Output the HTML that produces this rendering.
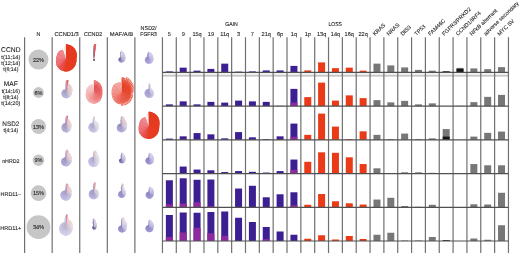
<!DOCTYPE html>
<html><head><meta charset="utf-8"><style>
html,body{margin:0;padding:0;background:#fff;width:520px;height:253px;overflow:hidden}
svg text{font-family:"Liberation Sans",sans-serif;fill:#1f1f1f;stroke:#1f1f1f;stroke-width:0.1px;text-rendering:geometricPrecision}
svg{will-change:transform;filter:blur(0.2px)}
</style></head><body>
<svg width="520" height="253" viewBox="0 0 520 253" style="position:absolute;left:0;top:0">
<rect width="520" height="253" fill="#ffffff"/>
<defs><radialGradient id="g0" gradientUnits="userSpaceOnUse" cx="94.0" cy="60.0" r="16.0"><stop offset="0" stop-color="#000" stop-opacity="0.35"/><stop offset="0.5" stop-color="#000" stop-opacity="0"/><stop offset="0.5" stop-color="#fff" stop-opacity="0"/><stop offset="1" stop-color="#fff" stop-opacity="0.15"/></radialGradient><radialGradient id="g1" gradientUnits="userSpaceOnUse" cx="121.0" cy="59.3" r="9.0"><stop offset="0" stop-color="#000" stop-opacity="0.12"/><stop offset="0.5" stop-color="#000" stop-opacity="0"/><stop offset="0.5" stop-color="#fff" stop-opacity="0"/><stop offset="1" stop-color="#fff" stop-opacity="0.2"/></radialGradient><radialGradient id="g2" gradientUnits="userSpaceOnUse" cx="148.7" cy="59.0" r="7.2"><stop offset="0" stop-color="#000" stop-opacity="0.12"/><stop offset="0.5" stop-color="#000" stop-opacity="0"/><stop offset="0.5" stop-color="#fff" stop-opacity="0"/><stop offset="1" stop-color="#fff" stop-opacity="0.2"/></radialGradient><radialGradient id="g3" gradientUnits="userSpaceOnUse" cx="66.4" cy="92.5" r="12.5"><stop offset="0" stop-color="#000" stop-opacity="0.12"/><stop offset="0.5" stop-color="#000" stop-opacity="0"/><stop offset="0.5" stop-color="#fff" stop-opacity="0"/><stop offset="1" stop-color="#fff" stop-opacity="0.2"/></radialGradient><radialGradient id="g4" gradientUnits="userSpaceOnUse" cx="93.9" cy="92.4" r="12.3"><stop offset="0" stop-color="#000" stop-opacity="0.0"/><stop offset="0.5" stop-color="#000" stop-opacity="0"/><stop offset="0.5" stop-color="#fff" stop-opacity="0"/><stop offset="1" stop-color="#fff" stop-opacity="0.35"/></radialGradient><radialGradient id="g5" gradientUnits="userSpaceOnUse" cx="121.7" cy="92.5" r="16.1"><stop offset="0" stop-color="#000" stop-opacity="0.0"/><stop offset="0.5" stop-color="#000" stop-opacity="0"/><stop offset="0.5" stop-color="#fff" stop-opacity="0"/><stop offset="1" stop-color="#fff" stop-opacity="0.3"/></radialGradient><radialGradient id="g6" gradientUnits="userSpaceOnUse" cx="149.3" cy="93.0" r="10.0"><stop offset="0" stop-color="#000" stop-opacity="0.12"/><stop offset="0.5" stop-color="#000" stop-opacity="0"/><stop offset="0.5" stop-color="#fff" stop-opacity="0"/><stop offset="1" stop-color="#fff" stop-opacity="0.2"/></radialGradient><radialGradient id="g7" gradientUnits="userSpaceOnUse" cx="66.3" cy="126.5" r="10.7"><stop offset="0" stop-color="#000" stop-opacity="0.12"/><stop offset="0.5" stop-color="#000" stop-opacity="0"/><stop offset="0.5" stop-color="#fff" stop-opacity="0"/><stop offset="1" stop-color="#fff" stop-opacity="0.2"/></radialGradient><radialGradient id="g8" gradientUnits="userSpaceOnUse" cx="93.8" cy="126.5" r="10.0"><stop offset="0" stop-color="#000" stop-opacity="0.12"/><stop offset="0.5" stop-color="#000" stop-opacity="0"/><stop offset="0.5" stop-color="#fff" stop-opacity="0"/><stop offset="1" stop-color="#fff" stop-opacity="0.2"/></radialGradient><radialGradient id="g9" gradientUnits="userSpaceOnUse" cx="121.5" cy="126.5" r="10.5"><stop offset="0" stop-color="#000" stop-opacity="0.12"/><stop offset="0.5" stop-color="#000" stop-opacity="0"/><stop offset="0.5" stop-color="#fff" stop-opacity="0"/><stop offset="1" stop-color="#fff" stop-opacity="0.2"/></radialGradient><radialGradient id="g10" gradientUnits="userSpaceOnUse" cx="66.3" cy="160.2" r="10.5"><stop offset="0" stop-color="#000" stop-opacity="0.12"/><stop offset="0.5" stop-color="#000" stop-opacity="0"/><stop offset="0.5" stop-color="#fff" stop-opacity="0"/><stop offset="1" stop-color="#fff" stop-opacity="0.2"/></radialGradient><radialGradient id="g11" gradientUnits="userSpaceOnUse" cx="94.0" cy="160.2" r="9.5"><stop offset="0" stop-color="#000" stop-opacity="0.12"/><stop offset="0.5" stop-color="#000" stop-opacity="0"/><stop offset="0.5" stop-color="#fff" stop-opacity="0"/><stop offset="1" stop-color="#fff" stop-opacity="0.2"/></radialGradient><radialGradient id="g12" gradientUnits="userSpaceOnUse" cx="121.5" cy="160.3" r="7.8"><stop offset="0" stop-color="#000" stop-opacity="0.12"/><stop offset="0.5" stop-color="#000" stop-opacity="0"/><stop offset="0.5" stop-color="#fff" stop-opacity="0"/><stop offset="1" stop-color="#fff" stop-opacity="0.2"/></radialGradient><radialGradient id="g13" gradientUnits="userSpaceOnUse" cx="149.3" cy="160.0" r="7.4"><stop offset="0" stop-color="#000" stop-opacity="0.12"/><stop offset="0.5" stop-color="#000" stop-opacity="0"/><stop offset="0.5" stop-color="#fff" stop-opacity="0"/><stop offset="1" stop-color="#fff" stop-opacity="0.2"/></radialGradient><radialGradient id="g14" gradientUnits="userSpaceOnUse" cx="66.3" cy="193.2" r="9.5"><stop offset="0" stop-color="#000" stop-opacity="0.12"/><stop offset="0.5" stop-color="#000" stop-opacity="0"/><stop offset="0.5" stop-color="#fff" stop-opacity="0"/><stop offset="1" stop-color="#fff" stop-opacity="0.2"/></radialGradient><radialGradient id="g15" gradientUnits="userSpaceOnUse" cx="94.0" cy="193.0" r="10.5"><stop offset="0" stop-color="#000" stop-opacity="0.12"/><stop offset="0.5" stop-color="#000" stop-opacity="0"/><stop offset="0.5" stop-color="#fff" stop-opacity="0"/><stop offset="1" stop-color="#fff" stop-opacity="0.2"/></radialGradient><radialGradient id="g16" gradientUnits="userSpaceOnUse" cx="121.8" cy="193.5" r="9.7"><stop offset="0" stop-color="#000" stop-opacity="0.12"/><stop offset="0.5" stop-color="#000" stop-opacity="0"/><stop offset="0.5" stop-color="#fff" stop-opacity="0"/><stop offset="1" stop-color="#fff" stop-opacity="0.2"/></radialGradient><radialGradient id="g17" gradientUnits="userSpaceOnUse" cx="149.5" cy="194.5" r="7.7"><stop offset="0" stop-color="#000" stop-opacity="0.12"/><stop offset="0.5" stop-color="#000" stop-opacity="0"/><stop offset="0.5" stop-color="#fff" stop-opacity="0"/><stop offset="1" stop-color="#fff" stop-opacity="0.2"/></radialGradient><radialGradient id="g18" gradientUnits="userSpaceOnUse" cx="66.0" cy="227.0" r="12.5"><stop offset="0" stop-color="#000" stop-opacity="0.12"/><stop offset="0.5" stop-color="#000" stop-opacity="0"/><stop offset="0.5" stop-color="#fff" stop-opacity="0"/><stop offset="1" stop-color="#fff" stop-opacity="0.2"/></radialGradient><radialGradient id="g19" gradientUnits="userSpaceOnUse" cx="93.5" cy="227.0" r="8.7"><stop offset="0" stop-color="#000" stop-opacity="0.12"/><stop offset="0.5" stop-color="#000" stop-opacity="0"/><stop offset="0.5" stop-color="#fff" stop-opacity="0"/><stop offset="1" stop-color="#fff" stop-opacity="0.2"/></radialGradient><radialGradient id="g20" gradientUnits="userSpaceOnUse" cx="122.0" cy="228.0" r="10.5"><stop offset="0" stop-color="#000" stop-opacity="0.12"/><stop offset="0.5" stop-color="#000" stop-opacity="0"/><stop offset="0.5" stop-color="#fff" stop-opacity="0"/><stop offset="1" stop-color="#fff" stop-opacity="0.2"/></radialGradient><radialGradient id="g21" gradientUnits="userSpaceOnUse" cx="149.3" cy="228.0" r="8.3"><stop offset="0" stop-color="#000" stop-opacity="0.12"/><stop offset="0.5" stop-color="#000" stop-opacity="0"/><stop offset="0.5" stop-color="#fff" stop-opacity="0"/><stop offset="1" stop-color="#fff" stop-opacity="0.2"/></radialGradient></defs>
<rect x="165.87" y="71.40" width="7.0" height="1.00" fill="#3d1f94"/>
<rect x="179.71" y="67.65" width="7.0" height="4.75" fill="#3d1f94"/>
<rect x="193.55" y="70.65" width="7.0" height="1.75" fill="#3d1f94"/>
<rect x="207.39" y="68.90" width="7.0" height="3.50" fill="#3d1f94"/>
<rect x="221.23" y="63.65" width="7.0" height="8.75" fill="#3d1f94"/>
<rect x="235.07" y="71.65" width="7.0" height="0.75" fill="#3d1f94"/>
<rect x="248.91" y="71.40" width="7.0" height="1.00" fill="#3d1f94"/>
<rect x="262.75" y="70.40" width="7.0" height="2.00" fill="#3d1f94"/>
<rect x="276.59" y="70.40" width="7.0" height="2.00" fill="#3d1f94"/>
<rect x="290.43" y="65.90" width="7.0" height="6.50" fill="#3d1f94"/>
<rect x="304.27" y="70.40" width="7.0" height="2.00" fill="#ea3a17"/>
<rect x="318.11" y="62.40" width="7.0" height="10.00" fill="#ea3a17"/>
<rect x="331.95" y="68.15" width="7.0" height="4.25" fill="#ea3a17"/>
<rect x="345.79" y="67.65" width="7.0" height="4.75" fill="#ea3a17"/>
<rect x="359.63" y="70.65" width="7.0" height="1.75" fill="#ea3a17"/>
<rect x="373.47" y="63.65" width="7.0" height="8.75" fill="#777777"/>
<rect x="387.31" y="65.40" width="7.0" height="7.00" fill="#777777"/>
<rect x="401.15" y="67.40" width="7.0" height="5.00" fill="#777777"/>
<rect x="414.99" y="69.90" width="7.0" height="2.50" fill="#777777"/>
<rect x="428.83" y="70.65" width="7.0" height="1.75" fill="#777777"/>
<rect x="442.67" y="71.40" width="7.0" height="1.00" fill="#777777"/>
<rect x="442.67" y="71.40" width="7.0" height="1.00" fill="#151515"/>
<rect x="456.51" y="67.90" width="7.0" height="4.50" fill="#777777"/>
<rect x="456.51" y="68.80" width="7.0" height="3.60" fill="#151515"/>
<rect x="470.35" y="68.40" width="7.0" height="4.00" fill="#777777"/>
<rect x="484.19" y="69.15" width="7.0" height="3.25" fill="#777777"/>
<rect x="498.03" y="67.15" width="7.0" height="5.25" fill="#777777"/>
<rect x="165.87" y="104.37" width="7.0" height="1.75" fill="#3d1f94"/>
<rect x="179.71" y="101.37" width="7.0" height="4.75" fill="#3d1f94"/>
<rect x="193.55" y="104.37" width="7.0" height="1.75" fill="#3d1f94"/>
<rect x="207.39" y="101.87" width="7.0" height="4.25" fill="#3d1f94"/>
<rect x="221.23" y="102.62" width="7.0" height="3.50" fill="#3d1f94"/>
<rect x="235.07" y="100.62" width="7.0" height="5.50" fill="#3d1f94"/>
<rect x="248.91" y="101.37" width="7.0" height="4.75" fill="#3d1f94"/>
<rect x="262.75" y="101.87" width="7.0" height="4.25" fill="#3d1f94"/>
<rect x="276.59" y="105.87" width="7.0" height="0.25" fill="#3d1f94"/>
<rect x="290.43" y="88.87" width="7.0" height="17.25" fill="#3d1f94"/>
<rect x="290.43" y="102.62" width="7.0" height="3.50" fill="#8f2a9e"/>
<rect x="304.27" y="97.12" width="7.0" height="9.00" fill="#ea3a17"/>
<rect x="318.11" y="82.62" width="7.0" height="23.50" fill="#ea3a17"/>
<rect x="331.95" y="100.62" width="7.0" height="5.50" fill="#ea3a17"/>
<rect x="345.79" y="95.37" width="7.0" height="10.75" fill="#ea3a17"/>
<rect x="359.63" y="98.12" width="7.0" height="8.00" fill="#ea3a17"/>
<rect x="373.47" y="100.12" width="7.0" height="6.00" fill="#777777"/>
<rect x="387.31" y="102.37" width="7.0" height="3.75" fill="#777777"/>
<rect x="401.15" y="100.87" width="7.0" height="5.25" fill="#777777"/>
<rect x="414.99" y="104.37" width="7.0" height="1.75" fill="#777777"/>
<rect x="428.83" y="103.37" width="7.0" height="2.75" fill="#777777"/>
<rect x="456.51" y="105.87" width="7.0" height="0.25" fill="#777777"/>
<rect x="470.35" y="102.12" width="7.0" height="4.00" fill="#777777"/>
<rect x="484.19" y="96.87" width="7.0" height="9.25" fill="#777777"/>
<rect x="498.03" y="94.87" width="7.0" height="11.25" fill="#777777"/>
<rect x="165.87" y="138.59" width="7.0" height="1.25" fill="#3d1f94"/>
<rect x="179.71" y="136.34" width="7.0" height="3.50" fill="#3d1f94"/>
<rect x="193.55" y="133.09" width="7.0" height="6.75" fill="#3d1f94"/>
<rect x="207.39" y="134.34" width="7.0" height="5.50" fill="#3d1f94"/>
<rect x="221.23" y="138.34" width="7.0" height="1.50" fill="#3d1f94"/>
<rect x="235.07" y="132.09" width="7.0" height="7.75" fill="#3d1f94"/>
<rect x="248.91" y="137.34" width="7.0" height="2.50" fill="#3d1f94"/>
<rect x="262.75" y="139.09" width="7.0" height="0.75" fill="#3d1f94"/>
<rect x="276.59" y="136.34" width="7.0" height="3.50" fill="#3d1f94"/>
<rect x="290.43" y="123.59" width="7.0" height="16.25" fill="#3d1f94"/>
<rect x="290.43" y="136.84" width="7.0" height="3.00" fill="#8f2a9e"/>
<rect x="304.27" y="134.84" width="7.0" height="5.00" fill="#ea3a17"/>
<rect x="318.11" y="113.59" width="7.0" height="26.25" fill="#ea3a17"/>
<rect x="331.95" y="126.59" width="7.0" height="13.25" fill="#ea3a17"/>
<rect x="345.79" y="139.09" width="7.0" height="0.75" fill="#ea3a17"/>
<rect x="359.63" y="131.34" width="7.0" height="8.50" fill="#ea3a17"/>
<rect x="373.47" y="134.84" width="7.0" height="5.00" fill="#777777"/>
<rect x="387.31" y="139.09" width="7.0" height="0.75" fill="#777777"/>
<rect x="401.15" y="133.59" width="7.0" height="6.25" fill="#777777"/>
<rect x="414.99" y="139.09" width="7.0" height="0.75" fill="#777777"/>
<rect x="428.83" y="138.34" width="7.0" height="1.50" fill="#777777"/>
<rect x="442.67" y="129.09" width="7.0" height="10.75" fill="#777777"/>
<rect x="442.67" y="136.59" width="7.0" height="3.25" fill="#151515"/>
<rect x="470.35" y="136.59" width="7.0" height="3.25" fill="#777777"/>
<rect x="484.19" y="132.84" width="7.0" height="7.00" fill="#777777"/>
<rect x="498.03" y="131.59" width="7.0" height="8.25" fill="#777777"/>
<rect x="179.71" y="166.56" width="7.0" height="7.00" fill="#3d1f94"/>
<rect x="193.55" y="169.56" width="7.0" height="4.00" fill="#3d1f94"/>
<rect x="207.39" y="170.31" width="7.0" height="3.25" fill="#3d1f94"/>
<rect x="221.23" y="172.06" width="7.0" height="1.50" fill="#3d1f94"/>
<rect x="235.07" y="171.06" width="7.0" height="2.50" fill="#3d1f94"/>
<rect x="248.91" y="171.81" width="7.0" height="1.75" fill="#3d1f94"/>
<rect x="262.75" y="172.56" width="7.0" height="1.00" fill="#3d1f94"/>
<rect x="276.59" y="171.06" width="7.0" height="2.50" fill="#3d1f94"/>
<rect x="290.43" y="159.56" width="7.0" height="14.00" fill="#3d1f94"/>
<rect x="290.43" y="169.81" width="7.0" height="3.75" fill="#8f2a9e"/>
<rect x="304.27" y="161.81" width="7.0" height="11.75" fill="#ea3a17"/>
<rect x="318.11" y="152.31" width="7.0" height="21.25" fill="#ea3a17"/>
<rect x="331.95" y="152.81" width="7.0" height="20.75" fill="#ea3a17"/>
<rect x="345.79" y="157.31" width="7.0" height="16.25" fill="#ea3a17"/>
<rect x="359.63" y="164.06" width="7.0" height="9.50" fill="#ea3a17"/>
<rect x="373.47" y="168.31" width="7.0" height="5.25" fill="#777777"/>
<rect x="387.31" y="173.06" width="7.0" height="0.50" fill="#777777"/>
<rect x="401.15" y="172.31" width="7.0" height="1.25" fill="#777777"/>
<rect x="414.99" y="172.31" width="7.0" height="1.25" fill="#777777"/>
<rect x="428.83" y="172.81" width="7.0" height="0.75" fill="#777777"/>
<rect x="442.67" y="173.06" width="7.0" height="0.50" fill="#777777"/>
<rect x="456.51" y="173.31" width="7.0" height="0.25" fill="#777777"/>
<rect x="470.35" y="164.06" width="7.0" height="9.50" fill="#777777"/>
<rect x="484.19" y="165.31" width="7.0" height="8.25" fill="#777777"/>
<rect x="498.03" y="165.31" width="7.0" height="8.25" fill="#777777"/>
<rect x="165.87" y="180.28" width="7.0" height="27.00" fill="#3d1f94"/>
<rect x="165.87" y="204.28" width="7.0" height="3.00" fill="#8f2a9e"/>
<rect x="179.71" y="178.28" width="7.0" height="29.00" fill="#3d1f94"/>
<rect x="179.71" y="203.53" width="7.0" height="3.75" fill="#8f2a9e"/>
<rect x="193.55" y="179.78" width="7.0" height="27.50" fill="#3d1f94"/>
<rect x="193.55" y="202.28" width="7.0" height="5.00" fill="#8f2a9e"/>
<rect x="207.39" y="179.53" width="7.0" height="27.75" fill="#3d1f94"/>
<rect x="207.39" y="206.28" width="7.0" height="1.00" fill="#8f2a9e"/>
<rect x="235.07" y="188.53" width="7.0" height="18.75" fill="#3d1f94"/>
<rect x="248.91" y="185.78" width="7.0" height="21.50" fill="#3d1f94"/>
<rect x="262.75" y="197.28" width="7.0" height="10.00" fill="#3d1f94"/>
<rect x="276.59" y="194.28" width="7.0" height="13.00" fill="#3d1f94"/>
<rect x="290.43" y="192.28" width="7.0" height="15.00" fill="#3d1f94"/>
<rect x="290.43" y="205.28" width="7.0" height="2.00" fill="#8f2a9e"/>
<rect x="304.27" y="204.78" width="7.0" height="2.50" fill="#ea3a17"/>
<rect x="318.11" y="194.03" width="7.0" height="13.25" fill="#ea3a17"/>
<rect x="331.95" y="201.28" width="7.0" height="6.00" fill="#ea3a17"/>
<rect x="345.79" y="203.28" width="7.0" height="4.00" fill="#ea3a17"/>
<rect x="359.63" y="204.53" width="7.0" height="2.75" fill="#ea3a17"/>
<rect x="373.47" y="199.53" width="7.0" height="7.75" fill="#777777"/>
<rect x="387.31" y="197.78" width="7.0" height="9.50" fill="#777777"/>
<rect x="401.15" y="206.03" width="7.0" height="1.25" fill="#777777"/>
<rect x="414.99" y="206.78" width="7.0" height="0.50" fill="#777777"/>
<rect x="428.83" y="204.78" width="7.0" height="2.50" fill="#777777"/>
<rect x="470.35" y="204.28" width="7.0" height="3.00" fill="#777777"/>
<rect x="484.19" y="204.53" width="7.0" height="2.75" fill="#777777"/>
<rect x="498.03" y="192.78" width="7.0" height="14.50" fill="#777777"/>
<rect x="165.87" y="215.00" width="7.0" height="26.00" fill="#3d1f94"/>
<rect x="165.87" y="237.00" width="7.0" height="4.00" fill="#8f2a9e"/>
<rect x="179.71" y="212.50" width="7.0" height="28.50" fill="#3d1f94"/>
<rect x="179.71" y="232.50" width="7.0" height="8.50" fill="#8f2a9e"/>
<rect x="193.55" y="212.75" width="7.0" height="28.25" fill="#3d1f94"/>
<rect x="193.55" y="227.75" width="7.0" height="13.25" fill="#8f2a9e"/>
<rect x="207.39" y="212.00" width="7.0" height="29.00" fill="#3d1f94"/>
<rect x="207.39" y="233.25" width="7.0" height="7.75" fill="#8f2a9e"/>
<rect x="221.23" y="211.50" width="7.0" height="29.50" fill="#3d1f94"/>
<rect x="221.23" y="235.75" width="7.0" height="5.25" fill="#8f2a9e"/>
<rect x="235.07" y="217.75" width="7.0" height="23.25" fill="#3d1f94"/>
<rect x="248.91" y="222.00" width="7.0" height="19.00" fill="#3d1f94"/>
<rect x="262.75" y="227.00" width="7.0" height="14.00" fill="#3d1f94"/>
<rect x="262.75" y="239.00" width="7.0" height="2.00" fill="#8f2a9e"/>
<rect x="276.59" y="231.50" width="7.0" height="9.50" fill="#3d1f94"/>
<rect x="290.43" y="234.75" width="7.0" height="6.25" fill="#3d1f94"/>
<rect x="304.27" y="238.75" width="7.0" height="2.25" fill="#ea3a17"/>
<rect x="318.11" y="235.25" width="7.0" height="5.75" fill="#ea3a17"/>
<rect x="331.95" y="239.50" width="7.0" height="1.50" fill="#ea3a17"/>
<rect x="345.79" y="236.00" width="7.0" height="5.00" fill="#ea3a17"/>
<rect x="359.63" y="239.00" width="7.0" height="2.00" fill="#ea3a17"/>
<rect x="373.47" y="234.75" width="7.0" height="6.25" fill="#777777"/>
<rect x="387.31" y="232.75" width="7.0" height="8.25" fill="#777777"/>
<rect x="401.15" y="240.50" width="7.0" height="0.50" fill="#777777"/>
<rect x="414.99" y="240.50" width="7.0" height="0.50" fill="#777777"/>
<rect x="428.83" y="237.00" width="7.0" height="4.00" fill="#777777"/>
<rect x="442.67" y="240.25" width="7.0" height="0.75" fill="#777777"/>
<rect x="442.67" y="240.25" width="7.0" height="0.75" fill="#151515"/>
<rect x="470.35" y="238.50" width="7.0" height="2.50" fill="#777777"/>
<rect x="484.19" y="239.75" width="7.0" height="1.25" fill="#777777"/>
<rect x="498.03" y="225.25" width="7.0" height="15.75" fill="#777777"/>
<rect x="162.45" y="73.2" width="346.00" height="2.4" fill="#eeeeee"/>
<rect x="162.45" y="75.4" width="346.00" height="1.0" fill="#a8a8a8"/>
<line x1="24.60" y1="37.2" x2="24.60" y2="253" stroke="#707070" stroke-width="1.2"/>
<line x1="52.17" y1="37.2" x2="52.17" y2="253" stroke="#707070" stroke-width="1.2"/>
<line x1="79.74" y1="37.2" x2="79.74" y2="253" stroke="#707070" stroke-width="1.2"/>
<line x1="107.31" y1="37.2" x2="107.31" y2="253" stroke="#707070" stroke-width="1.2"/>
<line x1="134.88" y1="37.2" x2="134.88" y2="253" stroke="#707070" stroke-width="1.2"/>
<line x1="162.45" y1="37.2" x2="162.45" y2="253" stroke="#707070" stroke-width="1.2"/>
<line x1="176.29" y1="37.2" x2="176.29" y2="253" stroke="#707070" stroke-width="1.2"/>
<line x1="190.13" y1="37.2" x2="190.13" y2="253" stroke="#707070" stroke-width="1.2"/>
<line x1="203.97" y1="37.2" x2="203.97" y2="253" stroke="#707070" stroke-width="1.2"/>
<line x1="217.81" y1="37.2" x2="217.81" y2="253" stroke="#707070" stroke-width="1.2"/>
<line x1="231.65" y1="37.2" x2="231.65" y2="253" stroke="#707070" stroke-width="1.2"/>
<line x1="245.49" y1="37.2" x2="245.49" y2="253" stroke="#707070" stroke-width="1.2"/>
<line x1="259.33" y1="37.2" x2="259.33" y2="253" stroke="#707070" stroke-width="1.2"/>
<line x1="273.17" y1="37.2" x2="273.17" y2="253" stroke="#707070" stroke-width="1.2"/>
<line x1="287.01" y1="37.2" x2="287.01" y2="253" stroke="#707070" stroke-width="1.2"/>
<line x1="300.85" y1="37.2" x2="300.85" y2="253" stroke="#707070" stroke-width="1.2"/>
<line x1="314.69" y1="37.2" x2="314.69" y2="253" stroke="#707070" stroke-width="1.2"/>
<line x1="328.53" y1="37.2" x2="328.53" y2="253" stroke="#707070" stroke-width="1.2"/>
<line x1="342.37" y1="37.2" x2="342.37" y2="253" stroke="#707070" stroke-width="1.2"/>
<line x1="356.21" y1="37.2" x2="356.21" y2="253" stroke="#707070" stroke-width="1.2"/>
<line x1="370.05" y1="37.2" x2="370.05" y2="253" stroke="#707070" stroke-width="1.2"/>
<line x1="383.89" y1="37.2" x2="383.89" y2="253" stroke="#707070" stroke-width="1.2"/>
<line x1="397.73" y1="37.2" x2="397.73" y2="253" stroke="#707070" stroke-width="1.2"/>
<line x1="411.57" y1="37.2" x2="411.57" y2="253" stroke="#707070" stroke-width="1.2"/>
<line x1="425.41" y1="37.2" x2="425.41" y2="253" stroke="#707070" stroke-width="1.2"/>
<line x1="439.25" y1="37.2" x2="439.25" y2="253" stroke="#707070" stroke-width="1.2"/>
<line x1="453.09" y1="37.2" x2="453.09" y2="253" stroke="#707070" stroke-width="1.2"/>
<line x1="466.93" y1="37.2" x2="466.93" y2="253" stroke="#707070" stroke-width="1.2"/>
<line x1="480.77" y1="37.2" x2="480.77" y2="253" stroke="#707070" stroke-width="1.2"/>
<line x1="494.61" y1="37.2" x2="494.61" y2="253" stroke="#707070" stroke-width="1.2"/>
<line x1="508.45" y1="37.2" x2="508.45" y2="253" stroke="#707070" stroke-width="1.2"/>
<line x1="162.45" y1="72.40" x2="508.45" y2="72.40" stroke="#505050" stroke-width="1.2"/>
<line x1="162.45" y1="106.12" x2="508.45" y2="106.12" stroke="#505050" stroke-width="1.2"/>
<line x1="162.45" y1="139.84" x2="508.45" y2="139.84" stroke="#505050" stroke-width="1.2"/>
<line x1="162.45" y1="173.56" x2="508.45" y2="173.56" stroke="#505050" stroke-width="1.2"/>
<line x1="162.45" y1="207.28" x2="508.45" y2="207.28" stroke="#505050" stroke-width="1.2"/>
<line x1="162.45" y1="241.00" x2="508.45" y2="241.00" stroke="#505050" stroke-width="1.2"/>
<circle cx="38.5" cy="59.6" r="10.0" fill="#c6c6c6"/>
<text x="38.5" y="61.60" text-anchor="middle" font-size="5.6" fill="#333">22%</text>
<circle cx="38.5" cy="92.5" r="5.4" fill="#c6c6c6"/>
<text x="38.5" y="94.50" text-anchor="middle" font-size="5.6" fill="#333">6%</text>
<circle cx="38.5" cy="126.5" r="7.5" fill="#c6c6c6"/>
<text x="38.5" y="128.50" text-anchor="middle" font-size="5.6" fill="#333">13%</text>
<circle cx="38.5" cy="160.2" r="5.75" fill="#c6c6c6"/>
<text x="38.5" y="162.20" text-anchor="middle" font-size="5.6" fill="#333">9%</text>
<circle cx="38.5" cy="193.2" r="7.85" fill="#c6c6c6"/>
<text x="38.5" y="195.20" text-anchor="middle" font-size="5.6" fill="#333">15%</text>
<circle cx="38.5" cy="227.2" r="11.85" fill="#c6c6c6"/>
<text x="38.5" y="229.20" text-anchor="middle" font-size="5.6" fill="#333">34%</text>
<text x="38.30" y="36.10" font-size="5.6" text-anchor="middle" textLength="3.8" lengthAdjust="spacingAndGlyphs" >N</text>
<text x="66.60" y="36.10" font-size="5.6" text-anchor="middle" textLength="24.4" lengthAdjust="spacingAndGlyphs" >CCND1/3</text>
<text x="93.10" y="36.10" font-size="5.6" text-anchor="middle" textLength="18.3" lengthAdjust="spacingAndGlyphs" >CCND2</text>
<text x="121.50" y="36.10" font-size="5.6" text-anchor="middle" textLength="23.3" lengthAdjust="spacingAndGlyphs" >MAF/A/B</text>
<text x="148.60" y="29.50" font-size="5.6" text-anchor="middle" textLength="16.0" lengthAdjust="spacingAndGlyphs" >NSD2/</text>
<text x="148.60" y="36.10" font-size="5.6" text-anchor="middle" textLength="16.5" lengthAdjust="spacingAndGlyphs" >FGFR3</text>
<text x="231.50" y="25.80" font-size="5.6" text-anchor="middle" textLength="12.6" lengthAdjust="spacingAndGlyphs" >GAIN</text>
<text x="335.20" y="25.80" font-size="5.6" text-anchor="middle" textLength="13.5" lengthAdjust="spacingAndGlyphs" >LOSS</text>
<text x="169.37" y="36.10" font-size="5.6" text-anchor="middle" >5</text>
<text x="183.21" y="36.10" font-size="5.6" text-anchor="middle" >9</text>
<text x="197.05" y="36.10" font-size="5.6" text-anchor="middle" >15q</text>
<text x="210.89" y="36.10" font-size="5.6" text-anchor="middle" >19</text>
<text x="224.73" y="36.10" font-size="5.6" text-anchor="middle" >11q</text>
<text x="238.57" y="36.10" font-size="5.6" text-anchor="middle" >3</text>
<text x="252.41" y="36.10" font-size="5.6" text-anchor="middle" >7</text>
<text x="266.25" y="36.10" font-size="5.6" text-anchor="middle" >21q</text>
<text x="280.09" y="36.10" font-size="5.6" text-anchor="middle" >6p</text>
<text x="293.93" y="36.10" font-size="5.6" text-anchor="middle" >1q</text>
<text x="307.77" y="36.10" font-size="5.6" text-anchor="middle" >1p</text>
<text x="321.61" y="36.10" font-size="5.6" text-anchor="middle" >13q</text>
<text x="335.45" y="36.10" font-size="5.6" text-anchor="middle" >14q</text>
<text x="349.29" y="36.10" font-size="5.6" text-anchor="middle" >16q</text>
<text x="363.13" y="36.10" font-size="5.6" text-anchor="middle" >22q</text>
<text x="374.95" y="36.00" font-size="5.5" transform="rotate(-44 374.95 36.00)">KRAS</text>
<text x="388.79" y="36.00" font-size="5.5" transform="rotate(-44 388.79 36.00)">NRAS</text>
<text x="402.63" y="36.00" font-size="5.5" transform="rotate(-44 402.63 36.00)">DIS3</text>
<text x="416.47" y="36.00" font-size="5.5" transform="rotate(-44 416.47 36.00)">TP53</text>
<text x="430.31" y="36.00" font-size="5.5" transform="rotate(-44 430.31 36.00)">FAM46C</text>
<text x="444.15" y="36.00" font-size="5.5" transform="rotate(-44 444.15 36.00)">FGFR3/PRKD2</text>
<text x="457.99" y="36.00" font-size="5.5" transform="rotate(-44 457.99 36.00)">CCND1/IRF4</text>
<text x="471.83" y="36.00" font-size="5.5" transform="rotate(-44 471.83 36.00)">NFκB aberrant</text>
<text x="485.67" y="36.00" font-size="5.5" transform="rotate(-44 485.67 36.00)">adverse secondary</text>
<text x="499.51" y="36.00" font-size="5.5" transform="rotate(-44 499.51 36.00)">MYC SV</text>
<text x="10.80" y="52.00" font-size="7.0" text-anchor="middle" textLength="19.4" lengthAdjust="spacingAndGlyphs" >CCND</text>
<text x="10.80" y="58.70" font-size="5.5" text-anchor="middle" textLength="18.9" lengthAdjust="spacingAndGlyphs" >t(11;14)</text>
<text x="10.80" y="64.90" font-size="5.5" text-anchor="middle" textLength="18.9" lengthAdjust="spacingAndGlyphs" >t(12;14)</text>
<text x="10.80" y="71.00" font-size="5.5" text-anchor="middle" textLength="15.2" lengthAdjust="spacingAndGlyphs" >t(6;14)</text>
<text x="10.80" y="86.40" font-size="6.7" text-anchor="middle" textLength="13.9" lengthAdjust="spacingAndGlyphs" >MAF</text>
<text x="10.80" y="93.00" font-size="5.5" text-anchor="middle" textLength="18.3" lengthAdjust="spacingAndGlyphs" >t(14;16)</text>
<text x="10.80" y="99.30" font-size="5.5" text-anchor="middle" textLength="15.2" lengthAdjust="spacingAndGlyphs" >t(8;14)</text>
<text x="10.80" y="105.30" font-size="5.5" text-anchor="middle" textLength="19.1" lengthAdjust="spacingAndGlyphs" >t(14;20)</text>
<text x="10.80" y="126.30" font-size="6.4" text-anchor="middle" textLength="16.9" lengthAdjust="spacingAndGlyphs" >NSD2</text>
<text x="10.80" y="132.20" font-size="5.5" text-anchor="middle" textLength="14.8" lengthAdjust="spacingAndGlyphs" >t(4;14)</text>
<text x="10.80" y="162.60" font-size="5.4" text-anchor="middle" textLength="17.3" lengthAdjust="spacingAndGlyphs" >nHRD2</text>
<text x="10.80" y="196.00" font-size="5.4" text-anchor="middle" textLength="20.5" lengthAdjust="spacingAndGlyphs" >HRD11–</text>
<text x="10.80" y="230.00" font-size="5.4" text-anchor="middle" textLength="20.9" lengthAdjust="spacingAndGlyphs" >HRD11+</text>
<path d="M65.9,59.0L65.9,44.2A14.8,14.8 0 0 1 67.2,44.3L67.2,44.4A14.7,14.7 0 0 1 68.4,44.6L68.4,44.7A14.6,14.6 0 0 1 69.7,44.9L69.6,45.1A14.4,14.4 0 0 1 70.8,45.5L70.8,45.6A14.2,14.2 0 0 1 71.9,46.1L71.9,46.2A14.1,14.1 0 0 1 72.9,46.8L72.8,47.0A13.9,13.9 0 0 1 73.9,47.6L73.7,47.8A13.7,13.7 0 0 1 74.7,48.5L74.5,48.7A13.4,13.4 0 0 1 75.4,49.5L75.2,49.7A13.1,13.1 0 0 1 76.0,50.6L75.7,50.8A12.8,12.8 0 0 1 76.4,51.7L76.1,51.8A12.5,12.5 0 0 1 76.7,52.8L76.4,52.9A12.1,12.1 0 0 1 76.9,53.9L76.6,54.0A11.8,11.8 0 0 1 77.0,55.0L76.7,55.1A11.5,11.5 0 0 1 77.0,56.0L76.7,56.1A11.2,11.2 0 0 1 76.9,57.1L76.7,57.1A10.9,10.9 0 0 1 76.8,58.0L76.6,58.1A10.7,10.7 0 0 1 76.6,59.0L76.5,59.0A10.6,10.6 0 0 1 76.5,59.9L76.6,59.9A10.7,10.7 0 0 1 76.4,60.9L76.5,60.9A10.8,10.8 0 0 1 76.3,61.8L76.4,61.8A10.9,10.9 0 0 1 76.1,62.7L76.2,62.8A11.0,11.0 0 0 1 75.9,63.6L76.0,63.7A11.1,11.1 0 0 1 75.5,64.6L75.7,64.6A11.3,11.3 0 0 1 75.1,65.5L75.3,65.6A11.4,11.4 0 0 1 74.7,66.4L74.8,66.5A11.6,11.6 0 0 1 74.1,67.2L74.2,67.3A11.8,11.8 0 0 1 73.5,68.0L73.5,68.1A11.9,11.9 0 0 1 72.7,68.7L72.8,68.9A12.0,12.0 0 0 1 71.9,69.4L72.0,69.5A12.2,12.2 0 0 1 71.0,70.0L71.1,70.1A12.2,12.2 0 0 1 70.1,70.5L70.1,70.6A12.3,12.3 0 0 1 69.1,70.9L69.1,71.0A12.4,12.4 0 0 1 68.1,71.2L68.1,71.3A12.4,12.4 0 0 1 67.0,71.4L67.0,71.4A12.5,12.5 0 0 1 65.9,71.5L65.9,71.5A12.5,12.5 0 0 1 64.8,71.4L64.8,71.4A12.4,12.4 0 0 1 63.7,71.2L63.8,71.1A12.3,12.3 0 0 1 62.7,70.9L62.7,70.8A12.2,12.2 0 0 1 61.7,70.5L61.7,70.4A12.2,12.2 0 0 1 60.8,70.0L60.8,69.9A12.1,12.1 0 0 1 59.9,69.4L59.9,69.3A11.9,11.9 0 0 1 59.1,68.8L59.1,68.7A11.8,11.8 0 0 1 58.3,68.0L58.4,67.9A11.7,11.7 0 0 1 57.7,67.2L57.8,67.1A11.5,11.5 0 0 1 57.1,66.4L57.2,66.3A11.3,11.3 0 0 1 56.6,65.5L56.8,65.4A11.1,11.1 0 0 1 56.3,64.6L56.5,64.4A10.9,10.9 0 0 1 56.1,63.6L56.3,63.5A10.6,10.6 0 0 1 55.9,62.6L56.2,62.5A10.3,10.3 0 0 1 55.9,61.7L56.1,61.6A10.1,10.1 0 0 1 55.9,60.8L56.1,60.7A10.0,10.0 0 0 1 55.9,59.9L56.1,59.9A9.9,9.9 0 0 1 56.0,59.0L56.1,59.0A9.8,9.8 0 0 1 56.2,58.1L56.2,58.2A9.8,9.8 0 0 1 56.3,57.3L56.3,57.3A9.7,9.7 0 0 1 56.5,56.5L56.5,56.5A9.7,9.7 0 0 1 56.8,55.7L56.7,55.7A9.8,9.8 0 0 1 57.1,54.9L57.0,54.9A9.8,9.8 0 0 1 57.4,54.1L57.4,54.1A9.9,9.9 0 0 1 57.8,53.3L57.7,53.3A10.0,10.0 0 0 1 58.2,52.6L58.1,52.5A10.1,10.1 0 0 1 58.7,51.8L58.7,51.8A10.2,10.2 0 0 1 59.4,51.2L59.4,51.3A10.1,10.1 0 0 1 60.1,50.7L60.1,50.8A10.0,10.0 0 0 1 60.9,50.3L60.9,50.4A9.9,9.9 0 0 1 61.7,50.0L61.8,50.2A9.8,9.8 0 0 1 62.6,49.8L62.6,49.9A9.6,9.6 0 0 1 62.9,49.8Z" fill="#e74e3e"/>
<path d="M65.9,59.0L65.9,44.2A14.8,14.8 0 0 1 67.2,44.3L67.2,44.4A14.7,14.7 0 0 1 68.4,44.6L68.4,44.7A14.6,14.6 0 0 1 69.7,44.9L69.6,45.1A14.4,14.4 0 0 1 70.8,45.5L70.8,45.6A14.2,14.2 0 0 1 71.9,46.1Z" fill="#e4381c"/>
<path d="M65.9,59.0L71.9,46.2A14.1,14.1 0 0 1 72.9,46.8L72.8,47.0A13.9,13.9 0 0 1 73.9,47.6L73.7,47.8A13.7,13.7 0 0 1 74.7,48.5L74.5,48.7A13.4,13.4 0 0 1 75.4,49.5L75.2,49.7A13.1,13.1 0 0 1 76.0,50.6L75.7,50.8A12.8,12.8 0 0 1 76.4,51.7L76.1,51.8A12.5,12.5 0 0 1 76.7,52.8L76.4,52.9A12.1,12.1 0 0 1 76.9,53.9Z" fill="#e4391e"/>
<path d="M65.9,59.0L76.6,54.0A11.8,11.8 0 0 1 77.0,55.0L76.7,55.1A11.5,11.5 0 0 1 77.0,56.0L76.7,56.1A11.2,11.2 0 0 1 76.9,57.1L76.7,57.1A10.9,10.9 0 0 1 76.8,58.0L76.6,58.1A10.7,10.7 0 0 1 76.6,59.0L76.5,59.0A10.6,10.6 0 0 1 76.5,59.9L76.6,59.9A10.7,10.7 0 0 1 76.4,60.9L76.5,60.9A10.8,10.8 0 0 1 76.3,61.8L76.4,61.8A10.9,10.9 0 0 1 76.1,62.7L76.2,62.8A11.0,11.0 0 0 1 75.9,63.6Z" fill="#e53a1f"/>
<path d="M65.9,59.0L76.0,63.7A11.1,11.1 0 0 1 75.5,64.6L75.7,64.6A11.3,11.3 0 0 1 75.1,65.5L75.3,65.6A11.4,11.4 0 0 1 74.7,66.4L74.8,66.5A11.6,11.6 0 0 1 74.1,67.2L74.2,67.3A11.8,11.8 0 0 1 73.5,68.0L73.5,68.1A11.9,11.9 0 0 1 72.7,68.7L72.8,68.9A12.0,12.0 0 0 1 71.9,69.4L72.0,69.5A12.2,12.2 0 0 1 71.0,70.0Z" fill="#e63b20"/>
<path d="M65.9,59.0L71.1,70.1A12.2,12.2 0 0 1 70.1,70.5L70.1,70.6A12.3,12.3 0 0 1 69.1,70.9L69.1,71.0A12.4,12.4 0 0 1 68.1,71.2L68.1,71.3A12.4,12.4 0 0 1 67.0,71.4L67.0,71.4A12.5,12.5 0 0 1 65.9,71.5L65.9,71.5A12.5,12.5 0 0 1 64.8,71.4Z" fill="#e63c22"/>
<path d="M65.9,59.0L64.8,71.4A12.4,12.4 0 0 1 63.7,71.2Z" fill="#e6402c"/>
<path d="M65.9,59.0L63.8,71.1A12.3,12.3 0 0 1 62.7,70.9Z" fill="#e64536"/>
<path d="M65.9,59.0L62.7,70.8A12.2,12.2 0 0 1 61.7,70.5Z" fill="#e74a40"/>
<path d="M65.9,59.0L61.7,70.4A12.2,12.2 0 0 1 60.8,70.0L60.8,69.9A12.1,12.1 0 0 1 59.9,69.4Z" fill="#e74e4a"/>
<path d="M65.9,59.0L59.9,69.3A11.9,11.9 0 0 1 59.1,68.8L59.1,68.7A11.8,11.8 0 0 1 58.3,68.0Z" fill="#e85656"/>
<path d="M65.9,59.0L58.4,67.9A11.7,11.7 0 0 1 57.7,67.2Z" fill="#ea5f61"/>
<path d="M65.9,59.0L57.8,67.1A11.5,11.5 0 0 1 57.1,66.4L57.2,66.3A11.3,11.3 0 0 1 56.6,65.5Z" fill="#eb686c"/>
<path d="M65.9,59.0L56.8,65.4A11.1,11.1 0 0 1 56.3,64.6L56.5,64.4A10.9,10.9 0 0 1 56.1,63.6L56.3,63.5A10.6,10.6 0 0 1 55.9,62.6L56.2,62.5A10.3,10.3 0 0 1 55.9,61.7Z" fill="#ec7078"/>
<path d="M65.9,59.0L56.1,61.6A10.1,10.1 0 0 1 55.9,60.8L56.1,60.7A10.0,10.0 0 0 1 55.9,59.9L56.1,59.9A9.9,9.9 0 0 1 56.0,59.0L56.1,59.0A9.8,9.8 0 0 1 56.2,58.1Z" fill="#ed7780"/>
<path d="M65.9,59.0L56.2,58.2A9.8,9.8 0 0 1 56.3,57.3L56.3,57.3A9.7,9.7 0 0 1 56.5,56.5L56.5,56.5A9.7,9.7 0 0 1 56.8,55.7L56.7,55.7A9.8,9.8 0 0 1 57.1,54.9L57.0,54.9A9.8,9.8 0 0 1 57.4,54.1L57.4,54.1A9.9,9.9 0 0 1 57.8,53.3Z" fill="#ee7e87"/>
<path d="M65.9,59.0L57.7,53.3A10.0,10.0 0 0 1 58.2,52.6L58.1,52.5A10.1,10.1 0 0 1 58.7,51.8L58.7,51.8A10.2,10.2 0 0 1 59.4,51.2L59.4,51.3A10.1,10.1 0 0 1 60.1,50.7Z" fill="#ef858e"/>
<path d="M65.9,59.0L60.1,50.8A10.0,10.0 0 0 1 60.9,50.3L60.9,50.4A9.9,9.9 0 0 1 61.7,50.0L61.8,50.2A9.8,9.8 0 0 1 62.6,49.8L62.6,49.9A9.6,9.6 0 0 1 62.9,49.8Z" fill="#f08c96"/>
<path d="M65.90,59.00 L63.51,46.73 A12.50,12.50 0 0 1 65.46,46.51 Z" fill="#f7e9dc" fill-opacity="1.0"/>
<path d="M94.0,60.0L94.0,44.0A16.0,16.0 0 0 1 94.6,44.0L94.6,44.0A16.0,16.0 0 0 1 95.1,44.0L95.1,44.0A16.0,16.0 0 0 1 95.7,44.1L95.7,44.1A16.0,16.0 0 0 1 96.2,44.2L94.1,59.0A1.0,1.0 0 0 1 94.2,59.0L94.2,59.0A1.0,1.0 0 0 1 94.2,59.0L94.2,59.0A1.0,1.0 0 0 1 94.2,59.0L94.2,59.0A1.0,1.0 0 0 1 94.3,59.0L94.3,59.0A1.0,1.0 0 0 1 94.3,59.1L94.3,59.1A1.0,1.0 0 0 1 94.3,59.1L94.3,59.1A1.0,1.0 0 0 1 94.4,59.1L94.4,59.1A1.0,1.0 0 0 1 94.4,59.1L94.4,59.1A1.0,1.0 0 0 1 94.4,59.1L94.4,59.1A1.0,1.0 0 0 1 94.5,59.1L94.5,59.1A1.0,1.0 0 0 1 94.5,59.1L94.5,59.1A1.0,1.0 0 0 1 94.5,59.2L94.5,59.2A1.0,1.0 0 0 1 94.6,59.2L94.6,59.2A1.0,1.0 0 0 1 94.6,59.2L94.6,59.2A1.0,1.0 0 0 1 94.6,59.2L94.6,59.2A1.0,1.0 0 0 1 94.6,59.2L94.6,59.2A1.0,1.0 0 0 1 94.7,59.3L94.7,59.3A1.0,1.0 0 0 1 94.7,59.3L94.7,59.3A1.0,1.0 0 0 1 94.7,59.3L94.7,59.3A1.0,1.0 0 0 1 94.7,59.3L94.7,59.3A1.0,1.0 0 0 1 94.7,59.4L94.7,59.4A1.0,1.0 0 0 1 94.8,59.4L94.8,59.4A1.0,1.0 0 0 1 94.8,59.4L94.8,59.4A1.0,1.0 0 0 1 94.8,59.5L94.8,59.5A1.0,1.0 0 0 1 94.8,59.5L94.8,59.5A1.0,1.0 0 0 1 94.8,59.5L94.8,59.5A1.0,1.0 0 0 1 94.9,59.5L94.9,59.5A1.0,1.0 0 0 1 94.9,59.6L94.9,59.6A1.0,1.0 0 0 1 94.9,59.6L94.9,59.6A1.0,1.0 0 0 1 94.9,59.6L94.9,59.6A1.0,1.0 0 0 1 94.9,59.7L94.9,59.7A1.0,1.0 0 0 1 94.9,59.7L94.9,59.7A1.0,1.0 0 0 1 94.9,59.7L94.9,59.7A1.0,1.0 0 0 1 94.9,59.8L94.9,59.8A1.0,1.0 0 0 1 94.9,59.8L94.9,59.8A1.0,1.0 0 0 1 94.9,59.8L94.9,59.8A1.0,1.0 0 0 1 94.9,59.9L94.9,59.9A1.0,1.0 0 0 1 95.0,59.9L95.0,59.9A1.0,1.0 0 0 1 95.0,59.9L95.0,59.9A1.0,1.0 0 0 1 95.0,60.0L95.0,60.0A1.0,1.0 0 0 1 95.0,60.0L95.0,60.0A1.0,1.0 0 0 1 95.0,60.0L95.0,60.0A1.0,1.0 0 0 1 94.9,60.1L94.9,60.1A0.9,0.9 0 0 1 94.9,60.1L94.9,60.1A0.9,0.9 0 0 1 94.9,60.1L94.9,60.1A0.9,0.9 0 0 1 94.9,60.2L94.9,60.2A0.9,0.9 0 0 1 94.9,60.2L94.9,60.2A0.9,0.9 0 0 1 94.9,60.2L94.9,60.2A0.9,0.9 0 0 1 94.9,60.3L94.9,60.3A0.9,0.9 0 0 1 94.9,60.3L94.9,60.3A0.9,0.9 0 0 1 94.9,60.3L94.9,60.3A0.9,0.9 0 0 1 94.9,60.4L94.9,60.4A0.9,0.9 0 0 1 94.9,60.4L94.9,60.4A0.9,0.9 0 0 1 94.8,60.4L94.8,60.4A0.9,0.9 0 0 1 94.8,60.4L94.8,60.4A0.9,0.9 0 0 1 94.8,60.5L94.8,60.5A0.9,0.9 0 0 1 94.8,60.5L94.8,60.5A0.9,0.9 0 0 1 94.8,60.5L94.8,60.5A0.9,0.9 0 0 1 94.8,60.5L94.8,60.5A0.9,0.9 0 0 1 94.7,60.6L94.7,60.6A0.9,0.9 0 0 1 94.7,60.6L94.7,60.6A0.9,0.9 0 0 1 94.7,60.6L94.7,60.6A0.9,0.9 0 0 1 94.7,60.6L94.7,60.6A0.9,0.9 0 0 1 94.6,60.7L94.6,60.7A0.9,0.9 0 0 1 94.6,60.7L94.6,60.7A0.9,0.9 0 0 1 94.6,60.7L94.6,60.7A0.9,0.9 0 0 1 94.6,60.7L94.6,60.7A0.9,0.9 0 0 1 94.5,60.7L94.5,60.7A0.9,0.9 0 0 1 94.5,60.8L94.5,60.8A0.9,0.9 0 0 1 94.5,60.8L94.5,60.8A0.9,0.9 0 0 1 94.5,60.8L94.5,60.8A0.9,0.9 0 0 1 94.4,60.8L94.4,60.8A0.9,0.9 0 0 1 94.4,60.8L94.4,60.8A0.9,0.9 0 0 1 94.4,60.8L94.4,60.8A0.9,0.9 0 0 1 94.3,60.8L94.3,60.8A0.9,0.9 0 0 1 94.3,60.9L94.3,60.9A0.9,0.9 0 0 1 94.3,60.9L94.3,60.9A0.9,0.9 0 0 1 94.3,60.9L94.3,60.9A0.9,0.9 0 0 1 94.2,60.9L94.2,60.9A0.9,0.9 0 0 1 94.2,60.9L94.2,60.9A0.9,0.9 0 0 1 94.2,60.9L94.2,60.9A0.9,0.9 0 0 1 94.1,60.9L94.1,60.9A0.9,0.9 0 0 1 94.1,60.9L94.1,60.9A0.9,0.9 0 0 1 94.1,60.9L94.1,60.9A0.9,0.9 0 0 1 94.0,60.9L94.0,60.9A0.9,0.9 0 0 1 94.0,60.9L94.0,60.9A0.9,0.9 0 0 1 94.0,60.9L94.0,60.9A0.9,0.9 0 0 1 93.9,60.9L93.9,60.9A0.9,0.9 0 0 1 93.9,60.9L93.9,60.9A0.9,0.9 0 0 1 93.9,60.9L93.9,60.9A0.9,0.9 0 0 1 93.8,60.9L93.8,60.9A0.9,0.9 0 0 1 93.8,60.9L93.8,60.9A0.9,0.9 0 0 1 93.8,60.9L93.8,60.9A0.9,0.9 0 0 1 93.8,60.9L93.8,60.9A0.9,0.9 0 0 1 93.7,60.8L93.7,60.8A0.9,0.9 0 0 1 93.7,60.8L93.7,60.8A0.9,0.9 0 0 1 93.7,60.8L93.7,60.8A0.9,0.9 0 0 1 93.6,60.8L93.6,60.8A0.9,0.9 0 0 1 93.6,60.8L93.6,60.8A0.9,0.9 0 0 1 93.6,60.8L93.6,60.8A0.9,0.9 0 0 1 93.6,60.8L93.6,60.8A0.9,0.9 0 0 1 93.5,60.7L93.5,60.7A0.9,0.9 0 0 1 93.5,60.7L93.5,60.7A0.9,0.9 0 0 1 93.5,60.7L93.5,60.7A0.9,0.9 0 0 1 93.5,60.7L93.5,60.7A0.9,0.9 0 0 1 93.4,60.7L93.4,60.7A0.9,0.9 0 0 1 93.4,60.7L93.4,60.6A0.9,0.9 0 0 1 93.4,60.6L93.4,60.6A0.9,0.9 0 0 1 93.4,60.6L93.4,60.6A0.9,0.9 0 0 1 93.4,60.6L93.4,60.6A0.9,0.9 0 0 1 93.3,60.6L93.3,60.6A0.9,0.9 0 0 1 93.3,60.5L93.3,60.5A0.9,0.9 0 0 1 93.3,60.5L93.3,60.5A0.9,0.9 0 0 1 93.3,60.5L93.3,60.5A0.9,0.9 0 0 1 93.3,60.5L93.3,60.5A0.9,0.9 0 0 1 93.3,60.4L93.3,60.4A0.9,0.9 0 0 1 93.2,60.4L93.2,60.4A0.9,0.9 0 0 1 93.2,60.4L93.2,60.4A0.9,0.9 0 0 1 93.2,60.4L93.2,60.3A0.9,0.9 0 0 1 93.2,60.3L93.2,60.3A0.9,0.9 0 0 1 93.2,60.3L93.2,60.3A0.9,0.9 0 0 1 93.2,60.3L93.2,60.3A0.9,0.9 0 0 1 93.2,60.2L93.2,60.2A0.9,0.9 0 0 1 93.2,60.2L93.2,60.2A0.9,0.9 0 0 1 93.2,60.2L93.2,60.2A0.9,0.9 0 0 1 93.2,60.1L93.2,60.1A0.9,0.9 0 0 1 93.2,60.1L93.2,60.1A0.9,0.9 0 0 1 93.2,60.1L93.2,60.1A0.8,0.8 0 0 1 93.2,60.1L93.2,60.1A0.8,0.8 0 0 1 93.2,60.0L93.2,60.0A0.8,0.8 0 0 1 93.2,60.0L93.2,60.0A0.8,0.8 0 0 1 93.2,60.0L93.2,60.0A0.8,0.8 0 0 1 93.2,59.9L93.2,59.9A0.8,0.8 0 0 1 93.2,59.9L93.2,59.9A0.8,0.8 0 0 1 93.2,59.9L93.2,59.9A0.8,0.8 0 0 1 93.2,59.9L93.2,59.9A0.8,0.8 0 0 1 93.2,59.8L93.2,59.8A0.8,0.8 0 0 1 93.2,59.8L93.2,59.8A0.8,0.8 0 0 1 93.2,59.8L93.2,59.8A0.8,0.8 0 0 1 93.2,59.7L93.2,59.7A0.8,0.8 0 0 1 93.2,59.7L93.2,59.7A0.8,0.8 0 0 1 93.2,59.7L93.2,59.7A0.8,0.8 0 0 1 93.2,59.7L93.2,59.7A0.8,0.8 0 0 1 93.3,59.6L93.3,59.6A0.8,0.8 0 0 1 93.3,59.6L93.3,59.6A0.8,0.8 0 0 1 93.3,59.6L93.3,59.6A0.8,0.8 0 0 1 93.3,59.6L93.3,59.6A0.8,0.8 0 0 1 93.3,59.5L93.3,59.5A0.8,0.8 0 0 1 93.3,59.5L93.3,59.5A0.8,0.8 0 0 1 93.3,59.5L93.4,59.5A0.8,0.8 0 0 1 93.4,59.5L93.4,59.5A0.8,0.8 0 0 1 93.4,59.4L93.4,59.5A0.8,0.8 0 0 1 93.4,59.4L93.4,59.4A0.8,0.8 0 0 1 93.4,59.4L93.4,59.4A0.8,0.8 0 0 1 93.5,59.4L93.5,59.4A0.8,0.8 0 0 1 93.5,59.4L93.5,59.4A0.8,0.8 0 0 1 93.5,59.4L93.5,59.4A0.8,0.8 0 0 1 93.5,59.3L93.5,59.3A0.8,0.8 0 0 1 93.5,59.3L93.5,59.3A0.8,0.8 0 0 1 93.6,59.3L93.6,59.3A0.8,0.8 0 0 1 93.6,59.3L93.6,59.3A0.8,0.8 0 0 1 93.6,59.3L93.6,59.3A0.8,0.8 0 0 1 93.6,59.3L93.6,59.3A0.8,0.8 0 0 1 93.7,59.3L93.7,59.3A0.8,0.8 0 0 1 93.7,59.3L93.7,59.3A0.8,0.8 0 0 1 93.7,59.2L93.7,59.2A0.8,0.8 0 0 1 93.8,59.2L93.8,59.2A0.8,0.8 0 0 1 93.8,59.2L93.8,59.2A0.8,0.8 0 0 1 93.8,59.2L93.8,59.2A0.8,0.8 0 0 1 93.8,59.2L93.8,59.2A0.8,0.8 0 0 1 93.9,59.2L93.6,57.7A2.3,2.3 0 0 1 93.7,57.7L93.3,54.7A5.4,5.4 0 0 1 93.4,54.7L93.1,51.6A8.4,8.4 0 0 1 93.4,51.6L93.2,48.6A11.4,11.4 0 0 1 93.6,48.6L93.5,45.5A14.5,14.5 0 0 1 94.0,45.5Z" fill="#c26272"/>
<path d="M94.0,60.0L94.0,44.0A16.0,16.0 0 0 1 94.6,44.0L94.6,44.0A16.0,16.0 0 0 1 95.1,44.0L95.1,44.0A16.0,16.0 0 0 1 95.7,44.1L95.7,44.1A16.0,16.0 0 0 1 96.2,44.2Z" fill="#e24e4e"/>
<path d="M94.0,60.0L94.1,59.0A1.0,1.0 0 0 1 94.2,59.0L94.2,59.0A1.0,1.0 0 0 1 94.2,59.0L94.2,59.0A1.0,1.0 0 0 1 94.2,59.0L94.2,59.0A1.0,1.0 0 0 1 94.3,59.0L94.3,59.0A1.0,1.0 0 0 1 94.3,59.1L94.3,59.1A1.0,1.0 0 0 1 94.3,59.1L94.3,59.1A1.0,1.0 0 0 1 94.4,59.1L94.4,59.1A1.0,1.0 0 0 1 94.4,59.1L94.4,59.1A1.0,1.0 0 0 1 94.4,59.1L94.4,59.1A1.0,1.0 0 0 1 94.5,59.1L94.5,59.1A1.0,1.0 0 0 1 94.5,59.1L94.5,59.1A1.0,1.0 0 0 1 94.5,59.2L94.5,59.2A1.0,1.0 0 0 1 94.6,59.2L94.6,59.2A1.0,1.0 0 0 1 94.6,59.2L94.6,59.2A1.0,1.0 0 0 1 94.6,59.2L94.6,59.2A1.0,1.0 0 0 1 94.6,59.2L94.6,59.2A1.0,1.0 0 0 1 94.7,59.3L94.7,59.3A1.0,1.0 0 0 1 94.7,59.3L94.7,59.3A1.0,1.0 0 0 1 94.7,59.3L94.7,59.3A1.0,1.0 0 0 1 94.7,59.3L94.7,59.3A1.0,1.0 0 0 1 94.7,59.4L94.7,59.4A1.0,1.0 0 0 1 94.8,59.4L94.8,59.4A1.0,1.0 0 0 1 94.8,59.4L94.8,59.4A1.0,1.0 0 0 1 94.8,59.5L94.8,59.5A1.0,1.0 0 0 1 94.8,59.5L94.8,59.5A1.0,1.0 0 0 1 94.8,59.5L94.8,59.5A1.0,1.0 0 0 1 94.9,59.5L94.9,59.5A1.0,1.0 0 0 1 94.9,59.6L94.9,59.6A1.0,1.0 0 0 1 94.9,59.6L94.9,59.6A1.0,1.0 0 0 1 94.9,59.6L94.9,59.6A1.0,1.0 0 0 1 94.9,59.7L94.9,59.7A1.0,1.0 0 0 1 94.9,59.7L94.9,59.7A1.0,1.0 0 0 1 94.9,59.7L94.9,59.7A1.0,1.0 0 0 1 94.9,59.8L94.9,59.8A1.0,1.0 0 0 1 94.9,59.8L94.9,59.8A1.0,1.0 0 0 1 94.9,59.8L94.9,59.8A1.0,1.0 0 0 1 94.9,59.9L94.9,59.9A1.0,1.0 0 0 1 95.0,59.9L95.0,59.9A1.0,1.0 0 0 1 95.0,59.9L95.0,59.9A1.0,1.0 0 0 1 95.0,60.0L95.0,60.0A1.0,1.0 0 0 1 95.0,60.0L95.0,60.0A1.0,1.0 0 0 1 95.0,60.0L95.0,60.0A1.0,1.0 0 0 1 94.9,60.1L94.9,60.1A0.9,0.9 0 0 1 94.9,60.1L94.9,60.1A0.9,0.9 0 0 1 94.9,60.1L94.9,60.1A0.9,0.9 0 0 1 94.9,60.2L94.9,60.2A0.9,0.9 0 0 1 94.9,60.2L94.9,60.2A0.9,0.9 0 0 1 94.9,60.2L94.9,60.2A0.9,0.9 0 0 1 94.9,60.3L94.9,60.3A0.9,0.9 0 0 1 94.9,60.3L94.9,60.3A0.9,0.9 0 0 1 94.9,60.3L94.9,60.3A0.9,0.9 0 0 1 94.9,60.4L94.9,60.4A0.9,0.9 0 0 1 94.9,60.4L94.9,60.4A0.9,0.9 0 0 1 94.8,60.4L94.8,60.4A0.9,0.9 0 0 1 94.8,60.4L94.8,60.4A0.9,0.9 0 0 1 94.8,60.5L94.8,60.5A0.9,0.9 0 0 1 94.8,60.5L94.8,60.5A0.9,0.9 0 0 1 94.8,60.5L94.8,60.5A0.9,0.9 0 0 1 94.8,60.5L94.8,60.5A0.9,0.9 0 0 1 94.7,60.6L94.7,60.6A0.9,0.9 0 0 1 94.7,60.6L94.7,60.6A0.9,0.9 0 0 1 94.7,60.6L94.7,60.6A0.9,0.9 0 0 1 94.7,60.6L94.7,60.6A0.9,0.9 0 0 1 94.6,60.7L94.6,60.7A0.9,0.9 0 0 1 94.6,60.7L94.6,60.7A0.9,0.9 0 0 1 94.6,60.7L94.6,60.7A0.9,0.9 0 0 1 94.6,60.7L94.6,60.7A0.9,0.9 0 0 1 94.5,60.7L94.5,60.7A0.9,0.9 0 0 1 94.5,60.8L94.5,60.8A0.9,0.9 0 0 1 94.5,60.8L94.5,60.8A0.9,0.9 0 0 1 94.5,60.8L94.5,60.8A0.9,0.9 0 0 1 94.4,60.8L94.4,60.8A0.9,0.9 0 0 1 94.4,60.8L94.4,60.8A0.9,0.9 0 0 1 94.4,60.8L94.4,60.8A0.9,0.9 0 0 1 94.3,60.8L94.3,60.8A0.9,0.9 0 0 1 94.3,60.9L94.3,60.9A0.9,0.9 0 0 1 94.3,60.9L94.3,60.9A0.9,0.9 0 0 1 94.3,60.9L94.3,60.9A0.9,0.9 0 0 1 94.2,60.9L94.2,60.9A0.9,0.9 0 0 1 94.2,60.9L94.2,60.9A0.9,0.9 0 0 1 94.2,60.9L94.2,60.9A0.9,0.9 0 0 1 94.1,60.9L94.1,60.9A0.9,0.9 0 0 1 94.1,60.9L94.1,60.9A0.9,0.9 0 0 1 94.1,60.9L94.1,60.9A0.9,0.9 0 0 1 94.0,60.9L94.0,60.9A0.9,0.9 0 0 1 94.0,60.9L94.0,60.9A0.9,0.9 0 0 1 94.0,60.9L94.0,60.9A0.9,0.9 0 0 1 93.9,60.9L93.9,60.9A0.9,0.9 0 0 1 93.9,60.9L93.9,60.9A0.9,0.9 0 0 1 93.9,60.9L93.9,60.9A0.9,0.9 0 0 1 93.8,60.9L93.8,60.9A0.9,0.9 0 0 1 93.8,60.9L93.8,60.9A0.9,0.9 0 0 1 93.8,60.9L93.8,60.9A0.9,0.9 0 0 1 93.8,60.9L93.8,60.9A0.9,0.9 0 0 1 93.7,60.8L93.7,60.8A0.9,0.9 0 0 1 93.7,60.8L93.7,60.8A0.9,0.9 0 0 1 93.7,60.8L93.7,60.8A0.9,0.9 0 0 1 93.6,60.8L93.6,60.8A0.9,0.9 0 0 1 93.6,60.8L93.6,60.8A0.9,0.9 0 0 1 93.6,60.8L93.6,60.8A0.9,0.9 0 0 1 93.6,60.8L93.6,60.8A0.9,0.9 0 0 1 93.5,60.7L93.5,60.7A0.9,0.9 0 0 1 93.5,60.7L93.5,60.7A0.9,0.9 0 0 1 93.5,60.7L93.5,60.7A0.9,0.9 0 0 1 93.5,60.7L93.5,60.7A0.9,0.9 0 0 1 93.4,60.7L93.4,60.7A0.9,0.9 0 0 1 93.4,60.7L93.4,60.6A0.9,0.9 0 0 1 93.4,60.6L93.4,60.6A0.9,0.9 0 0 1 93.4,60.6L93.4,60.6A0.9,0.9 0 0 1 93.4,60.6L93.4,60.6A0.9,0.9 0 0 1 93.3,60.6L93.3,60.6A0.9,0.9 0 0 1 93.3,60.5L93.3,60.5A0.9,0.9 0 0 1 93.3,60.5L93.3,60.5A0.9,0.9 0 0 1 93.3,60.5L93.3,60.5A0.9,0.9 0 0 1 93.3,60.5L93.3,60.5A0.9,0.9 0 0 1 93.3,60.4L93.3,60.4A0.9,0.9 0 0 1 93.2,60.4L93.2,60.4A0.9,0.9 0 0 1 93.2,60.4L93.2,60.4A0.9,0.9 0 0 1 93.2,60.4L93.2,60.3A0.9,0.9 0 0 1 93.2,60.3L93.2,60.3A0.9,0.9 0 0 1 93.2,60.3L93.2,60.3A0.9,0.9 0 0 1 93.2,60.3L93.2,60.3A0.9,0.9 0 0 1 93.2,60.2L93.2,60.2A0.9,0.9 0 0 1 93.2,60.2L93.2,60.2A0.9,0.9 0 0 1 93.2,60.2L93.2,60.2A0.9,0.9 0 0 1 93.2,60.1L93.2,60.1A0.9,0.9 0 0 1 93.2,60.1L93.2,60.1A0.9,0.9 0 0 1 93.2,60.1L93.2,60.1A0.8,0.8 0 0 1 93.2,60.1L93.2,60.1A0.8,0.8 0 0 1 93.2,60.0L93.2,60.0A0.8,0.8 0 0 1 93.2,60.0L93.2,60.0A0.8,0.8 0 0 1 93.2,60.0L93.2,60.0A0.8,0.8 0 0 1 93.2,59.9L93.2,59.9A0.8,0.8 0 0 1 93.2,59.9L93.2,59.9A0.8,0.8 0 0 1 93.2,59.9L93.2,59.9A0.8,0.8 0 0 1 93.2,59.9L93.2,59.9A0.8,0.8 0 0 1 93.2,59.8L93.2,59.8A0.8,0.8 0 0 1 93.2,59.8L93.2,59.8A0.8,0.8 0 0 1 93.2,59.8L93.2,59.8A0.8,0.8 0 0 1 93.2,59.7L93.2,59.7A0.8,0.8 0 0 1 93.2,59.7L93.2,59.7A0.8,0.8 0 0 1 93.2,59.7L93.2,59.7A0.8,0.8 0 0 1 93.2,59.7L93.2,59.7A0.8,0.8 0 0 1 93.3,59.6L93.3,59.6A0.8,0.8 0 0 1 93.3,59.6L93.3,59.6A0.8,0.8 0 0 1 93.3,59.6L93.3,59.6A0.8,0.8 0 0 1 93.3,59.6L93.3,59.6A0.8,0.8 0 0 1 93.3,59.5L93.3,59.5A0.8,0.8 0 0 1 93.3,59.5L93.3,59.5A0.8,0.8 0 0 1 93.3,59.5L93.4,59.5A0.8,0.8 0 0 1 93.4,59.5L93.4,59.5A0.8,0.8 0 0 1 93.4,59.4L93.4,59.5A0.8,0.8 0 0 1 93.4,59.4L93.4,59.4A0.8,0.8 0 0 1 93.4,59.4L93.4,59.4A0.8,0.8 0 0 1 93.5,59.4L93.5,59.4A0.8,0.8 0 0 1 93.5,59.4L93.5,59.4A0.8,0.8 0 0 1 93.5,59.4L93.5,59.4A0.8,0.8 0 0 1 93.5,59.3L93.5,59.3A0.8,0.8 0 0 1 93.5,59.3L93.5,59.3A0.8,0.8 0 0 1 93.6,59.3L93.6,59.3A0.8,0.8 0 0 1 93.6,59.3L93.6,59.3A0.8,0.8 0 0 1 93.6,59.3L93.6,59.3A0.8,0.8 0 0 1 93.6,59.3L93.6,59.3A0.8,0.8 0 0 1 93.7,59.3L93.7,59.3A0.8,0.8 0 0 1 93.7,59.3L93.7,59.3A0.8,0.8 0 0 1 93.7,59.2L93.7,59.2A0.8,0.8 0 0 1 93.8,59.2L93.8,59.2A0.8,0.8 0 0 1 93.8,59.2L93.8,59.2A0.8,0.8 0 0 1 93.8,59.2L93.8,59.2A0.8,0.8 0 0 1 93.8,59.2L93.8,59.2A0.8,0.8 0 0 1 93.9,59.2L93.6,57.7A2.3,2.3 0 0 1 93.7,57.7L93.3,54.7A5.4,5.4 0 0 1 93.4,54.7L93.1,51.6A8.4,8.4 0 0 1 93.4,51.6L93.2,48.6A11.4,11.4 0 0 1 93.6,48.6L93.5,45.5A14.5,14.5 0 0 1 94.0,45.5Z" fill="#8a84b0"/>
<path d="M94.0,60.0L94.0,44.0A16.0,16.0 0 0 1 94.6,44.0L94.6,44.0A16.0,16.0 0 0 1 95.1,44.0L95.1,44.0A16.0,16.0 0 0 1 95.7,44.1L95.7,44.1A16.0,16.0 0 0 1 96.2,44.2L94.1,59.0A1.0,1.0 0 0 1 94.2,59.0L94.2,59.0A1.0,1.0 0 0 1 94.2,59.0L94.2,59.0A1.0,1.0 0 0 1 94.2,59.0L94.2,59.0A1.0,1.0 0 0 1 94.3,59.0L94.3,59.0A1.0,1.0 0 0 1 94.3,59.1L94.3,59.1A1.0,1.0 0 0 1 94.3,59.1L94.3,59.1A1.0,1.0 0 0 1 94.4,59.1L94.4,59.1A1.0,1.0 0 0 1 94.4,59.1L94.4,59.1A1.0,1.0 0 0 1 94.4,59.1L94.4,59.1A1.0,1.0 0 0 1 94.5,59.1L94.5,59.1A1.0,1.0 0 0 1 94.5,59.1L94.5,59.1A1.0,1.0 0 0 1 94.5,59.2L94.5,59.2A1.0,1.0 0 0 1 94.6,59.2L94.6,59.2A1.0,1.0 0 0 1 94.6,59.2L94.6,59.2A1.0,1.0 0 0 1 94.6,59.2L94.6,59.2A1.0,1.0 0 0 1 94.6,59.2L94.6,59.2A1.0,1.0 0 0 1 94.7,59.3L94.7,59.3A1.0,1.0 0 0 1 94.7,59.3L94.7,59.3A1.0,1.0 0 0 1 94.7,59.3L94.7,59.3A1.0,1.0 0 0 1 94.7,59.3L94.7,59.3A1.0,1.0 0 0 1 94.7,59.4L94.7,59.4A1.0,1.0 0 0 1 94.8,59.4L94.8,59.4A1.0,1.0 0 0 1 94.8,59.4L94.8,59.4A1.0,1.0 0 0 1 94.8,59.5L94.8,59.5A1.0,1.0 0 0 1 94.8,59.5L94.8,59.5A1.0,1.0 0 0 1 94.8,59.5L94.8,59.5A1.0,1.0 0 0 1 94.9,59.5L94.9,59.5A1.0,1.0 0 0 1 94.9,59.6L94.9,59.6A1.0,1.0 0 0 1 94.9,59.6L94.9,59.6A1.0,1.0 0 0 1 94.9,59.6L94.9,59.6A1.0,1.0 0 0 1 94.9,59.7L94.9,59.7A1.0,1.0 0 0 1 94.9,59.7L94.9,59.7A1.0,1.0 0 0 1 94.9,59.7L94.9,59.7A1.0,1.0 0 0 1 94.9,59.8L94.9,59.8A1.0,1.0 0 0 1 94.9,59.8L94.9,59.8A1.0,1.0 0 0 1 94.9,59.8L94.9,59.8A1.0,1.0 0 0 1 94.9,59.9L94.9,59.9A1.0,1.0 0 0 1 95.0,59.9L95.0,59.9A1.0,1.0 0 0 1 95.0,59.9L95.0,59.9A1.0,1.0 0 0 1 95.0,60.0L95.0,60.0A1.0,1.0 0 0 1 95.0,60.0L95.0,60.0A1.0,1.0 0 0 1 95.0,60.0L95.0,60.0A1.0,1.0 0 0 1 94.9,60.1L94.9,60.1A0.9,0.9 0 0 1 94.9,60.1L94.9,60.1A0.9,0.9 0 0 1 94.9,60.1L94.9,60.1A0.9,0.9 0 0 1 94.9,60.2L94.9,60.2A0.9,0.9 0 0 1 94.9,60.2L94.9,60.2A0.9,0.9 0 0 1 94.9,60.2L94.9,60.2A0.9,0.9 0 0 1 94.9,60.3L94.9,60.3A0.9,0.9 0 0 1 94.9,60.3L94.9,60.3A0.9,0.9 0 0 1 94.9,60.3L94.9,60.3A0.9,0.9 0 0 1 94.9,60.4L94.9,60.4A0.9,0.9 0 0 1 94.9,60.4L94.9,60.4A0.9,0.9 0 0 1 94.8,60.4L94.8,60.4A0.9,0.9 0 0 1 94.8,60.4L94.8,60.4A0.9,0.9 0 0 1 94.8,60.5L94.8,60.5A0.9,0.9 0 0 1 94.8,60.5L94.8,60.5A0.9,0.9 0 0 1 94.8,60.5L94.8,60.5A0.9,0.9 0 0 1 94.8,60.5L94.8,60.5A0.9,0.9 0 0 1 94.7,60.6L94.7,60.6A0.9,0.9 0 0 1 94.7,60.6L94.7,60.6A0.9,0.9 0 0 1 94.7,60.6L94.7,60.6A0.9,0.9 0 0 1 94.7,60.6L94.7,60.6A0.9,0.9 0 0 1 94.6,60.7L94.6,60.7A0.9,0.9 0 0 1 94.6,60.7L94.6,60.7A0.9,0.9 0 0 1 94.6,60.7L94.6,60.7A0.9,0.9 0 0 1 94.6,60.7L94.6,60.7A0.9,0.9 0 0 1 94.5,60.7L94.5,60.7A0.9,0.9 0 0 1 94.5,60.8L94.5,60.8A0.9,0.9 0 0 1 94.5,60.8L94.5,60.8A0.9,0.9 0 0 1 94.5,60.8L94.5,60.8A0.9,0.9 0 0 1 94.4,60.8L94.4,60.8A0.9,0.9 0 0 1 94.4,60.8L94.4,60.8A0.9,0.9 0 0 1 94.4,60.8L94.4,60.8A0.9,0.9 0 0 1 94.3,60.8L94.3,60.8A0.9,0.9 0 0 1 94.3,60.9L94.3,60.9A0.9,0.9 0 0 1 94.3,60.9L94.3,60.9A0.9,0.9 0 0 1 94.3,60.9L94.3,60.9A0.9,0.9 0 0 1 94.2,60.9L94.2,60.9A0.9,0.9 0 0 1 94.2,60.9L94.2,60.9A0.9,0.9 0 0 1 94.2,60.9L94.2,60.9A0.9,0.9 0 0 1 94.1,60.9L94.1,60.9A0.9,0.9 0 0 1 94.1,60.9L94.1,60.9A0.9,0.9 0 0 1 94.1,60.9L94.1,60.9A0.9,0.9 0 0 1 94.0,60.9L94.0,60.9A0.9,0.9 0 0 1 94.0,60.9L94.0,60.9A0.9,0.9 0 0 1 94.0,60.9L94.0,60.9A0.9,0.9 0 0 1 93.9,60.9L93.9,60.9A0.9,0.9 0 0 1 93.9,60.9L93.9,60.9A0.9,0.9 0 0 1 93.9,60.9L93.9,60.9A0.9,0.9 0 0 1 93.8,60.9L93.8,60.9A0.9,0.9 0 0 1 93.8,60.9L93.8,60.9A0.9,0.9 0 0 1 93.8,60.9L93.8,60.9A0.9,0.9 0 0 1 93.8,60.9L93.8,60.9A0.9,0.9 0 0 1 93.7,60.8L93.7,60.8A0.9,0.9 0 0 1 93.7,60.8L93.7,60.8A0.9,0.9 0 0 1 93.7,60.8L93.7,60.8A0.9,0.9 0 0 1 93.6,60.8L93.6,60.8A0.9,0.9 0 0 1 93.6,60.8L93.6,60.8A0.9,0.9 0 0 1 93.6,60.8L93.6,60.8A0.9,0.9 0 0 1 93.6,60.8L93.6,60.8A0.9,0.9 0 0 1 93.5,60.7L93.5,60.7A0.9,0.9 0 0 1 93.5,60.7L93.5,60.7A0.9,0.9 0 0 1 93.5,60.7L93.5,60.7A0.9,0.9 0 0 1 93.5,60.7L93.5,60.7A0.9,0.9 0 0 1 93.4,60.7L93.4,60.7A0.9,0.9 0 0 1 93.4,60.7L93.4,60.6A0.9,0.9 0 0 1 93.4,60.6L93.4,60.6A0.9,0.9 0 0 1 93.4,60.6L93.4,60.6A0.9,0.9 0 0 1 93.4,60.6L93.4,60.6A0.9,0.9 0 0 1 93.3,60.6L93.3,60.6A0.9,0.9 0 0 1 93.3,60.5L93.3,60.5A0.9,0.9 0 0 1 93.3,60.5L93.3,60.5A0.9,0.9 0 0 1 93.3,60.5L93.3,60.5A0.9,0.9 0 0 1 93.3,60.5L93.3,60.5A0.9,0.9 0 0 1 93.3,60.4L93.3,60.4A0.9,0.9 0 0 1 93.2,60.4L93.2,60.4A0.9,0.9 0 0 1 93.2,60.4L93.2,60.4A0.9,0.9 0 0 1 93.2,60.4L93.2,60.3A0.9,0.9 0 0 1 93.2,60.3L93.2,60.3A0.9,0.9 0 0 1 93.2,60.3L93.2,60.3A0.9,0.9 0 0 1 93.2,60.3L93.2,60.3A0.9,0.9 0 0 1 93.2,60.2L93.2,60.2A0.9,0.9 0 0 1 93.2,60.2L93.2,60.2A0.9,0.9 0 0 1 93.2,60.2L93.2,60.2A0.9,0.9 0 0 1 93.2,60.1L93.2,60.1A0.9,0.9 0 0 1 93.2,60.1L93.2,60.1A0.9,0.9 0 0 1 93.2,60.1L93.2,60.1A0.8,0.8 0 0 1 93.2,60.1L93.2,60.1A0.8,0.8 0 0 1 93.2,60.0L93.2,60.0A0.8,0.8 0 0 1 93.2,60.0L93.2,60.0A0.8,0.8 0 0 1 93.2,60.0L93.2,60.0A0.8,0.8 0 0 1 93.2,59.9L93.2,59.9A0.8,0.8 0 0 1 93.2,59.9L93.2,59.9A0.8,0.8 0 0 1 93.2,59.9L93.2,59.9A0.8,0.8 0 0 1 93.2,59.9L93.2,59.9A0.8,0.8 0 0 1 93.2,59.8L93.2,59.8A0.8,0.8 0 0 1 93.2,59.8L93.2,59.8A0.8,0.8 0 0 1 93.2,59.8L93.2,59.8A0.8,0.8 0 0 1 93.2,59.7L93.2,59.7A0.8,0.8 0 0 1 93.2,59.7L93.2,59.7A0.8,0.8 0 0 1 93.2,59.7L93.2,59.7A0.8,0.8 0 0 1 93.2,59.7L93.2,59.7A0.8,0.8 0 0 1 93.3,59.6L93.3,59.6A0.8,0.8 0 0 1 93.3,59.6L93.3,59.6A0.8,0.8 0 0 1 93.3,59.6L93.3,59.6A0.8,0.8 0 0 1 93.3,59.6L93.3,59.6A0.8,0.8 0 0 1 93.3,59.5L93.3,59.5A0.8,0.8 0 0 1 93.3,59.5L93.3,59.5A0.8,0.8 0 0 1 93.3,59.5L93.4,59.5A0.8,0.8 0 0 1 93.4,59.5L93.4,59.5A0.8,0.8 0 0 1 93.4,59.4L93.4,59.5A0.8,0.8 0 0 1 93.4,59.4L93.4,59.4A0.8,0.8 0 0 1 93.4,59.4L93.4,59.4A0.8,0.8 0 0 1 93.5,59.4L93.5,59.4A0.8,0.8 0 0 1 93.5,59.4L93.5,59.4A0.8,0.8 0 0 1 93.5,59.4L93.5,59.4A0.8,0.8 0 0 1 93.5,59.3L93.5,59.3A0.8,0.8 0 0 1 93.5,59.3L93.5,59.3A0.8,0.8 0 0 1 93.6,59.3L93.6,59.3A0.8,0.8 0 0 1 93.6,59.3L93.6,59.3A0.8,0.8 0 0 1 93.6,59.3L93.6,59.3A0.8,0.8 0 0 1 93.6,59.3L93.6,59.3A0.8,0.8 0 0 1 93.7,59.3L93.7,59.3A0.8,0.8 0 0 1 93.7,59.3L93.7,59.3A0.8,0.8 0 0 1 93.7,59.2L93.7,59.2A0.8,0.8 0 0 1 93.8,59.2L93.8,59.2A0.8,0.8 0 0 1 93.8,59.2L93.8,59.2A0.8,0.8 0 0 1 93.8,59.2L93.8,59.2A0.8,0.8 0 0 1 93.8,59.2L93.8,59.2A0.8,0.8 0 0 1 93.9,59.2L93.6,57.7A2.3,2.3 0 0 1 93.7,57.7L93.3,54.7A5.4,5.4 0 0 1 93.4,54.7L93.1,51.6A8.4,8.4 0 0 1 93.4,51.6L93.2,48.6A11.4,11.4 0 0 1 93.6,48.6L93.5,45.5A14.5,14.5 0 0 1 94.0,45.5Z" fill="url(#g0)"/>
<path d="M121.0,59.3L121.0,50.3A9.0,9.0 0 0 1 121.8,50.3L121.7,50.9A8.4,8.4 0 0 1 122.5,51.0L122.4,51.5A7.9,7.9 0 0 1 123.0,51.7L122.9,52.1A7.4,7.4 0 0 1 123.5,52.3L123.4,52.7A7.0,7.0 0 0 1 124.0,52.9L123.8,53.2A6.7,6.7 0 0 1 124.3,53.5L124.2,53.8A6.3,6.3 0 0 1 124.6,54.1L124.5,54.3A6.0,6.0 0 0 1 124.9,54.7L124.7,54.9A5.8,5.8 0 0 1 125.1,55.2L124.9,55.4A5.5,5.5 0 0 1 125.2,55.8L125.0,55.9A5.2,5.2 0 0 1 125.3,56.3L125.1,56.4A5.0,5.0 0 0 1 125.3,56.8L125.2,56.9A4.8,4.8 0 0 1 125.4,57.3L125.3,57.3A4.7,4.7 0 0 1 125.4,57.7L125.3,57.7A4.6,4.6 0 0 1 125.5,58.1L125.3,58.1A4.5,4.5 0 0 1 125.4,58.5L125.3,58.5A4.4,4.4 0 0 1 125.4,58.9L125.2,58.9A4.3,4.3 0 0 1 125.3,59.3L125.2,59.3A4.2,4.2 0 0 1 125.2,59.7L125.1,59.7A4.1,4.1 0 0 1 125.0,60.0L125.0,60.0A4.0,4.0 0 0 1 124.9,60.3L124.8,60.3A4.0,4.0 0 0 1 124.7,60.7L124.7,60.6A3.9,3.9 0 0 1 124.5,60.9L124.5,60.9A3.8,3.8 0 0 1 124.3,61.2L124.3,61.2A3.8,3.8 0 0 1 124.1,61.5L124.0,61.4A3.7,3.7 0 0 1 123.8,61.7L123.8,61.6A3.6,3.6 0 0 1 123.6,61.9L123.5,61.8A3.6,3.6 0 0 1 123.3,62.0L123.2,62.0A3.5,3.5 0 0 1 123.0,62.2L123.0,62.1A3.4,3.4 0 0 1 122.7,62.3L122.7,62.2A3.4,3.4 0 0 1 122.4,62.4L122.4,62.3A3.3,3.3 0 0 1 122.1,62.4L122.1,62.4A3.3,3.3 0 0 1 121.8,62.5L121.8,62.4A3.2,3.2 0 0 1 121.6,62.5L121.6,62.4A3.2,3.2 0 0 1 121.3,62.5L121.3,62.4A3.1,3.1 0 0 1 121.0,62.4L121.0,62.4A3.1,3.1 0 0 1 120.7,62.4L120.7,62.3A3.0,3.0 0 0 1 120.5,62.3L120.5,62.3A3.0,3.0 0 0 1 120.2,62.2L120.2,62.2A3.0,3.0 0 0 1 120.0,62.1L120.0,62.1A3.0,3.0 0 0 1 119.8,62.0L119.8,61.9A2.9,2.9 0 0 1 119.5,61.8L119.6,61.8A2.9,2.9 0 0 1 119.3,61.7L119.4,61.6A2.9,2.9 0 0 1 119.2,61.5L119.2,61.5A2.8,2.8 0 0 1 119.0,61.3L119.0,61.3A2.8,2.8 0 0 1 118.9,61.1L118.9,61.1A2.8,2.8 0 0 1 118.7,60.9L118.8,60.9A2.7,2.7 0 0 1 118.6,60.7L118.7,60.6A2.7,2.7 0 0 1 118.6,60.4L118.6,60.4A2.7,2.7 0 0 1 118.5,60.2L118.5,60.2A2.6,2.6 0 0 1 118.5,60.0L118.5,60.0A2.6,2.6 0 0 1 118.5,59.7L118.5,59.7A2.5,2.5 0 0 1 118.5,59.5L118.5,59.5A2.5,2.5 0 0 1 118.5,59.3L118.5,59.3A2.5,2.5 0 0 1 118.5,59.1L118.6,59.1A2.5,2.5 0 0 1 118.6,58.9L118.6,58.9A2.4,2.4 0 0 1 118.7,58.7L118.7,58.7A2.4,2.4 0 0 1 118.8,58.5L118.8,58.5A2.3,2.3 0 0 1 118.9,58.3L118.9,58.3A2.3,2.3 0 0 1 119.0,58.1L119.0,58.2A2.3,2.3 0 0 1 119.1,58.0L119.2,58.0A2.2,2.2 0 0 1 119.3,57.9L119.3,57.9A2.2,2.2 0 0 1 119.4,57.7L119.5,57.8A2.2,2.2 0 0 1 119.6,57.6L119.6,57.7A2.1,2.1 0 0 1 119.8,57.5L119.8,57.6A2.1,2.1 0 0 1 119.9,57.5L120.0,57.5A2.1,2.1 0 0 1 120.1,57.4L120.1,57.4A2.1,2.1 0 0 1 120.3,57.4L120.3,57.4A2.0,2.0 0 0 1 120.5,57.3L120.5,57.4A2.0,2.0 0 0 1 120.7,57.3L120.3,55.5A3.8,3.8 0 0 1 120.7,55.5L120.3,51.9A7.5,7.5 0 0 1 121.0,51.8Z" fill="#b7b1da"/>
<path d="M121.0,59.3L121.0,50.3A9.0,9.0 0 0 1 121.8,50.3L121.7,50.9A8.4,8.4 0 0 1 122.5,51.0L122.4,51.5A7.9,7.9 0 0 1 123.0,51.7Z" fill="#d4d0ea"/>
<path d="M121.0,59.3L122.9,52.1A7.4,7.4 0 0 1 123.5,52.3L123.4,52.7A7.0,7.0 0 0 1 124.0,52.9L123.8,53.2A6.7,6.7 0 0 1 124.3,53.5L124.2,53.8A6.3,6.3 0 0 1 124.6,54.1Z" fill="#d0cce8"/>
<path d="M121.0,59.3L124.5,54.3A6.0,6.0 0 0 1 124.9,54.7L124.7,54.9A5.8,5.8 0 0 1 125.1,55.2L124.9,55.4A5.5,5.5 0 0 1 125.2,55.8L125.0,55.9A5.2,5.2 0 0 1 125.3,56.3L125.1,56.4A5.0,5.0 0 0 1 125.3,56.8L125.2,56.9A4.8,4.8 0 0 1 125.4,57.3Z" fill="#ccc7e6"/>
<path d="M121.0,59.3L125.3,57.3A4.7,4.7 0 0 1 125.4,57.7L125.3,57.7A4.6,4.6 0 0 1 125.5,58.1L125.3,58.1A4.5,4.5 0 0 1 125.4,58.5L125.3,58.5A4.4,4.4 0 0 1 125.4,58.9Z" fill="#c8c2e4"/>
<path d="M121.0,59.3L125.2,58.9A4.3,4.3 0 0 1 125.3,59.3L125.2,59.3A4.2,4.2 0 0 1 125.2,59.7L125.1,59.7A4.1,4.1 0 0 1 125.0,60.0L125.0,60.0A4.0,4.0 0 0 1 124.9,60.3L124.8,60.3A4.0,4.0 0 0 1 124.7,60.7Z" fill="#c4bee2"/>
<path d="M121.0,59.3L124.7,60.6A3.9,3.9 0 0 1 124.5,60.9L124.5,60.9A3.8,3.8 0 0 1 124.3,61.2L124.3,61.2A3.8,3.8 0 0 1 124.1,61.5L124.0,61.4A3.7,3.7 0 0 1 123.8,61.7Z" fill="#bab3dc"/>
<path d="M121.0,59.3L123.8,61.6A3.6,3.6 0 0 1 123.6,61.9L123.5,61.8A3.6,3.6 0 0 1 123.3,62.0L123.2,62.0A3.5,3.5 0 0 1 123.0,62.2L123.0,62.1A3.4,3.4 0 0 1 122.7,62.3Z" fill="#afa8d7"/>
<path d="M121.0,59.3L122.7,62.2A3.4,3.4 0 0 1 122.4,62.4L122.4,62.3A3.3,3.3 0 0 1 122.1,62.4L122.1,62.4A3.3,3.3 0 0 1 121.8,62.5L121.8,62.4A3.2,3.2 0 0 1 121.6,62.5Z" fill="#a49dd2"/>
<path d="M121.0,59.3L121.6,62.4A3.2,3.2 0 0 1 121.3,62.5L121.3,62.4A3.1,3.1 0 0 1 121.0,62.4L121.0,62.4A3.1,3.1 0 0 1 120.7,62.4L120.7,62.3A3.0,3.0 0 0 1 120.5,62.3Z" fill="#9a92cc"/>
<path d="M121.0,59.3L120.5,62.3A3.0,3.0 0 0 1 120.2,62.2L120.2,62.2A3.0,3.0 0 0 1 120.0,62.1L120.0,62.1A3.0,3.0 0 0 1 119.8,62.0L119.8,61.9A2.9,2.9 0 0 1 119.5,61.8Z" fill="#928ac6"/>
<path d="M121.0,59.3L119.6,61.8A2.9,2.9 0 0 1 119.3,61.7L119.4,61.6A2.9,2.9 0 0 1 119.2,61.5L119.2,61.5A2.8,2.8 0 0 1 119.0,61.3L119.0,61.3A2.8,2.8 0 0 1 118.9,61.1Z" fill="#8a81c0"/>
<path d="M121.0,59.3L118.9,61.1A2.8,2.8 0 0 1 118.7,60.9L118.8,60.9A2.7,2.7 0 0 1 118.6,60.7L118.7,60.6A2.7,2.7 0 0 1 118.6,60.4L118.6,60.4A2.7,2.7 0 0 1 118.5,60.2Z" fill="#8278ba"/>
<path d="M121.0,59.3L118.5,60.2A2.6,2.6 0 0 1 118.5,60.0L118.5,60.0A2.6,2.6 0 0 1 118.5,59.7L118.5,59.7A2.5,2.5 0 0 1 118.5,59.5L118.5,59.5A2.5,2.5 0 0 1 118.5,59.3L118.5,59.3A2.5,2.5 0 0 1 118.5,59.1L118.6,59.1A2.5,2.5 0 0 1 118.6,58.9L118.6,58.9A2.4,2.4 0 0 1 118.7,58.7L118.7,58.7A2.4,2.4 0 0 1 118.8,58.5L118.8,58.5A2.3,2.3 0 0 1 118.9,58.3L118.9,58.3A2.3,2.3 0 0 1 119.0,58.1L119.0,58.2A2.3,2.3 0 0 1 119.1,58.0L119.2,58.0A2.2,2.2 0 0 1 119.3,57.9L119.3,57.9A2.2,2.2 0 0 1 119.4,57.7L119.5,57.8A2.2,2.2 0 0 1 119.6,57.6L119.6,57.7A2.1,2.1 0 0 1 119.8,57.5L119.8,57.6A2.1,2.1 0 0 1 119.9,57.5L120.0,57.5A2.1,2.1 0 0 1 120.1,57.4L120.1,57.4A2.1,2.1 0 0 1 120.3,57.4L120.3,57.4A2.0,2.0 0 0 1 120.5,57.3L120.5,57.4A2.0,2.0 0 0 1 120.7,57.3L120.3,55.5A3.8,3.8 0 0 1 120.7,55.5L120.3,51.9A7.5,7.5 0 0 1 121.0,51.8Z" fill="#7a70b4"/>
<path d="M121.0,59.3L121.0,50.3A9.0,9.0 0 0 1 121.8,50.3L121.7,50.9A8.4,8.4 0 0 1 122.5,51.0L122.4,51.5A7.9,7.9 0 0 1 123.0,51.7L122.9,52.1A7.4,7.4 0 0 1 123.5,52.3L123.4,52.7A7.0,7.0 0 0 1 124.0,52.9L123.8,53.2A6.7,6.7 0 0 1 124.3,53.5L124.2,53.8A6.3,6.3 0 0 1 124.6,54.1L124.5,54.3A6.0,6.0 0 0 1 124.9,54.7L124.7,54.9A5.8,5.8 0 0 1 125.1,55.2L124.9,55.4A5.5,5.5 0 0 1 125.2,55.8L125.0,55.9A5.2,5.2 0 0 1 125.3,56.3L125.1,56.4A5.0,5.0 0 0 1 125.3,56.8L125.2,56.9A4.8,4.8 0 0 1 125.4,57.3L125.3,57.3A4.7,4.7 0 0 1 125.4,57.7L125.3,57.7A4.6,4.6 0 0 1 125.5,58.1L125.3,58.1A4.5,4.5 0 0 1 125.4,58.5L125.3,58.5A4.4,4.4 0 0 1 125.4,58.9L125.2,58.9A4.3,4.3 0 0 1 125.3,59.3L125.2,59.3A4.2,4.2 0 0 1 125.2,59.7L125.1,59.7A4.1,4.1 0 0 1 125.0,60.0L125.0,60.0A4.0,4.0 0 0 1 124.9,60.3L124.8,60.3A4.0,4.0 0 0 1 124.7,60.7L124.7,60.6A3.9,3.9 0 0 1 124.5,60.9L124.5,60.9A3.8,3.8 0 0 1 124.3,61.2L124.3,61.2A3.8,3.8 0 0 1 124.1,61.5L124.0,61.4A3.7,3.7 0 0 1 123.8,61.7L123.8,61.6A3.6,3.6 0 0 1 123.6,61.9L123.5,61.8A3.6,3.6 0 0 1 123.3,62.0L123.2,62.0A3.5,3.5 0 0 1 123.0,62.2L123.0,62.1A3.4,3.4 0 0 1 122.7,62.3L122.7,62.2A3.4,3.4 0 0 1 122.4,62.4L122.4,62.3A3.3,3.3 0 0 1 122.1,62.4L122.1,62.4A3.3,3.3 0 0 1 121.8,62.5L121.8,62.4A3.2,3.2 0 0 1 121.6,62.5L121.6,62.4A3.2,3.2 0 0 1 121.3,62.5L121.3,62.4A3.1,3.1 0 0 1 121.0,62.4L121.0,62.4A3.1,3.1 0 0 1 120.7,62.4L120.7,62.3A3.0,3.0 0 0 1 120.5,62.3L120.5,62.3A3.0,3.0 0 0 1 120.2,62.2L120.2,62.2A3.0,3.0 0 0 1 120.0,62.1L120.0,62.1A3.0,3.0 0 0 1 119.8,62.0L119.8,61.9A2.9,2.9 0 0 1 119.5,61.8L119.6,61.8A2.9,2.9 0 0 1 119.3,61.7L119.4,61.6A2.9,2.9 0 0 1 119.2,61.5L119.2,61.5A2.8,2.8 0 0 1 119.0,61.3L119.0,61.3A2.8,2.8 0 0 1 118.9,61.1L118.9,61.1A2.8,2.8 0 0 1 118.7,60.9L118.8,60.9A2.7,2.7 0 0 1 118.6,60.7L118.7,60.6A2.7,2.7 0 0 1 118.6,60.4L118.6,60.4A2.7,2.7 0 0 1 118.5,60.2L118.5,60.2A2.6,2.6 0 0 1 118.5,60.0L118.5,60.0A2.6,2.6 0 0 1 118.5,59.7L118.5,59.7A2.5,2.5 0 0 1 118.5,59.5L118.5,59.5A2.5,2.5 0 0 1 118.5,59.3L118.5,59.3A2.5,2.5 0 0 1 118.5,59.1L118.6,59.1A2.5,2.5 0 0 1 118.6,58.9L118.6,58.9A2.4,2.4 0 0 1 118.7,58.7L118.7,58.7A2.4,2.4 0 0 1 118.8,58.5L118.8,58.5A2.3,2.3 0 0 1 118.9,58.3L118.9,58.3A2.3,2.3 0 0 1 119.0,58.1L119.0,58.2A2.3,2.3 0 0 1 119.1,58.0L119.2,58.0A2.2,2.2 0 0 1 119.3,57.9L119.3,57.9A2.2,2.2 0 0 1 119.4,57.7L119.5,57.8A2.2,2.2 0 0 1 119.6,57.6L119.6,57.7A2.1,2.1 0 0 1 119.8,57.5L119.8,57.6A2.1,2.1 0 0 1 119.9,57.5L120.0,57.5A2.1,2.1 0 0 1 120.1,57.4L120.1,57.4A2.1,2.1 0 0 1 120.3,57.4L120.3,57.4A2.0,2.0 0 0 1 120.5,57.3L120.5,57.4A2.0,2.0 0 0 1 120.7,57.3L120.3,55.5A3.8,3.8 0 0 1 120.7,55.5L120.3,51.9A7.5,7.5 0 0 1 121.0,51.8Z" fill="url(#g1)"/>
<path d="M148.7,59.0L148.7,51.8A7.2,7.2 0 0 1 149.3,51.8L149.3,52.1A7.0,7.0 0 0 1 149.9,52.1L149.9,52.3A6.8,6.8 0 0 1 150.4,52.5L150.4,52.7A6.5,6.5 0 0 1 150.9,52.9L150.9,53.1A6.3,6.3 0 0 1 151.4,53.3L151.3,53.5A6.1,6.1 0 0 1 151.8,53.7L151.7,53.9A5.9,5.9 0 0 1 152.1,54.2L152.0,54.3A5.8,5.8 0 0 1 152.4,54.6L152.3,54.7A5.6,5.6 0 0 1 152.6,55.1L152.5,55.2A5.4,5.4 0 0 1 152.8,55.5L152.7,55.6A5.2,5.2 0 0 1 153.0,56.0L152.9,56.1A5.1,5.1 0 0 1 153.1,56.5L153.0,56.5A5.0,5.0 0 0 1 153.2,56.9L153.2,56.9A4.9,4.9 0 0 1 153.3,57.3L153.3,57.3A4.9,4.9 0 0 1 153.4,57.7L153.4,57.8A4.8,4.8 0 0 1 153.5,58.2L153.4,58.2A4.8,4.8 0 0 1 153.5,58.6L153.4,58.6A4.7,4.7 0 0 1 153.4,59.0L153.4,59.0A4.7,4.7 0 0 1 153.4,59.4L153.4,59.4A4.7,4.7 0 0 1 153.4,59.8L153.4,59.8A4.7,4.7 0 0 1 153.3,60.2L153.3,60.2A4.8,4.8 0 0 1 153.2,60.6L153.2,60.6A4.8,4.8 0 0 1 153.0,61.0L153.0,61.0A4.8,4.8 0 0 1 152.8,61.4L152.9,61.4A4.8,4.8 0 0 1 152.6,61.8L152.7,61.8A4.8,4.8 0 0 1 152.4,62.1L152.4,62.1A4.8,4.8 0 0 1 152.1,62.4L152.1,62.4A4.9,4.9 0 0 1 151.8,62.7L151.8,62.7A4.9,4.9 0 0 1 151.5,63.0L151.5,63.0A4.9,4.9 0 0 1 151.1,63.2L151.1,63.2A4.9,4.9 0 0 1 150.8,63.4L150.8,63.4A4.9,4.9 0 0 1 150.4,63.6L150.4,63.6A4.9,4.9 0 0 1 150.0,63.7L150.0,63.7A4.8,4.8 0 0 1 149.5,63.8L149.5,63.8A4.8,4.8 0 0 1 149.1,63.8L149.1,63.8A4.8,4.8 0 0 1 148.7,63.8L148.7,63.8A4.8,4.8 0 0 1 148.3,63.8L148.3,63.7A4.8,4.8 0 0 1 147.9,63.7L147.9,63.6A4.7,4.7 0 0 1 147.5,63.6L147.5,63.5A4.7,4.7 0 0 1 147.1,63.4L147.1,63.4A4.6,4.6 0 0 1 146.7,63.2L146.7,63.2A4.6,4.6 0 0 1 146.4,63.0L146.4,63.0A4.6,4.6 0 0 1 146.1,62.7L146.1,62.7A4.5,4.5 0 0 1 145.8,62.4L145.9,62.4A4.4,4.4 0 0 1 145.6,62.1L145.6,62.1A4.4,4.4 0 0 1 145.4,61.8L145.4,61.8A4.3,4.3 0 0 1 145.2,61.5L145.2,61.4A4.2,4.2 0 0 1 145.0,61.1L145.1,61.1A4.2,4.2 0 0 1 144.9,60.8L145.0,60.7A4.1,4.1 0 0 1 144.9,60.4L144.9,60.4A4.0,4.0 0 0 1 144.8,60.0L144.9,60.0A3.9,3.9 0 0 1 144.9,59.7L144.9,59.7A3.8,3.8 0 0 1 144.9,59.3L145.0,59.3A3.7,3.7 0 0 1 145.0,59.0L145.0,59.0A3.7,3.7 0 0 1 145.1,58.7L145.1,58.7A3.6,3.6 0 0 1 145.2,58.4L145.3,58.4A3.5,3.5 0 0 1 145.3,58.1L145.4,58.1A3.4,3.4 0 0 1 145.5,57.8L145.6,57.9A3.3,3.3 0 0 1 145.7,57.6L145.8,57.6A3.2,3.2 0 0 1 145.9,57.4L146.0,57.4A3.2,3.2 0 0 1 146.1,57.2L146.2,57.2A3.1,3.1 0 0 1 146.3,57.0L146.4,57.1A3.0,3.0 0 0 1 146.6,56.9L146.6,56.9A3.0,3.0 0 0 1 146.8,56.7L146.8,56.8A2.9,2.9 0 0 1 147.0,56.6L147.1,56.7A2.8,2.8 0 0 1 147.3,56.5L147.1,56.3A3.2,3.2 0 0 1 147.4,56.1L147.0,55.4A3.9,3.9 0 0 1 147.4,55.3L147.1,54.6A4.7,4.7 0 0 1 147.5,54.5L147.3,53.8A5.4,5.4 0 0 1 147.8,53.7L147.6,52.9A6.2,6.2 0 0 1 148.2,52.8L148.1,52.1A6.9,6.9 0 0 1 148.7,52.1Z" fill="#b7b1e1"/>
<path d="M148.7,59.0L148.7,51.8A7.2,7.2 0 0 1 149.3,51.8L149.3,52.1A7.0,7.0 0 0 1 149.9,52.1L149.9,52.3A6.8,6.8 0 0 1 150.4,52.5Z" fill="#d0ccec"/>
<path d="M148.7,59.0L150.4,52.7A6.5,6.5 0 0 1 150.9,52.9L150.9,53.1A6.3,6.3 0 0 1 151.4,53.3L151.3,53.5A6.1,6.1 0 0 1 151.8,53.7L151.7,53.9A5.9,5.9 0 0 1 152.1,54.2L152.0,54.3A5.8,5.8 0 0 1 152.4,54.6L152.3,54.7A5.6,5.6 0 0 1 152.6,55.1Z" fill="#cdc9ea"/>
<path d="M148.7,59.0L152.5,55.2A5.4,5.4 0 0 1 152.8,55.5L152.7,55.6A5.2,5.2 0 0 1 153.0,56.0L152.9,56.1A5.1,5.1 0 0 1 153.1,56.5L153.0,56.5A5.0,5.0 0 0 1 153.2,56.9L153.2,56.9A4.9,4.9 0 0 1 153.3,57.3L153.3,57.3A4.9,4.9 0 0 1 153.4,57.7Z" fill="#cac6e9"/>
<path d="M148.7,59.0L153.4,57.8A4.8,4.8 0 0 1 153.5,58.2L153.4,58.2A4.8,4.8 0 0 1 153.5,58.6L153.4,58.6A4.7,4.7 0 0 1 153.4,59.0L153.4,59.0A4.7,4.7 0 0 1 153.4,59.4L153.4,59.4A4.7,4.7 0 0 1 153.4,59.8L153.4,59.8A4.7,4.7 0 0 1 153.3,60.2Z" fill="#c7c2e8"/>
<path d="M148.7,59.0L153.3,60.2A4.8,4.8 0 0 1 153.2,60.6L153.2,60.6A4.8,4.8 0 0 1 153.0,61.0L153.0,61.0A4.8,4.8 0 0 1 152.8,61.4L152.9,61.4A4.8,4.8 0 0 1 152.6,61.8L152.7,61.8A4.8,4.8 0 0 1 152.4,62.1Z" fill="#c4bfe6"/>
<path d="M148.7,59.0L152.4,62.1A4.8,4.8 0 0 1 152.1,62.4L152.1,62.4A4.9,4.9 0 0 1 151.8,62.7L151.8,62.7A4.9,4.9 0 0 1 151.5,63.0L151.5,63.0A4.9,4.9 0 0 1 151.1,63.2Z" fill="#bcb7e3"/>
<path d="M148.7,59.0L151.1,63.2A4.9,4.9 0 0 1 150.8,63.4L150.8,63.4A4.9,4.9 0 0 1 150.4,63.6L150.4,63.6A4.9,4.9 0 0 1 150.0,63.7L150.0,63.7A4.8,4.8 0 0 1 149.5,63.8Z" fill="#b4aee0"/>
<path d="M148.7,59.0L149.5,63.8A4.8,4.8 0 0 1 149.1,63.8L149.1,63.8A4.8,4.8 0 0 1 148.7,63.8L148.7,63.8A4.8,4.8 0 0 1 148.3,63.8L148.3,63.7A4.8,4.8 0 0 1 147.9,63.7Z" fill="#aca6dd"/>
<path d="M148.7,59.0L147.9,63.6A4.7,4.7 0 0 1 147.5,63.6L147.5,63.5A4.7,4.7 0 0 1 147.1,63.4L147.1,63.4A4.6,4.6 0 0 1 146.7,63.2L146.7,63.2A4.6,4.6 0 0 1 146.4,63.0L146.4,63.0A4.6,4.6 0 0 1 146.1,62.7Z" fill="#a49eda"/>
<path d="M148.7,59.0L146.1,62.7A4.5,4.5 0 0 1 145.8,62.4L145.9,62.4A4.4,4.4 0 0 1 145.6,62.1L145.6,62.1A4.4,4.4 0 0 1 145.4,61.8L145.4,61.8A4.3,4.3 0 0 1 145.2,61.5L145.2,61.4A4.2,4.2 0 0 1 145.0,61.1L145.1,61.1A4.2,4.2 0 0 1 144.9,60.8L145.0,60.7A4.1,4.1 0 0 1 144.9,60.4Z" fill="#a29bd8"/>
<path d="M148.7,59.0L144.9,60.4A4.0,4.0 0 0 1 144.8,60.0L144.9,60.0A3.9,3.9 0 0 1 144.9,59.7L144.9,59.7A3.8,3.8 0 0 1 144.9,59.3L145.0,59.3A3.7,3.7 0 0 1 145.0,59.0L145.0,59.0A3.7,3.7 0 0 1 145.1,58.7L145.1,58.7A3.6,3.6 0 0 1 145.2,58.4Z" fill="#9f98d6"/>
<path d="M148.7,59.0L145.3,58.4A3.5,3.5 0 0 1 145.3,58.1L145.4,58.1A3.4,3.4 0 0 1 145.5,57.8L145.6,57.9A3.3,3.3 0 0 1 145.7,57.6L145.8,57.6A3.2,3.2 0 0 1 145.9,57.4L146.0,57.4A3.2,3.2 0 0 1 146.1,57.2L146.2,57.2A3.1,3.1 0 0 1 146.3,57.0L146.4,57.1A3.0,3.0 0 0 1 146.6,56.9Z" fill="#9c95d4"/>
<path d="M148.7,59.0L146.6,56.9A3.0,3.0 0 0 1 146.8,56.7L146.8,56.8A2.9,2.9 0 0 1 147.0,56.6L147.1,56.7A2.8,2.8 0 0 1 147.3,56.5L147.1,56.3A3.2,3.2 0 0 1 147.4,56.1L147.0,55.4A3.9,3.9 0 0 1 147.4,55.3L147.1,54.6A4.7,4.7 0 0 1 147.5,54.5L147.3,53.8A5.4,5.4 0 0 1 147.8,53.7L147.6,52.9A6.2,6.2 0 0 1 148.2,52.8L148.1,52.1A6.9,6.9 0 0 1 148.7,52.1Z" fill="#9a92d2"/>
<path d="M148.7,59.0L148.7,51.8A7.2,7.2 0 0 1 149.3,51.8L149.3,52.1A7.0,7.0 0 0 1 149.9,52.1L149.9,52.3A6.8,6.8 0 0 1 150.4,52.5L150.4,52.7A6.5,6.5 0 0 1 150.9,52.9L150.9,53.1A6.3,6.3 0 0 1 151.4,53.3L151.3,53.5A6.1,6.1 0 0 1 151.8,53.7L151.7,53.9A5.9,5.9 0 0 1 152.1,54.2L152.0,54.3A5.8,5.8 0 0 1 152.4,54.6L152.3,54.7A5.6,5.6 0 0 1 152.6,55.1L152.5,55.2A5.4,5.4 0 0 1 152.8,55.5L152.7,55.6A5.2,5.2 0 0 1 153.0,56.0L152.9,56.1A5.1,5.1 0 0 1 153.1,56.5L153.0,56.5A5.0,5.0 0 0 1 153.2,56.9L153.2,56.9A4.9,4.9 0 0 1 153.3,57.3L153.3,57.3A4.9,4.9 0 0 1 153.4,57.7L153.4,57.8A4.8,4.8 0 0 1 153.5,58.2L153.4,58.2A4.8,4.8 0 0 1 153.5,58.6L153.4,58.6A4.7,4.7 0 0 1 153.4,59.0L153.4,59.0A4.7,4.7 0 0 1 153.4,59.4L153.4,59.4A4.7,4.7 0 0 1 153.4,59.8L153.4,59.8A4.7,4.7 0 0 1 153.3,60.2L153.3,60.2A4.8,4.8 0 0 1 153.2,60.6L153.2,60.6A4.8,4.8 0 0 1 153.0,61.0L153.0,61.0A4.8,4.8 0 0 1 152.8,61.4L152.9,61.4A4.8,4.8 0 0 1 152.6,61.8L152.7,61.8A4.8,4.8 0 0 1 152.4,62.1L152.4,62.1A4.8,4.8 0 0 1 152.1,62.4L152.1,62.4A4.9,4.9 0 0 1 151.8,62.7L151.8,62.7A4.9,4.9 0 0 1 151.5,63.0L151.5,63.0A4.9,4.9 0 0 1 151.1,63.2L151.1,63.2A4.9,4.9 0 0 1 150.8,63.4L150.8,63.4A4.9,4.9 0 0 1 150.4,63.6L150.4,63.6A4.9,4.9 0 0 1 150.0,63.7L150.0,63.7A4.8,4.8 0 0 1 149.5,63.8L149.5,63.8A4.8,4.8 0 0 1 149.1,63.8L149.1,63.8A4.8,4.8 0 0 1 148.7,63.8L148.7,63.8A4.8,4.8 0 0 1 148.3,63.8L148.3,63.7A4.8,4.8 0 0 1 147.9,63.7L147.9,63.6A4.7,4.7 0 0 1 147.5,63.6L147.5,63.5A4.7,4.7 0 0 1 147.1,63.4L147.1,63.4A4.6,4.6 0 0 1 146.7,63.2L146.7,63.2A4.6,4.6 0 0 1 146.4,63.0L146.4,63.0A4.6,4.6 0 0 1 146.1,62.7L146.1,62.7A4.5,4.5 0 0 1 145.8,62.4L145.9,62.4A4.4,4.4 0 0 1 145.6,62.1L145.6,62.1A4.4,4.4 0 0 1 145.4,61.8L145.4,61.8A4.3,4.3 0 0 1 145.2,61.5L145.2,61.4A4.2,4.2 0 0 1 145.0,61.1L145.1,61.1A4.2,4.2 0 0 1 144.9,60.8L145.0,60.7A4.1,4.1 0 0 1 144.9,60.4L144.9,60.4A4.0,4.0 0 0 1 144.8,60.0L144.9,60.0A3.9,3.9 0 0 1 144.9,59.7L144.9,59.7A3.8,3.8 0 0 1 144.9,59.3L145.0,59.3A3.7,3.7 0 0 1 145.0,59.0L145.0,59.0A3.7,3.7 0 0 1 145.1,58.7L145.1,58.7A3.6,3.6 0 0 1 145.2,58.4L145.3,58.4A3.5,3.5 0 0 1 145.3,58.1L145.4,58.1A3.4,3.4 0 0 1 145.5,57.8L145.6,57.9A3.3,3.3 0 0 1 145.7,57.6L145.8,57.6A3.2,3.2 0 0 1 145.9,57.4L146.0,57.4A3.2,3.2 0 0 1 146.1,57.2L146.2,57.2A3.1,3.1 0 0 1 146.3,57.0L146.4,57.1A3.0,3.0 0 0 1 146.6,56.9L146.6,56.9A3.0,3.0 0 0 1 146.8,56.7L146.8,56.8A2.9,2.9 0 0 1 147.0,56.6L147.1,56.7A2.8,2.8 0 0 1 147.3,56.5L147.1,56.3A3.2,3.2 0 0 1 147.4,56.1L147.0,55.4A3.9,3.9 0 0 1 147.4,55.3L147.1,54.6A4.7,4.7 0 0 1 147.5,54.5L147.3,53.8A5.4,5.4 0 0 1 147.8,53.7L147.6,52.9A6.2,6.2 0 0 1 148.2,52.8L148.1,52.1A6.9,6.9 0 0 1 148.7,52.1Z" fill="url(#g2)"/>
<path d="M66.4,92.5L66.4,80.0A12.5,12.5 0 0 1 67.5,80.0L67.5,80.0A12.5,12.5 0 0 1 68.6,80.2L68.0,83.7A8.9,8.9 0 0 1 68.7,83.9L68.7,84.0A8.8,8.8 0 0 1 69.4,84.2L69.4,84.3A8.7,8.7 0 0 1 70.1,84.6L70.0,84.7A8.6,8.6 0 0 1 70.7,85.1L70.6,85.3A8.3,8.3 0 0 1 71.2,85.7L71.0,85.9A8.0,8.0 0 0 1 71.5,86.4L71.3,86.6A7.7,7.7 0 0 1 71.8,87.1L71.6,87.3A7.4,7.4 0 0 1 72.1,87.8L71.9,87.9A7.2,7.2 0 0 1 72.3,88.4L72.1,88.5A6.9,6.9 0 0 1 72.4,89.0L72.2,89.1A6.7,6.7 0 0 1 72.5,89.7L72.3,89.8A6.5,6.5 0 0 1 72.5,90.3L72.3,90.4A6.3,6.3 0 0 1 72.5,90.9L72.2,90.9A6.1,6.1 0 0 1 72.4,91.4L72.1,91.5A5.8,5.8 0 0 1 72.2,92.0L72.0,92.0A5.6,5.6 0 0 1 72.0,92.5L71.9,92.5A5.5,5.5 0 0 1 71.9,93.0L71.9,93.0A5.5,5.5 0 0 1 71.8,93.5L71.8,93.5A5.5,5.5 0 0 1 71.7,93.9L71.7,93.9A5.5,5.5 0 0 1 71.6,94.4L71.6,94.4A5.5,5.5 0 0 1 71.4,94.8L71.4,94.8A5.5,5.5 0 0 1 71.2,95.2L71.2,95.2A5.5,5.5 0 0 1 70.9,95.7L70.9,95.7A5.5,5.5 0 0 1 70.6,96.0L70.6,96.0A5.5,5.5 0 0 1 70.3,96.4L70.3,96.4A5.5,5.5 0 0 1 69.9,96.7L70.0,96.8A5.5,5.5 0 0 1 69.6,97.0L69.6,97.1A5.6,5.6 0 0 1 69.2,97.3L69.2,97.4A5.6,5.6 0 0 1 68.8,97.6L68.8,97.6A5.7,5.7 0 0 1 68.3,97.8L68.3,97.8A5.7,5.7 0 0 1 67.9,98.0L67.9,98.0A5.7,5.7 0 0 1 67.4,98.1L67.4,98.2A5.8,5.8 0 0 1 66.9,98.2L66.9,98.3A5.8,5.8 0 0 1 66.4,98.3L66.4,98.3A5.8,5.8 0 0 1 65.9,98.3L65.9,98.2A5.8,5.8 0 0 1 65.4,98.2L65.4,98.1A5.7,5.7 0 0 1 64.9,98.0L64.9,98.0A5.7,5.7 0 0 1 64.5,97.8L64.5,97.8A5.7,5.7 0 0 1 64.0,97.6L64.0,97.6A5.6,5.6 0 0 1 63.6,97.4L63.6,97.3A5.6,5.6 0 0 1 63.2,97.1L63.2,97.0A5.5,5.5 0 0 1 62.8,96.8L62.9,96.7A5.5,5.5 0 0 1 62.5,96.4L62.5,96.4A5.5,5.5 0 0 1 62.2,96.0L62.3,96.0A5.4,5.4 0 0 1 62.0,95.6L62.1,95.5A5.3,5.3 0 0 1 61.8,95.2L61.9,95.1A5.2,5.2 0 0 1 61.7,94.7L61.7,94.7A5.2,5.2 0 0 1 61.6,94.3L61.6,94.2A5.1,5.1 0 0 1 61.5,93.8L61.6,93.8A5.0,5.0 0 0 1 61.5,93.4L61.6,93.4A4.9,4.9 0 0 1 61.5,92.9L61.6,92.9A4.8,4.8 0 0 1 61.6,92.5L61.6,92.5A4.8,4.8 0 0 1 61.7,92.1L61.8,92.1A4.7,4.7 0 0 1 61.8,91.7L61.9,91.7A4.6,4.6 0 0 1 62.0,91.3L62.1,91.3A4.5,4.5 0 0 1 62.2,91.0L62.3,91.0A4.4,4.4 0 0 1 62.4,90.6L62.5,90.7A4.3,4.3 0 0 1 62.7,90.3L62.7,90.4A4.2,4.2 0 0 1 62.9,90.1L63.0,90.1A4.1,4.1 0 0 1 63.2,89.8L63.3,89.9A4.0,4.0 0 0 1 63.5,89.6L63.6,89.7A3.9,3.9 0 0 1 63.9,89.5L64.0,89.6A3.8,3.8 0 0 1 64.2,89.4L64.3,89.6A3.6,3.6 0 0 1 64.6,89.4L64.7,89.5A3.4,3.4 0 0 1 65.0,89.4L65.0,89.6A3.2,3.2 0 0 1 65.3,89.4L65.3,89.6A3.1,3.1 0 0 1 65.6,89.5L65.2,88.1A4.6,4.6 0 0 1 65.6,88.0L65.1,84.9A7.8,7.8 0 0 1 65.7,84.8L65.4,81.6A10.9,10.9 0 0 1 66.4,81.6Z" fill="#d4b9cd"/>
<path d="M66.4,92.5L66.4,80.0A12.5,12.5 0 0 1 67.5,80.0L67.5,80.0A12.5,12.5 0 0 1 68.6,80.2Z" fill="#e05050"/>
<path d="M66.4,92.5L68.0,83.7A8.9,8.9 0 0 1 68.7,83.9Z" fill="#f2c4c4"/>
<path d="M66.4,92.5L68.7,84.0A8.8,8.8 0 0 1 69.4,84.2L69.4,84.3A8.7,8.7 0 0 1 70.1,84.6L70.0,84.7A8.6,8.6 0 0 1 70.7,85.1Z" fill="#f2caca"/>
<path d="M66.4,92.5L70.6,85.3A8.3,8.3 0 0 1 71.2,85.7L71.0,85.9A8.0,8.0 0 0 1 71.5,86.4Z" fill="#f1cfd1"/>
<path d="M66.4,92.5L71.3,86.6A7.7,7.7 0 0 1 71.8,87.1L71.6,87.3A7.4,7.4 0 0 1 72.1,87.8L71.9,87.9A7.2,7.2 0 0 1 72.3,88.4Z" fill="#f0d4d8"/>
<path d="M66.4,92.5L72.1,88.5A6.9,6.9 0 0 1 72.4,89.0L72.2,89.1A6.7,6.7 0 0 1 72.5,89.7L72.3,89.8A6.5,6.5 0 0 1 72.5,90.3Z" fill="#f0dade"/>
<path d="M66.4,92.5L72.3,90.4A6.3,6.3 0 0 1 72.5,90.9L72.2,90.9A6.1,6.1 0 0 1 72.4,91.4L72.1,91.5A5.8,5.8 0 0 1 72.2,92.0Z" fill="#eddce2"/>
<path d="M66.4,92.5L72.0,92.0A5.6,5.6 0 0 1 72.0,92.5L71.9,92.5A5.5,5.5 0 0 1 71.9,93.0L71.9,93.0A5.5,5.5 0 0 1 71.8,93.5L71.8,93.5A5.5,5.5 0 0 1 71.7,93.9Z" fill="#eadee7"/>
<path d="M66.4,92.5L71.7,93.9A5.5,5.5 0 0 1 71.6,94.4L71.6,94.4A5.5,5.5 0 0 1 71.4,94.8L71.4,94.8A5.5,5.5 0 0 1 71.2,95.2Z" fill="#e7e0ec"/>
<path d="M66.4,92.5L71.2,95.2A5.5,5.5 0 0 1 70.9,95.7L70.9,95.7A5.5,5.5 0 0 1 70.6,96.0L70.6,96.0A5.5,5.5 0 0 1 70.3,96.4Z" fill="#e4e2f0"/>
<path d="M66.4,92.5L70.3,96.4A5.5,5.5 0 0 1 69.9,96.7L70.0,96.8A5.5,5.5 0 0 1 69.6,97.0Z" fill="#dad8ec"/>
<path d="M66.4,92.5L69.6,97.1A5.6,5.6 0 0 1 69.2,97.3L69.2,97.4A5.6,5.6 0 0 1 68.8,97.6Z" fill="#d0cfe9"/>
<path d="M66.4,92.5L68.8,97.6A5.7,5.7 0 0 1 68.3,97.8L68.3,97.8A5.7,5.7 0 0 1 67.9,98.0Z" fill="#c6c6e6"/>
<path d="M66.4,92.5L67.9,98.0A5.7,5.7 0 0 1 67.4,98.1L67.4,98.2A5.8,5.8 0 0 1 66.9,98.2L66.9,98.3A5.8,5.8 0 0 1 66.4,98.3L66.4,98.3A5.8,5.8 0 0 1 65.9,98.3Z" fill="#bcbce2"/>
<path d="M66.4,92.5L65.9,98.2A5.8,5.8 0 0 1 65.4,98.2L65.4,98.1A5.7,5.7 0 0 1 64.9,98.0L64.9,98.0A5.7,5.7 0 0 1 64.5,97.8L64.5,97.8A5.7,5.7 0 0 1 64.0,97.6L64.0,97.6A5.6,5.6 0 0 1 63.6,97.4L63.6,97.3A5.6,5.6 0 0 1 63.2,97.1L63.2,97.0A5.5,5.5 0 0 1 62.8,96.8Z" fill="#b9b9e0"/>
<path d="M66.4,92.5L62.9,96.7A5.5,5.5 0 0 1 62.5,96.4L62.5,96.4A5.5,5.5 0 0 1 62.2,96.0L62.3,96.0A5.4,5.4 0 0 1 62.0,95.6L62.1,95.5A5.3,5.3 0 0 1 61.8,95.2L61.9,95.1A5.2,5.2 0 0 1 61.7,94.7L61.7,94.7A5.2,5.2 0 0 1 61.6,94.3Z" fill="#b6b6df"/>
<path d="M66.4,92.5L61.6,94.2A5.1,5.1 0 0 1 61.5,93.8L61.6,93.8A5.0,5.0 0 0 1 61.5,93.4L61.6,93.4A4.9,4.9 0 0 1 61.5,92.9L61.6,92.9A4.8,4.8 0 0 1 61.6,92.5L61.6,92.5A4.8,4.8 0 0 1 61.7,92.1L61.8,92.1A4.7,4.7 0 0 1 61.8,91.7L61.9,91.7A4.6,4.6 0 0 1 62.0,91.3Z" fill="#b3b3de"/>
<path d="M66.4,92.5L62.1,91.3A4.5,4.5 0 0 1 62.2,91.0L62.3,91.0A4.4,4.4 0 0 1 62.4,90.6L62.5,90.7A4.3,4.3 0 0 1 62.7,90.3L62.7,90.4A4.2,4.2 0 0 1 62.9,90.1L63.0,90.1A4.1,4.1 0 0 1 63.2,89.8L63.3,89.9A4.0,4.0 0 0 1 63.5,89.6L63.6,89.7A3.9,3.9 0 0 1 63.9,89.5L64.0,89.6A3.8,3.8 0 0 1 64.2,89.4L64.3,89.6A3.6,3.6 0 0 1 64.6,89.4L64.7,89.5A3.4,3.4 0 0 1 65.0,89.4L65.0,89.6A3.2,3.2 0 0 1 65.3,89.4L65.3,89.6A3.1,3.1 0 0 1 65.6,89.5L65.2,88.1A4.6,4.6 0 0 1 65.6,88.0L65.1,84.9A7.8,7.8 0 0 1 65.7,84.8L65.4,81.6A10.9,10.9 0 0 1 66.4,81.6Z" fill="#b0b0dc"/>
<path d="M66.4,92.5L66.4,80.0A12.5,12.5 0 0 1 67.5,80.0L67.5,80.0A12.5,12.5 0 0 1 68.6,80.2L68.0,83.7A8.9,8.9 0 0 1 68.7,83.9L68.7,84.0A8.8,8.8 0 0 1 69.4,84.2L69.4,84.3A8.7,8.7 0 0 1 70.1,84.6L70.0,84.7A8.6,8.6 0 0 1 70.7,85.1L70.6,85.3A8.3,8.3 0 0 1 71.2,85.7L71.0,85.9A8.0,8.0 0 0 1 71.5,86.4L71.3,86.6A7.7,7.7 0 0 1 71.8,87.1L71.6,87.3A7.4,7.4 0 0 1 72.1,87.8L71.9,87.9A7.2,7.2 0 0 1 72.3,88.4L72.1,88.5A6.9,6.9 0 0 1 72.4,89.0L72.2,89.1A6.7,6.7 0 0 1 72.5,89.7L72.3,89.8A6.5,6.5 0 0 1 72.5,90.3L72.3,90.4A6.3,6.3 0 0 1 72.5,90.9L72.2,90.9A6.1,6.1 0 0 1 72.4,91.4L72.1,91.5A5.8,5.8 0 0 1 72.2,92.0L72.0,92.0A5.6,5.6 0 0 1 72.0,92.5L71.9,92.5A5.5,5.5 0 0 1 71.9,93.0L71.9,93.0A5.5,5.5 0 0 1 71.8,93.5L71.8,93.5A5.5,5.5 0 0 1 71.7,93.9L71.7,93.9A5.5,5.5 0 0 1 71.6,94.4L71.6,94.4A5.5,5.5 0 0 1 71.4,94.8L71.4,94.8A5.5,5.5 0 0 1 71.2,95.2L71.2,95.2A5.5,5.5 0 0 1 70.9,95.7L70.9,95.7A5.5,5.5 0 0 1 70.6,96.0L70.6,96.0A5.5,5.5 0 0 1 70.3,96.4L70.3,96.4A5.5,5.5 0 0 1 69.9,96.7L70.0,96.8A5.5,5.5 0 0 1 69.6,97.0L69.6,97.1A5.6,5.6 0 0 1 69.2,97.3L69.2,97.4A5.6,5.6 0 0 1 68.8,97.6L68.8,97.6A5.7,5.7 0 0 1 68.3,97.8L68.3,97.8A5.7,5.7 0 0 1 67.9,98.0L67.9,98.0A5.7,5.7 0 0 1 67.4,98.1L67.4,98.2A5.8,5.8 0 0 1 66.9,98.2L66.9,98.3A5.8,5.8 0 0 1 66.4,98.3L66.4,98.3A5.8,5.8 0 0 1 65.9,98.3L65.9,98.2A5.8,5.8 0 0 1 65.4,98.2L65.4,98.1A5.7,5.7 0 0 1 64.9,98.0L64.9,98.0A5.7,5.7 0 0 1 64.5,97.8L64.5,97.8A5.7,5.7 0 0 1 64.0,97.6L64.0,97.6A5.6,5.6 0 0 1 63.6,97.4L63.6,97.3A5.6,5.6 0 0 1 63.2,97.1L63.2,97.0A5.5,5.5 0 0 1 62.8,96.8L62.9,96.7A5.5,5.5 0 0 1 62.5,96.4L62.5,96.4A5.5,5.5 0 0 1 62.2,96.0L62.3,96.0A5.4,5.4 0 0 1 62.0,95.6L62.1,95.5A5.3,5.3 0 0 1 61.8,95.2L61.9,95.1A5.2,5.2 0 0 1 61.7,94.7L61.7,94.7A5.2,5.2 0 0 1 61.6,94.3L61.6,94.2A5.1,5.1 0 0 1 61.5,93.8L61.6,93.8A5.0,5.0 0 0 1 61.5,93.4L61.6,93.4A4.9,4.9 0 0 1 61.5,92.9L61.6,92.9A4.8,4.8 0 0 1 61.6,92.5L61.6,92.5A4.8,4.8 0 0 1 61.7,92.1L61.8,92.1A4.7,4.7 0 0 1 61.8,91.7L61.9,91.7A4.6,4.6 0 0 1 62.0,91.3L62.1,91.3A4.5,4.5 0 0 1 62.2,91.0L62.3,91.0A4.4,4.4 0 0 1 62.4,90.6L62.5,90.7A4.3,4.3 0 0 1 62.7,90.3L62.7,90.4A4.2,4.2 0 0 1 62.9,90.1L63.0,90.1A4.1,4.1 0 0 1 63.2,89.8L63.3,89.9A4.0,4.0 0 0 1 63.5,89.6L63.6,89.7A3.9,3.9 0 0 1 63.9,89.5L64.0,89.6A3.8,3.8 0 0 1 64.2,89.4L64.3,89.6A3.6,3.6 0 0 1 64.6,89.4L64.7,89.5A3.4,3.4 0 0 1 65.0,89.4L65.0,89.6A3.2,3.2 0 0 1 65.3,89.4L65.3,89.6A3.1,3.1 0 0 1 65.6,89.5L65.2,88.1A4.6,4.6 0 0 1 65.6,88.0L65.1,84.9A7.8,7.8 0 0 1 65.7,84.8L65.4,81.6A10.9,10.9 0 0 1 66.4,81.6Z" fill="url(#g3)"/>
<path d="M93.9,92.4L93.9,80.1A12.3,12.3 0 0 1 95.0,80.2L95.0,80.4A12.1,12.1 0 0 1 96.0,80.5L96.0,80.7A11.8,11.8 0 0 1 97.0,81.0L96.9,81.2A11.6,11.6 0 0 1 97.9,81.5L97.8,81.7A11.3,11.3 0 0 1 98.7,82.1L98.6,82.4A11.1,11.1 0 0 1 99.4,82.8L99.3,83.1A10.8,10.8 0 0 1 100.1,83.6L99.9,83.8A10.4,10.4 0 0 1 100.6,84.4L100.4,84.6A10.2,10.2 0 0 1 101.1,85.2L100.9,85.4A9.9,9.9 0 0 1 101.5,86.0L101.3,86.2A9.6,9.6 0 0 1 101.8,86.9L101.6,87.0A9.4,9.4 0 0 1 102.0,87.7L101.8,87.8A9.2,9.2 0 0 1 102.2,88.5L102.0,88.6A8.9,8.9 0 0 1 102.3,89.3L102.1,89.4A8.7,8.7 0 0 1 102.3,90.1L102.2,90.2A8.6,8.6 0 0 1 102.4,90.9L102.3,90.9A8.5,8.5 0 0 1 102.4,91.7L102.2,91.7A8.4,8.4 0 0 1 102.3,92.4L102.3,92.4A8.4,8.4 0 0 1 102.2,93.1L102.3,93.1A8.5,8.5 0 0 1 102.2,93.9L102.4,93.9A8.6,8.6 0 0 1 102.2,94.6L102.3,94.7A8.7,8.7 0 0 1 102.1,95.4L102.2,95.4A8.8,8.8 0 0 1 101.9,96.1L102.0,96.2A8.9,8.9 0 0 1 101.6,96.9L101.8,97.0A9.1,9.1 0 0 1 101.4,97.6L101.6,97.8A9.4,9.4 0 0 1 101.1,98.4L101.3,98.6A9.6,9.6 0 0 1 100.7,99.2L100.9,99.4A9.9,9.9 0 0 1 100.2,100.0L100.4,100.2A10.1,10.1 0 0 1 99.7,100.7L99.9,100.9A10.4,10.4 0 0 1 99.1,101.4L99.2,101.6A10.6,10.6 0 0 1 98.4,102.0L98.4,102.1A10.7,10.7 0 0 1 97.6,102.5L97.6,102.6A10.8,10.8 0 0 1 96.7,102.9L96.7,103.0A11.0,11.0 0 0 1 95.8,103.2L95.8,103.3A11.1,11.1 0 0 1 94.9,103.5L94.9,103.6A11.2,11.2 0 0 1 93.9,103.6L93.9,103.6A11.2,11.2 0 0 1 92.9,103.6L92.9,103.5A11.1,11.1 0 0 1 92.0,103.3L92.0,103.2A11.0,11.0 0 0 1 91.1,103.0L91.1,102.9A10.8,10.8 0 0 1 90.2,102.6L90.2,102.5A10.7,10.7 0 0 1 89.4,102.1L89.4,102.0A10.6,10.6 0 0 1 88.6,101.6L88.7,101.4A10.4,10.4 0 0 1 87.9,100.9L88.1,100.7A10.1,10.1 0 0 1 87.4,100.2L87.6,100.0A9.9,9.9 0 0 1 86.9,99.4L87.1,99.2A9.6,9.6 0 0 1 86.5,98.6L86.7,98.4A9.4,9.4 0 0 1 86.2,97.8L86.4,97.6A9.1,9.1 0 0 1 86.0,97.0L86.2,96.8A8.9,8.9 0 0 1 85.8,96.2L86.0,96.1A8.7,8.7 0 0 1 85.7,95.4L86.0,95.3A8.5,8.5 0 0 1 85.7,94.6L85.9,94.5A8.2,8.2 0 0 1 85.8,93.8L86.0,93.8A8.0,8.0 0 0 1 85.9,93.1L86.1,93.1A7.8,7.8 0 0 1 86.1,92.4L86.2,92.4A7.7,7.7 0 0 1 86.2,91.7L86.2,91.7A7.7,7.7 0 0 1 86.3,91.1L86.3,91.1A7.7,7.7 0 0 1 86.4,90.4L86.4,90.4A7.8,7.8 0 0 1 86.6,89.7L86.6,89.7A7.8,7.8 0 0 1 86.9,89.1L86.8,89.1A7.8,7.8 0 0 1 87.2,88.5L87.1,88.5A7.8,7.8 0 0 1 87.5,87.9L87.4,87.9A7.9,7.9 0 0 1 87.8,87.3L87.8,87.3A8.0,8.0 0 0 1 88.2,86.7L88.2,86.7A8.1,8.1 0 0 1 88.7,86.2L88.6,86.1A8.2,8.2 0 0 1 89.2,85.7L89.2,85.6A8.3,8.3 0 0 1 89.8,85.2L89.8,85.2A8.3,8.3 0 0 1 90.4,84.9L90.4,85.0A8.2,8.2 0 0 1 91.1,84.7L91.1,84.8A8.1,8.1 0 0 1 91.8,84.6L91.8,84.6A8.0,8.0 0 0 1 92.5,84.5L92.4,84.1A8.4,8.4 0 0 1 92.7,84.0Z" fill="#ed8484"/>
<path d="M93.9,92.4L93.9,80.1A12.3,12.3 0 0 1 95.0,80.2L95.0,80.4A12.1,12.1 0 0 1 96.0,80.5Z" fill="#e44a4a"/>
<path d="M93.9,92.4L96.0,80.7A11.8,11.8 0 0 1 97.0,81.0L96.9,81.2A11.6,11.6 0 0 1 97.9,81.5L97.8,81.7A11.3,11.3 0 0 1 98.7,82.1L98.6,82.4A11.1,11.1 0 0 1 99.4,82.8L99.3,83.1A10.8,10.8 0 0 1 100.1,83.6Z" fill="#e54f4f"/>
<path d="M93.9,92.4L99.9,83.8A10.4,10.4 0 0 1 100.6,84.4L100.4,84.6A10.2,10.2 0 0 1 101.1,85.2L100.9,85.4A9.9,9.9 0 0 1 101.5,86.0L101.3,86.2A9.6,9.6 0 0 1 101.8,86.9Z" fill="#e65454"/>
<path d="M93.9,92.4L101.6,87.0A9.4,9.4 0 0 1 102.0,87.7L101.8,87.8A9.2,9.2 0 0 1 102.2,88.5L102.0,88.6A8.9,8.9 0 0 1 102.3,89.3L102.1,89.4A8.7,8.7 0 0 1 102.3,90.1L102.2,90.2A8.6,8.6 0 0 1 102.4,90.9Z" fill="#e75959"/>
<path d="M93.9,92.4L102.3,90.9A8.5,8.5 0 0 1 102.4,91.7L102.2,91.7A8.4,8.4 0 0 1 102.3,92.4L102.3,92.4A8.4,8.4 0 0 1 102.2,93.1L102.3,93.1A8.5,8.5 0 0 1 102.2,93.9Z" fill="#e85e5e"/>
<path d="M93.9,92.4L102.4,93.9A8.6,8.6 0 0 1 102.2,94.6L102.3,94.7A8.7,8.7 0 0 1 102.1,95.4L102.2,95.4A8.8,8.8 0 0 1 101.9,96.1L102.0,96.2A8.9,8.9 0 0 1 101.6,96.9Z" fill="#ea6666"/>
<path d="M93.9,92.4L101.8,97.0A9.1,9.1 0 0 1 101.4,97.6L101.6,97.8A9.4,9.4 0 0 1 101.1,98.4L101.3,98.6A9.6,9.6 0 0 1 100.7,99.2L100.9,99.4A9.9,9.9 0 0 1 100.2,100.0Z" fill="#eb6f6f"/>
<path d="M93.9,92.4L100.4,100.2A10.1,10.1 0 0 1 99.7,100.7L99.9,100.9A10.4,10.4 0 0 1 99.1,101.4L99.2,101.6A10.6,10.6 0 0 1 98.4,102.0L98.4,102.1A10.7,10.7 0 0 1 97.6,102.5Z" fill="#ec7878"/>
<path d="M93.9,92.4L97.6,102.6A10.8,10.8 0 0 1 96.7,102.9L96.7,103.0A11.0,11.0 0 0 1 95.8,103.2L95.8,103.3A11.1,11.1 0 0 1 94.9,103.5L94.9,103.6A11.2,11.2 0 0 1 93.9,103.6Z" fill="#ee8080"/>
<path d="M93.9,92.4L93.9,103.6A11.2,11.2 0 0 1 92.9,103.6L92.9,103.5A11.1,11.1 0 0 1 92.0,103.3Z" fill="#ef8a8a"/>
<path d="M93.9,92.4L92.0,103.2A11.0,11.0 0 0 1 91.1,103.0L91.1,102.9A10.8,10.8 0 0 1 90.2,102.6L90.2,102.5A10.7,10.7 0 0 1 89.4,102.1L89.4,102.0A10.6,10.6 0 0 1 88.6,101.6Z" fill="#f09595"/>
<path d="M93.9,92.4L88.7,101.4A10.4,10.4 0 0 1 87.9,100.9L88.1,100.7A10.1,10.1 0 0 1 87.4,100.2Z" fill="#f1a0a0"/>
<path d="M93.9,92.4L87.6,100.0A9.9,9.9 0 0 1 86.9,99.4L87.1,99.2A9.6,9.6 0 0 1 86.5,98.6L86.7,98.4A9.4,9.4 0 0 1 86.2,97.8L86.4,97.6A9.1,9.1 0 0 1 86.0,97.0Z" fill="#f2aaaa"/>
<path d="M93.9,92.4L86.2,96.8A8.9,8.9 0 0 1 85.8,96.2L86.0,96.1A8.7,8.7 0 0 1 85.7,95.4L86.0,95.3A8.5,8.5 0 0 1 85.7,94.6Z" fill="#f3b2b2"/>
<path d="M93.9,92.4L85.9,94.5A8.2,8.2 0 0 1 85.8,93.8L86.0,93.8A8.0,8.0 0 0 1 85.9,93.1L86.1,93.1A7.8,7.8 0 0 1 86.1,92.4L86.2,92.4A7.7,7.7 0 0 1 86.2,91.7Z" fill="#f4b9b9"/>
<path d="M93.9,92.4L86.2,91.7A7.7,7.7 0 0 1 86.3,91.1L86.3,91.1A7.7,7.7 0 0 1 86.4,90.4L86.4,90.4A7.8,7.8 0 0 1 86.6,89.7Z" fill="#f5c0c0"/>
<path d="M93.9,92.4L86.6,89.7A7.8,7.8 0 0 1 86.9,89.1L86.8,89.1A7.8,7.8 0 0 1 87.2,88.5L87.1,88.5A7.8,7.8 0 0 1 87.5,87.9Z" fill="#f6c8c8"/>
<path d="M93.9,92.4L87.4,87.9A7.9,7.9 0 0 1 87.8,87.3L87.8,87.3A8.0,8.0 0 0 1 88.2,86.7L88.2,86.7A8.1,8.1 0 0 1 88.7,86.2Z" fill="#f6cbcb"/>
<path d="M93.9,92.4L88.6,86.1A8.2,8.2 0 0 1 89.2,85.7L89.2,85.6A8.3,8.3 0 0 1 89.8,85.2L89.8,85.2A8.3,8.3 0 0 1 90.4,84.9Z" fill="#f7cece"/>
<path d="M93.9,92.4L90.4,85.0A8.2,8.2 0 0 1 91.1,84.7L91.1,84.8A8.1,8.1 0 0 1 91.8,84.6Z" fill="#f8d1d1"/>
<path d="M93.9,92.4L91.8,84.6A8.0,8.0 0 0 1 92.5,84.5L92.4,84.1A8.4,8.4 0 0 1 92.7,84.0Z" fill="#f8d4d4"/>
<path d="M93.9,92.4L93.9,80.1A12.3,12.3 0 0 1 95.0,80.2L95.0,80.4A12.1,12.1 0 0 1 96.0,80.5L96.0,80.7A11.8,11.8 0 0 1 97.0,81.0L96.9,81.2A11.6,11.6 0 0 1 97.9,81.5L97.8,81.7A11.3,11.3 0 0 1 98.7,82.1L98.6,82.4A11.1,11.1 0 0 1 99.4,82.8L99.3,83.1A10.8,10.8 0 0 1 100.1,83.6L99.9,83.8A10.4,10.4 0 0 1 100.6,84.4L100.4,84.6A10.2,10.2 0 0 1 101.1,85.2L100.9,85.4A9.9,9.9 0 0 1 101.5,86.0L101.3,86.2A9.6,9.6 0 0 1 101.8,86.9L101.6,87.0A9.4,9.4 0 0 1 102.0,87.7L101.8,87.8A9.2,9.2 0 0 1 102.2,88.5L102.0,88.6A8.9,8.9 0 0 1 102.3,89.3L102.1,89.4A8.7,8.7 0 0 1 102.3,90.1L102.2,90.2A8.6,8.6 0 0 1 102.4,90.9L102.3,90.9A8.5,8.5 0 0 1 102.4,91.7L102.2,91.7A8.4,8.4 0 0 1 102.3,92.4L102.3,92.4A8.4,8.4 0 0 1 102.2,93.1L102.3,93.1A8.5,8.5 0 0 1 102.2,93.9L102.4,93.9A8.6,8.6 0 0 1 102.2,94.6L102.3,94.7A8.7,8.7 0 0 1 102.1,95.4L102.2,95.4A8.8,8.8 0 0 1 101.9,96.1L102.0,96.2A8.9,8.9 0 0 1 101.6,96.9L101.8,97.0A9.1,9.1 0 0 1 101.4,97.6L101.6,97.8A9.4,9.4 0 0 1 101.1,98.4L101.3,98.6A9.6,9.6 0 0 1 100.7,99.2L100.9,99.4A9.9,9.9 0 0 1 100.2,100.0L100.4,100.2A10.1,10.1 0 0 1 99.7,100.7L99.9,100.9A10.4,10.4 0 0 1 99.1,101.4L99.2,101.6A10.6,10.6 0 0 1 98.4,102.0L98.4,102.1A10.7,10.7 0 0 1 97.6,102.5L97.6,102.6A10.8,10.8 0 0 1 96.7,102.9L96.7,103.0A11.0,11.0 0 0 1 95.8,103.2L95.8,103.3A11.1,11.1 0 0 1 94.9,103.5L94.9,103.6A11.2,11.2 0 0 1 93.9,103.6L93.9,103.6A11.2,11.2 0 0 1 92.9,103.6L92.9,103.5A11.1,11.1 0 0 1 92.0,103.3L92.0,103.2A11.0,11.0 0 0 1 91.1,103.0L91.1,102.9A10.8,10.8 0 0 1 90.2,102.6L90.2,102.5A10.7,10.7 0 0 1 89.4,102.1L89.4,102.0A10.6,10.6 0 0 1 88.6,101.6L88.7,101.4A10.4,10.4 0 0 1 87.9,100.9L88.1,100.7A10.1,10.1 0 0 1 87.4,100.2L87.6,100.0A9.9,9.9 0 0 1 86.9,99.4L87.1,99.2A9.6,9.6 0 0 1 86.5,98.6L86.7,98.4A9.4,9.4 0 0 1 86.2,97.8L86.4,97.6A9.1,9.1 0 0 1 86.0,97.0L86.2,96.8A8.9,8.9 0 0 1 85.8,96.2L86.0,96.1A8.7,8.7 0 0 1 85.7,95.4L86.0,95.3A8.5,8.5 0 0 1 85.7,94.6L85.9,94.5A8.2,8.2 0 0 1 85.8,93.8L86.0,93.8A8.0,8.0 0 0 1 85.9,93.1L86.1,93.1A7.8,7.8 0 0 1 86.1,92.4L86.2,92.4A7.7,7.7 0 0 1 86.2,91.7L86.2,91.7A7.7,7.7 0 0 1 86.3,91.1L86.3,91.1A7.7,7.7 0 0 1 86.4,90.4L86.4,90.4A7.8,7.8 0 0 1 86.6,89.7L86.6,89.7A7.8,7.8 0 0 1 86.9,89.1L86.8,89.1A7.8,7.8 0 0 1 87.2,88.5L87.1,88.5A7.8,7.8 0 0 1 87.5,87.9L87.4,87.9A7.9,7.9 0 0 1 87.8,87.3L87.8,87.3A8.0,8.0 0 0 1 88.2,86.7L88.2,86.7A8.1,8.1 0 0 1 88.7,86.2L88.6,86.1A8.2,8.2 0 0 1 89.2,85.7L89.2,85.6A8.3,8.3 0 0 1 89.8,85.2L89.8,85.2A8.3,8.3 0 0 1 90.4,84.9L90.4,85.0A8.2,8.2 0 0 1 91.1,84.7L91.1,84.8A8.1,8.1 0 0 1 91.8,84.6L91.8,84.6A8.0,8.0 0 0 1 92.5,84.5L92.4,84.1A8.4,8.4 0 0 1 92.7,84.0Z" fill="url(#g4)"/>
<path d="M121.7,92.5L121.7,77.4A15.1,15.1 0 0 1 122.5,77.4L122.5,77.5A15.0,15.0 0 0 1 123.3,77.5L123.3,77.6A14.9,14.9 0 0 1 124.0,77.7L124.0,77.9A14.8,14.8 0 0 1 124.8,78.0L124.8,78.1A14.7,14.7 0 0 1 125.5,78.3L125.1,79.9A13.0,13.0 0 0 1 125.7,80.1L126.7,77.2A16.1,16.1 0 0 1 127.5,77.5L126.3,80.6A12.8,12.8 0 0 1 126.9,80.8L128.1,78.1A15.8,15.8 0 0 1 128.9,78.4L127.4,81.3A12.5,12.5 0 0 1 128.0,81.6L129.4,79.1A15.5,15.5 0 0 1 130.1,79.5L128.4,82.2A12.3,12.3 0 0 1 128.9,82.6L130.6,80.2A15.2,15.2 0 0 1 131.2,80.7L129.3,83.2A12.0,12.0 0 0 1 129.7,83.6L131.6,81.5A14.8,14.8 0 0 1 132.2,82.0L130.0,84.2A11.7,11.7 0 0 1 130.4,84.6L132.4,82.9A14.4,14.4 0 0 1 132.9,83.4L130.5,85.4A11.4,11.4 0 0 1 130.9,85.8L133.0,84.3A13.9,13.9 0 0 1 133.4,84.9L130.9,86.5A11.0,11.0 0 0 1 131.2,87.0L133.3,85.8A13.4,13.4 0 0 1 133.7,86.4L131.1,87.7A10.6,10.6 0 0 1 131.4,88.2L133.5,87.2A13.0,13.0 0 0 1 133.8,87.9L131.2,88.8A10.2,10.2 0 0 1 131.4,89.3L133.6,88.6A12.5,12.5 0 0 1 133.8,89.3L131.3,89.9A9.9,9.9 0 0 1 131.4,90.4L133.6,90.0A12.1,12.1 0 0 1 133.7,90.6L131.1,91.0A9.6,9.6 0 0 1 131.2,91.5L133.4,91.3A11.7,11.7 0 0 1 133.4,91.9L130.9,92.0A9.2,9.2 0 0 1 130.9,92.5L133.2,92.5A11.5,11.5 0 0 1 133.1,93.1L130.9,93.0A9.2,9.2 0 0 1 130.9,93.5L133.2,93.7A11.6,11.6 0 0 1 133.1,94.3L130.9,94.0A9.3,9.3 0 0 1 130.8,94.4L133.1,94.9A11.7,11.7 0 0 1 133.0,95.5L130.8,94.9A9.4,9.4 0 0 1 130.7,95.4L132.9,96.1A11.8,11.8 0 0 1 132.7,96.7L130.6,95.9A9.5,9.5 0 0 1 130.4,96.4L132.6,97.3A11.9,11.9 0 0 1 132.3,97.9L130.2,96.9A9.6,9.6 0 0 1 130.0,97.3L132.1,98.5A12.1,12.1 0 0 1 131.8,99.1L129.9,97.8A9.8,9.8 0 0 1 129.6,98.2L131.7,99.7A12.3,12.3 0 0 1 131.3,100.3L129.5,98.8A10.0,10.0 0 0 1 129.1,99.2L131.1,100.9A12.6,12.6 0 0 1 130.6,101.4L128.9,99.7A10.2,10.2 0 0 1 128.5,100.1L130.2,102.0A12.7,12.7 0 0 1 129.7,102.4L128.2,100.5A10.3,10.3 0 0 1 127.7,100.8L129.2,102.9A12.8,12.8 0 0 1 128.7,103.3L127.3,101.2A10.3,10.3 0 0 1 126.9,101.5L128.2,103.7A12.9,12.9 0 0 1 127.6,104.0L126.4,101.8A10.4,10.4 0 0 1 125.9,102.0L127.0,104.4A13.1,13.1 0 0 1 126.4,104.7L125.5,102.3A10.5,10.5 0 0 1 124.9,102.5L125.8,105.0A13.1,13.1 0 0 1 125.1,105.2L124.4,102.7A10.6,10.6 0 0 1 123.9,102.8L124.4,105.4A13.2,13.2 0 0 1 123.8,105.5L123.4,103.0A10.6,10.6 0 0 1 122.8,103.1L123.1,105.7A13.3,13.3 0 0 1 122.4,105.8L122.3,103.2A10.7,10.7 0 0 1 121.7,103.2L121.7,105.8A13.3,13.3 0 0 1 121.0,105.8L121.1,103.1A10.6,10.6 0 0 1 120.6,103.1L120.5,104.3A11.9,11.9 0 0 1 119.8,104.2L119.9,104.2A11.8,11.8 0 0 1 119.2,104.1L119.3,104.0A11.8,11.8 0 0 1 118.7,103.9L118.7,103.8A11.7,11.7 0 0 1 118.1,103.7L118.1,103.6A11.7,11.7 0 0 1 117.5,103.4L117.5,103.4A11.6,11.6 0 0 1 117.0,103.1L117.0,103.1A11.6,11.6 0 0 1 116.4,102.8L116.5,102.8A11.5,11.5 0 0 1 115.9,102.5L116.0,102.4A11.4,11.4 0 0 1 115.5,102.1L115.5,102.0A11.3,11.3 0 0 1 115.0,101.7L115.1,101.6A11.2,11.2 0 0 1 114.6,101.2L114.7,101.2A11.2,11.2 0 0 1 114.2,100.8L114.3,100.7A11.1,11.1 0 0 1 113.9,100.3L114.0,100.2A10.9,10.9 0 0 1 113.6,99.8L113.6,99.8A10.8,10.8 0 0 1 113.3,99.3L113.3,99.3A10.8,10.8 0 0 1 113.0,98.8L113.1,98.8A10.7,10.7 0 0 1 112.8,98.3L112.9,98.2A10.6,10.6 0 0 1 112.6,97.8L112.6,97.7A10.5,10.5 0 0 1 112.4,97.3L112.4,97.2A10.4,10.4 0 0 1 112.2,96.7L112.2,96.7A10.3,10.3 0 0 1 112.0,96.2L112.1,96.2A10.3,10.3 0 0 1 111.9,95.7L112.0,95.7A10.2,10.2 0 0 1 111.8,95.1L111.9,95.1A10.2,10.2 0 0 1 111.8,94.6L111.8,94.6A10.1,10.1 0 0 1 111.7,94.1L111.8,94.1A10.1,10.1 0 0 1 111.7,93.6L111.8,93.5A10.0,10.0 0 0 1 111.7,93.0L111.8,93.0A9.9,9.9 0 0 1 111.8,92.5L111.8,92.5A9.9,9.9 0 0 1 111.8,92.0L111.7,92.0A10.0,10.0 0 0 1 111.8,91.5L111.7,91.4A10.1,10.1 0 0 1 111.8,90.9L111.7,90.9A10.1,10.1 0 0 1 111.8,90.4L111.8,90.4A10.2,10.2 0 0 1 111.9,89.9L111.8,89.9A10.2,10.2 0 0 1 112.0,89.3L111.9,89.3A10.3,10.3 0 0 1 112.1,88.8L112.0,88.8A10.3,10.3 0 0 1 112.2,88.3L112.2,88.3A10.4,10.4 0 0 1 112.4,87.8L112.4,87.7A10.5,10.5 0 0 1 112.6,87.3L112.6,87.2A10.6,10.6 0 0 1 112.8,86.7L112.7,86.7A10.7,10.7 0 0 1 113.1,86.2L113.0,86.2A10.8,10.8 0 0 1 113.3,85.7L113.2,85.6A10.9,10.9 0 0 1 113.6,85.2L113.5,85.1A11.0,11.0 0 0 1 113.9,84.7L113.9,84.7A11.1,11.1 0 0 1 114.3,84.3L114.3,84.3A11.0,11.0 0 0 1 114.8,84.0L114.8,84.0A10.9,10.9 0 0 1 115.3,83.7L115.3,83.7A10.8,10.8 0 0 1 115.8,83.4L115.8,83.5A10.8,10.8 0 0 1 116.3,83.2L116.3,83.2A10.7,10.7 0 0 1 116.8,83.0L116.9,83.0A10.6,10.6 0 0 1 117.4,82.8L117.4,82.9A10.6,10.6 0 0 1 117.9,82.6L117.9,82.7A10.5,10.5 0 0 1 118.5,82.5L118.5,82.7A10.4,10.4 0 0 1 119.0,82.5L119.1,82.6A10.2,10.2 0 0 1 119.6,82.5L119.6,82.6A10.1,10.1 0 0 1 120.1,82.5L120.1,82.3A10.3,10.3 0 0 1 120.6,82.2Z" fill="#eb6453"/>
<path d="M121.7,92.5L121.7,77.4A15.1,15.1 0 0 1 122.5,77.4L122.5,77.5A15.0,15.0 0 0 1 123.3,77.5L123.3,77.6A14.9,14.9 0 0 1 124.0,77.7L124.0,77.9A14.8,14.8 0 0 1 124.8,78.0Z" fill="#e63c22"/>
<path d="M121.7,92.5L124.8,78.1A14.7,14.7 0 0 1 125.5,78.3L125.1,79.9A13.0,13.0 0 0 1 125.7,80.1L126.7,77.2A16.1,16.1 0 0 1 127.5,77.5L126.3,80.6A12.8,12.8 0 0 1 126.9,80.8L128.1,78.1A15.8,15.8 0 0 1 128.9,78.4L127.4,81.3A12.5,12.5 0 0 1 128.0,81.6L129.4,79.1A15.5,15.5 0 0 1 130.1,79.5L128.4,82.2A12.3,12.3 0 0 1 128.9,82.6Z" fill="#e64026"/>
<path d="M121.7,92.5L130.6,80.2A15.2,15.2 0 0 1 131.2,80.7L129.3,83.2A12.0,12.0 0 0 1 129.7,83.6L131.6,81.5A14.8,14.8 0 0 1 132.2,82.0L130.0,84.2A11.7,11.7 0 0 1 130.4,84.6L132.4,82.9A14.4,14.4 0 0 1 132.9,83.4L130.5,85.4A11.4,11.4 0 0 1 130.9,85.8L133.0,84.3A13.9,13.9 0 0 1 133.4,84.9L130.9,86.5A11.0,11.0 0 0 1 131.2,87.0L133.3,85.8A13.4,13.4 0 0 1 133.7,86.4Z" fill="#e74329"/>
<path d="M121.7,92.5L131.1,87.7A10.6,10.6 0 0 1 131.4,88.2L133.5,87.2A13.0,13.0 0 0 1 133.8,87.9L131.2,88.8A10.2,10.2 0 0 1 131.4,89.3L133.6,88.6A12.5,12.5 0 0 1 133.8,89.3L131.3,89.9A9.9,9.9 0 0 1 131.4,90.4L133.6,90.0A12.1,12.1 0 0 1 133.7,90.6L131.1,91.0A9.6,9.6 0 0 1 131.2,91.5L133.4,91.3A11.7,11.7 0 0 1 133.4,91.9Z" fill="#e8462c"/>
<path d="M121.7,92.5L130.9,92.0A9.2,9.2 0 0 1 130.9,92.5L133.2,92.5A11.5,11.5 0 0 1 133.1,93.1L130.9,93.0A9.2,9.2 0 0 1 130.9,93.5L133.2,93.7A11.6,11.6 0 0 1 133.1,94.3L130.9,94.0A9.3,9.3 0 0 1 130.8,94.4L133.1,94.9A11.7,11.7 0 0 1 133.0,95.5L130.8,94.9A9.4,9.4 0 0 1 130.7,95.4L132.9,96.1A11.8,11.8 0 0 1 132.7,96.7Z" fill="#e84a30"/>
<path d="M121.7,92.5L130.6,95.9A9.5,9.5 0 0 1 130.4,96.4L132.6,97.3A11.9,11.9 0 0 1 132.3,97.9L130.2,96.9A9.6,9.6 0 0 1 130.0,97.3L132.1,98.5A12.1,12.1 0 0 1 131.8,99.1L129.9,97.8A9.8,9.8 0 0 1 129.6,98.2L131.7,99.7A12.3,12.3 0 0 1 131.3,100.3L129.5,98.8A10.0,10.0 0 0 1 129.1,99.2Z" fill="#e84f38"/>
<path d="M121.7,92.5L131.1,100.9A12.6,12.6 0 0 1 130.6,101.4L128.9,99.7A10.2,10.2 0 0 1 128.5,100.1L130.2,102.0A12.7,12.7 0 0 1 129.7,102.4L128.2,100.5A10.3,10.3 0 0 1 127.7,100.8L129.2,102.9A12.8,12.8 0 0 1 128.7,103.3L127.3,101.2A10.3,10.3 0 0 1 126.9,101.5L128.2,103.7A12.9,12.9 0 0 1 127.6,104.0Z" fill="#e95440"/>
<path d="M121.7,92.5L126.4,101.8A10.4,10.4 0 0 1 125.9,102.0L127.0,104.4A13.1,13.1 0 0 1 126.4,104.7L125.5,102.3A10.5,10.5 0 0 1 124.9,102.5L125.8,105.0A13.1,13.1 0 0 1 125.1,105.2L124.4,102.7A10.6,10.6 0 0 1 123.9,102.8L124.4,105.4A13.2,13.2 0 0 1 123.8,105.5L123.4,103.0A10.6,10.6 0 0 1 122.8,103.1Z" fill="#ea5948"/>
<path d="M121.7,92.5L123.1,105.7A13.3,13.3 0 0 1 122.4,105.8L122.3,103.2A10.7,10.7 0 0 1 121.7,103.2L121.7,105.8A13.3,13.3 0 0 1 121.0,105.8L121.1,103.1A10.6,10.6 0 0 1 120.6,103.1L120.5,104.3A11.9,11.9 0 0 1 119.8,104.2L119.9,104.2A11.8,11.8 0 0 1 119.2,104.1Z" fill="#ea5e50"/>
<path d="M121.7,92.5L119.3,104.0A11.8,11.8 0 0 1 118.7,103.9L118.7,103.8A11.7,11.7 0 0 1 118.1,103.7L118.1,103.6A11.7,11.7 0 0 1 117.5,103.4L117.5,103.4A11.6,11.6 0 0 1 117.0,103.1L117.0,103.1A11.6,11.6 0 0 1 116.4,102.8L116.5,102.8A11.5,11.5 0 0 1 115.9,102.5Z" fill="#ec6a5d"/>
<path d="M121.7,92.5L116.0,102.4A11.4,11.4 0 0 1 115.5,102.1L115.5,102.0A11.3,11.3 0 0 1 115.0,101.7L115.1,101.6A11.2,11.2 0 0 1 114.6,101.2L114.7,101.2A11.2,11.2 0 0 1 114.2,100.8L114.3,100.7A11.1,11.1 0 0 1 113.9,100.3Z" fill="#ed756a"/>
<path d="M121.7,92.5L114.0,100.2A10.9,10.9 0 0 1 113.6,99.8L113.6,99.8A10.8,10.8 0 0 1 113.3,99.3L113.3,99.3A10.8,10.8 0 0 1 113.0,98.8L113.1,98.8A10.7,10.7 0 0 1 112.8,98.3L112.9,98.2A10.6,10.6 0 0 1 112.6,97.8L112.6,97.7A10.5,10.5 0 0 1 112.4,97.3Z" fill="#ee8077"/>
<path d="M121.7,92.5L112.4,97.2A10.4,10.4 0 0 1 112.2,96.7L112.2,96.7A10.3,10.3 0 0 1 112.0,96.2L112.1,96.2A10.3,10.3 0 0 1 111.9,95.7L112.0,95.7A10.2,10.2 0 0 1 111.8,95.1L111.9,95.1A10.2,10.2 0 0 1 111.8,94.6L111.8,94.6A10.1,10.1 0 0 1 111.7,94.1L111.8,94.1A10.1,10.1 0 0 1 111.7,93.6Z" fill="#f08c84"/>
<path d="M121.7,92.5L111.8,93.5A10.0,10.0 0 0 1 111.7,93.0L111.8,93.0A9.9,9.9 0 0 1 111.8,92.5L111.8,92.5A9.9,9.9 0 0 1 111.8,92.0L111.7,92.0A10.0,10.0 0 0 1 111.8,91.5L111.7,91.4A10.1,10.1 0 0 1 111.8,90.9L111.7,90.9A10.1,10.1 0 0 1 111.8,90.4L111.8,90.4A10.2,10.2 0 0 1 111.9,89.9L111.8,89.9A10.2,10.2 0 0 1 112.0,89.3Z" fill="#f1948c"/>
<path d="M121.7,92.5L111.9,89.3A10.3,10.3 0 0 1 112.1,88.8L112.0,88.8A10.3,10.3 0 0 1 112.2,88.3L112.2,88.3A10.4,10.4 0 0 1 112.4,87.8L112.4,87.7A10.5,10.5 0 0 1 112.6,87.3L112.6,87.2A10.6,10.6 0 0 1 112.8,86.7L112.7,86.7A10.7,10.7 0 0 1 113.1,86.2L113.0,86.2A10.8,10.8 0 0 1 113.3,85.7L113.2,85.6A10.9,10.9 0 0 1 113.6,85.2L113.5,85.1A11.0,11.0 0 0 1 113.9,84.7Z" fill="#f29b94"/>
<path d="M121.7,92.5L113.9,84.7A11.1,11.1 0 0 1 114.3,84.3L114.3,84.3A11.0,11.0 0 0 1 114.8,84.0L114.8,84.0A10.9,10.9 0 0 1 115.3,83.7L115.3,83.7A10.8,10.8 0 0 1 115.8,83.4L115.8,83.5A10.8,10.8 0 0 1 116.3,83.2L116.3,83.2A10.7,10.7 0 0 1 116.8,83.0L116.9,83.0A10.6,10.6 0 0 1 117.4,82.8L117.4,82.9A10.6,10.6 0 0 1 117.9,82.6L117.9,82.7A10.5,10.5 0 0 1 118.5,82.5Z" fill="#f3a29c"/>
<path d="M121.7,92.5L118.5,82.7A10.4,10.4 0 0 1 119.0,82.5L119.1,82.6A10.2,10.2 0 0 1 119.6,82.5L119.6,82.6A10.1,10.1 0 0 1 120.1,82.5L120.1,82.3A10.3,10.3 0 0 1 120.6,82.2Z" fill="#f4aaa4"/>
<path d="M121.7,92.5L121.7,77.4A15.1,15.1 0 0 1 122.5,77.4L122.5,77.5A15.0,15.0 0 0 1 123.3,77.5L123.3,77.6A14.9,14.9 0 0 1 124.0,77.7L124.0,77.9A14.8,14.8 0 0 1 124.8,78.0L124.8,78.1A14.7,14.7 0 0 1 125.5,78.3L125.1,79.9A13.0,13.0 0 0 1 125.7,80.1L126.7,77.2A16.1,16.1 0 0 1 127.5,77.5L126.3,80.6A12.8,12.8 0 0 1 126.9,80.8L128.1,78.1A15.8,15.8 0 0 1 128.9,78.4L127.4,81.3A12.5,12.5 0 0 1 128.0,81.6L129.4,79.1A15.5,15.5 0 0 1 130.1,79.5L128.4,82.2A12.3,12.3 0 0 1 128.9,82.6L130.6,80.2A15.2,15.2 0 0 1 131.2,80.7L129.3,83.2A12.0,12.0 0 0 1 129.7,83.6L131.6,81.5A14.8,14.8 0 0 1 132.2,82.0L130.0,84.2A11.7,11.7 0 0 1 130.4,84.6L132.4,82.9A14.4,14.4 0 0 1 132.9,83.4L130.5,85.4A11.4,11.4 0 0 1 130.9,85.8L133.0,84.3A13.9,13.9 0 0 1 133.4,84.9L130.9,86.5A11.0,11.0 0 0 1 131.2,87.0L133.3,85.8A13.4,13.4 0 0 1 133.7,86.4L131.1,87.7A10.6,10.6 0 0 1 131.4,88.2L133.5,87.2A13.0,13.0 0 0 1 133.8,87.9L131.2,88.8A10.2,10.2 0 0 1 131.4,89.3L133.6,88.6A12.5,12.5 0 0 1 133.8,89.3L131.3,89.9A9.9,9.9 0 0 1 131.4,90.4L133.6,90.0A12.1,12.1 0 0 1 133.7,90.6L131.1,91.0A9.6,9.6 0 0 1 131.2,91.5L133.4,91.3A11.7,11.7 0 0 1 133.4,91.9L130.9,92.0A9.2,9.2 0 0 1 130.9,92.5L133.2,92.5A11.5,11.5 0 0 1 133.1,93.1L130.9,93.0A9.2,9.2 0 0 1 130.9,93.5L133.2,93.7A11.6,11.6 0 0 1 133.1,94.3L130.9,94.0A9.3,9.3 0 0 1 130.8,94.4L133.1,94.9A11.7,11.7 0 0 1 133.0,95.5L130.8,94.9A9.4,9.4 0 0 1 130.7,95.4L132.9,96.1A11.8,11.8 0 0 1 132.7,96.7L130.6,95.9A9.5,9.5 0 0 1 130.4,96.4L132.6,97.3A11.9,11.9 0 0 1 132.3,97.9L130.2,96.9A9.6,9.6 0 0 1 130.0,97.3L132.1,98.5A12.1,12.1 0 0 1 131.8,99.1L129.9,97.8A9.8,9.8 0 0 1 129.6,98.2L131.7,99.7A12.3,12.3 0 0 1 131.3,100.3L129.5,98.8A10.0,10.0 0 0 1 129.1,99.2L131.1,100.9A12.6,12.6 0 0 1 130.6,101.4L128.9,99.7A10.2,10.2 0 0 1 128.5,100.1L130.2,102.0A12.7,12.7 0 0 1 129.7,102.4L128.2,100.5A10.3,10.3 0 0 1 127.7,100.8L129.2,102.9A12.8,12.8 0 0 1 128.7,103.3L127.3,101.2A10.3,10.3 0 0 1 126.9,101.5L128.2,103.7A12.9,12.9 0 0 1 127.6,104.0L126.4,101.8A10.4,10.4 0 0 1 125.9,102.0L127.0,104.4A13.1,13.1 0 0 1 126.4,104.7L125.5,102.3A10.5,10.5 0 0 1 124.9,102.5L125.8,105.0A13.1,13.1 0 0 1 125.1,105.2L124.4,102.7A10.6,10.6 0 0 1 123.9,102.8L124.4,105.4A13.2,13.2 0 0 1 123.8,105.5L123.4,103.0A10.6,10.6 0 0 1 122.8,103.1L123.1,105.7A13.3,13.3 0 0 1 122.4,105.8L122.3,103.2A10.7,10.7 0 0 1 121.7,103.2L121.7,105.8A13.3,13.3 0 0 1 121.0,105.8L121.1,103.1A10.6,10.6 0 0 1 120.6,103.1L120.5,104.3A11.9,11.9 0 0 1 119.8,104.2L119.9,104.2A11.8,11.8 0 0 1 119.2,104.1L119.3,104.0A11.8,11.8 0 0 1 118.7,103.9L118.7,103.8A11.7,11.7 0 0 1 118.1,103.7L118.1,103.6A11.7,11.7 0 0 1 117.5,103.4L117.5,103.4A11.6,11.6 0 0 1 117.0,103.1L117.0,103.1A11.6,11.6 0 0 1 116.4,102.8L116.5,102.8A11.5,11.5 0 0 1 115.9,102.5L116.0,102.4A11.4,11.4 0 0 1 115.5,102.1L115.5,102.0A11.3,11.3 0 0 1 115.0,101.7L115.1,101.6A11.2,11.2 0 0 1 114.6,101.2L114.7,101.2A11.2,11.2 0 0 1 114.2,100.8L114.3,100.7A11.1,11.1 0 0 1 113.9,100.3L114.0,100.2A10.9,10.9 0 0 1 113.6,99.8L113.6,99.8A10.8,10.8 0 0 1 113.3,99.3L113.3,99.3A10.8,10.8 0 0 1 113.0,98.8L113.1,98.8A10.7,10.7 0 0 1 112.8,98.3L112.9,98.2A10.6,10.6 0 0 1 112.6,97.8L112.6,97.7A10.5,10.5 0 0 1 112.4,97.3L112.4,97.2A10.4,10.4 0 0 1 112.2,96.7L112.2,96.7A10.3,10.3 0 0 1 112.0,96.2L112.1,96.2A10.3,10.3 0 0 1 111.9,95.7L112.0,95.7A10.2,10.2 0 0 1 111.8,95.1L111.9,95.1A10.2,10.2 0 0 1 111.8,94.6L111.8,94.6A10.1,10.1 0 0 1 111.7,94.1L111.8,94.1A10.1,10.1 0 0 1 111.7,93.6L111.8,93.5A10.0,10.0 0 0 1 111.7,93.0L111.8,93.0A9.9,9.9 0 0 1 111.8,92.5L111.8,92.5A9.9,9.9 0 0 1 111.8,92.0L111.7,92.0A10.0,10.0 0 0 1 111.8,91.5L111.7,91.4A10.1,10.1 0 0 1 111.8,90.9L111.7,90.9A10.1,10.1 0 0 1 111.8,90.4L111.8,90.4A10.2,10.2 0 0 1 111.9,89.9L111.8,89.9A10.2,10.2 0 0 1 112.0,89.3L111.9,89.3A10.3,10.3 0 0 1 112.1,88.8L112.0,88.8A10.3,10.3 0 0 1 112.2,88.3L112.2,88.3A10.4,10.4 0 0 1 112.4,87.8L112.4,87.7A10.5,10.5 0 0 1 112.6,87.3L112.6,87.2A10.6,10.6 0 0 1 112.8,86.7L112.7,86.7A10.7,10.7 0 0 1 113.1,86.2L113.0,86.2A10.8,10.8 0 0 1 113.3,85.7L113.2,85.6A10.9,10.9 0 0 1 113.6,85.2L113.5,85.1A11.0,11.0 0 0 1 113.9,84.7L113.9,84.7A11.1,11.1 0 0 1 114.3,84.3L114.3,84.3A11.0,11.0 0 0 1 114.8,84.0L114.8,84.0A10.9,10.9 0 0 1 115.3,83.7L115.3,83.7A10.8,10.8 0 0 1 115.8,83.4L115.8,83.5A10.8,10.8 0 0 1 116.3,83.2L116.3,83.2A10.7,10.7 0 0 1 116.8,83.0L116.9,83.0A10.6,10.6 0 0 1 117.4,82.8L117.4,82.9A10.6,10.6 0 0 1 117.9,82.6L117.9,82.7A10.5,10.5 0 0 1 118.5,82.5L118.5,82.7A10.4,10.4 0 0 1 119.0,82.5L119.1,82.6A10.2,10.2 0 0 1 119.6,82.5L119.6,82.6A10.1,10.1 0 0 1 120.1,82.5L120.1,82.3A10.3,10.3 0 0 1 120.6,82.2Z" fill="url(#g5)"/>
<path d="M149.3,93.0L149.3,83.0A10.0,10.0 0 0 1 150.2,83.0L150.0,85.5A7.5,7.5 0 0 1 150.6,85.6L150.2,88.1A5.0,5.0 0 0 1 150.6,88.2L150.6,88.3A4.9,4.9 0 0 1 151.0,88.4L150.9,88.5A4.8,4.8 0 0 1 151.3,88.6L151.3,88.7A4.7,4.7 0 0 1 151.7,88.9L151.6,89.0A4.7,4.7 0 0 1 152.0,89.2L151.9,89.2A4.6,4.6 0 0 1 152.3,89.5L152.2,89.5A4.5,4.5 0 0 1 152.5,89.8L152.5,89.8A4.5,4.5 0 0 1 152.7,90.1L152.7,90.1A4.5,4.5 0 0 1 153.0,90.4L153.0,90.4A4.5,4.5 0 0 1 153.2,90.8L153.2,90.8A4.5,4.5 0 0 1 153.4,91.1L153.4,91.1A4.5,4.5 0 0 1 153.5,91.5L153.5,91.5A4.5,4.5 0 0 1 153.6,91.8L153.6,91.8A4.5,4.5 0 0 1 153.7,92.2L153.7,92.2A4.5,4.5 0 0 1 153.8,92.6L153.8,92.6A4.5,4.5 0 0 1 153.8,93.0L153.8,93.0A4.5,4.5 0 0 1 153.8,93.4L153.8,93.4A4.5,4.5 0 0 1 153.8,93.8L153.8,93.8A4.6,4.6 0 0 1 153.7,94.2L153.8,94.2A4.6,4.6 0 0 1 153.6,94.6L153.7,94.6A4.7,4.7 0 0 1 153.5,95.0L153.5,95.0A4.7,4.7 0 0 1 153.4,95.3L153.4,95.4A4.7,4.7 0 0 1 153.2,95.7L153.2,95.7A4.8,4.8 0 0 1 152.9,96.1L153.0,96.1A4.8,4.8 0 0 1 152.7,96.4L152.7,96.4A4.8,4.8 0 0 1 152.4,96.7L152.4,96.7A4.8,4.8 0 0 1 152.1,96.9L152.1,96.9A4.8,4.8 0 0 1 151.7,97.2L151.7,97.2A4.8,4.8 0 0 1 151.3,97.4L151.3,97.4A4.8,4.8 0 0 1 150.9,97.5L150.9,97.5A4.8,4.8 0 0 1 150.5,97.6L150.5,97.6A4.8,4.8 0 0 1 150.1,97.7L150.1,97.7A4.8,4.8 0 0 1 149.7,97.8L149.7,97.8A4.8,4.8 0 0 1 149.3,97.8L149.3,97.8A4.8,4.8 0 0 1 148.9,97.8L148.9,97.8A4.8,4.8 0 0 1 148.5,97.7L148.5,97.7A4.8,4.8 0 0 1 148.1,97.6L148.1,97.6A4.8,4.8 0 0 1 147.7,97.5L147.7,97.5A4.8,4.8 0 0 1 147.3,97.4L147.3,97.4A4.8,4.8 0 0 1 146.9,97.2L146.9,97.2A4.8,4.8 0 0 1 146.5,96.9L146.5,96.9A4.8,4.8 0 0 1 146.2,96.7L146.2,96.7A4.8,4.8 0 0 1 145.9,96.4L145.9,96.4A4.8,4.8 0 0 1 145.6,96.1L145.6,96.1A4.8,4.8 0 0 1 145.4,95.7L145.4,95.7A4.8,4.8 0 0 1 145.2,95.4L145.2,95.4A4.8,4.8 0 0 1 145.0,95.0L145.0,95.0A4.8,4.8 0 0 1 144.8,94.6L144.8,94.6A4.7,4.7 0 0 1 144.7,94.2L144.7,94.2A4.7,4.7 0 0 1 144.6,93.8L144.7,93.8A4.7,4.7 0 0 1 144.6,93.4L144.6,93.4A4.7,4.7 0 0 1 144.6,93.0L144.6,93.0A4.7,4.7 0 0 1 144.6,92.6L144.7,92.6A4.7,4.7 0 0 1 144.7,92.2L144.7,92.2A4.6,4.6 0 0 1 144.8,91.8L144.8,91.8A4.6,4.6 0 0 1 145.0,91.4L145.0,91.4A4.6,4.6 0 0 1 145.1,91.1L145.2,91.1A4.6,4.6 0 0 1 145.3,90.7L145.4,90.7A4.6,4.6 0 0 1 145.6,90.4L145.6,90.4A4.5,4.5 0 0 1 145.8,90.1L145.8,90.1A4.5,4.5 0 0 1 146.1,89.8L146.1,89.8A4.5,4.5 0 0 1 146.4,89.6L146.4,89.6A4.4,4.4 0 0 1 146.8,89.4L146.8,89.4A4.4,4.4 0 0 1 147.1,89.2L147.1,89.2A4.3,4.3 0 0 1 147.5,89.1L147.5,89.1A4.3,4.3 0 0 1 147.8,89.0L147.8,89.0A4.3,4.3 0 0 1 148.2,88.9L148.2,88.9A4.2,4.2 0 0 1 148.6,88.8L148.3,87.4A5.7,5.7 0 0 1 148.8,87.4L148.6,84.5A8.6,8.6 0 0 1 149.3,84.5Z" fill="#c2bce2"/>
<path d="M149.3,93.0L149.3,83.0A10.0,10.0 0 0 1 150.2,83.0L150.0,85.5A7.5,7.5 0 0 1 150.6,85.6Z" fill="#c8c4d4"/>
<path d="M149.3,93.0L150.2,88.1A5.0,5.0 0 0 1 150.6,88.2L150.6,88.3A4.9,4.9 0 0 1 151.0,88.4Z" fill="#e0dcf0"/>
<path d="M149.3,93.0L150.9,88.5A4.8,4.8 0 0 1 151.3,88.6L151.3,88.7A4.7,4.7 0 0 1 151.7,88.9L151.6,89.0A4.7,4.7 0 0 1 152.0,89.2L151.9,89.2A4.6,4.6 0 0 1 152.3,89.5L152.2,89.5A4.5,4.5 0 0 1 152.5,89.8Z" fill="#dedaf0"/>
<path d="M149.3,93.0L152.5,89.8A4.5,4.5 0 0 1 152.7,90.1L152.7,90.1A4.5,4.5 0 0 1 153.0,90.4L153.0,90.4A4.5,4.5 0 0 1 153.2,90.8L153.2,90.8A4.5,4.5 0 0 1 153.4,91.1L153.4,91.1A4.5,4.5 0 0 1 153.5,91.5Z" fill="#dcd8ef"/>
<path d="M149.3,93.0L153.5,91.5A4.5,4.5 0 0 1 153.6,91.8L153.6,91.8A4.5,4.5 0 0 1 153.7,92.2L153.7,92.2A4.5,4.5 0 0 1 153.8,92.6L153.8,92.6A4.5,4.5 0 0 1 153.8,93.0L153.8,93.0A4.5,4.5 0 0 1 153.8,93.4Z" fill="#dad6ee"/>
<path d="M149.3,93.0L153.8,93.4A4.5,4.5 0 0 1 153.8,93.8L153.8,93.8A4.6,4.6 0 0 1 153.7,94.2L153.8,94.2A4.6,4.6 0 0 1 153.6,94.6L153.7,94.6A4.7,4.7 0 0 1 153.5,95.0L153.5,95.0A4.7,4.7 0 0 1 153.4,95.3Z" fill="#d8d4ee"/>
<path d="M149.3,93.0L153.4,95.4A4.7,4.7 0 0 1 153.2,95.7L153.2,95.7A4.8,4.8 0 0 1 152.9,96.1Z" fill="#d0ccea"/>
<path d="M149.3,93.0L153.0,96.1A4.8,4.8 0 0 1 152.7,96.4L152.7,96.4A4.8,4.8 0 0 1 152.4,96.7L152.4,96.7A4.8,4.8 0 0 1 152.1,96.9L152.1,96.9A4.8,4.8 0 0 1 151.7,97.2Z" fill="#c8c3e7"/>
<path d="M149.3,93.0L151.7,97.2A4.8,4.8 0 0 1 151.3,97.4L151.3,97.4A4.8,4.8 0 0 1 150.9,97.5Z" fill="#c0bae4"/>
<path d="M149.3,93.0L150.9,97.5A4.8,4.8 0 0 1 150.5,97.6L150.5,97.6A4.8,4.8 0 0 1 150.1,97.7L150.1,97.7A4.8,4.8 0 0 1 149.7,97.8L149.7,97.8A4.8,4.8 0 0 1 149.3,97.8L149.3,97.8A4.8,4.8 0 0 1 148.9,97.8L148.9,97.8A4.8,4.8 0 0 1 148.5,97.7Z" fill="#b8b2e0"/>
<path d="M149.3,93.0L148.5,97.7A4.8,4.8 0 0 1 148.1,97.6L148.1,97.6A4.8,4.8 0 0 1 147.7,97.5L147.7,97.5A4.8,4.8 0 0 1 147.3,97.4L147.3,97.4A4.8,4.8 0 0 1 146.9,97.2L146.9,97.2A4.8,4.8 0 0 1 146.5,96.9L146.5,96.9A4.8,4.8 0 0 1 146.2,96.7L146.2,96.7A4.8,4.8 0 0 1 145.9,96.4L145.9,96.4A4.8,4.8 0 0 1 145.6,96.1Z" fill="#b6b0df"/>
<path d="M149.3,93.0L145.6,96.1A4.8,4.8 0 0 1 145.4,95.7L145.4,95.7A4.8,4.8 0 0 1 145.2,95.4L145.2,95.4A4.8,4.8 0 0 1 145.0,95.0L145.0,95.0A4.8,4.8 0 0 1 144.8,94.6L144.8,94.6A4.7,4.7 0 0 1 144.7,94.2L144.7,94.2A4.7,4.7 0 0 1 144.6,93.8L144.7,93.8A4.7,4.7 0 0 1 144.6,93.4L144.6,93.4A4.7,4.7 0 0 1 144.6,93.0Z" fill="#b3adde"/>
<path d="M149.3,93.0L144.6,93.0A4.7,4.7 0 0 1 144.6,92.6L144.7,92.6A4.7,4.7 0 0 1 144.7,92.2L144.7,92.2A4.6,4.6 0 0 1 144.8,91.8L144.8,91.8A4.6,4.6 0 0 1 145.0,91.4L145.0,91.4A4.6,4.6 0 0 1 145.1,91.1L145.2,91.1A4.6,4.6 0 0 1 145.3,90.7L145.4,90.7A4.6,4.6 0 0 1 145.6,90.4L145.6,90.4A4.5,4.5 0 0 1 145.8,90.1Z" fill="#b0aadd"/>
<path d="M149.3,93.0L145.8,90.1A4.5,4.5 0 0 1 146.1,89.8L146.1,89.8A4.5,4.5 0 0 1 146.4,89.6L146.4,89.6A4.4,4.4 0 0 1 146.8,89.4L146.8,89.4A4.4,4.4 0 0 1 147.1,89.2L147.1,89.2A4.3,4.3 0 0 1 147.5,89.1L147.5,89.1A4.3,4.3 0 0 1 147.8,89.0L147.8,89.0A4.3,4.3 0 0 1 148.2,88.9L148.2,88.9A4.2,4.2 0 0 1 148.6,88.8L148.3,87.4A5.7,5.7 0 0 1 148.8,87.4L148.6,84.5A8.6,8.6 0 0 1 149.3,84.5Z" fill="#aea8dc"/>
<path d="M149.3,93.0L149.3,83.0A10.0,10.0 0 0 1 150.2,83.0L150.0,85.5A7.5,7.5 0 0 1 150.6,85.6L150.2,88.1A5.0,5.0 0 0 1 150.6,88.2L150.6,88.3A4.9,4.9 0 0 1 151.0,88.4L150.9,88.5A4.8,4.8 0 0 1 151.3,88.6L151.3,88.7A4.7,4.7 0 0 1 151.7,88.9L151.6,89.0A4.7,4.7 0 0 1 152.0,89.2L151.9,89.2A4.6,4.6 0 0 1 152.3,89.5L152.2,89.5A4.5,4.5 0 0 1 152.5,89.8L152.5,89.8A4.5,4.5 0 0 1 152.7,90.1L152.7,90.1A4.5,4.5 0 0 1 153.0,90.4L153.0,90.4A4.5,4.5 0 0 1 153.2,90.8L153.2,90.8A4.5,4.5 0 0 1 153.4,91.1L153.4,91.1A4.5,4.5 0 0 1 153.5,91.5L153.5,91.5A4.5,4.5 0 0 1 153.6,91.8L153.6,91.8A4.5,4.5 0 0 1 153.7,92.2L153.7,92.2A4.5,4.5 0 0 1 153.8,92.6L153.8,92.6A4.5,4.5 0 0 1 153.8,93.0L153.8,93.0A4.5,4.5 0 0 1 153.8,93.4L153.8,93.4A4.5,4.5 0 0 1 153.8,93.8L153.8,93.8A4.6,4.6 0 0 1 153.7,94.2L153.8,94.2A4.6,4.6 0 0 1 153.6,94.6L153.7,94.6A4.7,4.7 0 0 1 153.5,95.0L153.5,95.0A4.7,4.7 0 0 1 153.4,95.3L153.4,95.4A4.7,4.7 0 0 1 153.2,95.7L153.2,95.7A4.8,4.8 0 0 1 152.9,96.1L153.0,96.1A4.8,4.8 0 0 1 152.7,96.4L152.7,96.4A4.8,4.8 0 0 1 152.4,96.7L152.4,96.7A4.8,4.8 0 0 1 152.1,96.9L152.1,96.9A4.8,4.8 0 0 1 151.7,97.2L151.7,97.2A4.8,4.8 0 0 1 151.3,97.4L151.3,97.4A4.8,4.8 0 0 1 150.9,97.5L150.9,97.5A4.8,4.8 0 0 1 150.5,97.6L150.5,97.6A4.8,4.8 0 0 1 150.1,97.7L150.1,97.7A4.8,4.8 0 0 1 149.7,97.8L149.7,97.8A4.8,4.8 0 0 1 149.3,97.8L149.3,97.8A4.8,4.8 0 0 1 148.9,97.8L148.9,97.8A4.8,4.8 0 0 1 148.5,97.7L148.5,97.7A4.8,4.8 0 0 1 148.1,97.6L148.1,97.6A4.8,4.8 0 0 1 147.7,97.5L147.7,97.5A4.8,4.8 0 0 1 147.3,97.4L147.3,97.4A4.8,4.8 0 0 1 146.9,97.2L146.9,97.2A4.8,4.8 0 0 1 146.5,96.9L146.5,96.9A4.8,4.8 0 0 1 146.2,96.7L146.2,96.7A4.8,4.8 0 0 1 145.9,96.4L145.9,96.4A4.8,4.8 0 0 1 145.6,96.1L145.6,96.1A4.8,4.8 0 0 1 145.4,95.7L145.4,95.7A4.8,4.8 0 0 1 145.2,95.4L145.2,95.4A4.8,4.8 0 0 1 145.0,95.0L145.0,95.0A4.8,4.8 0 0 1 144.8,94.6L144.8,94.6A4.7,4.7 0 0 1 144.7,94.2L144.7,94.2A4.7,4.7 0 0 1 144.6,93.8L144.7,93.8A4.7,4.7 0 0 1 144.6,93.4L144.6,93.4A4.7,4.7 0 0 1 144.6,93.0L144.6,93.0A4.7,4.7 0 0 1 144.6,92.6L144.7,92.6A4.7,4.7 0 0 1 144.7,92.2L144.7,92.2A4.6,4.6 0 0 1 144.8,91.8L144.8,91.8A4.6,4.6 0 0 1 145.0,91.4L145.0,91.4A4.6,4.6 0 0 1 145.1,91.1L145.2,91.1A4.6,4.6 0 0 1 145.3,90.7L145.4,90.7A4.6,4.6 0 0 1 145.6,90.4L145.6,90.4A4.5,4.5 0 0 1 145.8,90.1L145.8,90.1A4.5,4.5 0 0 1 146.1,89.8L146.1,89.8A4.5,4.5 0 0 1 146.4,89.6L146.4,89.6A4.4,4.4 0 0 1 146.8,89.4L146.8,89.4A4.4,4.4 0 0 1 147.1,89.2L147.1,89.2A4.3,4.3 0 0 1 147.5,89.1L147.5,89.1A4.3,4.3 0 0 1 147.8,89.0L147.8,89.0A4.3,4.3 0 0 1 148.2,88.9L148.2,88.9A4.2,4.2 0 0 1 148.6,88.8L148.3,87.4A5.7,5.7 0 0 1 148.8,87.4L148.6,84.5A8.6,8.6 0 0 1 149.3,84.5Z" fill="url(#g6)"/>
<path d="M66.3,126.5L66.3,115.8A10.7,10.7 0 0 1 67.2,115.8L67.2,115.8A10.7,10.7 0 0 1 68.2,116.0L67.7,118.7A7.9,7.9 0 0 1 68.3,118.9L68.3,119.1A7.6,7.6 0 0 1 68.9,119.3L68.8,119.6A7.3,7.3 0 0 1 69.4,119.8L69.3,120.1A7.0,7.0 0 0 1 69.8,120.4L69.7,120.7A6.8,6.8 0 0 1 70.2,121.0L70.0,121.2A6.5,6.5 0 0 1 70.4,121.6L70.3,121.8A6.2,6.2 0 0 1 70.6,122.2L70.5,122.3A5.9,5.9 0 0 1 70.9,122.7L70.8,122.8A5.8,5.8 0 0 1 71.1,123.2L71.0,123.2A5.7,5.7 0 0 1 71.3,123.6L71.2,123.7A5.6,5.6 0 0 1 71.4,124.1L71.3,124.2A5.5,5.5 0 0 1 71.5,124.6L71.4,124.7A5.4,5.4 0 0 1 71.5,125.1L71.4,125.1A5.3,5.3 0 0 1 71.5,125.6L71.4,125.6A5.2,5.2 0 0 1 71.4,126.0L71.3,126.1A5.1,5.1 0 0 1 71.4,126.5L71.3,126.5A5.0,5.0 0 0 1 71.3,126.9L71.4,126.9A5.1,5.1 0 0 1 71.3,127.4L71.4,127.4A5.1,5.1 0 0 1 71.3,127.8L71.3,127.8A5.2,5.2 0 0 1 71.2,128.3L71.2,128.3A5.2,5.2 0 0 1 71.1,128.7L71.1,128.7A5.3,5.3 0 0 1 70.9,129.2L70.9,129.2A5.4,5.4 0 0 1 70.7,129.6L70.7,129.6A5.4,5.4 0 0 1 70.4,130.0L70.5,130.0A5.5,5.5 0 0 1 70.2,130.4L70.2,130.4A5.5,5.5 0 0 1 69.9,130.7L69.9,130.8A5.6,5.6 0 0 1 69.5,131.1L69.5,131.1A5.6,5.6 0 0 1 69.1,131.4L69.1,131.4A5.7,5.7 0 0 1 68.7,131.7L68.7,131.7A5.8,5.8 0 0 1 68.3,131.9L68.3,132.0A5.8,5.8 0 0 1 67.8,132.1L67.8,132.2A5.9,5.9 0 0 1 67.3,132.3L67.3,132.3A5.9,5.9 0 0 1 66.8,132.4L66.8,132.4A6.0,6.0 0 0 1 66.3,132.5L66.3,132.5A6.0,6.0 0 0 1 65.8,132.4L65.8,132.4A5.9,5.9 0 0 1 65.3,132.3L65.3,132.3A5.9,5.9 0 0 1 64.8,132.2L64.8,132.1A5.8,5.8 0 0 1 64.3,132.0L64.3,131.9A5.8,5.8 0 0 1 63.9,131.7L63.9,131.7A5.7,5.7 0 0 1 63.5,131.4L63.5,131.4A5.6,5.6 0 0 1 63.1,131.1L63.1,131.1A5.6,5.6 0 0 1 62.7,130.8L62.7,130.7A5.5,5.5 0 0 1 62.4,130.4L62.4,130.4A5.5,5.5 0 0 1 62.1,130.0L62.2,129.9A5.3,5.3 0 0 1 61.9,129.6L62.0,129.5A5.2,5.2 0 0 1 61.8,129.1L61.8,129.1A5.1,5.1 0 0 1 61.6,128.7L61.7,128.6A5.0,5.0 0 0 1 61.6,128.2L61.6,128.2A4.9,4.9 0 0 1 61.5,127.8L61.6,127.8A4.8,4.8 0 0 1 61.5,127.3L61.6,127.3A4.8,4.8 0 0 1 61.6,126.9L61.7,126.9A4.6,4.6 0 0 1 61.6,126.5L61.7,126.5A4.6,4.6 0 0 1 61.8,126.1L61.8,126.1A4.5,4.5 0 0 1 61.9,125.7L61.9,125.7A4.4,4.4 0 0 1 62.0,125.4L62.1,125.4A4.4,4.4 0 0 1 62.2,125.0L62.3,125.0A4.3,4.3 0 0 1 62.4,124.7L62.5,124.7A4.2,4.2 0 0 1 62.6,124.4L62.7,124.4A4.2,4.2 0 0 1 62.9,124.1L62.9,124.1A4.1,4.1 0 0 1 63.2,123.9L63.2,123.9A4.0,4.0 0 0 1 63.4,123.6L63.5,123.7A4.0,4.0 0 0 1 63.8,123.5L63.8,123.5A3.9,3.9 0 0 1 64.1,123.3L64.1,123.4A3.8,3.8 0 0 1 64.4,123.2L64.4,123.3A3.7,3.7 0 0 1 64.7,123.1L64.8,123.2A3.6,3.6 0 0 1 65.1,123.1L65.1,123.2A3.5,3.5 0 0 1 65.4,123.1L65.1,122.0A4.7,4.7 0 0 1 65.5,121.9L65.1,119.5A7.1,7.1 0 0 1 65.7,119.4L65.5,117.0A9.5,9.5 0 0 1 66.3,117.0Z" fill="#ceb8d1"/>
<path d="M66.3,126.5L66.3,115.8A10.7,10.7 0 0 1 67.2,115.8L67.2,115.8A10.7,10.7 0 0 1 68.2,116.0Z" fill="#e06868"/>
<path d="M66.3,126.5L67.7,118.7A7.9,7.9 0 0 1 68.3,118.9Z" fill="#f2cccc"/>
<path d="M66.3,126.5L68.3,119.1A7.6,7.6 0 0 1 68.9,119.3L68.8,119.6A7.3,7.3 0 0 1 69.4,119.8L69.3,120.1A7.0,7.0 0 0 1 69.8,120.4Z" fill="#f2d0d2"/>
<path d="M66.3,126.5L69.7,120.7A6.8,6.8 0 0 1 70.2,121.0L70.0,121.2A6.5,6.5 0 0 1 70.4,121.6L70.3,121.8A6.2,6.2 0 0 1 70.6,122.2Z" fill="#f1d4d7"/>
<path d="M66.3,126.5L70.5,122.3A5.9,5.9 0 0 1 70.9,122.7L70.8,122.8A5.8,5.8 0 0 1 71.1,123.2L71.0,123.2A5.7,5.7 0 0 1 71.3,123.6Z" fill="#f0d9dc"/>
<path d="M66.3,126.5L71.2,123.7A5.6,5.6 0 0 1 71.4,124.1L71.3,124.2A5.5,5.5 0 0 1 71.5,124.6L71.4,124.7A5.4,5.4 0 0 1 71.5,125.1L71.4,125.1A5.3,5.3 0 0 1 71.5,125.6Z" fill="#f0dde2"/>
<path d="M66.3,126.5L71.4,125.6A5.2,5.2 0 0 1 71.4,126.0L71.3,126.1A5.1,5.1 0 0 1 71.4,126.5Z" fill="#ecdee6"/>
<path d="M66.3,126.5L71.3,126.5A5.0,5.0 0 0 1 71.3,126.9L71.4,126.9A5.1,5.1 0 0 1 71.3,127.4L71.4,127.4A5.1,5.1 0 0 1 71.3,127.8L71.3,127.8A5.2,5.2 0 0 1 71.2,128.3Z" fill="#e9dee9"/>
<path d="M66.3,126.5L71.2,128.3A5.2,5.2 0 0 1 71.1,128.7L71.1,128.7A5.3,5.3 0 0 1 70.9,129.2Z" fill="#e6dfec"/>
<path d="M66.3,126.5L70.9,129.2A5.4,5.4 0 0 1 70.7,129.6L70.7,129.6A5.4,5.4 0 0 1 70.4,130.0L70.5,130.0A5.5,5.5 0 0 1 70.2,130.4Z" fill="#e2e0f0"/>
<path d="M66.3,126.5L70.2,130.4A5.5,5.5 0 0 1 69.9,130.7L69.9,130.8A5.6,5.6 0 0 1 69.5,131.1Z" fill="#d8d5eb"/>
<path d="M66.3,126.5L69.5,131.1A5.6,5.6 0 0 1 69.1,131.4L69.1,131.4A5.7,5.7 0 0 1 68.7,131.7Z" fill="#cdcae6"/>
<path d="M66.3,126.5L68.7,131.7A5.8,5.8 0 0 1 68.3,131.9L68.3,132.0A5.8,5.8 0 0 1 67.8,132.1Z" fill="#c2bfe1"/>
<path d="M66.3,126.5L67.8,132.2A5.9,5.9 0 0 1 67.3,132.3L67.3,132.3A5.9,5.9 0 0 1 66.8,132.4L66.8,132.4A6.0,6.0 0 0 1 66.3,132.5L66.3,132.5A6.0,6.0 0 0 1 65.8,132.4Z" fill="#b8b4dc"/>
<path d="M66.3,126.5L65.8,132.4A5.9,5.9 0 0 1 65.3,132.3L65.3,132.3A5.9,5.9 0 0 1 64.8,132.2L64.8,132.1A5.8,5.8 0 0 1 64.3,132.0L64.3,131.9A5.8,5.8 0 0 1 63.9,131.7L63.9,131.7A5.7,5.7 0 0 1 63.5,131.4L63.5,131.4A5.6,5.6 0 0 1 63.1,131.1L63.1,131.1A5.6,5.6 0 0 1 62.7,130.8Z" fill="#b4b0da"/>
<path d="M66.3,126.5L62.7,130.7A5.5,5.5 0 0 1 62.4,130.4L62.4,130.4A5.5,5.5 0 0 1 62.1,130.0L62.2,129.9A5.3,5.3 0 0 1 61.9,129.6L62.0,129.5A5.2,5.2 0 0 1 61.8,129.1L61.8,129.1A5.1,5.1 0 0 1 61.6,128.7L61.7,128.6A5.0,5.0 0 0 1 61.6,128.2Z" fill="#b1add9"/>
<path d="M66.3,126.5L61.6,128.2A4.9,4.9 0 0 1 61.5,127.8L61.6,127.8A4.8,4.8 0 0 1 61.5,127.3L61.6,127.3A4.8,4.8 0 0 1 61.6,126.9L61.7,126.9A4.6,4.6 0 0 1 61.6,126.5L61.7,126.5A4.6,4.6 0 0 1 61.8,126.1L61.8,126.1A4.5,4.5 0 0 1 61.9,125.7L61.9,125.7A4.4,4.4 0 0 1 62.0,125.4Z" fill="#aeaad8"/>
<path d="M66.3,126.5L62.1,125.4A4.4,4.4 0 0 1 62.2,125.0L62.3,125.0A4.3,4.3 0 0 1 62.4,124.7L62.5,124.7A4.2,4.2 0 0 1 62.6,124.4L62.7,124.4A4.2,4.2 0 0 1 62.9,124.1L62.9,124.1A4.1,4.1 0 0 1 63.2,123.9L63.2,123.9A4.0,4.0 0 0 1 63.4,123.6L63.5,123.7A4.0,4.0 0 0 1 63.8,123.5L63.8,123.5A3.9,3.9 0 0 1 64.1,123.3L64.1,123.4A3.8,3.8 0 0 1 64.4,123.2L64.4,123.3A3.7,3.7 0 0 1 64.7,123.1L64.8,123.2A3.6,3.6 0 0 1 65.1,123.1L65.1,123.2A3.5,3.5 0 0 1 65.4,123.1L65.1,122.0A4.7,4.7 0 0 1 65.5,121.9L65.1,119.5A7.1,7.1 0 0 1 65.7,119.4L65.5,117.0A9.5,9.5 0 0 1 66.3,117.0Z" fill="#aaa6d6"/>
<path d="M66.3,126.5L66.3,115.8A10.7,10.7 0 0 1 67.2,115.8L67.2,115.8A10.7,10.7 0 0 1 68.2,116.0L67.7,118.7A7.9,7.9 0 0 1 68.3,118.9L68.3,119.1A7.6,7.6 0 0 1 68.9,119.3L68.8,119.6A7.3,7.3 0 0 1 69.4,119.8L69.3,120.1A7.0,7.0 0 0 1 69.8,120.4L69.7,120.7A6.8,6.8 0 0 1 70.2,121.0L70.0,121.2A6.5,6.5 0 0 1 70.4,121.6L70.3,121.8A6.2,6.2 0 0 1 70.6,122.2L70.5,122.3A5.9,5.9 0 0 1 70.9,122.7L70.8,122.8A5.8,5.8 0 0 1 71.1,123.2L71.0,123.2A5.7,5.7 0 0 1 71.3,123.6L71.2,123.7A5.6,5.6 0 0 1 71.4,124.1L71.3,124.2A5.5,5.5 0 0 1 71.5,124.6L71.4,124.7A5.4,5.4 0 0 1 71.5,125.1L71.4,125.1A5.3,5.3 0 0 1 71.5,125.6L71.4,125.6A5.2,5.2 0 0 1 71.4,126.0L71.3,126.1A5.1,5.1 0 0 1 71.4,126.5L71.3,126.5A5.0,5.0 0 0 1 71.3,126.9L71.4,126.9A5.1,5.1 0 0 1 71.3,127.4L71.4,127.4A5.1,5.1 0 0 1 71.3,127.8L71.3,127.8A5.2,5.2 0 0 1 71.2,128.3L71.2,128.3A5.2,5.2 0 0 1 71.1,128.7L71.1,128.7A5.3,5.3 0 0 1 70.9,129.2L70.9,129.2A5.4,5.4 0 0 1 70.7,129.6L70.7,129.6A5.4,5.4 0 0 1 70.4,130.0L70.5,130.0A5.5,5.5 0 0 1 70.2,130.4L70.2,130.4A5.5,5.5 0 0 1 69.9,130.7L69.9,130.8A5.6,5.6 0 0 1 69.5,131.1L69.5,131.1A5.6,5.6 0 0 1 69.1,131.4L69.1,131.4A5.7,5.7 0 0 1 68.7,131.7L68.7,131.7A5.8,5.8 0 0 1 68.3,131.9L68.3,132.0A5.8,5.8 0 0 1 67.8,132.1L67.8,132.2A5.9,5.9 0 0 1 67.3,132.3L67.3,132.3A5.9,5.9 0 0 1 66.8,132.4L66.8,132.4A6.0,6.0 0 0 1 66.3,132.5L66.3,132.5A6.0,6.0 0 0 1 65.8,132.4L65.8,132.4A5.9,5.9 0 0 1 65.3,132.3L65.3,132.3A5.9,5.9 0 0 1 64.8,132.2L64.8,132.1A5.8,5.8 0 0 1 64.3,132.0L64.3,131.9A5.8,5.8 0 0 1 63.9,131.7L63.9,131.7A5.7,5.7 0 0 1 63.5,131.4L63.5,131.4A5.6,5.6 0 0 1 63.1,131.1L63.1,131.1A5.6,5.6 0 0 1 62.7,130.8L62.7,130.7A5.5,5.5 0 0 1 62.4,130.4L62.4,130.4A5.5,5.5 0 0 1 62.1,130.0L62.2,129.9A5.3,5.3 0 0 1 61.9,129.6L62.0,129.5A5.2,5.2 0 0 1 61.8,129.1L61.8,129.1A5.1,5.1 0 0 1 61.6,128.7L61.7,128.6A5.0,5.0 0 0 1 61.6,128.2L61.6,128.2A4.9,4.9 0 0 1 61.5,127.8L61.6,127.8A4.8,4.8 0 0 1 61.5,127.3L61.6,127.3A4.8,4.8 0 0 1 61.6,126.9L61.7,126.9A4.6,4.6 0 0 1 61.6,126.5L61.7,126.5A4.6,4.6 0 0 1 61.8,126.1L61.8,126.1A4.5,4.5 0 0 1 61.9,125.7L61.9,125.7A4.4,4.4 0 0 1 62.0,125.4L62.1,125.4A4.4,4.4 0 0 1 62.2,125.0L62.3,125.0A4.3,4.3 0 0 1 62.4,124.7L62.5,124.7A4.2,4.2 0 0 1 62.6,124.4L62.7,124.4A4.2,4.2 0 0 1 62.9,124.1L62.9,124.1A4.1,4.1 0 0 1 63.2,123.9L63.2,123.9A4.0,4.0 0 0 1 63.4,123.6L63.5,123.7A4.0,4.0 0 0 1 63.8,123.5L63.8,123.5A3.9,3.9 0 0 1 64.1,123.3L64.1,123.4A3.8,3.8 0 0 1 64.4,123.2L64.4,123.3A3.7,3.7 0 0 1 64.7,123.1L64.8,123.2A3.6,3.6 0 0 1 65.1,123.1L65.1,123.2A3.5,3.5 0 0 1 65.4,123.1L65.1,122.0A4.7,4.7 0 0 1 65.5,121.9L65.1,119.5A7.1,7.1 0 0 1 65.7,119.4L65.5,117.0A9.5,9.5 0 0 1 66.3,117.0Z" fill="url(#g7)"/>
<path d="M93.8,126.5L93.8,116.5A10.0,10.0 0 0 1 94.7,116.5L94.4,119.5A7.0,7.0 0 0 1 95.0,119.6L94.8,120.7A5.9,5.9 0 0 1 95.3,120.8L95.3,120.8A5.9,5.9 0 0 1 95.8,121.0L95.8,121.0A5.8,5.8 0 0 1 96.3,121.2L96.2,121.3A5.7,5.7 0 0 1 96.7,121.5L96.6,121.6A5.7,5.7 0 0 1 97.1,121.9L97.0,121.9A5.6,5.6 0 0 1 97.4,122.2L97.4,122.3A5.5,5.5 0 0 1 97.7,122.6L97.7,122.6A5.5,5.5 0 0 1 98.0,123.0L97.9,123.0A5.4,5.4 0 0 1 98.2,123.4L98.2,123.4A5.4,5.4 0 0 1 98.4,123.8L98.4,123.8A5.3,5.3 0 0 1 98.6,124.3L98.6,124.3A5.2,5.2 0 0 1 98.7,124.7L98.7,124.7A5.2,5.2 0 0 1 98.8,125.2L98.8,125.2A5.1,5.1 0 0 1 98.9,125.6L98.8,125.6A5.1,5.1 0 0 1 98.9,126.1L98.8,126.1A5.0,5.0 0 0 1 98.8,126.5L98.8,126.5A5.0,5.0 0 0 1 98.8,126.9L98.9,126.9A5.1,5.1 0 0 1 98.8,127.4L98.9,127.4A5.1,5.1 0 0 1 98.8,127.8L98.8,127.8A5.2,5.2 0 0 1 98.7,128.3L98.7,128.3A5.2,5.2 0 0 1 98.6,128.7L98.6,128.7A5.3,5.3 0 0 1 98.4,129.2L98.4,129.2A5.4,5.4 0 0 1 98.2,129.6L98.2,129.6A5.4,5.4 0 0 1 97.9,130.0L98.0,130.0A5.5,5.5 0 0 1 97.7,130.4L97.7,130.4A5.5,5.5 0 0 1 97.4,130.7L97.4,130.8A5.6,5.6 0 0 1 97.0,131.1L97.0,131.1A5.6,5.6 0 0 1 96.6,131.4L96.6,131.4A5.7,5.7 0 0 1 96.2,131.7L96.2,131.7A5.8,5.8 0 0 1 95.8,131.9L95.8,132.0A5.8,5.8 0 0 1 95.3,132.1L95.3,132.2A5.9,5.9 0 0 1 94.8,132.3L94.8,132.3A5.9,5.9 0 0 1 94.3,132.4L94.3,132.4A6.0,6.0 0 0 1 93.8,132.5L93.8,132.5A6.0,6.0 0 0 1 93.3,132.5L93.3,132.4A6.0,6.0 0 0 1 92.8,132.4L92.8,132.4A5.9,5.9 0 0 1 92.3,132.2L92.3,132.2A5.9,5.9 0 0 1 91.8,132.1L91.8,132.0A5.9,5.9 0 0 1 91.3,131.8L91.3,131.8A5.9,5.9 0 0 1 90.9,131.6L90.9,131.6A5.9,5.9 0 0 1 90.4,131.3L90.5,131.3A5.8,5.8 0 0 1 90.1,131.0L90.1,131.0A5.8,5.8 0 0 1 89.7,130.6L89.7,130.6A5.8,5.8 0 0 1 89.4,130.2L89.4,130.2A5.7,5.7 0 0 1 89.1,129.8L89.2,129.7A5.7,5.7 0 0 1 88.9,129.3L88.9,129.3A5.6,5.6 0 0 1 88.7,128.9L88.8,128.8A5.5,5.5 0 0 1 88.6,128.4L88.6,128.4A5.5,5.5 0 0 1 88.5,127.9L88.5,127.9A5.4,5.4 0 0 1 88.4,127.4L88.5,127.4A5.4,5.4 0 0 1 88.4,127.0L88.5,127.0A5.3,5.3 0 0 1 88.5,126.5L88.5,126.5A5.3,5.3 0 0 1 88.6,126.0L88.7,126.0A5.2,5.2 0 0 1 88.7,125.6L88.8,125.6A5.1,5.1 0 0 1 88.9,125.2L89.0,125.2A5.0,5.0 0 0 1 89.1,124.8L89.2,124.8A4.9,4.9 0 0 1 89.4,124.4L89.4,124.5A4.8,4.8 0 0 1 89.6,124.1L89.7,124.1A4.7,4.7 0 0 1 89.9,123.8L90.0,123.8A4.6,4.6 0 0 1 90.3,123.5L90.3,123.6A4.5,4.5 0 0 1 90.6,123.3L90.6,123.3A4.5,4.5 0 0 1 90.9,123.1L91.0,123.1A4.4,4.4 0 0 1 91.3,122.9L91.3,123.0A4.3,4.3 0 0 1 91.7,122.8L91.7,122.9A4.2,4.2 0 0 1 92.0,122.7L92.1,122.8A4.1,4.1 0 0 1 92.4,122.6L92.4,122.7A4.0,4.0 0 0 1 92.8,122.6L92.5,121.7A5.0,5.0 0 0 1 92.9,121.6L92.6,119.6A7.0,7.0 0 0 1 93.2,119.5L93.0,117.5A9.0,9.0 0 0 1 93.8,117.5Z" fill="#d2cbe5"/>
<path d="M93.8,126.5L93.8,116.5A10.0,10.0 0 0 1 94.7,116.5Z" fill="#eaa8a8"/>
<path d="M93.8,126.5L94.4,119.5A7.0,7.0 0 0 1 95.0,119.6L94.8,120.7A5.9,5.9 0 0 1 95.3,120.8L95.3,120.8A5.9,5.9 0 0 1 95.8,121.0Z" fill="#ece6ee"/>
<path d="M93.8,126.5L95.8,121.0A5.8,5.8 0 0 1 96.3,121.2L96.2,121.3A5.7,5.7 0 0 1 96.7,121.5L96.6,121.6A5.7,5.7 0 0 1 97.1,121.9L97.0,121.9A5.6,5.6 0 0 1 97.4,122.2L97.4,122.3A5.5,5.5 0 0 1 97.7,122.6L97.7,122.6A5.5,5.5 0 0 1 98.0,123.0Z" fill="#eae6ee"/>
<path d="M93.8,126.5L97.9,123.0A5.4,5.4 0 0 1 98.2,123.4L98.2,123.4A5.4,5.4 0 0 1 98.4,123.8L98.4,123.8A5.3,5.3 0 0 1 98.6,124.3L98.6,124.3A5.2,5.2 0 0 1 98.7,124.7L98.7,124.7A5.2,5.2 0 0 1 98.8,125.2L98.8,125.2A5.1,5.1 0 0 1 98.9,125.6Z" fill="#e9e5ef"/>
<path d="M93.8,126.5L98.8,125.6A5.1,5.1 0 0 1 98.9,126.1L98.8,126.1A5.0,5.0 0 0 1 98.8,126.5L98.8,126.5A5.0,5.0 0 0 1 98.8,126.9L98.9,126.9A5.1,5.1 0 0 1 98.8,127.4L98.9,127.4A5.1,5.1 0 0 1 98.8,127.8Z" fill="#e8e4f0"/>
<path d="M93.8,126.5L98.8,127.8A5.2,5.2 0 0 1 98.7,128.3L98.7,128.3A5.2,5.2 0 0 1 98.6,128.7L98.6,128.7A5.3,5.3 0 0 1 98.4,129.2L98.4,129.2A5.4,5.4 0 0 1 98.2,129.6Z" fill="#e6e4f0"/>
<path d="M93.8,126.5L98.2,129.6A5.4,5.4 0 0 1 97.9,130.0L98.0,130.0A5.5,5.5 0 0 1 97.7,130.4L97.7,130.4A5.5,5.5 0 0 1 97.4,130.7Z" fill="#dedcee"/>
<path d="M93.8,126.5L97.4,130.8A5.6,5.6 0 0 1 97.0,131.1L97.0,131.1A5.6,5.6 0 0 1 96.6,131.4Z" fill="#d7d4eb"/>
<path d="M93.8,126.5L96.6,131.4A5.7,5.7 0 0 1 96.2,131.7L96.2,131.7A5.8,5.8 0 0 1 95.8,131.9L95.8,132.0A5.8,5.8 0 0 1 95.3,132.1Z" fill="#d0cce8"/>
<path d="M93.8,126.5L95.3,132.2A5.9,5.9 0 0 1 94.8,132.3L94.8,132.3A5.9,5.9 0 0 1 94.3,132.4L94.3,132.4A6.0,6.0 0 0 1 93.8,132.5L93.8,132.5A6.0,6.0 0 0 1 93.3,132.5Z" fill="#c8c4e6"/>
<path d="M93.8,126.5L93.3,132.4A6.0,6.0 0 0 1 92.8,132.4L92.8,132.4A5.9,5.9 0 0 1 92.3,132.2L92.3,132.2A5.9,5.9 0 0 1 91.8,132.1L91.8,132.0A5.9,5.9 0 0 1 91.3,131.8L91.3,131.8A5.9,5.9 0 0 1 90.9,131.6L90.9,131.6A5.9,5.9 0 0 1 90.4,131.3L90.5,131.3A5.8,5.8 0 0 1 90.1,131.0Z" fill="#c5c1e5"/>
<path d="M93.8,126.5L90.1,131.0A5.8,5.8 0 0 1 89.7,130.6L89.7,130.6A5.8,5.8 0 0 1 89.4,130.2L89.4,130.2A5.7,5.7 0 0 1 89.1,129.8L89.2,129.7A5.7,5.7 0 0 1 88.9,129.3L88.9,129.3A5.6,5.6 0 0 1 88.7,128.9L88.8,128.8A5.5,5.5 0 0 1 88.6,128.4Z" fill="#c2bee4"/>
<path d="M93.8,126.5L88.6,128.4A5.5,5.5 0 0 1 88.5,127.9L88.5,127.9A5.4,5.4 0 0 1 88.4,127.4L88.5,127.4A5.4,5.4 0 0 1 88.4,127.0L88.5,127.0A5.3,5.3 0 0 1 88.5,126.5L88.5,126.5A5.3,5.3 0 0 1 88.6,126.0L88.7,126.0A5.2,5.2 0 0 1 88.7,125.6L88.8,125.6A5.1,5.1 0 0 1 88.9,125.2Z" fill="#bfbbe3"/>
<path d="M93.8,126.5L89.0,125.2A5.0,5.0 0 0 1 89.1,124.8L89.2,124.8A4.9,4.9 0 0 1 89.4,124.4L89.4,124.5A4.8,4.8 0 0 1 89.6,124.1L89.7,124.1A4.7,4.7 0 0 1 89.9,123.8L90.0,123.8A4.6,4.6 0 0 1 90.3,123.5L90.3,123.6A4.5,4.5 0 0 1 90.6,123.3L90.6,123.3A4.5,4.5 0 0 1 90.9,123.1L91.0,123.1A4.4,4.4 0 0 1 91.3,122.9L91.3,123.0A4.3,4.3 0 0 1 91.7,122.8L91.7,122.9A4.2,4.2 0 0 1 92.0,122.7L92.1,122.8A4.1,4.1 0 0 1 92.4,122.6L92.4,122.7A4.0,4.0 0 0 1 92.8,122.6L92.5,121.7A5.0,5.0 0 0 1 92.9,121.6L92.6,119.6A7.0,7.0 0 0 1 93.2,119.5L93.0,117.5A9.0,9.0 0 0 1 93.8,117.5Z" fill="#bcb8e2"/>
<path d="M93.8,126.5L93.8,116.5A10.0,10.0 0 0 1 94.7,116.5L94.4,119.5A7.0,7.0 0 0 1 95.0,119.6L94.8,120.7A5.9,5.9 0 0 1 95.3,120.8L95.3,120.8A5.9,5.9 0 0 1 95.8,121.0L95.8,121.0A5.8,5.8 0 0 1 96.3,121.2L96.2,121.3A5.7,5.7 0 0 1 96.7,121.5L96.6,121.6A5.7,5.7 0 0 1 97.1,121.9L97.0,121.9A5.6,5.6 0 0 1 97.4,122.2L97.4,122.3A5.5,5.5 0 0 1 97.7,122.6L97.7,122.6A5.5,5.5 0 0 1 98.0,123.0L97.9,123.0A5.4,5.4 0 0 1 98.2,123.4L98.2,123.4A5.4,5.4 0 0 1 98.4,123.8L98.4,123.8A5.3,5.3 0 0 1 98.6,124.3L98.6,124.3A5.2,5.2 0 0 1 98.7,124.7L98.7,124.7A5.2,5.2 0 0 1 98.8,125.2L98.8,125.2A5.1,5.1 0 0 1 98.9,125.6L98.8,125.6A5.1,5.1 0 0 1 98.9,126.1L98.8,126.1A5.0,5.0 0 0 1 98.8,126.5L98.8,126.5A5.0,5.0 0 0 1 98.8,126.9L98.9,126.9A5.1,5.1 0 0 1 98.8,127.4L98.9,127.4A5.1,5.1 0 0 1 98.8,127.8L98.8,127.8A5.2,5.2 0 0 1 98.7,128.3L98.7,128.3A5.2,5.2 0 0 1 98.6,128.7L98.6,128.7A5.3,5.3 0 0 1 98.4,129.2L98.4,129.2A5.4,5.4 0 0 1 98.2,129.6L98.2,129.6A5.4,5.4 0 0 1 97.9,130.0L98.0,130.0A5.5,5.5 0 0 1 97.7,130.4L97.7,130.4A5.5,5.5 0 0 1 97.4,130.7L97.4,130.8A5.6,5.6 0 0 1 97.0,131.1L97.0,131.1A5.6,5.6 0 0 1 96.6,131.4L96.6,131.4A5.7,5.7 0 0 1 96.2,131.7L96.2,131.7A5.8,5.8 0 0 1 95.8,131.9L95.8,132.0A5.8,5.8 0 0 1 95.3,132.1L95.3,132.2A5.9,5.9 0 0 1 94.8,132.3L94.8,132.3A5.9,5.9 0 0 1 94.3,132.4L94.3,132.4A6.0,6.0 0 0 1 93.8,132.5L93.8,132.5A6.0,6.0 0 0 1 93.3,132.5L93.3,132.4A6.0,6.0 0 0 1 92.8,132.4L92.8,132.4A5.9,5.9 0 0 1 92.3,132.2L92.3,132.2A5.9,5.9 0 0 1 91.8,132.1L91.8,132.0A5.9,5.9 0 0 1 91.3,131.8L91.3,131.8A5.9,5.9 0 0 1 90.9,131.6L90.9,131.6A5.9,5.9 0 0 1 90.4,131.3L90.5,131.3A5.8,5.8 0 0 1 90.1,131.0L90.1,131.0A5.8,5.8 0 0 1 89.7,130.6L89.7,130.6A5.8,5.8 0 0 1 89.4,130.2L89.4,130.2A5.7,5.7 0 0 1 89.1,129.8L89.2,129.7A5.7,5.7 0 0 1 88.9,129.3L88.9,129.3A5.6,5.6 0 0 1 88.7,128.9L88.8,128.8A5.5,5.5 0 0 1 88.6,128.4L88.6,128.4A5.5,5.5 0 0 1 88.5,127.9L88.5,127.9A5.4,5.4 0 0 1 88.4,127.4L88.5,127.4A5.4,5.4 0 0 1 88.4,127.0L88.5,127.0A5.3,5.3 0 0 1 88.5,126.5L88.5,126.5A5.3,5.3 0 0 1 88.6,126.0L88.7,126.0A5.2,5.2 0 0 1 88.7,125.6L88.8,125.6A5.1,5.1 0 0 1 88.9,125.2L89.0,125.2A5.0,5.0 0 0 1 89.1,124.8L89.2,124.8A4.9,4.9 0 0 1 89.4,124.4L89.4,124.5A4.8,4.8 0 0 1 89.6,124.1L89.7,124.1A4.7,4.7 0 0 1 89.9,123.8L90.0,123.8A4.6,4.6 0 0 1 90.3,123.5L90.3,123.6A4.5,4.5 0 0 1 90.6,123.3L90.6,123.3A4.5,4.5 0 0 1 90.9,123.1L91.0,123.1A4.4,4.4 0 0 1 91.3,122.9L91.3,123.0A4.3,4.3 0 0 1 91.7,122.8L91.7,122.9A4.2,4.2 0 0 1 92.0,122.7L92.1,122.8A4.1,4.1 0 0 1 92.4,122.6L92.4,122.7A4.0,4.0 0 0 1 92.8,122.6L92.5,121.7A5.0,5.0 0 0 1 92.9,121.6L92.6,119.6A7.0,7.0 0 0 1 93.2,119.5L93.0,117.5A9.0,9.0 0 0 1 93.8,117.5Z" fill="url(#g8)"/>
<path d="M121.5,126.5L121.5,116.0A10.5,10.5 0 0 1 122.4,116.0L122.4,116.0A10.5,10.5 0 0 1 123.3,116.2L123.2,117.1A9.6,9.6 0 0 1 124.0,117.3L123.7,118.3A8.5,8.5 0 0 1 124.4,118.5L124.2,119.1A7.8,7.8 0 0 1 124.8,119.4L124.7,119.7A7.5,7.5 0 0 1 125.3,120.0L125.1,120.2A7.2,7.2 0 0 1 125.7,120.6L125.5,120.8A7.0,7.0 0 0 1 126.0,121.2L125.8,121.4A6.7,6.7 0 0 1 126.2,121.8L126.1,121.9A6.4,6.4 0 0 1 126.4,122.4L126.4,122.4A6.3,6.3 0 0 1 126.7,122.9L126.6,122.9A6.2,6.2 0 0 1 126.9,123.4L126.8,123.4A6.1,6.1 0 0 1 127.0,123.9L126.9,124.0A6.0,6.0 0 0 1 127.1,124.4L127.0,124.5A5.9,5.9 0 0 1 127.2,125.0L127.1,125.0A5.8,5.8 0 0 1 127.2,125.5L127.1,125.5A5.7,5.7 0 0 1 127.1,126.0L127.0,126.0A5.6,5.6 0 0 1 127.1,126.5L127.0,126.5A5.5,5.5 0 0 1 127.0,127.0L127.0,127.0A5.5,5.5 0 0 1 126.9,127.5L126.9,127.5A5.5,5.5 0 0 1 126.8,127.9L126.8,127.9A5.5,5.5 0 0 1 126.7,128.4L126.7,128.4A5.5,5.5 0 0 1 126.5,128.8L126.5,128.8A5.5,5.5 0 0 1 126.3,129.2L126.3,129.2A5.5,5.5 0 0 1 126.0,129.7L126.0,129.7A5.5,5.5 0 0 1 125.7,130.0L125.7,130.0A5.5,5.5 0 0 1 125.4,130.4L125.4,130.4A5.5,5.5 0 0 1 125.0,130.7L125.1,130.8A5.5,5.5 0 0 1 124.7,131.0L124.7,131.1A5.6,5.6 0 0 1 124.3,131.3L124.3,131.4A5.6,5.6 0 0 1 123.9,131.6L123.9,131.6A5.7,5.7 0 0 1 123.4,131.8L123.4,131.8A5.7,5.7 0 0 1 123.0,132.0L123.0,132.0A5.7,5.7 0 0 1 122.5,132.1L122.5,132.2A5.8,5.8 0 0 1 122.0,132.2L122.0,132.3A5.8,5.8 0 0 1 121.5,132.3L121.5,132.3A5.8,5.8 0 0 1 121.0,132.3L121.0,132.2A5.8,5.8 0 0 1 120.5,132.2L120.5,132.1A5.7,5.7 0 0 1 120.0,132.0L120.0,132.0A5.7,5.7 0 0 1 119.6,131.8L119.6,131.8A5.7,5.7 0 0 1 119.1,131.6L119.1,131.6A5.6,5.6 0 0 1 118.7,131.4L118.7,131.3A5.6,5.6 0 0 1 118.3,131.1L118.3,131.0A5.5,5.5 0 0 1 117.9,130.8L118.0,130.7A5.5,5.5 0 0 1 117.6,130.4L117.7,130.3A5.4,5.4 0 0 1 117.3,130.0L117.4,129.9A5.3,5.3 0 0 1 117.1,129.6L117.2,129.5A5.2,5.2 0 0 1 117.0,129.1L117.1,129.1A5.1,5.1 0 0 1 116.9,128.7L117.0,128.6A5.0,5.0 0 0 1 116.8,128.2L116.9,128.2A4.9,4.9 0 0 1 116.8,127.8L116.9,127.7A4.8,4.8 0 0 1 116.8,127.3L116.9,127.3A4.7,4.7 0 0 1 116.9,126.9L117.0,126.9A4.6,4.6 0 0 1 116.9,126.5L117.1,126.5A4.4,4.4 0 0 1 117.1,126.1L117.2,126.1A4.3,4.3 0 0 1 117.2,125.7L117.3,125.8A4.2,4.2 0 0 1 117.4,125.4L117.5,125.4A4.1,4.1 0 0 1 117.6,125.1L117.7,125.1A4.0,4.0 0 0 1 117.9,124.8L118.0,124.9A3.9,3.9 0 0 1 118.1,124.6L118.2,124.6A3.8,3.8 0 0 1 118.4,124.3L118.5,124.4A3.7,3.7 0 0 1 118.7,124.1L118.8,124.2A3.6,3.6 0 0 1 119.0,124.0L119.1,124.1A3.5,3.5 0 0 1 119.3,123.9L119.3,123.9A3.4,3.4 0 0 1 119.6,123.7L119.6,123.8A3.3,3.3 0 0 1 119.9,123.6L119.9,123.7A3.2,3.2 0 0 1 120.1,123.6L120.2,123.7A3.1,3.1 0 0 1 120.4,123.6L120.5,123.6A3.0,3.0 0 0 1 120.7,123.6L120.4,122.4A4.2,4.2 0 0 1 120.8,122.3L120.3,119.9A6.8,6.8 0 0 1 120.9,119.8L120.7,117.3A9.2,9.2 0 0 1 121.5,117.2Z" fill="#c8bbd6"/>
<path d="M121.5,126.5L121.5,116.0A10.5,10.5 0 0 1 122.4,116.0Z" fill="#e8c0ba"/>
<path d="M121.5,126.5L122.4,116.0A10.5,10.5 0 0 1 123.3,116.2Z" fill="#e9c4be"/>
<path d="M121.5,126.5L123.2,117.1A9.6,9.6 0 0 1 124.0,117.3L123.7,118.3A8.5,8.5 0 0 1 124.4,118.5Z" fill="#eac8c3"/>
<path d="M121.5,126.5L124.2,119.1A7.8,7.8 0 0 1 124.8,119.4Z" fill="#ebccc8"/>
<path d="M121.5,126.5L124.7,119.7A7.5,7.5 0 0 1 125.3,120.0L125.1,120.2A7.2,7.2 0 0 1 125.7,120.6L125.5,120.8A7.0,7.0 0 0 1 126.0,121.2Z" fill="#ecd0cc"/>
<path d="M121.5,126.5L125.8,121.4A6.7,6.7 0 0 1 126.2,121.8L126.1,121.9A6.4,6.4 0 0 1 126.4,122.4Z" fill="#e9d3d4"/>
<path d="M121.5,126.5L126.4,122.4A6.3,6.3 0 0 1 126.7,122.9L126.6,122.9A6.2,6.2 0 0 1 126.9,123.4L126.8,123.4A6.1,6.1 0 0 1 127.0,123.9L126.9,124.0A6.0,6.0 0 0 1 127.1,124.4Z" fill="#e6d6dd"/>
<path d="M121.5,126.5L127.0,124.5A5.9,5.9 0 0 1 127.2,125.0L127.1,125.0A5.8,5.8 0 0 1 127.2,125.5Z" fill="#e3d9e6"/>
<path d="M121.5,126.5L127.1,125.5A5.7,5.7 0 0 1 127.1,126.0L127.0,126.0A5.6,5.6 0 0 1 127.1,126.5L127.0,126.5A5.5,5.5 0 0 1 127.0,127.0L127.0,127.0A5.5,5.5 0 0 1 126.9,127.5Z" fill="#e0dcee"/>
<path d="M121.5,126.5L126.9,127.5A5.5,5.5 0 0 1 126.8,127.9L126.8,127.9A5.5,5.5 0 0 1 126.7,128.4L126.7,128.4A5.5,5.5 0 0 1 126.5,128.8L126.5,128.8A5.5,5.5 0 0 1 126.3,129.2Z" fill="#d4d0ea"/>
<path d="M121.5,126.5L126.3,129.2A5.5,5.5 0 0 1 126.0,129.7L126.0,129.7A5.5,5.5 0 0 1 125.7,130.0L125.7,130.0A5.5,5.5 0 0 1 125.4,130.4L125.4,130.4A5.5,5.5 0 0 1 125.0,130.7Z" fill="#c8c4e5"/>
<path d="M121.5,126.5L125.1,130.8A5.5,5.5 0 0 1 124.7,131.0L124.7,131.1A5.6,5.6 0 0 1 124.3,131.3L124.3,131.4A5.6,5.6 0 0 1 123.9,131.6L123.9,131.6A5.7,5.7 0 0 1 123.4,131.8Z" fill="#bcb8e0"/>
<path d="M121.5,126.5L123.4,131.8A5.7,5.7 0 0 1 123.0,132.0L123.0,132.0A5.7,5.7 0 0 1 122.5,132.1L122.5,132.2A5.8,5.8 0 0 1 122.0,132.2L122.0,132.3A5.8,5.8 0 0 1 121.5,132.3L121.5,132.3A5.8,5.8 0 0 1 121.0,132.3Z" fill="#b0acdc"/>
<path d="M121.5,126.5L121.0,132.2A5.8,5.8 0 0 1 120.5,132.2L120.5,132.1A5.7,5.7 0 0 1 120.0,132.0L120.0,132.0A5.7,5.7 0 0 1 119.6,131.8L119.6,131.8A5.7,5.7 0 0 1 119.1,131.6L119.1,131.6A5.6,5.6 0 0 1 118.7,131.4L118.7,131.3A5.6,5.6 0 0 1 118.3,131.1L118.3,131.0A5.5,5.5 0 0 1 117.9,130.8Z" fill="#aca8da"/>
<path d="M121.5,126.5L118.0,130.7A5.5,5.5 0 0 1 117.6,130.4L117.7,130.3A5.4,5.4 0 0 1 117.3,130.0L117.4,129.9A5.3,5.3 0 0 1 117.1,129.6L117.2,129.5A5.2,5.2 0 0 1 117.0,129.1L117.1,129.1A5.1,5.1 0 0 1 116.9,128.7L117.0,128.6A5.0,5.0 0 0 1 116.8,128.2Z" fill="#a8a4d8"/>
<path d="M121.5,126.5L116.9,128.2A4.9,4.9 0 0 1 116.8,127.8L116.9,127.7A4.8,4.8 0 0 1 116.8,127.3L116.9,127.3A4.7,4.7 0 0 1 116.9,126.9L117.0,126.9A4.6,4.6 0 0 1 116.9,126.5L117.1,126.5A4.4,4.4 0 0 1 117.1,126.1L117.2,126.1A4.3,4.3 0 0 1 117.2,125.7L117.3,125.8A4.2,4.2 0 0 1 117.4,125.4Z" fill="#a4a0d6"/>
<path d="M121.5,126.5L117.5,125.4A4.1,4.1 0 0 1 117.6,125.1L117.7,125.1A4.0,4.0 0 0 1 117.9,124.8L118.0,124.9A3.9,3.9 0 0 1 118.1,124.6L118.2,124.6A3.8,3.8 0 0 1 118.4,124.3L118.5,124.4A3.7,3.7 0 0 1 118.7,124.1L118.8,124.2A3.6,3.6 0 0 1 119.0,124.0L119.1,124.1A3.5,3.5 0 0 1 119.3,123.9L119.3,123.9A3.4,3.4 0 0 1 119.6,123.7L119.6,123.8A3.3,3.3 0 0 1 119.9,123.6L119.9,123.7A3.2,3.2 0 0 1 120.1,123.6L120.2,123.7A3.1,3.1 0 0 1 120.4,123.6L120.5,123.6A3.0,3.0 0 0 1 120.7,123.6L120.4,122.4A4.2,4.2 0 0 1 120.8,122.3L120.3,119.9A6.8,6.8 0 0 1 120.9,119.8L120.7,117.3A9.2,9.2 0 0 1 121.5,117.2Z" fill="#a09cd4"/>
<path d="M121.5,126.5L121.5,116.0A10.5,10.5 0 0 1 122.4,116.0L122.4,116.0A10.5,10.5 0 0 1 123.3,116.2L123.2,117.1A9.6,9.6 0 0 1 124.0,117.3L123.7,118.3A8.5,8.5 0 0 1 124.4,118.5L124.2,119.1A7.8,7.8 0 0 1 124.8,119.4L124.7,119.7A7.5,7.5 0 0 1 125.3,120.0L125.1,120.2A7.2,7.2 0 0 1 125.7,120.6L125.5,120.8A7.0,7.0 0 0 1 126.0,121.2L125.8,121.4A6.7,6.7 0 0 1 126.2,121.8L126.1,121.9A6.4,6.4 0 0 1 126.4,122.4L126.4,122.4A6.3,6.3 0 0 1 126.7,122.9L126.6,122.9A6.2,6.2 0 0 1 126.9,123.4L126.8,123.4A6.1,6.1 0 0 1 127.0,123.9L126.9,124.0A6.0,6.0 0 0 1 127.1,124.4L127.0,124.5A5.9,5.9 0 0 1 127.2,125.0L127.1,125.0A5.8,5.8 0 0 1 127.2,125.5L127.1,125.5A5.7,5.7 0 0 1 127.1,126.0L127.0,126.0A5.6,5.6 0 0 1 127.1,126.5L127.0,126.5A5.5,5.5 0 0 1 127.0,127.0L127.0,127.0A5.5,5.5 0 0 1 126.9,127.5L126.9,127.5A5.5,5.5 0 0 1 126.8,127.9L126.8,127.9A5.5,5.5 0 0 1 126.7,128.4L126.7,128.4A5.5,5.5 0 0 1 126.5,128.8L126.5,128.8A5.5,5.5 0 0 1 126.3,129.2L126.3,129.2A5.5,5.5 0 0 1 126.0,129.7L126.0,129.7A5.5,5.5 0 0 1 125.7,130.0L125.7,130.0A5.5,5.5 0 0 1 125.4,130.4L125.4,130.4A5.5,5.5 0 0 1 125.0,130.7L125.1,130.8A5.5,5.5 0 0 1 124.7,131.0L124.7,131.1A5.6,5.6 0 0 1 124.3,131.3L124.3,131.4A5.6,5.6 0 0 1 123.9,131.6L123.9,131.6A5.7,5.7 0 0 1 123.4,131.8L123.4,131.8A5.7,5.7 0 0 1 123.0,132.0L123.0,132.0A5.7,5.7 0 0 1 122.5,132.1L122.5,132.2A5.8,5.8 0 0 1 122.0,132.2L122.0,132.3A5.8,5.8 0 0 1 121.5,132.3L121.5,132.3A5.8,5.8 0 0 1 121.0,132.3L121.0,132.2A5.8,5.8 0 0 1 120.5,132.2L120.5,132.1A5.7,5.7 0 0 1 120.0,132.0L120.0,132.0A5.7,5.7 0 0 1 119.6,131.8L119.6,131.8A5.7,5.7 0 0 1 119.1,131.6L119.1,131.6A5.6,5.6 0 0 1 118.7,131.4L118.7,131.3A5.6,5.6 0 0 1 118.3,131.1L118.3,131.0A5.5,5.5 0 0 1 117.9,130.8L118.0,130.7A5.5,5.5 0 0 1 117.6,130.4L117.7,130.3A5.4,5.4 0 0 1 117.3,130.0L117.4,129.9A5.3,5.3 0 0 1 117.1,129.6L117.2,129.5A5.2,5.2 0 0 1 117.0,129.1L117.1,129.1A5.1,5.1 0 0 1 116.9,128.7L117.0,128.6A5.0,5.0 0 0 1 116.8,128.2L116.9,128.2A4.9,4.9 0 0 1 116.8,127.8L116.9,127.7A4.8,4.8 0 0 1 116.8,127.3L116.9,127.3A4.7,4.7 0 0 1 116.9,126.9L117.0,126.9A4.6,4.6 0 0 1 116.9,126.5L117.1,126.5A4.4,4.4 0 0 1 117.1,126.1L117.2,126.1A4.3,4.3 0 0 1 117.2,125.7L117.3,125.8A4.2,4.2 0 0 1 117.4,125.4L117.5,125.4A4.1,4.1 0 0 1 117.6,125.1L117.7,125.1A4.0,4.0 0 0 1 117.9,124.8L118.0,124.9A3.9,3.9 0 0 1 118.1,124.6L118.2,124.6A3.8,3.8 0 0 1 118.4,124.3L118.5,124.4A3.7,3.7 0 0 1 118.7,124.1L118.8,124.2A3.6,3.6 0 0 1 119.0,124.0L119.1,124.1A3.5,3.5 0 0 1 119.3,123.9L119.3,123.9A3.4,3.4 0 0 1 119.6,123.7L119.6,123.8A3.3,3.3 0 0 1 119.9,123.6L119.9,123.7A3.2,3.2 0 0 1 120.1,123.6L120.2,123.7A3.1,3.1 0 0 1 120.4,123.6L120.5,123.6A3.0,3.0 0 0 1 120.7,123.6L120.4,122.4A4.2,4.2 0 0 1 120.8,122.3L120.3,119.9A6.8,6.8 0 0 1 120.9,119.8L120.7,117.3A9.2,9.2 0 0 1 121.5,117.2Z" fill="url(#g9)"/>
<path d="M148.6,126.4L148.6,111.7A14.8,14.8 0 0 1 149.9,111.7L149.9,111.8A14.7,14.7 0 0 1 151.1,112.0L151.1,112.1A14.6,14.6 0 0 1 152.4,112.3L152.3,112.5A14.4,14.4 0 0 1 153.5,112.9L153.5,113.0A14.2,14.2 0 0 1 154.6,113.5L154.6,113.6A14.1,14.1 0 0 1 155.6,114.2L155.5,114.4A13.9,13.9 0 0 1 156.6,115.0L156.4,115.2A13.7,13.7 0 0 1 157.4,115.9L157.2,116.1A13.4,13.4 0 0 1 158.1,116.9L157.9,117.1A13.1,13.1 0 0 1 158.7,118.0L158.4,118.2A12.8,12.8 0 0 1 159.1,119.1L158.8,119.2A12.5,12.5 0 0 1 159.4,120.2L159.1,120.3A12.1,12.1 0 0 1 159.6,121.3L159.3,121.4A11.8,11.8 0 0 1 159.7,122.4L159.4,122.5A11.5,11.5 0 0 1 159.7,123.4L159.4,123.5A11.2,11.2 0 0 1 159.6,124.5L159.4,124.5A10.9,10.9 0 0 1 159.5,125.4L159.3,125.5A10.7,10.7 0 0 1 159.3,126.4L159.2,126.4A10.6,10.6 0 0 1 159.2,127.3L159.3,127.3A10.7,10.7 0 0 1 159.1,128.3L159.2,128.3A10.8,10.8 0 0 1 159.0,129.2L159.1,129.2A10.9,10.9 0 0 1 158.8,130.1L158.9,130.2A11.0,11.0 0 0 1 158.6,131.0L158.7,131.1A11.1,11.1 0 0 1 158.2,132.0L158.4,132.0A11.3,11.3 0 0 1 157.8,132.9L158.0,133.0A11.4,11.4 0 0 1 157.4,133.8L157.5,133.9A11.6,11.6 0 0 1 156.8,134.6L156.9,134.7A11.8,11.8 0 0 1 156.2,135.4L156.2,135.5A11.9,11.9 0 0 1 155.4,136.1L155.5,136.3A12.0,12.0 0 0 1 154.6,136.8L154.7,136.9A12.2,12.2 0 0 1 153.7,137.4L153.8,137.5A12.2,12.2 0 0 1 152.8,137.9L152.8,138.0A12.3,12.3 0 0 1 151.8,138.3L151.8,138.4A12.4,12.4 0 0 1 150.8,138.6L150.8,138.7A12.4,12.4 0 0 1 149.7,138.8L149.7,138.8A12.5,12.5 0 0 1 148.6,138.9L148.6,138.9A12.5,12.5 0 0 1 147.5,138.8L147.5,138.8A12.4,12.4 0 0 1 146.4,138.6L146.5,138.5A12.3,12.3 0 0 1 145.4,138.3L145.4,138.2A12.2,12.2 0 0 1 144.4,137.9L144.4,137.8A12.2,12.2 0 0 1 143.5,137.4L143.5,137.3A12.1,12.1 0 0 1 142.6,136.8L142.6,136.7A11.9,11.9 0 0 1 141.8,136.2L141.8,136.1A11.8,11.8 0 0 1 141.0,135.4L141.1,135.3A11.7,11.7 0 0 1 140.4,134.6L140.5,134.5A11.5,11.5 0 0 1 139.8,133.8L139.9,133.7A11.3,11.3 0 0 1 139.3,132.9L139.5,132.8A11.1,11.1 0 0 1 139.0,132.0L139.2,131.8A10.9,10.9 0 0 1 138.8,131.0L139.0,130.9A10.6,10.6 0 0 1 138.6,130.0L138.9,129.9A10.3,10.3 0 0 1 138.6,129.1L138.8,129.0A10.1,10.1 0 0 1 138.6,128.2L138.8,128.1A10.0,10.0 0 0 1 138.6,127.3L138.8,127.3A9.9,9.9 0 0 1 138.7,126.4L138.8,126.4A9.8,9.8 0 0 1 138.9,125.5L138.9,125.6A9.8,9.8 0 0 1 139.0,124.7L139.0,124.7A9.7,9.7 0 0 1 139.2,123.9L139.2,123.9A9.7,9.7 0 0 1 139.5,123.1L139.4,123.1A9.8,9.8 0 0 1 139.8,122.3L139.7,122.3A9.8,9.8 0 0 1 140.1,121.5L140.1,121.5A9.9,9.9 0 0 1 140.5,120.7L140.4,120.7A10.0,10.0 0 0 1 140.9,120.0L140.8,119.9A10.1,10.1 0 0 1 141.4,119.2L141.4,119.2A10.2,10.2 0 0 1 142.1,118.6L142.1,118.7A10.1,10.1 0 0 1 142.8,118.1L142.8,118.2A10.0,10.0 0 0 1 143.6,117.7L143.6,117.8A9.9,9.9 0 0 1 144.4,117.4L144.5,117.6A9.8,9.8 0 0 1 145.3,117.2L145.3,117.3A9.6,9.6 0 0 1 145.6,117.2Z" fill="#e74e3e"/>
<path d="M148.6,126.4L148.6,111.7A14.8,14.8 0 0 1 149.9,111.7L149.9,111.8A14.7,14.7 0 0 1 151.1,112.0L151.1,112.1A14.6,14.6 0 0 1 152.4,112.3L152.3,112.5A14.4,14.4 0 0 1 153.5,112.9L153.5,113.0A14.2,14.2 0 0 1 154.6,113.5Z" fill="#e4381c"/>
<path d="M148.6,126.4L154.6,113.6A14.1,14.1 0 0 1 155.6,114.2L155.5,114.4A13.9,13.9 0 0 1 156.6,115.0L156.4,115.2A13.7,13.7 0 0 1 157.4,115.9L157.2,116.1A13.4,13.4 0 0 1 158.1,116.9L157.9,117.1A13.1,13.1 0 0 1 158.7,118.0L158.4,118.2A12.8,12.8 0 0 1 159.1,119.1L158.8,119.2A12.5,12.5 0 0 1 159.4,120.2L159.1,120.3A12.1,12.1 0 0 1 159.6,121.3Z" fill="#e4391e"/>
<path d="M148.6,126.4L159.3,121.4A11.8,11.8 0 0 1 159.7,122.4L159.4,122.5A11.5,11.5 0 0 1 159.7,123.4L159.4,123.5A11.2,11.2 0 0 1 159.6,124.5L159.4,124.5A10.9,10.9 0 0 1 159.5,125.4L159.3,125.5A10.7,10.7 0 0 1 159.3,126.4L159.2,126.4A10.6,10.6 0 0 1 159.2,127.3L159.3,127.3A10.7,10.7 0 0 1 159.1,128.3L159.2,128.3A10.8,10.8 0 0 1 159.0,129.2L159.1,129.2A10.9,10.9 0 0 1 158.8,130.1L158.9,130.2A11.0,11.0 0 0 1 158.6,131.0Z" fill="#e53a1f"/>
<path d="M148.6,126.4L158.7,131.1A11.1,11.1 0 0 1 158.2,132.0L158.4,132.0A11.3,11.3 0 0 1 157.8,132.9L158.0,133.0A11.4,11.4 0 0 1 157.4,133.8L157.5,133.9A11.6,11.6 0 0 1 156.8,134.6L156.9,134.7A11.8,11.8 0 0 1 156.2,135.4L156.2,135.5A11.9,11.9 0 0 1 155.4,136.1L155.5,136.3A12.0,12.0 0 0 1 154.6,136.8L154.7,136.9A12.2,12.2 0 0 1 153.7,137.4Z" fill="#e63b20"/>
<path d="M148.6,126.4L153.8,137.5A12.2,12.2 0 0 1 152.8,137.9L152.8,138.0A12.3,12.3 0 0 1 151.8,138.3L151.8,138.4A12.4,12.4 0 0 1 150.8,138.6L150.8,138.7A12.4,12.4 0 0 1 149.7,138.8L149.7,138.8A12.5,12.5 0 0 1 148.6,138.9L148.6,138.9A12.5,12.5 0 0 1 147.5,138.8Z" fill="#e63c22"/>
<path d="M148.6,126.4L147.5,138.8A12.4,12.4 0 0 1 146.4,138.6Z" fill="#e6402c"/>
<path d="M148.6,126.4L146.5,138.5A12.3,12.3 0 0 1 145.4,138.3Z" fill="#e64536"/>
<path d="M148.6,126.4L145.4,138.2A12.2,12.2 0 0 1 144.4,137.9Z" fill="#e74a40"/>
<path d="M148.6,126.4L144.4,137.8A12.2,12.2 0 0 1 143.5,137.4L143.5,137.3A12.1,12.1 0 0 1 142.6,136.8Z" fill="#e74e4a"/>
<path d="M148.6,126.4L142.6,136.7A11.9,11.9 0 0 1 141.8,136.2L141.8,136.1A11.8,11.8 0 0 1 141.0,135.4Z" fill="#e85656"/>
<path d="M148.6,126.4L141.1,135.3A11.7,11.7 0 0 1 140.4,134.6Z" fill="#ea5f61"/>
<path d="M148.6,126.4L140.5,134.5A11.5,11.5 0 0 1 139.8,133.8L139.9,133.7A11.3,11.3 0 0 1 139.3,132.9Z" fill="#eb686c"/>
<path d="M148.6,126.4L139.5,132.8A11.1,11.1 0 0 1 139.0,132.0L139.2,131.8A10.9,10.9 0 0 1 138.8,131.0L139.0,130.9A10.6,10.6 0 0 1 138.6,130.0L138.9,129.9A10.3,10.3 0 0 1 138.6,129.1Z" fill="#ec7078"/>
<path d="M148.6,126.4L138.8,129.0A10.1,10.1 0 0 1 138.6,128.2L138.8,128.1A10.0,10.0 0 0 1 138.6,127.3L138.8,127.3A9.9,9.9 0 0 1 138.7,126.4L138.8,126.4A9.8,9.8 0 0 1 138.9,125.5Z" fill="#ed7780"/>
<path d="M148.6,126.4L138.9,125.6A9.8,9.8 0 0 1 139.0,124.7L139.0,124.7A9.7,9.7 0 0 1 139.2,123.9L139.2,123.9A9.7,9.7 0 0 1 139.5,123.1L139.4,123.1A9.8,9.8 0 0 1 139.8,122.3L139.7,122.3A9.8,9.8 0 0 1 140.1,121.5L140.1,121.5A9.9,9.9 0 0 1 140.5,120.7Z" fill="#ee7e87"/>
<path d="M148.6,126.4L140.4,120.7A10.0,10.0 0 0 1 140.9,120.0L140.8,119.9A10.1,10.1 0 0 1 141.4,119.2L141.4,119.2A10.2,10.2 0 0 1 142.1,118.6L142.1,118.7A10.1,10.1 0 0 1 142.8,118.1Z" fill="#ef858e"/>
<path d="M148.6,126.4L142.8,118.2A10.0,10.0 0 0 1 143.6,117.7L143.6,117.8A9.9,9.9 0 0 1 144.4,117.4L144.5,117.6A9.8,9.8 0 0 1 145.3,117.2L145.3,117.3A9.6,9.6 0 0 1 145.6,117.2Z" fill="#f08c96"/>
<path d="M148.60,126.40 L146.21,114.13 A12.50,12.50 0 0 1 148.16,113.91 Z" fill="#f7e9dc" fill-opacity="1.0"/>
<path d="M66.3,160.2L66.3,149.7A10.5,10.5 0 0 1 67.2,149.7L67.2,149.7A10.5,10.5 0 0 1 68.1,149.9L68.0,150.8A9.6,9.6 0 0 1 68.8,151.0L68.5,152.0A8.5,8.5 0 0 1 69.2,152.2L69.0,152.8A7.8,7.8 0 0 1 69.6,153.1L69.5,153.4A7.5,7.5 0 0 1 70.1,153.7L69.9,153.9A7.2,7.2 0 0 1 70.5,154.3L70.3,154.5A7.0,7.0 0 0 1 70.8,154.9L70.6,155.1A6.7,6.7 0 0 1 71.0,155.5L70.8,155.7A6.4,6.4 0 0 1 71.2,156.1L71.1,156.2A6.3,6.3 0 0 1 71.5,156.6L71.4,156.7A6.2,6.2 0 0 1 71.6,157.1L71.5,157.2A6.0,6.0 0 0 1 71.8,157.7L71.6,157.7A5.9,5.9 0 0 1 71.8,158.2L71.7,158.2A5.8,5.8 0 0 1 71.9,158.7L71.7,158.7A5.6,5.6 0 0 1 71.8,159.2L71.7,159.2A5.5,5.5 0 0 1 71.8,159.7L71.6,159.7A5.4,5.4 0 0 1 71.7,160.2L71.6,160.2A5.3,5.3 0 0 1 71.6,160.7L71.6,160.7A5.3,5.3 0 0 1 71.6,161.1L71.6,161.1A5.4,5.4 0 0 1 71.5,161.6L71.5,161.6A5.4,5.4 0 0 1 71.4,162.0L71.4,162.0A5.4,5.4 0 0 1 71.2,162.5L71.2,162.5A5.4,5.4 0 0 1 71.0,162.9L71.0,162.9A5.4,5.4 0 0 1 70.8,163.3L70.8,163.3A5.5,5.5 0 0 1 70.5,163.7L70.5,163.7A5.5,5.5 0 0 1 70.2,164.1L70.2,164.1A5.5,5.5 0 0 1 69.9,164.4L69.9,164.5A5.6,5.6 0 0 1 69.5,164.8L69.6,164.9A5.7,5.7 0 0 1 69.1,165.1L69.2,165.2A5.8,5.8 0 0 1 68.7,165.4L68.8,165.5A5.8,5.8 0 0 1 68.3,165.7L68.3,165.8A5.9,5.9 0 0 1 67.8,165.9L67.9,166.0A6.0,6.0 0 0 1 67.3,166.1L67.4,166.2A6.1,6.1 0 0 1 66.8,166.3L66.8,166.3A6.2,6.2 0 0 1 66.3,166.4L66.3,166.4A6.2,6.2 0 0 1 65.8,166.4L65.8,166.3A6.2,6.2 0 0 1 65.2,166.3L65.2,166.3A6.1,6.1 0 0 1 64.7,166.1L64.7,166.1A6.1,6.1 0 0 1 64.2,166.0L64.2,165.9A6.1,6.1 0 0 1 63.7,165.7L63.7,165.7A6.1,6.1 0 0 1 63.3,165.5L63.3,165.4A6.1,6.1 0 0 1 62.8,165.2L62.8,165.1A6.0,6.0 0 0 1 62.4,164.8L62.4,164.8A6.0,6.0 0 0 1 62.0,164.5L62.1,164.4A5.9,5.9 0 0 1 61.7,164.0L61.8,163.9A5.8,5.8 0 0 1 61.5,163.5L61.6,163.5A5.7,5.7 0 0 1 61.3,163.1L61.4,163.0A5.6,5.6 0 0 1 61.2,162.6L61.3,162.5A5.5,5.5 0 0 1 61.1,162.1L61.2,162.0A5.4,5.4 0 0 1 61.1,161.6L61.2,161.6A5.3,5.3 0 0 1 61.1,161.1L61.2,161.1A5.2,5.2 0 0 1 61.2,160.7L61.3,160.6A5.1,5.1 0 0 1 61.2,160.2L61.4,160.2A4.9,4.9 0 0 1 61.4,159.8L61.6,159.8A4.8,4.8 0 0 1 61.6,159.4L61.8,159.4A4.6,4.6 0 0 1 61.9,159.0L62.0,159.1A4.4,4.4 0 0 1 62.1,158.7L62.3,158.7A4.2,4.2 0 0 1 62.4,158.4L62.6,158.5A4.1,4.1 0 0 1 62.8,158.2L62.9,158.2A3.9,3.9 0 0 1 63.1,158.0L63.2,158.0A3.8,3.8 0 0 1 63.4,157.8L63.6,157.9A3.6,3.6 0 0 1 63.8,157.7L63.9,157.8A3.5,3.5 0 0 1 64.1,157.6L64.1,157.6A3.4,3.4 0 0 1 64.4,157.4L64.4,157.5A3.3,3.3 0 0 1 64.7,157.3L64.7,157.4A3.2,3.2 0 0 1 64.9,157.3L65.0,157.4A3.1,3.1 0 0 1 65.2,157.3L65.3,157.3A3.0,3.0 0 0 1 65.5,157.3L65.2,156.1A4.2,4.2 0 0 1 65.6,156.0L65.1,153.6A6.8,6.8 0 0 1 65.7,153.5L65.5,151.0A9.2,9.2 0 0 1 66.3,150.9Z" fill="#cbbad5"/>
<path d="M66.3,160.2L66.3,149.7A10.5,10.5 0 0 1 67.2,149.7L67.2,149.7A10.5,10.5 0 0 1 68.1,149.9Z" fill="#e6a0a0"/>
<path d="M66.3,160.2L68.0,150.8A9.6,9.6 0 0 1 68.8,151.0L68.5,152.0A8.5,8.5 0 0 1 69.2,152.2Z" fill="#f2cece"/>
<path d="M66.3,160.2L69.0,152.8A7.8,7.8 0 0 1 69.6,153.1L69.5,153.4A7.5,7.5 0 0 1 70.1,153.7L69.9,153.9A7.2,7.2 0 0 1 70.5,154.3Z" fill="#f1d2d4"/>
<path d="M66.3,160.2L70.3,154.5A7.0,7.0 0 0 1 70.8,154.9L70.6,155.1A6.7,6.7 0 0 1 71.0,155.5L70.8,155.7A6.4,6.4 0 0 1 71.2,156.1L71.1,156.2A6.3,6.3 0 0 1 71.5,156.6Z" fill="#f0d6d9"/>
<path d="M66.3,160.2L71.4,156.7A6.2,6.2 0 0 1 71.6,157.1L71.5,157.2A6.0,6.0 0 0 1 71.8,157.7L71.6,157.7A5.9,5.9 0 0 1 71.8,158.2Z" fill="#efd9de"/>
<path d="M66.3,160.2L71.7,158.2A5.8,5.8 0 0 1 71.9,158.7L71.7,158.7A5.6,5.6 0 0 1 71.8,159.2L71.7,159.2A5.5,5.5 0 0 1 71.8,159.7L71.6,159.7A5.4,5.4 0 0 1 71.7,160.2Z" fill="#eedde4"/>
<path d="M66.3,160.2L71.6,160.2A5.3,5.3 0 0 1 71.6,160.7L71.6,160.7A5.3,5.3 0 0 1 71.6,161.1Z" fill="#e4d6e4"/>
<path d="M66.3,160.2L71.6,161.1A5.4,5.4 0 0 1 71.5,161.6L71.5,161.6A5.4,5.4 0 0 1 71.4,162.0L71.4,162.0A5.4,5.4 0 0 1 71.2,162.5L71.2,162.5A5.4,5.4 0 0 1 71.0,162.9Z" fill="#d9cee4"/>
<path d="M66.3,160.2L71.0,162.9A5.4,5.4 0 0 1 70.8,163.3L70.8,163.3A5.5,5.5 0 0 1 70.5,163.7Z" fill="#cec7e4"/>
<path d="M66.3,160.2L70.5,163.7A5.5,5.5 0 0 1 70.2,164.1L70.2,164.1A5.5,5.5 0 0 1 69.9,164.4L69.9,164.5A5.6,5.6 0 0 1 69.5,164.8L69.6,164.9A5.7,5.7 0 0 1 69.1,165.1Z" fill="#c4c0e4"/>
<path d="M66.3,160.2L69.2,165.2A5.8,5.8 0 0 1 68.7,165.4L68.8,165.5A5.8,5.8 0 0 1 68.3,165.7L68.3,165.8A5.9,5.9 0 0 1 67.8,165.9L67.9,166.0A6.0,6.0 0 0 1 67.3,166.1Z" fill="#bebae1"/>
<path d="M66.3,160.2L67.4,166.2A6.1,6.1 0 0 1 66.8,166.3L66.8,166.3A6.2,6.2 0 0 1 66.3,166.4L66.3,166.4A6.2,6.2 0 0 1 65.8,166.4L65.8,166.3A6.2,6.2 0 0 1 65.2,166.3Z" fill="#b7b3de"/>
<path d="M66.3,160.2L65.2,166.3A6.1,6.1 0 0 1 64.7,166.1L64.7,166.1A6.1,6.1 0 0 1 64.2,166.0L64.2,165.9A6.1,6.1 0 0 1 63.7,165.7L63.7,165.7A6.1,6.1 0 0 1 63.3,165.5Z" fill="#b0acdb"/>
<path d="M66.3,160.2L63.3,165.4A6.1,6.1 0 0 1 62.8,165.2L62.8,165.1A6.0,6.0 0 0 1 62.4,164.8L62.4,164.8A6.0,6.0 0 0 1 62.0,164.5L62.1,164.4A5.9,5.9 0 0 1 61.7,164.0L61.8,163.9A5.8,5.8 0 0 1 61.5,163.5Z" fill="#aaa6d8"/>
<path d="M66.3,160.2L61.6,163.5A5.7,5.7 0 0 1 61.3,163.1L61.4,163.0A5.6,5.6 0 0 1 61.2,162.6L61.3,162.5A5.5,5.5 0 0 1 61.1,162.1L61.2,162.0A5.4,5.4 0 0 1 61.1,161.6L61.2,161.6A5.3,5.3 0 0 1 61.1,161.1L61.2,161.1A5.2,5.2 0 0 1 61.2,160.7Z" fill="#a8a4d7"/>
<path d="M66.3,160.2L61.3,160.6A5.1,5.1 0 0 1 61.2,160.2L61.4,160.2A4.9,4.9 0 0 1 61.4,159.8L61.6,159.8A4.8,4.8 0 0 1 61.6,159.4L61.8,159.4A4.6,4.6 0 0 1 61.9,159.0L62.0,159.1A4.4,4.4 0 0 1 62.1,158.7L62.3,158.7A4.2,4.2 0 0 1 62.4,158.4L62.6,158.5A4.1,4.1 0 0 1 62.8,158.2Z" fill="#a7a3d6"/>
<path d="M66.3,160.2L62.9,158.2A3.9,3.9 0 0 1 63.1,158.0L63.2,158.0A3.8,3.8 0 0 1 63.4,157.8L63.6,157.9A3.6,3.6 0 0 1 63.8,157.7L63.9,157.8A3.5,3.5 0 0 1 64.1,157.6L64.1,157.6A3.4,3.4 0 0 1 64.4,157.4L64.4,157.5A3.3,3.3 0 0 1 64.7,157.3Z" fill="#a6a2d5"/>
<path d="M66.3,160.2L64.7,157.4A3.2,3.2 0 0 1 64.9,157.3L65.0,157.4A3.1,3.1 0 0 1 65.2,157.3L65.3,157.3A3.0,3.0 0 0 1 65.5,157.3L65.2,156.1A4.2,4.2 0 0 1 65.6,156.0L65.1,153.6A6.8,6.8 0 0 1 65.7,153.5L65.5,151.0A9.2,9.2 0 0 1 66.3,150.9Z" fill="#a4a0d4"/>
<path d="M66.3,160.2L66.3,149.7A10.5,10.5 0 0 1 67.2,149.7L67.2,149.7A10.5,10.5 0 0 1 68.1,149.9L68.0,150.8A9.6,9.6 0 0 1 68.8,151.0L68.5,152.0A8.5,8.5 0 0 1 69.2,152.2L69.0,152.8A7.8,7.8 0 0 1 69.6,153.1L69.5,153.4A7.5,7.5 0 0 1 70.1,153.7L69.9,153.9A7.2,7.2 0 0 1 70.5,154.3L70.3,154.5A7.0,7.0 0 0 1 70.8,154.9L70.6,155.1A6.7,6.7 0 0 1 71.0,155.5L70.8,155.7A6.4,6.4 0 0 1 71.2,156.1L71.1,156.2A6.3,6.3 0 0 1 71.5,156.6L71.4,156.7A6.2,6.2 0 0 1 71.6,157.1L71.5,157.2A6.0,6.0 0 0 1 71.8,157.7L71.6,157.7A5.9,5.9 0 0 1 71.8,158.2L71.7,158.2A5.8,5.8 0 0 1 71.9,158.7L71.7,158.7A5.6,5.6 0 0 1 71.8,159.2L71.7,159.2A5.5,5.5 0 0 1 71.8,159.7L71.6,159.7A5.4,5.4 0 0 1 71.7,160.2L71.6,160.2A5.3,5.3 0 0 1 71.6,160.7L71.6,160.7A5.3,5.3 0 0 1 71.6,161.1L71.6,161.1A5.4,5.4 0 0 1 71.5,161.6L71.5,161.6A5.4,5.4 0 0 1 71.4,162.0L71.4,162.0A5.4,5.4 0 0 1 71.2,162.5L71.2,162.5A5.4,5.4 0 0 1 71.0,162.9L71.0,162.9A5.4,5.4 0 0 1 70.8,163.3L70.8,163.3A5.5,5.5 0 0 1 70.5,163.7L70.5,163.7A5.5,5.5 0 0 1 70.2,164.1L70.2,164.1A5.5,5.5 0 0 1 69.9,164.4L69.9,164.5A5.6,5.6 0 0 1 69.5,164.8L69.6,164.9A5.7,5.7 0 0 1 69.1,165.1L69.2,165.2A5.8,5.8 0 0 1 68.7,165.4L68.8,165.5A5.8,5.8 0 0 1 68.3,165.7L68.3,165.8A5.9,5.9 0 0 1 67.8,165.9L67.9,166.0A6.0,6.0 0 0 1 67.3,166.1L67.4,166.2A6.1,6.1 0 0 1 66.8,166.3L66.8,166.3A6.2,6.2 0 0 1 66.3,166.4L66.3,166.4A6.2,6.2 0 0 1 65.8,166.4L65.8,166.3A6.2,6.2 0 0 1 65.2,166.3L65.2,166.3A6.1,6.1 0 0 1 64.7,166.1L64.7,166.1A6.1,6.1 0 0 1 64.2,166.0L64.2,165.9A6.1,6.1 0 0 1 63.7,165.7L63.7,165.7A6.1,6.1 0 0 1 63.3,165.5L63.3,165.4A6.1,6.1 0 0 1 62.8,165.2L62.8,165.1A6.0,6.0 0 0 1 62.4,164.8L62.4,164.8A6.0,6.0 0 0 1 62.0,164.5L62.1,164.4A5.9,5.9 0 0 1 61.7,164.0L61.8,163.9A5.8,5.8 0 0 1 61.5,163.5L61.6,163.5A5.7,5.7 0 0 1 61.3,163.1L61.4,163.0A5.6,5.6 0 0 1 61.2,162.6L61.3,162.5A5.5,5.5 0 0 1 61.1,162.1L61.2,162.0A5.4,5.4 0 0 1 61.1,161.6L61.2,161.6A5.3,5.3 0 0 1 61.1,161.1L61.2,161.1A5.2,5.2 0 0 1 61.2,160.7L61.3,160.6A5.1,5.1 0 0 1 61.2,160.2L61.4,160.2A4.9,4.9 0 0 1 61.4,159.8L61.6,159.8A4.8,4.8 0 0 1 61.6,159.4L61.8,159.4A4.6,4.6 0 0 1 61.9,159.0L62.0,159.1A4.4,4.4 0 0 1 62.1,158.7L62.3,158.7A4.2,4.2 0 0 1 62.4,158.4L62.6,158.5A4.1,4.1 0 0 1 62.8,158.2L62.9,158.2A3.9,3.9 0 0 1 63.1,158.0L63.2,158.0A3.8,3.8 0 0 1 63.4,157.8L63.6,157.9A3.6,3.6 0 0 1 63.8,157.7L63.9,157.8A3.5,3.5 0 0 1 64.1,157.6L64.1,157.6A3.4,3.4 0 0 1 64.4,157.4L64.4,157.5A3.3,3.3 0 0 1 64.7,157.3L64.7,157.4A3.2,3.2 0 0 1 64.9,157.3L65.0,157.4A3.1,3.1 0 0 1 65.2,157.3L65.3,157.3A3.0,3.0 0 0 1 65.5,157.3L65.2,156.1A4.2,4.2 0 0 1 65.6,156.0L65.1,153.6A6.8,6.8 0 0 1 65.7,153.5L65.5,151.0A9.2,9.2 0 0 1 66.3,150.9Z" fill="url(#g10)"/>
<path d="M94.0,160.2L94.0,150.7A9.5,9.5 0 0 1 94.8,150.7L94.8,150.7A9.5,9.5 0 0 1 95.6,150.8L95.6,151.2A9.2,9.2 0 0 1 96.4,151.3L96.2,151.9A8.6,8.6 0 0 1 96.9,152.2L96.7,152.7A7.9,7.9 0 0 1 97.4,153.0L97.1,153.6A7.3,7.3 0 0 1 97.7,153.9L97.4,154.2A6.9,6.9 0 0 1 97.9,154.6L97.8,154.8A6.6,6.6 0 0 1 98.3,155.1L98.1,155.3A6.4,6.4 0 0 1 98.5,155.7L98.3,155.9A6.1,6.1 0 0 1 98.7,156.3L98.5,156.4A5.9,5.9 0 0 1 98.8,156.8L98.6,157.0A5.6,5.6 0 0 1 98.9,157.4L98.7,157.5A5.5,5.5 0 0 1 99.0,157.9L98.9,157.9A5.4,5.4 0 0 1 99.1,158.3L99.1,158.4A5.4,5.4 0 0 1 99.2,158.8L99.1,158.8A5.3,5.3 0 0 1 99.2,159.3L99.2,159.3A5.3,5.3 0 0 1 99.3,159.7L99.2,159.7A5.2,5.2 0 0 1 99.2,160.2L99.2,160.2A5.2,5.2 0 0 1 99.2,160.7L99.3,160.7A5.3,5.3 0 0 1 99.3,161.1L99.3,161.1A5.4,5.4 0 0 1 99.2,161.6L99.3,161.6A5.5,5.5 0 0 1 99.2,162.1L99.3,162.1A5.6,5.6 0 0 1 99.1,162.6L99.2,162.6A5.7,5.7 0 0 1 98.9,163.0L99.0,163.1A5.8,5.8 0 0 1 98.7,163.5L98.8,163.6A5.9,5.9 0 0 1 98.5,164.0L98.6,164.0A6.0,6.0 0 0 1 98.2,164.4L98.3,164.5A6.1,6.1 0 0 1 97.9,164.8L98.0,164.9A6.2,6.2 0 0 1 97.5,165.3L97.6,165.3A6.3,6.3 0 0 1 97.1,165.6L97.2,165.7A6.4,6.4 0 0 1 96.7,166.0L96.7,166.1A6.5,6.5 0 0 1 96.2,166.3L96.3,166.4A6.6,6.6 0 0 1 95.7,166.6L95.7,166.7A6.7,6.7 0 0 1 95.2,166.8L95.2,166.9A6.8,6.8 0 0 1 94.6,167.0L94.6,167.1A6.9,6.9 0 0 1 94.0,167.1L94.0,167.2A7.0,7.0 0 0 1 93.4,167.1L93.4,167.1A6.9,6.9 0 0 1 92.8,167.0L92.8,167.0A6.9,6.9 0 0 1 92.2,166.8L92.2,166.8A6.8,6.8 0 0 1 91.7,166.6L91.7,166.5A6.8,6.8 0 0 1 91.1,166.3L91.2,166.3A6.7,6.7 0 0 1 90.7,166.0L90.7,165.9A6.6,6.6 0 0 1 90.2,165.6L90.2,165.6A6.6,6.6 0 0 1 89.8,165.2L89.8,165.2A6.5,6.5 0 0 1 89.4,164.8L89.4,164.8A6.4,6.4 0 0 1 89.1,164.3L89.1,164.3A6.3,6.3 0 0 1 88.8,163.8L88.9,163.8A6.2,6.2 0 0 1 88.6,163.3L88.7,163.3A6.1,6.1 0 0 1 88.5,162.8L88.6,162.7A6.0,6.0 0 0 1 88.4,162.3L88.5,162.2A5.9,5.9 0 0 1 88.3,161.7L88.4,161.7A5.8,5.8 0 0 1 88.3,161.2L88.4,161.2A5.7,5.7 0 0 1 88.4,160.7L88.5,160.7A5.6,5.6 0 0 1 88.4,160.2L88.6,160.2A5.4,5.4 0 0 1 88.6,159.7L88.8,159.7A5.2,5.2 0 0 1 88.8,159.3L89.0,159.3A5.1,5.1 0 0 1 89.1,158.9L89.3,158.9A4.9,4.9 0 0 1 89.4,158.5L89.5,158.6A4.8,4.8 0 0 1 89.7,158.2L89.8,158.3A4.6,4.6 0 0 1 90.0,157.9L90.2,158.0A4.4,4.4 0 0 1 90.4,157.7L90.5,157.8A4.2,4.2 0 0 1 90.7,157.5L90.9,157.6A4.1,4.1 0 0 1 91.1,157.3L91.2,157.4A4.0,4.0 0 0 1 91.5,157.2L91.5,157.2A3.9,3.9 0 0 1 91.8,157.0L91.8,157.1A3.8,3.8 0 0 1 92.1,156.9L92.1,157.0A3.7,3.7 0 0 1 92.4,156.8L92.5,156.9A3.6,3.6 0 0 1 92.8,156.8L92.8,156.9A3.5,3.5 0 0 1 93.1,156.8L92.8,155.9A4.5,4.5 0 0 1 93.2,155.8L92.9,153.8A6.5,6.5 0 0 1 93.4,153.7L93.3,151.7A8.5,8.5 0 0 1 94.0,151.7Z" fill="#d2cbe2"/>
<path d="M94.0,160.2L94.0,150.7A9.5,9.5 0 0 1 94.8,150.7Z" fill="#e8c5bd"/>
<path d="M94.0,160.2L94.8,150.7A9.5,9.5 0 0 1 95.6,150.8Z" fill="#e8c7bf"/>
<path d="M94.0,160.2L95.6,151.2A9.2,9.2 0 0 1 96.4,151.3Z" fill="#e8c8c0"/>
<path d="M94.0,160.2L96.2,151.9A8.6,8.6 0 0 1 96.9,152.2L96.7,152.7A7.9,7.9 0 0 1 97.4,153.0Z" fill="#e7d6d7"/>
<path d="M94.0,160.2L97.1,153.6A7.3,7.3 0 0 1 97.7,153.9L97.4,154.2A6.9,6.9 0 0 1 97.9,154.6L97.8,154.8A6.6,6.6 0 0 1 98.3,155.1L98.1,155.3A6.4,6.4 0 0 1 98.5,155.7Z" fill="#e6e4ee"/>
<path d="M94.0,160.2L98.3,155.9A6.1,6.1 0 0 1 98.7,156.3L98.5,156.4A5.9,5.9 0 0 1 98.8,156.8L98.6,157.0A5.6,5.6 0 0 1 98.9,157.4L98.7,157.5A5.5,5.5 0 0 1 99.0,157.9Z" fill="#e4e3ee"/>
<path d="M94.0,160.2L98.9,157.9A5.4,5.4 0 0 1 99.1,158.3L99.1,158.4A5.4,5.4 0 0 1 99.2,158.8L99.1,158.8A5.3,5.3 0 0 1 99.2,159.3L99.2,159.3A5.3,5.3 0 0 1 99.3,159.7L99.2,159.7A5.2,5.2 0 0 1 99.2,160.2L99.2,160.2A5.2,5.2 0 0 1 99.2,160.7Z" fill="#e3e2ed"/>
<path d="M94.0,160.2L99.3,160.7A5.3,5.3 0 0 1 99.3,161.1L99.3,161.1A5.4,5.4 0 0 1 99.2,161.6L99.3,161.6A5.5,5.5 0 0 1 99.2,162.1L99.3,162.1A5.6,5.6 0 0 1 99.1,162.6Z" fill="#e2e1ec"/>
<path d="M94.0,160.2L99.2,162.6A5.7,5.7 0 0 1 98.9,163.0L99.0,163.1A5.8,5.8 0 0 1 98.7,163.5L98.8,163.6A5.9,5.9 0 0 1 98.5,164.0L98.6,164.0A6.0,6.0 0 0 1 98.2,164.4L98.3,164.5A6.1,6.1 0 0 1 97.9,164.8Z" fill="#e0e0ec"/>
<path d="M94.0,160.2L98.0,164.9A6.2,6.2 0 0 1 97.5,165.3L97.6,165.3A6.3,6.3 0 0 1 97.1,165.6Z" fill="#d9d8ea"/>
<path d="M94.0,160.2L97.2,165.7A6.4,6.4 0 0 1 96.7,166.0L96.7,166.1A6.5,6.5 0 0 1 96.2,166.3L96.3,166.4A6.6,6.6 0 0 1 95.7,166.6L95.7,166.7A6.7,6.7 0 0 1 95.2,166.8Z" fill="#d2d0e8"/>
<path d="M94.0,160.2L95.2,166.9A6.8,6.8 0 0 1 94.6,167.0L94.6,167.1A6.9,6.9 0 0 1 94.0,167.1Z" fill="#cbc8e6"/>
<path d="M94.0,160.2L94.0,167.2A7.0,7.0 0 0 1 93.4,167.1L93.4,167.1A6.9,6.9 0 0 1 92.8,167.0L92.8,167.0A6.9,6.9 0 0 1 92.2,166.8L92.2,166.8A6.8,6.8 0 0 1 91.7,166.6L91.7,166.5A6.8,6.8 0 0 1 91.1,166.3L91.2,166.3A6.7,6.7 0 0 1 90.7,166.0Z" fill="#c4c0e4"/>
<path d="M94.0,160.2L90.7,165.9A6.6,6.6 0 0 1 90.2,165.6L90.2,165.6A6.6,6.6 0 0 1 89.8,165.2L89.8,165.2A6.5,6.5 0 0 1 89.4,164.8L89.4,164.8A6.4,6.4 0 0 1 89.1,164.3L89.1,164.3A6.3,6.3 0 0 1 88.8,163.8L88.9,163.8A6.2,6.2 0 0 1 88.6,163.3L88.7,163.3A6.1,6.1 0 0 1 88.5,162.8L88.6,162.7A6.0,6.0 0 0 1 88.4,162.3Z" fill="#c1bde2"/>
<path d="M94.0,160.2L88.5,162.2A5.9,5.9 0 0 1 88.3,161.7L88.4,161.7A5.8,5.8 0 0 1 88.3,161.2L88.4,161.2A5.7,5.7 0 0 1 88.4,160.7L88.5,160.7A5.6,5.6 0 0 1 88.4,160.2L88.6,160.2A5.4,5.4 0 0 1 88.6,159.7L88.8,159.7A5.2,5.2 0 0 1 88.8,159.3L89.0,159.3A5.1,5.1 0 0 1 89.1,158.9Z" fill="#bebae1"/>
<path d="M94.0,160.2L89.3,158.9A4.9,4.9 0 0 1 89.4,158.5L89.5,158.6A4.8,4.8 0 0 1 89.7,158.2L89.8,158.3A4.6,4.6 0 0 1 90.0,157.9L90.2,158.0A4.4,4.4 0 0 1 90.4,157.7L90.5,157.8A4.2,4.2 0 0 1 90.7,157.5L90.9,157.6A4.1,4.1 0 0 1 91.1,157.3L91.2,157.4A4.0,4.0 0 0 1 91.5,157.2L91.5,157.2A3.9,3.9 0 0 1 91.8,157.0Z" fill="#bbb7e0"/>
<path d="M94.0,160.2L91.8,157.1A3.8,3.8 0 0 1 92.1,156.9L92.1,157.0A3.7,3.7 0 0 1 92.4,156.8L92.5,156.9A3.6,3.6 0 0 1 92.8,156.8L92.8,156.9A3.5,3.5 0 0 1 93.1,156.8L92.8,155.9A4.5,4.5 0 0 1 93.2,155.8L92.9,153.8A6.5,6.5 0 0 1 93.4,153.7L93.3,151.7A8.5,8.5 0 0 1 94.0,151.7Z" fill="#b8b4de"/>
<path d="M94.0,160.2L94.0,150.7A9.5,9.5 0 0 1 94.8,150.7L94.8,150.7A9.5,9.5 0 0 1 95.6,150.8L95.6,151.2A9.2,9.2 0 0 1 96.4,151.3L96.2,151.9A8.6,8.6 0 0 1 96.9,152.2L96.7,152.7A7.9,7.9 0 0 1 97.4,153.0L97.1,153.6A7.3,7.3 0 0 1 97.7,153.9L97.4,154.2A6.9,6.9 0 0 1 97.9,154.6L97.8,154.8A6.6,6.6 0 0 1 98.3,155.1L98.1,155.3A6.4,6.4 0 0 1 98.5,155.7L98.3,155.9A6.1,6.1 0 0 1 98.7,156.3L98.5,156.4A5.9,5.9 0 0 1 98.8,156.8L98.6,157.0A5.6,5.6 0 0 1 98.9,157.4L98.7,157.5A5.5,5.5 0 0 1 99.0,157.9L98.9,157.9A5.4,5.4 0 0 1 99.1,158.3L99.1,158.4A5.4,5.4 0 0 1 99.2,158.8L99.1,158.8A5.3,5.3 0 0 1 99.2,159.3L99.2,159.3A5.3,5.3 0 0 1 99.3,159.7L99.2,159.7A5.2,5.2 0 0 1 99.2,160.2L99.2,160.2A5.2,5.2 0 0 1 99.2,160.7L99.3,160.7A5.3,5.3 0 0 1 99.3,161.1L99.3,161.1A5.4,5.4 0 0 1 99.2,161.6L99.3,161.6A5.5,5.5 0 0 1 99.2,162.1L99.3,162.1A5.6,5.6 0 0 1 99.1,162.6L99.2,162.6A5.7,5.7 0 0 1 98.9,163.0L99.0,163.1A5.8,5.8 0 0 1 98.7,163.5L98.8,163.6A5.9,5.9 0 0 1 98.5,164.0L98.6,164.0A6.0,6.0 0 0 1 98.2,164.4L98.3,164.5A6.1,6.1 0 0 1 97.9,164.8L98.0,164.9A6.2,6.2 0 0 1 97.5,165.3L97.6,165.3A6.3,6.3 0 0 1 97.1,165.6L97.2,165.7A6.4,6.4 0 0 1 96.7,166.0L96.7,166.1A6.5,6.5 0 0 1 96.2,166.3L96.3,166.4A6.6,6.6 0 0 1 95.7,166.6L95.7,166.7A6.7,6.7 0 0 1 95.2,166.8L95.2,166.9A6.8,6.8 0 0 1 94.6,167.0L94.6,167.1A6.9,6.9 0 0 1 94.0,167.1L94.0,167.2A7.0,7.0 0 0 1 93.4,167.1L93.4,167.1A6.9,6.9 0 0 1 92.8,167.0L92.8,167.0A6.9,6.9 0 0 1 92.2,166.8L92.2,166.8A6.8,6.8 0 0 1 91.7,166.6L91.7,166.5A6.8,6.8 0 0 1 91.1,166.3L91.2,166.3A6.7,6.7 0 0 1 90.7,166.0L90.7,165.9A6.6,6.6 0 0 1 90.2,165.6L90.2,165.6A6.6,6.6 0 0 1 89.8,165.2L89.8,165.2A6.5,6.5 0 0 1 89.4,164.8L89.4,164.8A6.4,6.4 0 0 1 89.1,164.3L89.1,164.3A6.3,6.3 0 0 1 88.8,163.8L88.9,163.8A6.2,6.2 0 0 1 88.6,163.3L88.7,163.3A6.1,6.1 0 0 1 88.5,162.8L88.6,162.7A6.0,6.0 0 0 1 88.4,162.3L88.5,162.2A5.9,5.9 0 0 1 88.3,161.7L88.4,161.7A5.8,5.8 0 0 1 88.3,161.2L88.4,161.2A5.7,5.7 0 0 1 88.4,160.7L88.5,160.7A5.6,5.6 0 0 1 88.4,160.2L88.6,160.2A5.4,5.4 0 0 1 88.6,159.7L88.8,159.7A5.2,5.2 0 0 1 88.8,159.3L89.0,159.3A5.1,5.1 0 0 1 89.1,158.9L89.3,158.9A4.9,4.9 0 0 1 89.4,158.5L89.5,158.6A4.8,4.8 0 0 1 89.7,158.2L89.8,158.3A4.6,4.6 0 0 1 90.0,157.9L90.2,158.0A4.4,4.4 0 0 1 90.4,157.7L90.5,157.8A4.2,4.2 0 0 1 90.7,157.5L90.9,157.6A4.1,4.1 0 0 1 91.1,157.3L91.2,157.4A4.0,4.0 0 0 1 91.5,157.2L91.5,157.2A3.9,3.9 0 0 1 91.8,157.0L91.8,157.1A3.8,3.8 0 0 1 92.1,156.9L92.1,157.0A3.7,3.7 0 0 1 92.4,156.8L92.5,156.9A3.6,3.6 0 0 1 92.8,156.8L92.8,156.9A3.5,3.5 0 0 1 93.1,156.8L92.8,155.9A4.5,4.5 0 0 1 93.2,155.8L92.9,153.8A6.5,6.5 0 0 1 93.4,153.7L93.3,151.7A8.5,8.5 0 0 1 94.0,151.7Z" fill="url(#g11)"/>
<path d="M121.5,160.3L121.5,152.5A7.8,7.8 0 0 1 122.2,152.5L122.2,152.8A7.5,7.5 0 0 1 122.8,152.9L122.7,153.2A7.2,7.2 0 0 1 123.4,153.4L123.3,153.7A6.8,6.8 0 0 1 123.8,153.9L123.7,154.2A6.5,6.5 0 0 1 124.2,154.4L124.1,154.7A6.2,6.2 0 0 1 124.6,155.0L124.4,155.2A5.9,5.9 0 0 1 124.9,155.5L124.7,155.7A5.6,5.6 0 0 1 125.1,156.0L125.0,156.2A5.4,5.4 0 0 1 125.3,156.5L125.1,156.7A5.1,5.1 0 0 1 125.4,157.0L125.2,157.2A4.9,4.9 0 0 1 125.5,157.5L125.3,157.6A4.6,4.6 0 0 1 125.5,158.0L125.3,158.1A4.4,4.4 0 0 1 125.5,158.4L125.4,158.5A4.3,4.3 0 0 1 125.6,158.8L125.5,158.9A4.2,4.2 0 0 1 125.6,159.2L125.5,159.2A4.1,4.1 0 0 1 125.5,159.6L125.4,159.6A4.0,4.0 0 0 1 125.5,160.0L125.3,160.0A3.9,3.9 0 0 1 125.4,160.3L125.3,160.3A3.8,3.8 0 0 1 125.3,160.6L125.2,160.6A3.7,3.7 0 0 1 125.2,160.9L125.1,160.9A3.7,3.7 0 0 1 125.0,161.2L125.0,161.2A3.6,3.6 0 0 1 124.9,161.5L124.8,161.5A3.5,3.5 0 0 1 124.7,161.8L124.7,161.8A3.5,3.5 0 0 1 124.5,162.0L124.5,162.0A3.4,3.4 0 0 1 124.3,162.3L124.3,162.2A3.4,3.4 0 0 1 124.1,162.5L124.0,162.4A3.3,3.3 0 0 1 123.9,162.7L123.8,162.6A3.3,3.3 0 0 1 123.6,162.8L123.6,162.8A3.2,3.2 0 0 1 123.4,163.0L123.3,162.9A3.2,3.2 0 0 1 123.1,163.1L123.1,163.1A3.2,3.2 0 0 1 122.8,163.2L122.8,163.2A3.1,3.1 0 0 1 122.6,163.3L122.6,163.2A3.1,3.1 0 0 1 122.3,163.3L122.3,163.3A3.1,3.1 0 0 1 122.0,163.3L122.0,163.3A3.0,3.0 0 0 1 121.8,163.3L121.8,163.3A3.0,3.0 0 0 1 121.5,163.3L121.5,163.3A3.0,3.0 0 0 1 121.2,163.3L121.2,163.2A3.0,3.0 0 0 1 121.0,163.2L121.0,163.2A2.9,2.9 0 0 1 120.7,163.1L120.8,163.1A2.9,2.9 0 0 1 120.5,163.0L120.5,163.0A2.9,2.9 0 0 1 120.3,162.9L120.3,162.9A2.8,2.8 0 0 1 120.1,162.7L120.1,162.7A2.8,2.8 0 0 1 119.9,162.6L119.9,162.6A2.8,2.8 0 0 1 119.7,162.4L119.8,162.4A2.7,2.7 0 0 1 119.6,162.2L119.6,162.2A2.7,2.7 0 0 1 119.4,162.0L119.5,162.0A2.7,2.7 0 0 1 119.3,161.8L119.4,161.8A2.6,2.6 0 0 1 119.2,161.6L119.3,161.6A2.6,2.6 0 0 1 119.2,161.4L119.2,161.4A2.5,2.5 0 0 1 119.1,161.2L119.1,161.2A2.5,2.5 0 0 1 119.1,161.0L119.1,160.9A2.5,2.5 0 0 1 119.1,160.7L119.1,160.7A2.5,2.5 0 0 1 119.1,160.5L119.1,160.5A2.4,2.4 0 0 1 119.1,160.3L119.1,160.3A2.4,2.4 0 0 1 119.1,160.1L119.2,160.1A2.3,2.3 0 0 1 119.2,159.9L119.2,159.9A2.3,2.3 0 0 1 119.3,159.7L119.3,159.7A2.2,2.2 0 0 1 119.4,159.5L119.4,159.5A2.2,2.2 0 0 1 119.5,159.4L119.5,159.4A2.2,2.2 0 0 1 119.6,159.2L119.7,159.2A2.1,2.1 0 0 1 119.8,159.1L119.8,159.1A2.1,2.1 0 0 1 119.9,159.0L120.0,159.0A2.0,2.0 0 0 1 120.1,158.9L120.1,158.9A2.0,2.0 0 0 1 120.2,158.8L120.2,158.8A1.9,1.9 0 0 1 120.4,158.7L120.4,158.7A1.9,1.9 0 0 1 120.5,158.6L120.6,158.7A1.9,1.9 0 0 1 120.7,158.6L120.7,158.6A1.9,1.9 0 0 1 120.9,158.6L120.9,158.6A1.8,1.8 0 0 1 121.0,158.5L120.8,157.6A2.8,2.8 0 0 1 121.0,157.5L120.6,155.5A4.9,4.9 0 0 1 121.1,155.4L120.9,153.4A7.0,7.0 0 0 1 121.5,153.3Z" fill="#b2add4"/>
<path d="M121.5,160.3L121.5,152.5A7.8,7.8 0 0 1 122.2,152.5L122.2,152.8A7.5,7.5 0 0 1 122.8,152.9L122.7,153.2A7.2,7.2 0 0 1 123.4,153.4Z" fill="#d8d4ea"/>
<path d="M121.5,160.3L123.3,153.7A6.8,6.8 0 0 1 123.8,153.9L123.7,154.2A6.5,6.5 0 0 1 124.2,154.4L124.1,154.7A6.2,6.2 0 0 1 124.6,155.0L124.4,155.2A5.9,5.9 0 0 1 124.9,155.5Z" fill="#d4d0e8"/>
<path d="M121.5,160.3L124.7,155.7A5.6,5.6 0 0 1 125.1,156.0L125.0,156.2A5.4,5.4 0 0 1 125.3,156.5L125.1,156.7A5.1,5.1 0 0 1 125.4,157.0L125.2,157.2A4.9,4.9 0 0 1 125.5,157.5L125.3,157.6A4.6,4.6 0 0 1 125.5,158.0L125.3,158.1A4.4,4.4 0 0 1 125.5,158.4Z" fill="#d0cce6"/>
<path d="M121.5,160.3L125.4,158.5A4.3,4.3 0 0 1 125.6,158.8L125.5,158.9A4.2,4.2 0 0 1 125.6,159.2L125.5,159.2A4.1,4.1 0 0 1 125.5,159.6L125.4,159.6A4.0,4.0 0 0 1 125.5,160.0Z" fill="#ccc8e4"/>
<path d="M121.5,160.3L125.3,160.0A3.9,3.9 0 0 1 125.4,160.3L125.3,160.3A3.8,3.8 0 0 1 125.3,160.6L125.2,160.6A3.7,3.7 0 0 1 125.2,160.9L125.1,160.9A3.7,3.7 0 0 1 125.0,161.2L125.0,161.2A3.6,3.6 0 0 1 124.9,161.5Z" fill="#c8c4e2"/>
<path d="M121.5,160.3L124.8,161.5A3.5,3.5 0 0 1 124.7,161.8L124.7,161.8A3.5,3.5 0 0 1 124.5,162.0L124.5,162.0A3.4,3.4 0 0 1 124.3,162.3L124.3,162.2A3.4,3.4 0 0 1 124.1,162.5Z" fill="#b8b4da"/>
<path d="M121.5,160.3L124.0,162.4A3.3,3.3 0 0 1 123.9,162.7L123.8,162.6A3.3,3.3 0 0 1 123.6,162.8L123.6,162.8A3.2,3.2 0 0 1 123.4,163.0L123.3,162.9A3.2,3.2 0 0 1 123.1,163.1Z" fill="#a9a3d1"/>
<path d="M121.5,160.3L123.1,163.1A3.2,3.2 0 0 1 122.8,163.2L122.8,163.2A3.1,3.1 0 0 1 122.6,163.3L122.6,163.2A3.1,3.1 0 0 1 122.3,163.3L122.3,163.3A3.1,3.1 0 0 1 122.0,163.3Z" fill="#9a92c8"/>
<path d="M121.5,160.3L122.0,163.3A3.0,3.0 0 0 1 121.8,163.3L121.8,163.3A3.0,3.0 0 0 1 121.5,163.3L121.5,163.3A3.0,3.0 0 0 1 121.2,163.3L121.2,163.2A3.0,3.0 0 0 1 121.0,163.2Z" fill="#8a82c0"/>
<path d="M121.5,160.3L121.0,163.2A2.9,2.9 0 0 1 120.7,163.1L120.8,163.1A2.9,2.9 0 0 1 120.5,163.0L120.5,163.0A2.9,2.9 0 0 1 120.3,162.9L120.3,162.9A2.8,2.8 0 0 1 120.1,162.7Z" fill="#827aba"/>
<path d="M121.5,160.3L120.1,162.7A2.8,2.8 0 0 1 119.9,162.6L119.9,162.6A2.8,2.8 0 0 1 119.7,162.4L119.8,162.4A2.7,2.7 0 0 1 119.6,162.2L119.6,162.2A2.7,2.7 0 0 1 119.4,162.0Z" fill="#7b73b4"/>
<path d="M121.5,160.3L119.5,162.0A2.7,2.7 0 0 1 119.3,161.8L119.4,161.8A2.6,2.6 0 0 1 119.2,161.6L119.3,161.6A2.6,2.6 0 0 1 119.2,161.4L119.2,161.4A2.5,2.5 0 0 1 119.1,161.2Z" fill="#746cae"/>
<path d="M121.5,160.3L119.1,161.2A2.5,2.5 0 0 1 119.1,161.0L119.1,160.9A2.5,2.5 0 0 1 119.1,160.7L119.1,160.7A2.5,2.5 0 0 1 119.1,160.5L119.1,160.5A2.4,2.4 0 0 1 119.1,160.3L119.1,160.3A2.4,2.4 0 0 1 119.1,160.1L119.2,160.1A2.3,2.3 0 0 1 119.2,159.9L119.2,159.9A2.3,2.3 0 0 1 119.3,159.7L119.3,159.7A2.2,2.2 0 0 1 119.4,159.5L119.4,159.5A2.2,2.2 0 0 1 119.5,159.4L119.5,159.4A2.2,2.2 0 0 1 119.6,159.2L119.7,159.2A2.1,2.1 0 0 1 119.8,159.1L119.8,159.1A2.1,2.1 0 0 1 119.9,159.0L120.0,159.0A2.0,2.0 0 0 1 120.1,158.9L120.1,158.9A2.0,2.0 0 0 1 120.2,158.8L120.2,158.8A1.9,1.9 0 0 1 120.4,158.7L120.4,158.7A1.9,1.9 0 0 1 120.5,158.6L120.6,158.7A1.9,1.9 0 0 1 120.7,158.6L120.7,158.6A1.9,1.9 0 0 1 120.9,158.6L120.9,158.6A1.8,1.8 0 0 1 121.0,158.5L120.8,157.6A2.8,2.8 0 0 1 121.0,157.5L120.6,155.5A4.9,4.9 0 0 1 121.1,155.4L120.9,153.4A7.0,7.0 0 0 1 121.5,153.3Z" fill="#6c64a8"/>
<path d="M121.5,160.3L121.5,152.5A7.8,7.8 0 0 1 122.2,152.5L122.2,152.8A7.5,7.5 0 0 1 122.8,152.9L122.7,153.2A7.2,7.2 0 0 1 123.4,153.4L123.3,153.7A6.8,6.8 0 0 1 123.8,153.9L123.7,154.2A6.5,6.5 0 0 1 124.2,154.4L124.1,154.7A6.2,6.2 0 0 1 124.6,155.0L124.4,155.2A5.9,5.9 0 0 1 124.9,155.5L124.7,155.7A5.6,5.6 0 0 1 125.1,156.0L125.0,156.2A5.4,5.4 0 0 1 125.3,156.5L125.1,156.7A5.1,5.1 0 0 1 125.4,157.0L125.2,157.2A4.9,4.9 0 0 1 125.5,157.5L125.3,157.6A4.6,4.6 0 0 1 125.5,158.0L125.3,158.1A4.4,4.4 0 0 1 125.5,158.4L125.4,158.5A4.3,4.3 0 0 1 125.6,158.8L125.5,158.9A4.2,4.2 0 0 1 125.6,159.2L125.5,159.2A4.1,4.1 0 0 1 125.5,159.6L125.4,159.6A4.0,4.0 0 0 1 125.5,160.0L125.3,160.0A3.9,3.9 0 0 1 125.4,160.3L125.3,160.3A3.8,3.8 0 0 1 125.3,160.6L125.2,160.6A3.7,3.7 0 0 1 125.2,160.9L125.1,160.9A3.7,3.7 0 0 1 125.0,161.2L125.0,161.2A3.6,3.6 0 0 1 124.9,161.5L124.8,161.5A3.5,3.5 0 0 1 124.7,161.8L124.7,161.8A3.5,3.5 0 0 1 124.5,162.0L124.5,162.0A3.4,3.4 0 0 1 124.3,162.3L124.3,162.2A3.4,3.4 0 0 1 124.1,162.5L124.0,162.4A3.3,3.3 0 0 1 123.9,162.7L123.8,162.6A3.3,3.3 0 0 1 123.6,162.8L123.6,162.8A3.2,3.2 0 0 1 123.4,163.0L123.3,162.9A3.2,3.2 0 0 1 123.1,163.1L123.1,163.1A3.2,3.2 0 0 1 122.8,163.2L122.8,163.2A3.1,3.1 0 0 1 122.6,163.3L122.6,163.2A3.1,3.1 0 0 1 122.3,163.3L122.3,163.3A3.1,3.1 0 0 1 122.0,163.3L122.0,163.3A3.0,3.0 0 0 1 121.8,163.3L121.8,163.3A3.0,3.0 0 0 1 121.5,163.3L121.5,163.3A3.0,3.0 0 0 1 121.2,163.3L121.2,163.2A3.0,3.0 0 0 1 121.0,163.2L121.0,163.2A2.9,2.9 0 0 1 120.7,163.1L120.8,163.1A2.9,2.9 0 0 1 120.5,163.0L120.5,163.0A2.9,2.9 0 0 1 120.3,162.9L120.3,162.9A2.8,2.8 0 0 1 120.1,162.7L120.1,162.7A2.8,2.8 0 0 1 119.9,162.6L119.9,162.6A2.8,2.8 0 0 1 119.7,162.4L119.8,162.4A2.7,2.7 0 0 1 119.6,162.2L119.6,162.2A2.7,2.7 0 0 1 119.4,162.0L119.5,162.0A2.7,2.7 0 0 1 119.3,161.8L119.4,161.8A2.6,2.6 0 0 1 119.2,161.6L119.3,161.6A2.6,2.6 0 0 1 119.2,161.4L119.2,161.4A2.5,2.5 0 0 1 119.1,161.2L119.1,161.2A2.5,2.5 0 0 1 119.1,161.0L119.1,160.9A2.5,2.5 0 0 1 119.1,160.7L119.1,160.7A2.5,2.5 0 0 1 119.1,160.5L119.1,160.5A2.4,2.4 0 0 1 119.1,160.3L119.1,160.3A2.4,2.4 0 0 1 119.1,160.1L119.2,160.1A2.3,2.3 0 0 1 119.2,159.9L119.2,159.9A2.3,2.3 0 0 1 119.3,159.7L119.3,159.7A2.2,2.2 0 0 1 119.4,159.5L119.4,159.5A2.2,2.2 0 0 1 119.5,159.4L119.5,159.4A2.2,2.2 0 0 1 119.6,159.2L119.7,159.2A2.1,2.1 0 0 1 119.8,159.1L119.8,159.1A2.1,2.1 0 0 1 119.9,159.0L120.0,159.0A2.0,2.0 0 0 1 120.1,158.9L120.1,158.9A2.0,2.0 0 0 1 120.2,158.8L120.2,158.8A1.9,1.9 0 0 1 120.4,158.7L120.4,158.7A1.9,1.9 0 0 1 120.5,158.6L120.6,158.7A1.9,1.9 0 0 1 120.7,158.6L120.7,158.6A1.9,1.9 0 0 1 120.9,158.6L120.9,158.6A1.8,1.8 0 0 1 121.0,158.5L120.8,157.6A2.8,2.8 0 0 1 121.0,157.5L120.6,155.5A4.9,4.9 0 0 1 121.1,155.4L120.9,153.4A7.0,7.0 0 0 1 121.5,153.3Z" fill="url(#g12)"/>
<path d="M149.3,160.0L149.3,152.6A7.4,7.4 0 0 1 149.9,152.7L149.9,152.9A7.1,7.1 0 0 1 150.5,153.0L150.5,153.2A6.9,6.9 0 0 1 151.1,153.4L151.0,153.6A6.6,6.6 0 0 1 151.6,153.8L151.5,154.0A6.4,6.4 0 0 1 152.0,154.2L151.9,154.4A6.1,6.1 0 0 1 152.4,154.7L152.3,154.9A5.9,5.9 0 0 1 152.7,155.2L152.6,155.3A5.8,5.8 0 0 1 153.0,155.6L152.9,155.7A5.6,5.6 0 0 1 153.2,156.1L153.1,156.2A5.4,5.4 0 0 1 153.4,156.5L153.3,156.6A5.2,5.2 0 0 1 153.6,157.0L153.5,157.1A5.1,5.1 0 0 1 153.7,157.5L153.6,157.5A5.0,5.0 0 0 1 153.8,157.9L153.7,157.9A4.9,4.9 0 0 1 153.9,158.3L153.8,158.4A4.8,4.8 0 0 1 153.9,158.8L153.8,158.8A4.7,4.7 0 0 1 153.9,159.2L153.9,159.2A4.6,4.6 0 0 1 153.9,159.6L153.8,159.6A4.5,4.5 0 0 1 153.8,160.0L153.8,160.0A4.5,4.5 0 0 1 153.8,160.4L153.8,160.4A4.5,4.5 0 0 1 153.7,160.8L153.7,160.8A4.5,4.5 0 0 1 153.6,161.2L153.6,161.2A4.5,4.5 0 0 1 153.5,161.5L153.5,161.5A4.5,4.5 0 0 1 153.4,161.9L153.4,161.9A4.5,4.5 0 0 1 153.2,162.2L153.2,162.2A4.5,4.5 0 0 1 153.0,162.6L153.0,162.6A4.5,4.5 0 0 1 152.7,162.9L152.7,162.9A4.5,4.5 0 0 1 152.5,163.2L152.5,163.2A4.5,4.5 0 0 1 152.2,163.4L152.2,163.4A4.5,4.5 0 0 1 151.9,163.7L151.9,163.7A4.5,4.5 0 0 1 151.6,163.9L151.6,163.9A4.5,4.5 0 0 1 151.2,164.1L151.2,164.1A4.5,4.5 0 0 1 150.8,164.2L150.8,164.2A4.5,4.5 0 0 1 150.5,164.3L150.5,164.3A4.5,4.5 0 0 1 150.1,164.4L150.1,164.4A4.5,4.5 0 0 1 149.7,164.5L149.7,164.5A4.5,4.5 0 0 1 149.3,164.5L149.3,164.5A4.5,4.5 0 0 1 148.9,164.5L148.9,164.4A4.5,4.5 0 0 1 148.5,164.4L148.5,164.3A4.4,4.4 0 0 1 148.2,164.3L148.2,164.2A4.4,4.4 0 0 1 147.8,164.1L147.8,164.1A4.3,4.3 0 0 1 147.5,163.9L147.5,163.9A4.3,4.3 0 0 1 147.1,163.7L147.2,163.7A4.3,4.3 0 0 1 146.8,163.5L146.9,163.5A4.2,4.2 0 0 1 146.6,163.3L146.6,163.2A4.2,4.2 0 0 1 146.3,163.0L146.3,163.0A4.2,4.2 0 0 1 146.1,162.7L146.1,162.7A4.1,4.1 0 0 1 145.9,162.4L146.0,162.3A4.1,4.1 0 0 1 145.8,162.0L145.8,162.0A4.0,4.0 0 0 1 145.6,161.7L145.7,161.7A4.0,4.0 0 0 1 145.5,161.4L145.6,161.4A4.0,4.0 0 0 1 145.5,161.0L145.5,161.0A3.9,3.9 0 0 1 145.4,160.7L145.5,160.7A3.9,3.9 0 0 1 145.4,160.3L145.5,160.3A3.8,3.8 0 0 1 145.5,160.0L145.5,160.0A3.8,3.8 0 0 1 145.6,159.7L145.6,159.7A3.7,3.7 0 0 1 145.7,159.4L145.8,159.4A3.6,3.6 0 0 1 145.8,159.1L145.9,159.1A3.5,3.5 0 0 1 146.0,158.8L146.1,158.8A3.4,3.4 0 0 1 146.2,158.6L146.3,158.6A3.3,3.3 0 0 1 146.4,158.3L146.5,158.4A3.2,3.2 0 0 1 146.7,158.2L146.7,158.2A3.1,3.1 0 0 1 146.9,158.0L147.0,158.0A3.0,3.0 0 0 1 147.1,157.8L147.2,157.9A3.0,3.0 0 0 1 147.4,157.7L147.5,157.8A2.9,2.9 0 0 1 147.7,157.6L147.7,157.7A2.8,2.8 0 0 1 147.9,157.6L147.9,157.7A2.7,2.7 0 0 1 148.2,157.5L148.2,157.6A2.6,2.6 0 0 1 148.4,157.5L148.4,157.6A2.5,2.5 0 0 1 148.6,157.5L148.4,156.8A3.3,3.3 0 0 1 148.7,156.7L148.4,155.1A5.0,5.0 0 0 1 148.9,155.0L148.7,153.4A6.7,6.7 0 0 1 149.3,153.3Z" fill="#b5afdf"/>
<path d="M149.3,160.0L149.3,152.6A7.4,7.4 0 0 1 149.9,152.7L149.9,152.9A7.1,7.1 0 0 1 150.5,153.0L150.5,153.2A6.9,6.9 0 0 1 151.1,153.4Z" fill="#d4d0ec"/>
<path d="M149.3,160.0L151.0,153.6A6.6,6.6 0 0 1 151.6,153.8L151.5,154.0A6.4,6.4 0 0 1 152.0,154.2L151.9,154.4A6.1,6.1 0 0 1 152.4,154.7L152.3,154.9A5.9,5.9 0 0 1 152.7,155.2L152.6,155.3A5.8,5.8 0 0 1 153.0,155.6Z" fill="#d1cdeb"/>
<path d="M149.3,160.0L152.9,155.7A5.6,5.6 0 0 1 153.2,156.1L153.1,156.2A5.4,5.4 0 0 1 153.4,156.5L153.3,156.6A5.2,5.2 0 0 1 153.6,157.0L153.5,157.1A5.1,5.1 0 0 1 153.7,157.5L153.6,157.5A5.0,5.0 0 0 1 153.8,157.9L153.7,157.9A4.9,4.9 0 0 1 153.9,158.3Z" fill="#cecaea"/>
<path d="M149.3,160.0L153.8,158.4A4.8,4.8 0 0 1 153.9,158.8L153.8,158.8A4.7,4.7 0 0 1 153.9,159.2L153.9,159.2A4.6,4.6 0 0 1 153.9,159.6L153.8,159.6A4.5,4.5 0 0 1 153.8,160.0L153.8,160.0A4.5,4.5 0 0 1 153.8,160.4Z" fill="#cbc7e9"/>
<path d="M149.3,160.0L153.8,160.4A4.5,4.5 0 0 1 153.7,160.8L153.7,160.8A4.5,4.5 0 0 1 153.6,161.2L153.6,161.2A4.5,4.5 0 0 1 153.5,161.5L153.5,161.5A4.5,4.5 0 0 1 153.4,161.9L153.4,161.9A4.5,4.5 0 0 1 153.2,162.2Z" fill="#c8c4e8"/>
<path d="M149.3,160.0L153.2,162.2A4.5,4.5 0 0 1 153.0,162.6L153.0,162.6A4.5,4.5 0 0 1 152.7,162.9L152.7,162.9A4.5,4.5 0 0 1 152.5,163.2L152.5,163.2A4.5,4.5 0 0 1 152.2,163.4Z" fill="#bdb8e3"/>
<path d="M149.3,160.0L152.2,163.4A4.5,4.5 0 0 1 151.9,163.7L151.9,163.7A4.5,4.5 0 0 1 151.6,163.9L151.6,163.9A4.5,4.5 0 0 1 151.2,164.1L151.2,164.1A4.5,4.5 0 0 1 150.8,164.2Z" fill="#b2acde"/>
<path d="M149.3,160.0L150.8,164.2A4.5,4.5 0 0 1 150.5,164.3L150.5,164.3A4.5,4.5 0 0 1 150.1,164.4L150.1,164.4A4.5,4.5 0 0 1 149.7,164.5L149.7,164.5A4.5,4.5 0 0 1 149.3,164.5Z" fill="#a7a0d9"/>
<path d="M149.3,160.0L149.3,164.5A4.5,4.5 0 0 1 148.9,164.5L148.9,164.4A4.5,4.5 0 0 1 148.5,164.4L148.5,164.3A4.4,4.4 0 0 1 148.2,164.3L148.2,164.2A4.4,4.4 0 0 1 147.8,164.1L147.8,164.1A4.3,4.3 0 0 1 147.5,163.9L147.5,163.9A4.3,4.3 0 0 1 147.1,163.7Z" fill="#9c94d4"/>
<path d="M149.3,160.0L147.2,163.7A4.3,4.3 0 0 1 146.8,163.5L146.9,163.5A4.2,4.2 0 0 1 146.6,163.3L146.6,163.2A4.2,4.2 0 0 1 146.3,163.0L146.3,163.0A4.2,4.2 0 0 1 146.1,162.7L146.1,162.7A4.1,4.1 0 0 1 145.9,162.4L146.0,162.3A4.1,4.1 0 0 1 145.8,162.0L145.8,162.0A4.0,4.0 0 0 1 145.6,161.7L145.7,161.7A4.0,4.0 0 0 1 145.5,161.4Z" fill="#9890d2"/>
<path d="M149.3,160.0L145.6,161.4A4.0,4.0 0 0 1 145.5,161.0L145.5,161.0A3.9,3.9 0 0 1 145.4,160.7L145.5,160.7A3.9,3.9 0 0 1 145.4,160.3L145.5,160.3A3.8,3.8 0 0 1 145.5,160.0L145.5,160.0A3.8,3.8 0 0 1 145.6,159.7L145.6,159.7A3.7,3.7 0 0 1 145.7,159.4L145.8,159.4A3.6,3.6 0 0 1 145.8,159.1Z" fill="#948cd0"/>
<path d="M149.3,160.0L145.9,159.1A3.5,3.5 0 0 1 146.0,158.8L146.1,158.8A3.4,3.4 0 0 1 146.2,158.6L146.3,158.6A3.3,3.3 0 0 1 146.4,158.3L146.5,158.4A3.2,3.2 0 0 1 146.7,158.2L146.7,158.2A3.1,3.1 0 0 1 146.9,158.0L147.0,158.0A3.0,3.0 0 0 1 147.1,157.8L147.2,157.9A3.0,3.0 0 0 1 147.4,157.7L147.5,157.8A2.9,2.9 0 0 1 147.7,157.6Z" fill="#9088ce"/>
<path d="M149.3,160.0L147.7,157.7A2.8,2.8 0 0 1 147.9,157.6L147.9,157.7A2.7,2.7 0 0 1 148.2,157.5L148.2,157.6A2.6,2.6 0 0 1 148.4,157.5L148.4,157.6A2.5,2.5 0 0 1 148.6,157.5L148.4,156.8A3.3,3.3 0 0 1 148.7,156.7L148.4,155.1A5.0,5.0 0 0 1 148.9,155.0L148.7,153.4A6.7,6.7 0 0 1 149.3,153.3Z" fill="#8c84cc"/>
<path d="M149.3,160.0L149.3,152.6A7.4,7.4 0 0 1 149.9,152.7L149.9,152.9A7.1,7.1 0 0 1 150.5,153.0L150.5,153.2A6.9,6.9 0 0 1 151.1,153.4L151.0,153.6A6.6,6.6 0 0 1 151.6,153.8L151.5,154.0A6.4,6.4 0 0 1 152.0,154.2L151.9,154.4A6.1,6.1 0 0 1 152.4,154.7L152.3,154.9A5.9,5.9 0 0 1 152.7,155.2L152.6,155.3A5.8,5.8 0 0 1 153.0,155.6L152.9,155.7A5.6,5.6 0 0 1 153.2,156.1L153.1,156.2A5.4,5.4 0 0 1 153.4,156.5L153.3,156.6A5.2,5.2 0 0 1 153.6,157.0L153.5,157.1A5.1,5.1 0 0 1 153.7,157.5L153.6,157.5A5.0,5.0 0 0 1 153.8,157.9L153.7,157.9A4.9,4.9 0 0 1 153.9,158.3L153.8,158.4A4.8,4.8 0 0 1 153.9,158.8L153.8,158.8A4.7,4.7 0 0 1 153.9,159.2L153.9,159.2A4.6,4.6 0 0 1 153.9,159.6L153.8,159.6A4.5,4.5 0 0 1 153.8,160.0L153.8,160.0A4.5,4.5 0 0 1 153.8,160.4L153.8,160.4A4.5,4.5 0 0 1 153.7,160.8L153.7,160.8A4.5,4.5 0 0 1 153.6,161.2L153.6,161.2A4.5,4.5 0 0 1 153.5,161.5L153.5,161.5A4.5,4.5 0 0 1 153.4,161.9L153.4,161.9A4.5,4.5 0 0 1 153.2,162.2L153.2,162.2A4.5,4.5 0 0 1 153.0,162.6L153.0,162.6A4.5,4.5 0 0 1 152.7,162.9L152.7,162.9A4.5,4.5 0 0 1 152.5,163.2L152.5,163.2A4.5,4.5 0 0 1 152.2,163.4L152.2,163.4A4.5,4.5 0 0 1 151.9,163.7L151.9,163.7A4.5,4.5 0 0 1 151.6,163.9L151.6,163.9A4.5,4.5 0 0 1 151.2,164.1L151.2,164.1A4.5,4.5 0 0 1 150.8,164.2L150.8,164.2A4.5,4.5 0 0 1 150.5,164.3L150.5,164.3A4.5,4.5 0 0 1 150.1,164.4L150.1,164.4A4.5,4.5 0 0 1 149.7,164.5L149.7,164.5A4.5,4.5 0 0 1 149.3,164.5L149.3,164.5A4.5,4.5 0 0 1 148.9,164.5L148.9,164.4A4.5,4.5 0 0 1 148.5,164.4L148.5,164.3A4.4,4.4 0 0 1 148.2,164.3L148.2,164.2A4.4,4.4 0 0 1 147.8,164.1L147.8,164.1A4.3,4.3 0 0 1 147.5,163.9L147.5,163.9A4.3,4.3 0 0 1 147.1,163.7L147.2,163.7A4.3,4.3 0 0 1 146.8,163.5L146.9,163.5A4.2,4.2 0 0 1 146.6,163.3L146.6,163.2A4.2,4.2 0 0 1 146.3,163.0L146.3,163.0A4.2,4.2 0 0 1 146.1,162.7L146.1,162.7A4.1,4.1 0 0 1 145.9,162.4L146.0,162.3A4.1,4.1 0 0 1 145.8,162.0L145.8,162.0A4.0,4.0 0 0 1 145.6,161.7L145.7,161.7A4.0,4.0 0 0 1 145.5,161.4L145.6,161.4A4.0,4.0 0 0 1 145.5,161.0L145.5,161.0A3.9,3.9 0 0 1 145.4,160.7L145.5,160.7A3.9,3.9 0 0 1 145.4,160.3L145.5,160.3A3.8,3.8 0 0 1 145.5,160.0L145.5,160.0A3.8,3.8 0 0 1 145.6,159.7L145.6,159.7A3.7,3.7 0 0 1 145.7,159.4L145.8,159.4A3.6,3.6 0 0 1 145.8,159.1L145.9,159.1A3.5,3.5 0 0 1 146.0,158.8L146.1,158.8A3.4,3.4 0 0 1 146.2,158.6L146.3,158.6A3.3,3.3 0 0 1 146.4,158.3L146.5,158.4A3.2,3.2 0 0 1 146.7,158.2L146.7,158.2A3.1,3.1 0 0 1 146.9,158.0L147.0,158.0A3.0,3.0 0 0 1 147.1,157.8L147.2,157.9A3.0,3.0 0 0 1 147.4,157.7L147.5,157.8A2.9,2.9 0 0 1 147.7,157.6L147.7,157.7A2.8,2.8 0 0 1 147.9,157.6L147.9,157.7A2.7,2.7 0 0 1 148.2,157.5L148.2,157.6A2.6,2.6 0 0 1 148.4,157.5L148.4,157.6A2.5,2.5 0 0 1 148.6,157.5L148.4,156.8A3.3,3.3 0 0 1 148.7,156.7L148.4,155.1A5.0,5.0 0 0 1 148.9,155.0L148.7,153.4A6.7,6.7 0 0 1 149.3,153.3Z" fill="url(#g13)"/>
<path d="M66.3,193.2L66.3,183.7A9.5,9.5 0 0 1 67.1,183.7L67.1,183.7A9.5,9.5 0 0 1 67.9,183.8L67.8,184.6A8.8,8.8 0 0 1 68.6,184.7L68.3,185.6A7.9,7.9 0 0 1 69.0,185.8L68.8,186.2A7.4,7.4 0 0 1 69.4,186.5L69.3,186.7A7.2,7.2 0 0 1 69.9,187.0L69.8,187.1A7.0,7.0 0 0 1 70.3,187.5L70.2,187.6A6.8,6.8 0 0 1 70.7,188.0L70.5,188.1A6.6,6.6 0 0 1 71.0,188.5L70.8,188.7A6.4,6.4 0 0 1 71.2,189.1L71.1,189.2A6.2,6.2 0 0 1 71.4,189.6L71.3,189.7A6.1,6.1 0 0 1 71.6,190.2L71.4,190.2A5.9,5.9 0 0 1 71.7,190.7L71.5,190.8A5.8,5.8 0 0 1 71.7,191.2L71.5,191.3A5.6,5.6 0 0 1 71.7,191.8L71.5,191.8A5.4,5.4 0 0 1 71.6,192.3L71.5,192.3A5.2,5.2 0 0 1 71.5,192.7L71.4,192.8A5.1,5.1 0 0 1 71.4,193.2L71.4,193.2A5.1,5.1 0 0 1 71.3,193.6L71.4,193.7A5.2,5.2 0 0 1 71.4,194.1L71.5,194.1A5.3,5.3 0 0 1 71.4,194.6L71.5,194.6A5.4,5.4 0 0 1 71.4,195.0L71.5,195.1A5.5,5.5 0 0 1 71.3,195.5L71.4,195.6A5.6,5.6 0 0 1 71.2,196.0L71.3,196.1A5.7,5.7 0 0 1 71.0,196.5L71.1,196.5A5.8,5.8 0 0 1 70.8,196.9L70.9,197.0A5.9,5.9 0 0 1 70.5,197.4L70.6,197.5A6.1,6.1 0 0 1 70.2,197.9L70.3,198.0A6.2,6.2 0 0 1 69.9,198.3L70.0,198.5A6.4,6.4 0 0 1 69.5,198.8L69.6,198.9A6.6,6.6 0 0 1 69.1,199.2L69.2,199.3A6.8,6.8 0 0 1 68.6,199.5L68.7,199.7A6.9,6.9 0 0 1 68.1,199.9L68.1,200.0A7.1,7.1 0 0 1 67.5,200.2L67.6,200.3A7.2,7.2 0 0 1 66.9,200.4L66.9,200.6A7.4,7.4 0 0 1 66.3,200.6L66.3,200.7A7.5,7.5 0 0 1 65.6,200.6L65.7,200.6A7.4,7.4 0 0 1 65.0,200.5L65.0,200.4A7.4,7.4 0 0 1 64.4,200.3L64.4,200.3A7.3,7.3 0 0 1 63.8,200.1L63.8,200.0A7.2,7.2 0 0 1 63.2,199.8L63.3,199.7A7.2,7.2 0 0 1 62.7,199.4L62.7,199.4A7.1,7.1 0 0 1 62.2,199.0L62.2,199.0A7.1,7.1 0 0 1 61.7,198.6L61.8,198.6A7.0,7.0 0 0 1 61.3,198.2L61.4,198.1A6.9,6.9 0 0 1 61.0,197.6L61.1,197.5A6.8,6.8 0 0 1 60.8,197.1L60.9,197.0A6.6,6.6 0 0 1 60.6,196.5L60.7,196.4A6.4,6.4 0 0 1 60.5,195.9L60.6,195.8A6.2,6.2 0 0 1 60.4,195.3L60.6,195.3A6.1,6.1 0 0 1 60.4,194.8L60.6,194.7A5.9,5.9 0 0 1 60.5,194.2L60.6,194.2A5.8,5.8 0 0 1 60.6,193.7L60.7,193.7A5.6,5.6 0 0 1 60.7,193.2L60.9,193.2A5.4,5.4 0 0 1 60.9,192.7L61.2,192.7A5.2,5.2 0 0 1 61.2,192.3L61.4,192.3A4.9,4.9 0 0 1 61.5,191.9L61.7,192.0A4.7,4.7 0 0 1 61.9,191.6L62.1,191.7A4.5,4.5 0 0 1 62.2,191.3L62.4,191.4A4.3,4.3 0 0 1 62.6,191.1L62.8,191.2A4.1,4.1 0 0 1 63.0,190.9L63.2,191.0A3.8,3.8 0 0 1 63.4,190.7L63.5,190.9A3.6,3.6 0 0 1 63.7,190.6L63.9,190.8A3.5,3.5 0 0 1 64.1,190.6L64.1,190.6A3.4,3.4 0 0 1 64.4,190.4L64.4,190.5A3.3,3.3 0 0 1 64.7,190.3L64.7,190.4A3.2,3.2 0 0 1 64.9,190.3L65.0,190.4A3.1,3.1 0 0 1 65.2,190.3L65.3,190.3A3.0,3.0 0 0 1 65.5,190.3L65.2,189.3A4.1,4.1 0 0 1 65.6,189.2L65.2,187.0A6.2,6.2 0 0 1 65.8,187.0L65.6,184.8A8.4,8.4 0 0 1 66.3,184.8Z" fill="#ccbad7"/>
<path d="M66.3,193.2L66.3,183.7A9.5,9.5 0 0 1 67.1,183.7L67.1,183.7A9.5,9.5 0 0 1 67.9,183.8Z" fill="#e07474"/>
<path d="M66.3,193.2L67.8,184.6A8.8,8.8 0 0 1 68.6,184.7L68.3,185.6A7.9,7.9 0 0 1 69.0,185.8Z" fill="#f2caca"/>
<path d="M66.3,193.2L68.8,186.2A7.4,7.4 0 0 1 69.4,186.5L69.3,186.7A7.2,7.2 0 0 1 69.9,187.0L69.8,187.1A7.0,7.0 0 0 1 70.3,187.5Z" fill="#f0ced1"/>
<path d="M66.3,193.2L70.2,187.6A6.8,6.8 0 0 1 70.7,188.0L70.5,188.1A6.6,6.6 0 0 1 71.0,188.5L70.8,188.7A6.4,6.4 0 0 1 71.2,189.1L71.1,189.2A6.2,6.2 0 0 1 71.4,189.6Z" fill="#efd3d8"/>
<path d="M66.3,193.2L71.3,189.7A6.1,6.1 0 0 1 71.6,190.2L71.4,190.2A5.9,5.9 0 0 1 71.7,190.7L71.5,190.8A5.8,5.8 0 0 1 71.7,191.2Z" fill="#eed8df"/>
<path d="M66.3,193.2L71.5,191.3A5.6,5.6 0 0 1 71.7,191.8L71.5,191.8A5.4,5.4 0 0 1 71.6,192.3L71.5,192.3A5.2,5.2 0 0 1 71.5,192.7Z" fill="#ecdce6"/>
<path d="M66.3,193.2L71.4,192.8A5.1,5.1 0 0 1 71.4,193.2L71.4,193.2A5.1,5.1 0 0 1 71.3,193.6L71.4,193.7A5.2,5.2 0 0 1 71.4,194.1Z" fill="#e3d6e6"/>
<path d="M66.3,193.2L71.5,194.1A5.3,5.3 0 0 1 71.4,194.6L71.5,194.6A5.4,5.4 0 0 1 71.4,195.0Z" fill="#dad0e6"/>
<path d="M66.3,193.2L71.5,195.1A5.5,5.5 0 0 1 71.3,195.5L71.4,195.6A5.6,5.6 0 0 1 71.2,196.0L71.3,196.1A5.7,5.7 0 0 1 71.0,196.5Z" fill="#d1cae6"/>
<path d="M66.3,193.2L71.1,196.5A5.8,5.8 0 0 1 70.8,196.9L70.9,197.0A5.9,5.9 0 0 1 70.5,197.4L70.6,197.5A6.1,6.1 0 0 1 70.2,197.9Z" fill="#c8c4e6"/>
<path d="M66.3,193.2L70.3,198.0A6.2,6.2 0 0 1 69.9,198.3L70.0,198.5A6.4,6.4 0 0 1 69.5,198.8L69.6,198.9A6.6,6.6 0 0 1 69.1,199.2L69.2,199.3A6.8,6.8 0 0 1 68.6,199.5L68.7,199.7A6.9,6.9 0 0 1 68.1,199.9Z" fill="#c4c0e4"/>
<path d="M66.3,193.2L68.1,200.0A7.1,7.1 0 0 1 67.5,200.2L67.6,200.3A7.2,7.2 0 0 1 66.9,200.4L66.9,200.6A7.4,7.4 0 0 1 66.3,200.6L66.3,200.7A7.5,7.5 0 0 1 65.6,200.6Z" fill="#c0bce3"/>
<path d="M66.3,193.2L65.7,200.6A7.4,7.4 0 0 1 65.0,200.5L65.0,200.4A7.4,7.4 0 0 1 64.4,200.3L64.4,200.3A7.3,7.3 0 0 1 63.8,200.1L63.8,200.0A7.2,7.2 0 0 1 63.2,199.8L63.3,199.7A7.2,7.2 0 0 1 62.7,199.4Z" fill="#bcb8e2"/>
<path d="M66.3,193.2L62.7,199.4A7.1,7.1 0 0 1 62.2,199.0L62.2,199.0A7.1,7.1 0 0 1 61.7,198.6L61.8,198.6A7.0,7.0 0 0 1 61.3,198.2L61.4,198.1A6.9,6.9 0 0 1 61.0,197.6L61.1,197.5A6.8,6.8 0 0 1 60.8,197.1Z" fill="#b8b4e0"/>
<path d="M66.3,193.2L60.9,197.0A6.6,6.6 0 0 1 60.6,196.5L60.7,196.4A6.4,6.4 0 0 1 60.5,195.9L60.6,195.8A6.2,6.2 0 0 1 60.4,195.3L60.6,195.3A6.1,6.1 0 0 1 60.4,194.8L60.6,194.7A5.9,5.9 0 0 1 60.5,194.2L60.6,194.2A5.8,5.8 0 0 1 60.6,193.7Z" fill="#b5b1de"/>
<path d="M66.3,193.2L60.7,193.7A5.6,5.6 0 0 1 60.7,193.2L60.9,193.2A5.4,5.4 0 0 1 60.9,192.7L61.2,192.7A5.2,5.2 0 0 1 61.2,192.3L61.4,192.3A4.9,4.9 0 0 1 61.5,191.9L61.7,192.0A4.7,4.7 0 0 1 61.9,191.6L62.1,191.7A4.5,4.5 0 0 1 62.2,191.3L62.4,191.4A4.3,4.3 0 0 1 62.6,191.1Z" fill="#b2aedd"/>
<path d="M66.3,193.2L62.8,191.2A4.1,4.1 0 0 1 63.0,190.9L63.2,191.0A3.8,3.8 0 0 1 63.4,190.7L63.5,190.9A3.6,3.6 0 0 1 63.7,190.6L63.9,190.8A3.5,3.5 0 0 1 64.1,190.6L64.1,190.6A3.4,3.4 0 0 1 64.4,190.4L64.4,190.5A3.3,3.3 0 0 1 64.7,190.3Z" fill="#afabdc"/>
<path d="M66.3,193.2L64.7,190.4A3.2,3.2 0 0 1 64.9,190.3L65.0,190.4A3.1,3.1 0 0 1 65.2,190.3L65.3,190.3A3.0,3.0 0 0 1 65.5,190.3L65.2,189.3A4.1,4.1 0 0 1 65.6,189.2L65.2,187.0A6.2,6.2 0 0 1 65.8,187.0L65.6,184.8A8.4,8.4 0 0 1 66.3,184.8Z" fill="#aca8da"/>
<path d="M66.3,193.2L66.3,183.7A9.5,9.5 0 0 1 67.1,183.7L67.1,183.7A9.5,9.5 0 0 1 67.9,183.8L67.8,184.6A8.8,8.8 0 0 1 68.6,184.7L68.3,185.6A7.9,7.9 0 0 1 69.0,185.8L68.8,186.2A7.4,7.4 0 0 1 69.4,186.5L69.3,186.7A7.2,7.2 0 0 1 69.9,187.0L69.8,187.1A7.0,7.0 0 0 1 70.3,187.5L70.2,187.6A6.8,6.8 0 0 1 70.7,188.0L70.5,188.1A6.6,6.6 0 0 1 71.0,188.5L70.8,188.7A6.4,6.4 0 0 1 71.2,189.1L71.1,189.2A6.2,6.2 0 0 1 71.4,189.6L71.3,189.7A6.1,6.1 0 0 1 71.6,190.2L71.4,190.2A5.9,5.9 0 0 1 71.7,190.7L71.5,190.8A5.8,5.8 0 0 1 71.7,191.2L71.5,191.3A5.6,5.6 0 0 1 71.7,191.8L71.5,191.8A5.4,5.4 0 0 1 71.6,192.3L71.5,192.3A5.2,5.2 0 0 1 71.5,192.7L71.4,192.8A5.1,5.1 0 0 1 71.4,193.2L71.4,193.2A5.1,5.1 0 0 1 71.3,193.6L71.4,193.7A5.2,5.2 0 0 1 71.4,194.1L71.5,194.1A5.3,5.3 0 0 1 71.4,194.6L71.5,194.6A5.4,5.4 0 0 1 71.4,195.0L71.5,195.1A5.5,5.5 0 0 1 71.3,195.5L71.4,195.6A5.6,5.6 0 0 1 71.2,196.0L71.3,196.1A5.7,5.7 0 0 1 71.0,196.5L71.1,196.5A5.8,5.8 0 0 1 70.8,196.9L70.9,197.0A5.9,5.9 0 0 1 70.5,197.4L70.6,197.5A6.1,6.1 0 0 1 70.2,197.9L70.3,198.0A6.2,6.2 0 0 1 69.9,198.3L70.0,198.5A6.4,6.4 0 0 1 69.5,198.8L69.6,198.9A6.6,6.6 0 0 1 69.1,199.2L69.2,199.3A6.8,6.8 0 0 1 68.6,199.5L68.7,199.7A6.9,6.9 0 0 1 68.1,199.9L68.1,200.0A7.1,7.1 0 0 1 67.5,200.2L67.6,200.3A7.2,7.2 0 0 1 66.9,200.4L66.9,200.6A7.4,7.4 0 0 1 66.3,200.6L66.3,200.7A7.5,7.5 0 0 1 65.6,200.6L65.7,200.6A7.4,7.4 0 0 1 65.0,200.5L65.0,200.4A7.4,7.4 0 0 1 64.4,200.3L64.4,200.3A7.3,7.3 0 0 1 63.8,200.1L63.8,200.0A7.2,7.2 0 0 1 63.2,199.8L63.3,199.7A7.2,7.2 0 0 1 62.7,199.4L62.7,199.4A7.1,7.1 0 0 1 62.2,199.0L62.2,199.0A7.1,7.1 0 0 1 61.7,198.6L61.8,198.6A7.0,7.0 0 0 1 61.3,198.2L61.4,198.1A6.9,6.9 0 0 1 61.0,197.6L61.1,197.5A6.8,6.8 0 0 1 60.8,197.1L60.9,197.0A6.6,6.6 0 0 1 60.6,196.5L60.7,196.4A6.4,6.4 0 0 1 60.5,195.9L60.6,195.8A6.2,6.2 0 0 1 60.4,195.3L60.6,195.3A6.1,6.1 0 0 1 60.4,194.8L60.6,194.7A5.9,5.9 0 0 1 60.5,194.2L60.6,194.2A5.8,5.8 0 0 1 60.6,193.7L60.7,193.7A5.6,5.6 0 0 1 60.7,193.2L60.9,193.2A5.4,5.4 0 0 1 60.9,192.7L61.2,192.7A5.2,5.2 0 0 1 61.2,192.3L61.4,192.3A4.9,4.9 0 0 1 61.5,191.9L61.7,192.0A4.7,4.7 0 0 1 61.9,191.6L62.1,191.7A4.5,4.5 0 0 1 62.2,191.3L62.4,191.4A4.3,4.3 0 0 1 62.6,191.1L62.8,191.2A4.1,4.1 0 0 1 63.0,190.9L63.2,191.0A3.8,3.8 0 0 1 63.4,190.7L63.5,190.9A3.6,3.6 0 0 1 63.7,190.6L63.9,190.8A3.5,3.5 0 0 1 64.1,190.6L64.1,190.6A3.4,3.4 0 0 1 64.4,190.4L64.4,190.5A3.3,3.3 0 0 1 64.7,190.3L64.7,190.4A3.2,3.2 0 0 1 64.9,190.3L65.0,190.4A3.1,3.1 0 0 1 65.2,190.3L65.3,190.3A3.0,3.0 0 0 1 65.5,190.3L65.2,189.3A4.1,4.1 0 0 1 65.6,189.2L65.2,187.0A6.2,6.2 0 0 1 65.8,187.0L65.6,184.8A8.4,8.4 0 0 1 66.3,184.8Z" fill="url(#g14)"/>
<path d="M94.0,193.0L94.0,182.5A10.5,10.5 0 0 1 94.9,182.5L94.9,182.5A10.5,10.5 0 0 1 95.8,182.7L95.1,186.8A6.3,6.3 0 0 1 95.6,186.9L95.0,189.1A4.0,4.0 0 0 1 95.4,189.2L95.4,189.1A4.1,4.1 0 0 1 95.7,189.3L95.8,189.2A4.2,4.2 0 0 1 96.1,189.4L96.1,189.3A4.3,4.3 0 0 1 96.5,189.5L96.5,189.4A4.4,4.4 0 0 1 96.8,189.6L96.9,189.6A4.5,4.5 0 0 1 97.2,189.8L97.2,189.8A4.5,4.5 0 0 1 97.4,190.1L97.4,190.1A4.5,4.5 0 0 1 97.7,190.4L97.7,190.4A4.5,4.5 0 0 1 97.9,190.8L97.9,190.8A4.5,4.5 0 0 1 98.1,191.1L98.1,191.1A4.5,4.5 0 0 1 98.2,191.5L98.2,191.5A4.5,4.5 0 0 1 98.3,191.8L98.3,191.8A4.5,4.5 0 0 1 98.4,192.2L98.4,192.2A4.5,4.5 0 0 1 98.5,192.6L98.5,192.6A4.5,4.5 0 0 1 98.5,193.0L98.6,193.0A4.6,4.6 0 0 1 98.5,193.4L98.6,193.4A4.7,4.7 0 0 1 98.6,193.8L98.7,193.8A4.8,4.8 0 0 1 98.6,194.2L98.7,194.3A4.9,4.9 0 0 1 98.6,194.7L98.7,194.7A5.0,5.0 0 0 1 98.5,195.1L98.6,195.2A5.1,5.1 0 0 1 98.4,195.6L98.5,195.6A5.2,5.2 0 0 1 98.3,196.0L98.4,196.1A5.3,5.3 0 0 1 98.1,196.4L98.2,196.5A5.4,5.4 0 0 1 97.8,196.8L97.9,196.9A5.5,5.5 0 0 1 97.6,197.2L97.6,197.3A5.6,5.6 0 0 1 97.2,197.6L97.3,197.7A5.7,5.7 0 0 1 96.9,198.0L96.9,198.0A5.8,5.8 0 0 1 96.5,198.3L96.5,198.3A5.9,5.9 0 0 1 96.0,198.5L96.0,198.6A6.0,6.0 0 0 1 95.6,198.8L95.6,198.9A6.1,6.1 0 0 1 95.1,199.0L95.1,199.1A6.2,6.2 0 0 1 94.5,199.1L94.5,199.2A6.3,6.3 0 0 1 94.0,199.3L94.0,199.3A6.3,6.3 0 0 1 93.5,199.3L93.5,199.2A6.2,6.2 0 0 1 92.9,199.2L92.9,199.1A6.2,6.2 0 0 1 92.4,199.0L92.4,199.0A6.2,6.2 0 0 1 91.9,198.8L91.9,198.8A6.2,6.2 0 0 1 91.4,198.6L91.4,198.5A6.1,6.1 0 0 1 90.9,198.3L91.0,198.3A6.1,6.1 0 0 1 90.5,198.0L90.5,198.0A6.0,6.0 0 0 1 90.1,197.6L90.1,197.6A6.0,6.0 0 0 1 89.7,197.3L89.8,197.2A5.9,5.9 0 0 1 89.4,196.8L89.5,196.7A5.8,5.8 0 0 1 89.2,196.3L89.3,196.3A5.7,5.7 0 0 1 89.0,195.9L89.1,195.8A5.6,5.6 0 0 1 88.9,195.4L89.0,195.3A5.5,5.5 0 0 1 88.8,194.9L88.9,194.8A5.4,5.4 0 0 1 88.8,194.4L88.9,194.4A5.3,5.3 0 0 1 88.8,193.9L88.9,193.9A5.2,5.2 0 0 1 88.9,193.5L89.0,193.4A5.1,5.1 0 0 1 88.9,193.0L89.1,193.0A4.9,4.9 0 0 1 89.1,192.6L89.2,192.6A4.8,4.8 0 0 1 89.2,192.2L89.3,192.2A4.7,4.7 0 0 1 89.4,191.8L89.5,191.8A4.6,4.6 0 0 1 89.7,191.4L89.8,191.5A4.5,4.5 0 0 1 89.9,191.1L90.0,191.1A4.4,4.4 0 0 1 90.2,190.8L90.3,190.9A4.3,4.3 0 0 1 90.5,190.5L90.6,190.6A4.2,4.2 0 0 1 90.8,190.3L90.9,190.4A4.1,4.1 0 0 1 91.1,190.1L91.2,190.2A4.0,4.0 0 0 1 91.5,190.0L91.5,190.0A3.9,3.9 0 0 1 91.8,189.8L91.8,189.9A3.8,3.8 0 0 1 92.1,189.7L92.1,189.8A3.7,3.7 0 0 1 92.4,189.6L92.5,189.7A3.6,3.6 0 0 1 92.8,189.6L92.8,189.7A3.5,3.5 0 0 1 93.1,189.6L92.8,188.5A4.7,4.7 0 0 1 93.2,188.4L92.8,186.1A7.0,7.0 0 0 1 93.4,186.0L93.2,183.7A9.3,9.3 0 0 1 94.0,183.7Z" fill="#c6bada"/>
<path d="M94.0,193.0L94.0,182.5A10.5,10.5 0 0 1 94.9,182.5L94.9,182.5A10.5,10.5 0 0 1 95.8,182.7Z" fill="#e89090"/>
<path d="M94.0,193.0L95.1,186.8A6.3,6.3 0 0 1 95.6,186.9L95.0,189.1A4.0,4.0 0 0 1 95.4,189.2Z" fill="#e8e4ec"/>
<path d="M94.0,193.0L95.4,189.1A4.1,4.1 0 0 1 95.7,189.3L95.8,189.2A4.2,4.2 0 0 1 96.1,189.4L96.1,189.3A4.3,4.3 0 0 1 96.5,189.5L96.5,189.4A4.4,4.4 0 0 1 96.8,189.6L96.9,189.6A4.5,4.5 0 0 1 97.2,189.8Z" fill="#e6e4ec"/>
<path d="M94.0,193.0L97.2,189.8A4.5,4.5 0 0 1 97.4,190.1L97.4,190.1A4.5,4.5 0 0 1 97.7,190.4L97.7,190.4A4.5,4.5 0 0 1 97.9,190.8L97.9,190.8A4.5,4.5 0 0 1 98.1,191.1L98.1,191.1A4.5,4.5 0 0 1 98.2,191.5Z" fill="#e5e3ec"/>
<path d="M94.0,193.0L98.2,191.5A4.5,4.5 0 0 1 98.3,191.8L98.3,191.8A4.5,4.5 0 0 1 98.4,192.2L98.4,192.2A4.5,4.5 0 0 1 98.5,192.6L98.5,192.6A4.5,4.5 0 0 1 98.5,193.0L98.6,193.0A4.6,4.6 0 0 1 98.5,193.4Z" fill="#e4e2ec"/>
<path d="M94.0,193.0L98.6,193.4A4.7,4.7 0 0 1 98.6,193.8L98.7,193.8A4.8,4.8 0 0 1 98.6,194.2L98.7,194.3A4.9,4.9 0 0 1 98.6,194.7L98.7,194.7A5.0,5.0 0 0 1 98.5,195.1Z" fill="#e2e2ec"/>
<path d="M94.0,193.0L98.6,195.2A5.1,5.1 0 0 1 98.4,195.6L98.5,195.6A5.2,5.2 0 0 1 98.3,196.0L98.4,196.1A5.3,5.3 0 0 1 98.1,196.4Z" fill="#d8d8ea"/>
<path d="M94.0,193.0L98.2,196.5A5.4,5.4 0 0 1 97.8,196.8L97.9,196.9A5.5,5.5 0 0 1 97.6,197.2Z" fill="#cfcde7"/>
<path d="M94.0,193.0L97.6,197.3A5.6,5.6 0 0 1 97.2,197.6L97.3,197.7A5.7,5.7 0 0 1 96.9,198.0L96.9,198.0A5.8,5.8 0 0 1 96.5,198.3Z" fill="#c6c2e4"/>
<path d="M94.0,193.0L96.5,198.3A5.9,5.9 0 0 1 96.0,198.5L96.0,198.6A6.0,6.0 0 0 1 95.6,198.8L95.6,198.9A6.1,6.1 0 0 1 95.1,199.0L95.1,199.1A6.2,6.2 0 0 1 94.5,199.1L94.5,199.2A6.3,6.3 0 0 1 94.0,199.3L94.0,199.3A6.3,6.3 0 0 1 93.5,199.3Z" fill="#bcb8e2"/>
<path d="M94.0,193.0L93.5,199.2A6.2,6.2 0 0 1 92.9,199.2L92.9,199.1A6.2,6.2 0 0 1 92.4,199.0L92.4,199.0A6.2,6.2 0 0 1 91.9,198.8L91.9,198.8A6.2,6.2 0 0 1 91.4,198.6L91.4,198.5A6.1,6.1 0 0 1 90.9,198.3L91.0,198.3A6.1,6.1 0 0 1 90.5,198.0L90.5,198.0A6.0,6.0 0 0 1 90.1,197.6L90.1,197.6A6.0,6.0 0 0 1 89.7,197.3L89.8,197.2A5.9,5.9 0 0 1 89.4,196.8Z" fill="#b8b4e0"/>
<path d="M94.0,193.0L89.5,196.7A5.8,5.8 0 0 1 89.2,196.3L89.3,196.3A5.7,5.7 0 0 1 89.0,195.9L89.1,195.8A5.6,5.6 0 0 1 88.9,195.4L89.0,195.3A5.5,5.5 0 0 1 88.8,194.9L88.9,194.8A5.4,5.4 0 0 1 88.8,194.4L88.9,194.4A5.3,5.3 0 0 1 88.8,193.9L88.9,193.9A5.2,5.2 0 0 1 88.9,193.5L89.0,193.4A5.1,5.1 0 0 1 88.9,193.0L89.1,193.0A4.9,4.9 0 0 1 89.1,192.6Z" fill="#b3afde"/>
<path d="M94.0,193.0L89.2,192.6A4.8,4.8 0 0 1 89.2,192.2L89.3,192.2A4.7,4.7 0 0 1 89.4,191.8L89.5,191.8A4.6,4.6 0 0 1 89.7,191.4L89.8,191.5A4.5,4.5 0 0 1 89.9,191.1L90.0,191.1A4.4,4.4 0 0 1 90.2,190.8L90.3,190.9A4.3,4.3 0 0 1 90.5,190.5L90.6,190.6A4.2,4.2 0 0 1 90.8,190.3L90.9,190.4A4.1,4.1 0 0 1 91.1,190.1L91.2,190.2A4.0,4.0 0 0 1 91.5,190.0Z" fill="#aeaadc"/>
<path d="M94.0,193.0L91.5,190.0A3.9,3.9 0 0 1 91.8,189.8L91.8,189.9A3.8,3.8 0 0 1 92.1,189.7L92.1,189.8A3.7,3.7 0 0 1 92.4,189.6L92.5,189.7A3.6,3.6 0 0 1 92.8,189.6L92.8,189.7A3.5,3.5 0 0 1 93.1,189.6L92.8,188.5A4.7,4.7 0 0 1 93.2,188.4L92.8,186.1A7.0,7.0 0 0 1 93.4,186.0L93.2,183.7A9.3,9.3 0 0 1 94.0,183.7Z" fill="#aaa6da"/>
<path d="M94.0,193.0L94.0,182.5A10.5,10.5 0 0 1 94.9,182.5L94.9,182.5A10.5,10.5 0 0 1 95.8,182.7L95.1,186.8A6.3,6.3 0 0 1 95.6,186.9L95.0,189.1A4.0,4.0 0 0 1 95.4,189.2L95.4,189.1A4.1,4.1 0 0 1 95.7,189.3L95.8,189.2A4.2,4.2 0 0 1 96.1,189.4L96.1,189.3A4.3,4.3 0 0 1 96.5,189.5L96.5,189.4A4.4,4.4 0 0 1 96.8,189.6L96.9,189.6A4.5,4.5 0 0 1 97.2,189.8L97.2,189.8A4.5,4.5 0 0 1 97.4,190.1L97.4,190.1A4.5,4.5 0 0 1 97.7,190.4L97.7,190.4A4.5,4.5 0 0 1 97.9,190.8L97.9,190.8A4.5,4.5 0 0 1 98.1,191.1L98.1,191.1A4.5,4.5 0 0 1 98.2,191.5L98.2,191.5A4.5,4.5 0 0 1 98.3,191.8L98.3,191.8A4.5,4.5 0 0 1 98.4,192.2L98.4,192.2A4.5,4.5 0 0 1 98.5,192.6L98.5,192.6A4.5,4.5 0 0 1 98.5,193.0L98.6,193.0A4.6,4.6 0 0 1 98.5,193.4L98.6,193.4A4.7,4.7 0 0 1 98.6,193.8L98.7,193.8A4.8,4.8 0 0 1 98.6,194.2L98.7,194.3A4.9,4.9 0 0 1 98.6,194.7L98.7,194.7A5.0,5.0 0 0 1 98.5,195.1L98.6,195.2A5.1,5.1 0 0 1 98.4,195.6L98.5,195.6A5.2,5.2 0 0 1 98.3,196.0L98.4,196.1A5.3,5.3 0 0 1 98.1,196.4L98.2,196.5A5.4,5.4 0 0 1 97.8,196.8L97.9,196.9A5.5,5.5 0 0 1 97.6,197.2L97.6,197.3A5.6,5.6 0 0 1 97.2,197.6L97.3,197.7A5.7,5.7 0 0 1 96.9,198.0L96.9,198.0A5.8,5.8 0 0 1 96.5,198.3L96.5,198.3A5.9,5.9 0 0 1 96.0,198.5L96.0,198.6A6.0,6.0 0 0 1 95.6,198.8L95.6,198.9A6.1,6.1 0 0 1 95.1,199.0L95.1,199.1A6.2,6.2 0 0 1 94.5,199.1L94.5,199.2A6.3,6.3 0 0 1 94.0,199.3L94.0,199.3A6.3,6.3 0 0 1 93.5,199.3L93.5,199.2A6.2,6.2 0 0 1 92.9,199.2L92.9,199.1A6.2,6.2 0 0 1 92.4,199.0L92.4,199.0A6.2,6.2 0 0 1 91.9,198.8L91.9,198.8A6.2,6.2 0 0 1 91.4,198.6L91.4,198.5A6.1,6.1 0 0 1 90.9,198.3L91.0,198.3A6.1,6.1 0 0 1 90.5,198.0L90.5,198.0A6.0,6.0 0 0 1 90.1,197.6L90.1,197.6A6.0,6.0 0 0 1 89.7,197.3L89.8,197.2A5.9,5.9 0 0 1 89.4,196.8L89.5,196.7A5.8,5.8 0 0 1 89.2,196.3L89.3,196.3A5.7,5.7 0 0 1 89.0,195.9L89.1,195.8A5.6,5.6 0 0 1 88.9,195.4L89.0,195.3A5.5,5.5 0 0 1 88.8,194.9L88.9,194.8A5.4,5.4 0 0 1 88.8,194.4L88.9,194.4A5.3,5.3 0 0 1 88.8,193.9L88.9,193.9A5.2,5.2 0 0 1 88.9,193.5L89.0,193.4A5.1,5.1 0 0 1 88.9,193.0L89.1,193.0A4.9,4.9 0 0 1 89.1,192.6L89.2,192.6A4.8,4.8 0 0 1 89.2,192.2L89.3,192.2A4.7,4.7 0 0 1 89.4,191.8L89.5,191.8A4.6,4.6 0 0 1 89.7,191.4L89.8,191.5A4.5,4.5 0 0 1 89.9,191.1L90.0,191.1A4.4,4.4 0 0 1 90.2,190.8L90.3,190.9A4.3,4.3 0 0 1 90.5,190.5L90.6,190.6A4.2,4.2 0 0 1 90.8,190.3L90.9,190.4A4.1,4.1 0 0 1 91.1,190.1L91.2,190.2A4.0,4.0 0 0 1 91.5,190.0L91.5,190.0A3.9,3.9 0 0 1 91.8,189.8L91.8,189.9A3.8,3.8 0 0 1 92.1,189.7L92.1,189.8A3.7,3.7 0 0 1 92.4,189.6L92.5,189.7A3.6,3.6 0 0 1 92.8,189.6L92.8,189.7A3.5,3.5 0 0 1 93.1,189.6L92.8,188.5A4.7,4.7 0 0 1 93.2,188.4L92.8,186.1A7.0,7.0 0 0 1 93.4,186.0L93.2,183.7A9.3,9.3 0 0 1 94.0,183.7Z" fill="url(#g15)"/>
<path d="M121.8,193.5L121.8,183.8A9.7,9.7 0 0 1 122.6,183.8L122.6,183.8A9.7,9.7 0 0 1 123.5,183.9L123.1,186.3A7.3,7.3 0 0 1 123.7,186.4L123.3,187.8A5.9,5.9 0 0 1 123.8,188.0L123.7,188.2A5.6,5.6 0 0 1 124.2,188.4L124.1,188.6A5.4,5.4 0 0 1 124.5,188.8L124.4,189.1A5.1,5.1 0 0 1 124.7,189.3L124.6,189.5A4.9,4.9 0 0 1 124.9,189.8L124.8,190.0A4.6,4.6 0 0 1 125.1,190.2L125.0,190.3A4.5,4.5 0 0 1 125.2,190.6L125.2,190.7A4.4,4.4 0 0 1 125.4,191.0L125.3,191.0A4.3,4.3 0 0 1 125.5,191.3L125.5,191.4A4.2,4.2 0 0 1 125.6,191.7L125.6,191.7A4.2,4.2 0 0 1 125.7,192.1L125.6,192.1A4.1,4.1 0 0 1 125.7,192.4L125.7,192.5A4.0,4.0 0 0 1 125.7,192.8L125.7,192.8A3.9,3.9 0 0 1 125.7,193.2L125.6,193.2A3.8,3.8 0 0 1 125.6,193.5L125.6,193.5A3.8,3.8 0 0 1 125.6,193.8L125.6,193.8A3.8,3.8 0 0 1 125.6,194.2L125.6,194.2A3.9,3.9 0 0 1 125.5,194.5L125.5,194.5A3.9,3.9 0 0 1 125.4,194.8L125.5,194.8A3.9,3.9 0 0 1 125.3,195.1L125.4,195.2A3.9,3.9 0 0 1 125.2,195.5L125.2,195.5A3.9,3.9 0 0 1 125.0,195.8L125.0,195.8A4.0,4.0 0 0 1 124.8,196.0L124.9,196.1A4.0,4.0 0 0 1 124.6,196.3L124.6,196.3A4.0,4.0 0 0 1 124.4,196.6L124.4,196.6A4.1,4.1 0 0 1 124.1,196.8L124.2,196.9A4.1,4.1 0 0 1 123.9,197.1L123.9,197.1A4.2,4.2 0 0 1 123.6,197.3L123.6,197.4A4.2,4.2 0 0 1 123.3,197.5L123.3,197.5A4.3,4.3 0 0 1 122.9,197.7L122.9,197.7A4.4,4.4 0 0 1 122.6,197.8L122.6,197.8A4.4,4.4 0 0 1 122.2,197.9L122.2,198.0A4.5,4.5 0 0 1 121.8,198.0L121.8,198.0A4.5,4.5 0 0 1 121.4,198.0L121.4,197.9A4.5,4.5 0 0 1 121.0,197.9L121.0,197.8A4.4,4.4 0 0 1 120.7,197.8L120.7,197.7A4.4,4.4 0 0 1 120.3,197.6L120.3,197.6A4.3,4.3 0 0 1 120.0,197.4L120.0,197.4A4.3,4.3 0 0 1 119.6,197.2L119.7,197.2A4.3,4.3 0 0 1 119.3,197.0L119.4,197.0A4.2,4.2 0 0 1 119.1,196.8L119.1,196.7A4.2,4.2 0 0 1 118.8,196.5L118.9,196.4A4.2,4.2 0 0 1 118.6,196.2L118.7,196.1A4.1,4.1 0 0 1 118.5,195.8L118.5,195.8A4.0,4.0 0 0 1 118.3,195.5L118.4,195.5A3.9,3.9 0 0 1 118.2,195.2L118.3,195.1A3.9,3.9 0 0 1 118.2,194.8L118.3,194.8A3.8,3.8 0 0 1 118.2,194.5L118.2,194.5A3.7,3.7 0 0 1 118.2,194.1L118.2,194.1A3.6,3.6 0 0 1 118.2,193.8L118.3,193.8A3.5,3.5 0 0 1 118.3,193.5L118.3,193.5A3.5,3.5 0 0 1 118.4,193.2L118.4,193.2A3.4,3.4 0 0 1 118.5,192.9L118.5,192.9A3.3,3.3 0 0 1 118.6,192.6L118.7,192.7A3.2,3.2 0 0 1 118.8,192.4L118.8,192.4A3.1,3.1 0 0 1 118.9,192.2L119.0,192.2A3.1,3.1 0 0 1 119.1,192.0L119.2,192.0A3.0,3.0 0 0 1 119.3,191.8L119.4,191.8A2.9,2.9 0 0 1 119.6,191.6L119.6,191.7A2.8,2.8 0 0 1 119.8,191.5L119.8,191.5A2.8,2.8 0 0 1 120.0,191.4L120.0,191.4A2.7,2.7 0 0 1 120.2,191.3L120.3,191.3A2.7,2.7 0 0 1 120.5,191.2L120.5,191.2A2.6,2.6 0 0 1 120.7,191.1L120.7,191.2A2.6,2.6 0 0 1 120.9,191.1L120.9,191.1A2.5,2.5 0 0 1 121.1,191.1L120.8,189.9A3.7,3.7 0 0 1 121.2,189.9L120.7,187.5A6.1,6.1 0 0 1 121.3,187.4L121.1,185.0A8.5,8.5 0 0 1 121.8,185.0Z" fill="#bdb5d9"/>
<path d="M121.8,193.5L121.8,183.8A9.7,9.7 0 0 1 122.6,183.8L122.6,183.8A9.7,9.7 0 0 1 123.5,183.9Z" fill="#dcbcb4"/>
<path d="M121.8,193.5L123.1,186.3A7.3,7.3 0 0 1 123.7,186.4L123.3,187.8A5.9,5.9 0 0 1 123.8,188.0Z" fill="#e4e2ee"/>
<path d="M121.8,193.5L123.7,188.2A5.6,5.6 0 0 1 124.2,188.4L124.1,188.6A5.4,5.4 0 0 1 124.5,188.8L124.4,189.1A5.1,5.1 0 0 1 124.7,189.3L124.6,189.5A4.9,4.9 0 0 1 124.9,189.8Z" fill="#e2e0ee"/>
<path d="M121.8,193.5L124.8,190.0A4.6,4.6 0 0 1 125.1,190.2L125.0,190.3A4.5,4.5 0 0 1 125.2,190.6L125.2,190.7A4.4,4.4 0 0 1 125.4,191.0L125.3,191.0A4.3,4.3 0 0 1 125.5,191.3Z" fill="#e0deed"/>
<path d="M121.8,193.5L125.5,191.4A4.2,4.2 0 0 1 125.6,191.7L125.6,191.7A4.2,4.2 0 0 1 125.7,192.1L125.6,192.1A4.1,4.1 0 0 1 125.7,192.4L125.7,192.5A4.0,4.0 0 0 1 125.7,192.8Z" fill="#dedcec"/>
<path d="M121.8,193.5L125.7,192.8A3.9,3.9 0 0 1 125.7,193.2L125.6,193.2A3.8,3.8 0 0 1 125.6,193.5L125.6,193.5A3.8,3.8 0 0 1 125.6,193.8L125.6,193.8A3.8,3.8 0 0 1 125.6,194.2Z" fill="#dcdaec"/>
<path d="M121.8,193.5L125.6,194.2A3.9,3.9 0 0 1 125.5,194.5L125.5,194.5A3.9,3.9 0 0 1 125.4,194.8Z" fill="#cfcce8"/>
<path d="M121.8,193.5L125.5,194.8A3.9,3.9 0 0 1 125.3,195.1L125.4,195.2A3.9,3.9 0 0 1 125.2,195.5L125.2,195.5A3.9,3.9 0 0 1 125.0,195.8L125.0,195.8A4.0,4.0 0 0 1 124.8,196.0Z" fill="#c2bee3"/>
<path d="M121.8,193.5L124.9,196.1A4.0,4.0 0 0 1 124.6,196.3L124.6,196.3A4.0,4.0 0 0 1 124.4,196.6Z" fill="#b5b0de"/>
<path d="M121.8,193.5L124.4,196.6A4.1,4.1 0 0 1 124.1,196.8L124.2,196.9A4.1,4.1 0 0 1 123.9,197.1L123.9,197.1A4.2,4.2 0 0 1 123.6,197.3L123.6,197.4A4.2,4.2 0 0 1 123.3,197.5L123.3,197.5A4.3,4.3 0 0 1 122.9,197.7L122.9,197.7A4.4,4.4 0 0 1 122.6,197.8L122.6,197.8A4.4,4.4 0 0 1 122.2,197.9Z" fill="#a8a2da"/>
<path d="M121.8,193.5L122.2,198.0A4.5,4.5 0 0 1 121.8,198.0L121.8,198.0A4.5,4.5 0 0 1 121.4,198.0L121.4,197.9A4.5,4.5 0 0 1 121.0,197.9L121.0,197.8A4.4,4.4 0 0 1 120.7,197.8L120.7,197.7A4.4,4.4 0 0 1 120.3,197.6L120.3,197.6A4.3,4.3 0 0 1 120.0,197.4L120.0,197.4A4.3,4.3 0 0 1 119.6,197.2L119.7,197.2A4.3,4.3 0 0 1 119.3,197.0L119.4,197.0A4.2,4.2 0 0 1 119.1,196.8L119.1,196.7A4.2,4.2 0 0 1 118.8,196.5Z" fill="#a49ed8"/>
<path d="M121.8,193.5L118.9,196.4A4.2,4.2 0 0 1 118.6,196.2L118.7,196.1A4.1,4.1 0 0 1 118.5,195.8L118.5,195.8A4.0,4.0 0 0 1 118.3,195.5L118.4,195.5A3.9,3.9 0 0 1 118.2,195.2L118.3,195.1A3.9,3.9 0 0 1 118.2,194.8L118.3,194.8A3.8,3.8 0 0 1 118.2,194.5L118.2,194.5A3.7,3.7 0 0 1 118.2,194.1L118.2,194.1A3.6,3.6 0 0 1 118.2,193.8L118.3,193.8A3.5,3.5 0 0 1 118.3,193.5Z" fill="#a099d6"/>
<path d="M121.8,193.5L118.3,193.5A3.5,3.5 0 0 1 118.4,193.2L118.4,193.2A3.4,3.4 0 0 1 118.5,192.9L118.5,192.9A3.3,3.3 0 0 1 118.6,192.6L118.7,192.7A3.2,3.2 0 0 1 118.8,192.4L118.8,192.4A3.1,3.1 0 0 1 118.9,192.2L119.0,192.2A3.1,3.1 0 0 1 119.1,192.0L119.2,192.0A3.0,3.0 0 0 1 119.3,191.8L119.4,191.8A2.9,2.9 0 0 1 119.6,191.6L119.6,191.7A2.8,2.8 0 0 1 119.8,191.5L119.8,191.5A2.8,2.8 0 0 1 120.0,191.4Z" fill="#9c94d4"/>
<path d="M121.8,193.5L120.0,191.4A2.7,2.7 0 0 1 120.2,191.3L120.3,191.3A2.7,2.7 0 0 1 120.5,191.2L120.5,191.2A2.6,2.6 0 0 1 120.7,191.1L120.7,191.2A2.6,2.6 0 0 1 120.9,191.1L120.9,191.1A2.5,2.5 0 0 1 121.1,191.1L120.8,189.9A3.7,3.7 0 0 1 121.2,189.9L120.7,187.5A6.1,6.1 0 0 1 121.3,187.4L121.1,185.0A8.5,8.5 0 0 1 121.8,185.0Z" fill="#9890d2"/>
<path d="M121.8,193.5L121.8,183.8A9.7,9.7 0 0 1 122.6,183.8L122.6,183.8A9.7,9.7 0 0 1 123.5,183.9L123.1,186.3A7.3,7.3 0 0 1 123.7,186.4L123.3,187.8A5.9,5.9 0 0 1 123.8,188.0L123.7,188.2A5.6,5.6 0 0 1 124.2,188.4L124.1,188.6A5.4,5.4 0 0 1 124.5,188.8L124.4,189.1A5.1,5.1 0 0 1 124.7,189.3L124.6,189.5A4.9,4.9 0 0 1 124.9,189.8L124.8,190.0A4.6,4.6 0 0 1 125.1,190.2L125.0,190.3A4.5,4.5 0 0 1 125.2,190.6L125.2,190.7A4.4,4.4 0 0 1 125.4,191.0L125.3,191.0A4.3,4.3 0 0 1 125.5,191.3L125.5,191.4A4.2,4.2 0 0 1 125.6,191.7L125.6,191.7A4.2,4.2 0 0 1 125.7,192.1L125.6,192.1A4.1,4.1 0 0 1 125.7,192.4L125.7,192.5A4.0,4.0 0 0 1 125.7,192.8L125.7,192.8A3.9,3.9 0 0 1 125.7,193.2L125.6,193.2A3.8,3.8 0 0 1 125.6,193.5L125.6,193.5A3.8,3.8 0 0 1 125.6,193.8L125.6,193.8A3.8,3.8 0 0 1 125.6,194.2L125.6,194.2A3.9,3.9 0 0 1 125.5,194.5L125.5,194.5A3.9,3.9 0 0 1 125.4,194.8L125.5,194.8A3.9,3.9 0 0 1 125.3,195.1L125.4,195.2A3.9,3.9 0 0 1 125.2,195.5L125.2,195.5A3.9,3.9 0 0 1 125.0,195.8L125.0,195.8A4.0,4.0 0 0 1 124.8,196.0L124.9,196.1A4.0,4.0 0 0 1 124.6,196.3L124.6,196.3A4.0,4.0 0 0 1 124.4,196.6L124.4,196.6A4.1,4.1 0 0 1 124.1,196.8L124.2,196.9A4.1,4.1 0 0 1 123.9,197.1L123.9,197.1A4.2,4.2 0 0 1 123.6,197.3L123.6,197.4A4.2,4.2 0 0 1 123.3,197.5L123.3,197.5A4.3,4.3 0 0 1 122.9,197.7L122.9,197.7A4.4,4.4 0 0 1 122.6,197.8L122.6,197.8A4.4,4.4 0 0 1 122.2,197.9L122.2,198.0A4.5,4.5 0 0 1 121.8,198.0L121.8,198.0A4.5,4.5 0 0 1 121.4,198.0L121.4,197.9A4.5,4.5 0 0 1 121.0,197.9L121.0,197.8A4.4,4.4 0 0 1 120.7,197.8L120.7,197.7A4.4,4.4 0 0 1 120.3,197.6L120.3,197.6A4.3,4.3 0 0 1 120.0,197.4L120.0,197.4A4.3,4.3 0 0 1 119.6,197.2L119.7,197.2A4.3,4.3 0 0 1 119.3,197.0L119.4,197.0A4.2,4.2 0 0 1 119.1,196.8L119.1,196.7A4.2,4.2 0 0 1 118.8,196.5L118.9,196.4A4.2,4.2 0 0 1 118.6,196.2L118.7,196.1A4.1,4.1 0 0 1 118.5,195.8L118.5,195.8A4.0,4.0 0 0 1 118.3,195.5L118.4,195.5A3.9,3.9 0 0 1 118.2,195.2L118.3,195.1A3.9,3.9 0 0 1 118.2,194.8L118.3,194.8A3.8,3.8 0 0 1 118.2,194.5L118.2,194.5A3.7,3.7 0 0 1 118.2,194.1L118.2,194.1A3.6,3.6 0 0 1 118.2,193.8L118.3,193.8A3.5,3.5 0 0 1 118.3,193.5L118.3,193.5A3.5,3.5 0 0 1 118.4,193.2L118.4,193.2A3.4,3.4 0 0 1 118.5,192.9L118.5,192.9A3.3,3.3 0 0 1 118.6,192.6L118.7,192.7A3.2,3.2 0 0 1 118.8,192.4L118.8,192.4A3.1,3.1 0 0 1 118.9,192.2L119.0,192.2A3.1,3.1 0 0 1 119.1,192.0L119.2,192.0A3.0,3.0 0 0 1 119.3,191.8L119.4,191.8A2.9,2.9 0 0 1 119.6,191.6L119.6,191.7A2.8,2.8 0 0 1 119.8,191.5L119.8,191.5A2.8,2.8 0 0 1 120.0,191.4L120.0,191.4A2.7,2.7 0 0 1 120.2,191.3L120.3,191.3A2.7,2.7 0 0 1 120.5,191.2L120.5,191.2A2.6,2.6 0 0 1 120.7,191.1L120.7,191.2A2.6,2.6 0 0 1 120.9,191.1L120.9,191.1A2.5,2.5 0 0 1 121.1,191.1L120.8,189.9A3.7,3.7 0 0 1 121.2,189.9L120.7,187.5A6.1,6.1 0 0 1 121.3,187.4L121.1,185.0A8.5,8.5 0 0 1 121.8,185.0Z" fill="url(#g16)"/>
<path d="M149.5,194.5L149.5,186.8A7.7,7.7 0 0 1 150.2,186.8L150.2,187.1A7.5,7.5 0 0 1 150.8,187.1L150.8,187.4A7.3,7.3 0 0 1 151.4,187.5L151.3,187.7A7.0,7.0 0 0 1 151.9,187.9L151.8,188.1A6.8,6.8 0 0 1 152.4,188.3L152.3,188.5A6.6,6.6 0 0 1 152.8,188.8L152.7,189.0A6.4,6.4 0 0 1 153.2,189.3L153.0,189.5A6.1,6.1 0 0 1 153.4,189.8L153.3,190.0A5.9,5.9 0 0 1 153.7,190.3L153.5,190.5A5.6,5.6 0 0 1 153.8,190.9L153.6,191.0A5.4,5.4 0 0 1 153.9,191.4L153.7,191.6A5.1,5.1 0 0 1 153.9,191.9L153.8,192.0A4.9,4.9 0 0 1 154.0,192.4L153.8,192.5A4.8,4.8 0 0 1 154.0,192.9L153.8,192.9A4.6,4.6 0 0 1 153.9,193.3L153.8,193.4A4.4,4.4 0 0 1 153.8,193.7L153.7,193.8A4.2,4.2 0 0 1 153.7,194.1L153.6,194.1A4.1,4.1 0 0 1 153.6,194.5L153.5,194.5A4.0,4.0 0 0 1 153.5,194.8L153.5,194.8A4.0,4.0 0 0 1 153.4,195.2L153.4,195.2A4.0,4.0 0 0 1 153.4,195.5L153.4,195.5A4.0,4.0 0 0 1 153.3,195.9L153.3,195.9A4.0,4.0 0 0 1 153.1,196.2L153.1,196.2A4.0,4.0 0 0 1 153.0,196.5L153.0,196.5A4.0,4.0 0 0 1 152.8,196.8L152.8,196.8A4.0,4.0 0 0 1 152.6,197.1L152.6,197.1A4.0,4.0 0 0 1 152.3,197.3L152.3,197.3A4.0,4.0 0 0 1 152.1,197.6L152.1,197.6A4.0,4.0 0 0 1 151.8,197.8L151.8,197.8A4.1,4.1 0 0 1 151.5,198.0L151.5,198.0A4.1,4.1 0 0 1 151.2,198.2L151.2,198.2A4.1,4.1 0 0 1 150.9,198.4L150.9,198.4A4.1,4.1 0 0 1 150.6,198.5L150.6,198.5A4.1,4.1 0 0 1 150.2,198.6L150.2,198.6A4.2,4.2 0 0 1 149.9,198.7L149.9,198.7A4.2,4.2 0 0 1 149.5,198.7L149.5,198.7A4.2,4.2 0 0 1 149.1,198.7L149.1,198.7A4.2,4.2 0 0 1 148.8,198.6L148.8,198.6A4.1,4.1 0 0 1 148.4,198.5L148.4,198.5A4.1,4.1 0 0 1 148.1,198.4L148.1,198.4A4.1,4.1 0 0 1 147.8,198.2L147.8,198.2A4.1,4.1 0 0 1 147.5,198.0L147.5,198.0A4.1,4.1 0 0 1 147.2,197.8L147.2,197.8A4.0,4.0 0 0 1 146.9,197.6L146.9,197.6A4.0,4.0 0 0 1 146.7,197.3L146.7,197.3A4.0,4.0 0 0 1 146.4,197.1L146.5,197.0A4.0,4.0 0 0 1 146.3,196.8L146.3,196.8A3.9,3.9 0 0 1 146.1,196.5L146.1,196.5A3.9,3.9 0 0 1 145.9,196.2L146.0,196.1A3.9,3.9 0 0 1 145.8,195.8L145.9,195.8A3.9,3.9 0 0 1 145.8,195.5L145.8,195.5A3.9,3.9 0 0 1 145.7,195.2L145.7,195.2A3.8,3.8 0 0 1 145.7,194.8L145.7,194.8A3.8,3.8 0 0 1 145.7,194.5L145.7,194.5A3.8,3.8 0 0 1 145.7,194.2L145.8,194.2A3.7,3.7 0 0 1 145.8,193.9L145.9,193.9A3.7,3.7 0 0 1 146.0,193.6L146.0,193.6A3.6,3.6 0 0 1 146.1,193.3L146.2,193.3A3.5,3.5 0 0 1 146.3,193.0L146.3,193.0A3.5,3.5 0 0 1 146.5,192.8L146.5,192.8A3.4,3.4 0 0 1 146.7,192.5L146.7,192.6A3.4,3.4 0 0 1 146.9,192.3L147.0,192.4A3.3,3.3 0 0 1 147.1,192.1L147.2,192.2A3.3,3.3 0 0 1 147.4,192.0L147.4,192.0A3.2,3.2 0 0 1 147.7,191.9L147.7,191.9A3.2,3.2 0 0 1 147.9,191.8L147.9,191.8A3.1,3.1 0 0 1 148.2,191.7L148.2,191.7A3.1,3.1 0 0 1 148.4,191.6L148.5,191.7A3.0,3.0 0 0 1 148.7,191.6L148.5,190.8A3.8,3.8 0 0 1 148.8,190.8L148.6,189.2A5.4,5.4 0 0 1 149.0,189.1L148.9,187.5A7.0,7.0 0 0 1 149.5,187.5Z" fill="#b1abde"/>
<path d="M149.5,194.5L149.5,186.8A7.7,7.7 0 0 1 150.2,186.8Z" fill="#d4d0e8"/>
<path d="M149.5,194.5L150.2,187.1A7.5,7.5 0 0 1 150.8,187.1L150.8,187.4A7.3,7.3 0 0 1 151.4,187.5L151.3,187.7A7.0,7.0 0 0 1 151.9,187.9Z" fill="#d2cee7"/>
<path d="M149.5,194.5L151.8,188.1A6.8,6.8 0 0 1 152.4,188.3L152.3,188.5A6.6,6.6 0 0 1 152.8,188.8Z" fill="#cfcbe6"/>
<path d="M149.5,194.5L152.7,189.0A6.4,6.4 0 0 1 153.2,189.3L153.0,189.5A6.1,6.1 0 0 1 153.4,189.8L153.3,190.0A5.9,5.9 0 0 1 153.7,190.3Z" fill="#ccc8e5"/>
<path d="M149.5,194.5L153.5,190.5A5.6,5.6 0 0 1 153.8,190.9L153.6,191.0A5.4,5.4 0 0 1 153.9,191.4L153.7,191.6A5.1,5.1 0 0 1 153.9,191.9Z" fill="#cac6e4"/>
<path d="M149.5,194.5L153.8,192.0A4.9,4.9 0 0 1 154.0,192.4L153.8,192.5A4.8,4.8 0 0 1 154.0,192.9Z" fill="#c0bce2"/>
<path d="M149.5,194.5L153.8,192.9A4.6,4.6 0 0 1 153.9,193.3L153.8,193.4A4.4,4.4 0 0 1 153.8,193.7L153.7,193.8A4.2,4.2 0 0 1 153.7,194.1L153.6,194.1A4.1,4.1 0 0 1 153.6,194.5Z" fill="#b7b2e0"/>
<path d="M149.5,194.5L153.5,194.5A4.0,4.0 0 0 1 153.5,194.8L153.5,194.8A4.0,4.0 0 0 1 153.4,195.2Z" fill="#aea8de"/>
<path d="M149.5,194.5L153.4,195.2A4.0,4.0 0 0 1 153.4,195.5L153.4,195.5A4.0,4.0 0 0 1 153.3,195.9L153.3,195.9A4.0,4.0 0 0 1 153.1,196.2L153.1,196.2A4.0,4.0 0 0 1 153.0,196.5L153.0,196.5A4.0,4.0 0 0 1 152.8,196.8L152.8,196.8A4.0,4.0 0 0 1 152.6,197.1L152.6,197.1A4.0,4.0 0 0 1 152.3,197.3L152.3,197.3A4.0,4.0 0 0 1 152.1,197.6Z" fill="#a49edc"/>
<path d="M149.5,194.5L152.1,197.6A4.0,4.0 0 0 1 151.8,197.8L151.8,197.8A4.1,4.1 0 0 1 151.5,198.0L151.5,198.0A4.1,4.1 0 0 1 151.2,198.2L151.2,198.2A4.1,4.1 0 0 1 150.9,198.4L150.9,198.4A4.1,4.1 0 0 1 150.6,198.5L150.6,198.5A4.1,4.1 0 0 1 150.2,198.6L150.2,198.6A4.2,4.2 0 0 1 149.9,198.7L149.9,198.7A4.2,4.2 0 0 1 149.5,198.7L149.5,198.7A4.2,4.2 0 0 1 149.1,198.7L149.1,198.7A4.2,4.2 0 0 1 148.8,198.6L148.8,198.6A4.1,4.1 0 0 1 148.4,198.5L148.4,198.5A4.1,4.1 0 0 1 148.1,198.4Z" fill="#a09ada"/>
<path d="M149.5,194.5L148.1,198.4A4.1,4.1 0 0 1 147.8,198.2L147.8,198.2A4.1,4.1 0 0 1 147.5,198.0L147.5,198.0A4.1,4.1 0 0 1 147.2,197.8L147.2,197.8A4.0,4.0 0 0 1 146.9,197.6L146.9,197.6A4.0,4.0 0 0 1 146.7,197.3L146.7,197.3A4.0,4.0 0 0 1 146.4,197.1L146.5,197.0A4.0,4.0 0 0 1 146.3,196.8L146.3,196.8A3.9,3.9 0 0 1 146.1,196.5L146.1,196.5A3.9,3.9 0 0 1 145.9,196.2L146.0,196.1A3.9,3.9 0 0 1 145.8,195.8L145.9,195.8A3.9,3.9 0 0 1 145.8,195.5Z" fill="#9c96d8"/>
<path d="M149.5,194.5L145.8,195.5A3.9,3.9 0 0 1 145.7,195.2L145.7,195.2A3.8,3.8 0 0 1 145.7,194.8L145.7,194.8A3.8,3.8 0 0 1 145.7,194.5L145.7,194.5A3.8,3.8 0 0 1 145.7,194.2L145.8,194.2A3.7,3.7 0 0 1 145.8,193.9L145.9,193.9A3.7,3.7 0 0 1 146.0,193.6L146.0,193.6A3.6,3.6 0 0 1 146.1,193.3L146.2,193.3A3.5,3.5 0 0 1 146.3,193.0L146.3,193.0A3.5,3.5 0 0 1 146.5,192.8L146.5,192.8A3.4,3.4 0 0 1 146.7,192.5L146.7,192.6A3.4,3.4 0 0 1 146.9,192.3L147.0,192.4A3.3,3.3 0 0 1 147.1,192.1Z" fill="#9991d6"/>
<path d="M149.5,194.5L147.2,192.2A3.3,3.3 0 0 1 147.4,192.0L147.4,192.0A3.2,3.2 0 0 1 147.7,191.9L147.7,191.9A3.2,3.2 0 0 1 147.9,191.8L147.9,191.8A3.1,3.1 0 0 1 148.2,191.7L148.2,191.7A3.1,3.1 0 0 1 148.4,191.6L148.5,191.7A3.0,3.0 0 0 1 148.7,191.6L148.5,190.8A3.8,3.8 0 0 1 148.8,190.8L148.6,189.2A5.4,5.4 0 0 1 149.0,189.1L148.9,187.5A7.0,7.0 0 0 1 149.5,187.5Z" fill="#958dd4"/>
<path d="M149.5,194.5L149.5,186.8A7.7,7.7 0 0 1 150.2,186.8L150.2,187.1A7.5,7.5 0 0 1 150.8,187.1L150.8,187.4A7.3,7.3 0 0 1 151.4,187.5L151.3,187.7A7.0,7.0 0 0 1 151.9,187.9L151.8,188.1A6.8,6.8 0 0 1 152.4,188.3L152.3,188.5A6.6,6.6 0 0 1 152.8,188.8L152.7,189.0A6.4,6.4 0 0 1 153.2,189.3L153.0,189.5A6.1,6.1 0 0 1 153.4,189.8L153.3,190.0A5.9,5.9 0 0 1 153.7,190.3L153.5,190.5A5.6,5.6 0 0 1 153.8,190.9L153.6,191.0A5.4,5.4 0 0 1 153.9,191.4L153.7,191.6A5.1,5.1 0 0 1 153.9,191.9L153.8,192.0A4.9,4.9 0 0 1 154.0,192.4L153.8,192.5A4.8,4.8 0 0 1 154.0,192.9L153.8,192.9A4.6,4.6 0 0 1 153.9,193.3L153.8,193.4A4.4,4.4 0 0 1 153.8,193.7L153.7,193.8A4.2,4.2 0 0 1 153.7,194.1L153.6,194.1A4.1,4.1 0 0 1 153.6,194.5L153.5,194.5A4.0,4.0 0 0 1 153.5,194.8L153.5,194.8A4.0,4.0 0 0 1 153.4,195.2L153.4,195.2A4.0,4.0 0 0 1 153.4,195.5L153.4,195.5A4.0,4.0 0 0 1 153.3,195.9L153.3,195.9A4.0,4.0 0 0 1 153.1,196.2L153.1,196.2A4.0,4.0 0 0 1 153.0,196.5L153.0,196.5A4.0,4.0 0 0 1 152.8,196.8L152.8,196.8A4.0,4.0 0 0 1 152.6,197.1L152.6,197.1A4.0,4.0 0 0 1 152.3,197.3L152.3,197.3A4.0,4.0 0 0 1 152.1,197.6L152.1,197.6A4.0,4.0 0 0 1 151.8,197.8L151.8,197.8A4.1,4.1 0 0 1 151.5,198.0L151.5,198.0A4.1,4.1 0 0 1 151.2,198.2L151.2,198.2A4.1,4.1 0 0 1 150.9,198.4L150.9,198.4A4.1,4.1 0 0 1 150.6,198.5L150.6,198.5A4.1,4.1 0 0 1 150.2,198.6L150.2,198.6A4.2,4.2 0 0 1 149.9,198.7L149.9,198.7A4.2,4.2 0 0 1 149.5,198.7L149.5,198.7A4.2,4.2 0 0 1 149.1,198.7L149.1,198.7A4.2,4.2 0 0 1 148.8,198.6L148.8,198.6A4.1,4.1 0 0 1 148.4,198.5L148.4,198.5A4.1,4.1 0 0 1 148.1,198.4L148.1,198.4A4.1,4.1 0 0 1 147.8,198.2L147.8,198.2A4.1,4.1 0 0 1 147.5,198.0L147.5,198.0A4.1,4.1 0 0 1 147.2,197.8L147.2,197.8A4.0,4.0 0 0 1 146.9,197.6L146.9,197.6A4.0,4.0 0 0 1 146.7,197.3L146.7,197.3A4.0,4.0 0 0 1 146.4,197.1L146.5,197.0A4.0,4.0 0 0 1 146.3,196.8L146.3,196.8A3.9,3.9 0 0 1 146.1,196.5L146.1,196.5A3.9,3.9 0 0 1 145.9,196.2L146.0,196.1A3.9,3.9 0 0 1 145.8,195.8L145.9,195.8A3.9,3.9 0 0 1 145.8,195.5L145.8,195.5A3.9,3.9 0 0 1 145.7,195.2L145.7,195.2A3.8,3.8 0 0 1 145.7,194.8L145.7,194.8A3.8,3.8 0 0 1 145.7,194.5L145.7,194.5A3.8,3.8 0 0 1 145.7,194.2L145.8,194.2A3.7,3.7 0 0 1 145.8,193.9L145.9,193.9A3.7,3.7 0 0 1 146.0,193.6L146.0,193.6A3.6,3.6 0 0 1 146.1,193.3L146.2,193.3A3.5,3.5 0 0 1 146.3,193.0L146.3,193.0A3.5,3.5 0 0 1 146.5,192.8L146.5,192.8A3.4,3.4 0 0 1 146.7,192.5L146.7,192.6A3.4,3.4 0 0 1 146.9,192.3L147.0,192.4A3.3,3.3 0 0 1 147.1,192.1L147.2,192.2A3.3,3.3 0 0 1 147.4,192.0L147.4,192.0A3.2,3.2 0 0 1 147.7,191.9L147.7,191.9A3.2,3.2 0 0 1 147.9,191.8L147.9,191.8A3.1,3.1 0 0 1 148.2,191.7L148.2,191.7A3.1,3.1 0 0 1 148.4,191.6L148.5,191.7A3.0,3.0 0 0 1 148.7,191.6L148.5,190.8A3.8,3.8 0 0 1 148.8,190.8L148.6,189.2A5.4,5.4 0 0 1 149.0,189.1L148.9,187.5A7.0,7.0 0 0 1 149.5,187.5Z" fill="url(#g17)"/>
<path d="M66.0,227.0L66.0,214.5A12.5,12.5 0 0 1 67.1,214.5L67.1,214.8A12.2,12.2 0 0 1 68.1,215.0L67.6,217.7A9.4,9.4 0 0 1 68.4,217.9L68.1,219.3A8.0,8.0 0 0 1 68.7,219.5L68.7,219.6A7.9,7.9 0 0 1 69.3,219.9L69.3,219.9A7.8,7.8 0 0 1 69.9,220.3L69.9,220.3A7.7,7.7 0 0 1 70.4,220.7L70.4,220.8A7.6,7.6 0 0 1 70.9,221.2L70.8,221.2A7.5,7.5 0 0 1 71.3,221.7L71.3,221.7A7.4,7.4 0 0 1 71.7,222.2L71.6,222.3A7.3,7.3 0 0 1 72.0,222.8L71.9,222.9A7.2,7.2 0 0 1 72.3,223.4L72.2,223.4A7.1,7.1 0 0 1 72.4,224.0L72.3,224.0A7.0,7.0 0 0 1 72.6,224.6L72.5,224.6A6.9,6.9 0 0 1 72.7,225.2L72.5,225.2A6.8,6.8 0 0 1 72.7,225.8L72.6,225.8A6.7,6.7 0 0 1 72.6,226.4L72.5,226.4A6.6,6.6 0 0 1 72.6,227.0L72.6,227.0A6.6,6.6 0 0 1 72.5,227.6L72.6,227.6A6.7,6.7 0 0 1 72.6,228.2L72.7,228.2A6.8,6.8 0 0 1 72.5,228.8L72.7,228.8A6.9,6.9 0 0 1 72.5,229.4L72.6,229.4A7.0,7.0 0 0 1 72.3,230.0L72.4,230.0A7.1,7.1 0 0 1 72.2,230.6L72.3,230.6A7.2,7.2 0 0 1 71.9,231.1L72.0,231.2A7.3,7.3 0 0 1 71.6,231.7L71.7,231.8A7.4,7.4 0 0 1 71.3,232.3L71.4,232.4A7.6,7.6 0 0 1 70.9,232.8L71.0,232.9A7.7,7.7 0 0 1 70.4,233.3L70.5,233.4A7.9,7.9 0 0 1 69.9,233.8L70.0,233.9A8.0,8.0 0 0 1 69.4,234.3L69.4,234.4A8.2,8.2 0 0 1 68.8,234.7L68.8,234.8A8.3,8.3 0 0 1 68.1,235.0L68.2,235.2A8.4,8.4 0 0 1 67.5,235.3L67.5,235.5A8.6,8.6 0 0 1 66.7,235.6L66.8,235.7A8.7,8.7 0 0 1 66.0,235.7L66.0,235.8A8.8,8.8 0 0 1 65.2,235.7L65.2,235.6A8.7,8.7 0 0 1 64.5,235.5L64.5,235.4A8.6,8.6 0 0 1 63.8,235.3L63.8,235.2A8.5,8.5 0 0 1 63.1,235.0L63.1,234.9A8.4,8.4 0 0 1 62.5,234.6L62.5,234.5A8.3,8.3 0 0 1 61.8,234.2L61.9,234.1A8.2,8.2 0 0 1 61.3,233.7L61.3,233.7A8.1,8.1 0 0 1 60.8,233.2L60.8,233.2A8.0,8.0 0 0 1 60.3,232.7L60.4,232.6A7.9,7.9 0 0 1 59.9,232.1L60.1,232.0A7.8,7.8 0 0 1 59.7,231.4L59.8,231.3A7.6,7.6 0 0 1 59.4,230.8L59.6,230.7A7.4,7.4 0 0 1 59.3,230.1L59.4,230.1A7.2,7.2 0 0 1 59.2,229.5L59.3,229.4A7.1,7.1 0 0 1 59.2,228.8L59.3,228.8A6.9,6.9 0 0 1 59.2,228.2L59.4,228.2A6.8,6.8 0 0 1 59.3,227.6L59.4,227.6A6.6,6.6 0 0 1 59.4,227.0L59.6,227.0A6.4,6.4 0 0 1 59.6,226.4L59.7,226.4A6.3,6.3 0 0 1 59.8,225.9L59.9,225.9A6.2,6.2 0 0 1 60.0,225.4L60.1,225.4A6.1,6.1 0 0 1 60.3,224.9L60.4,224.9A6.0,6.0 0 0 1 60.6,224.5L60.7,224.5A5.9,5.9 0 0 1 60.9,224.1L61.0,224.1A5.8,5.8 0 0 1 61.3,223.7L61.4,223.7A5.7,5.7 0 0 1 61.7,223.4L61.7,223.4A5.6,5.6 0 0 1 62.1,223.1L62.1,223.1A5.5,5.5 0 0 1 62.5,222.8L62.5,222.9A5.4,5.4 0 0 1 62.9,222.6L63.0,222.7A5.3,5.3 0 0 1 63.4,222.4L63.4,222.5A5.2,5.2 0 0 1 63.8,222.3L63.8,222.4A5.1,5.1 0 0 1 64.2,222.2L64.3,222.3A5.0,5.0 0 0 1 64.7,222.1L64.4,221.0A6.2,6.2 0 0 1 64.9,220.8L64.5,218.4A8.8,8.8 0 0 1 65.2,218.3L65.0,215.8A11.2,11.2 0 0 1 66.0,215.8Z" fill="#dac9de"/>
<path d="M66.0,227.0L66.0,214.5A12.5,12.5 0 0 1 67.1,214.5Z" fill="#de6868"/>
<path d="M66.0,227.0L67.1,214.8A12.2,12.2 0 0 1 68.1,215.0Z" fill="#e99c9c"/>
<path d="M66.0,227.0L67.6,217.7A9.4,9.4 0 0 1 68.4,217.9L68.1,219.3A8.0,8.0 0 0 1 68.7,219.5Z" fill="#f4d0d0"/>
<path d="M66.0,227.0L68.7,219.6A7.9,7.9 0 0 1 69.3,219.9L69.3,219.9A7.8,7.8 0 0 1 69.9,220.3L69.9,220.3A7.7,7.7 0 0 1 70.4,220.7L70.4,220.8A7.6,7.6 0 0 1 70.9,221.2Z" fill="#f2d4d6"/>
<path d="M66.0,227.0L70.8,221.2A7.5,7.5 0 0 1 71.3,221.7L71.3,221.7A7.4,7.4 0 0 1 71.7,222.2L71.6,222.3A7.3,7.3 0 0 1 72.0,222.8L71.9,222.9A7.2,7.2 0 0 1 72.3,223.4Z" fill="#f1d8dc"/>
<path d="M66.0,227.0L72.2,223.4A7.1,7.1 0 0 1 72.4,224.0L72.3,224.0A7.0,7.0 0 0 1 72.6,224.6L72.5,224.6A6.9,6.9 0 0 1 72.7,225.2L72.5,225.2A6.8,6.8 0 0 1 72.7,225.8Z" fill="#f0dce2"/>
<path d="M66.0,227.0L72.6,225.8A6.7,6.7 0 0 1 72.6,226.4L72.5,226.4A6.6,6.6 0 0 1 72.6,227.0L72.6,227.0A6.6,6.6 0 0 1 72.5,227.6Z" fill="#eee0e8"/>
<path d="M66.0,227.0L72.6,227.6A6.7,6.7 0 0 1 72.6,228.2L72.7,228.2A6.8,6.8 0 0 1 72.5,228.8L72.7,228.8A6.9,6.9 0 0 1 72.5,229.4Z" fill="#e8dce8"/>
<path d="M66.0,227.0L72.6,229.4A7.0,7.0 0 0 1 72.3,230.0L72.4,230.0A7.1,7.1 0 0 1 72.2,230.6Z" fill="#e1d8e9"/>
<path d="M66.0,227.0L72.3,230.6A7.2,7.2 0 0 1 71.9,231.1L72.0,231.2A7.3,7.3 0 0 1 71.6,231.7L71.7,231.8A7.4,7.4 0 0 1 71.3,232.3Z" fill="#dad4ea"/>
<path d="M66.0,227.0L71.4,232.4A7.6,7.6 0 0 1 70.9,232.8L71.0,232.9A7.7,7.7 0 0 1 70.4,233.3L70.5,233.4A7.9,7.9 0 0 1 69.9,233.8L70.0,233.9A8.0,8.0 0 0 1 69.4,234.3L69.4,234.4A8.2,8.2 0 0 1 68.8,234.7L68.8,234.8A8.3,8.3 0 0 1 68.1,235.0Z" fill="#d4d0ea"/>
<path d="M66.0,227.0L68.2,235.2A8.4,8.4 0 0 1 67.5,235.3L67.5,235.5A8.6,8.6 0 0 1 66.7,235.6L66.8,235.7A8.7,8.7 0 0 1 66.0,235.7L66.0,235.8A8.8,8.8 0 0 1 65.2,235.7L65.2,235.6A8.7,8.7 0 0 1 64.5,235.5L64.5,235.4A8.6,8.6 0 0 1 63.8,235.3L63.8,235.2A8.5,8.5 0 0 1 63.1,235.0L63.1,234.9A8.4,8.4 0 0 1 62.5,234.6L62.5,234.5A8.3,8.3 0 0 1 61.8,234.2L61.9,234.1A8.2,8.2 0 0 1 61.3,233.7Z" fill="#d1cde9"/>
<path d="M66.0,227.0L61.3,233.7A8.1,8.1 0 0 1 60.8,233.2L60.8,233.2A8.0,8.0 0 0 1 60.3,232.7L60.4,232.6A7.9,7.9 0 0 1 59.9,232.1L60.1,232.0A7.8,7.8 0 0 1 59.7,231.4L59.8,231.3A7.6,7.6 0 0 1 59.4,230.8L59.6,230.7A7.4,7.4 0 0 1 59.3,230.1L59.4,230.1A7.2,7.2 0 0 1 59.2,229.5L59.3,229.4A7.1,7.1 0 0 1 59.2,228.8L59.3,228.8A6.9,6.9 0 0 1 59.2,228.2L59.4,228.2A6.8,6.8 0 0 1 59.3,227.6L59.4,227.6A6.6,6.6 0 0 1 59.4,227.0Z" fill="#cecae8"/>
<path d="M66.0,227.0L59.6,227.0A6.4,6.4 0 0 1 59.6,226.4L59.7,226.4A6.3,6.3 0 0 1 59.8,225.9L59.9,225.9A6.2,6.2 0 0 1 60.0,225.4L60.1,225.4A6.1,6.1 0 0 1 60.3,224.9L60.4,224.9A6.0,6.0 0 0 1 60.6,224.5L60.7,224.5A5.9,5.9 0 0 1 60.9,224.1L61.0,224.1A5.8,5.8 0 0 1 61.3,223.7L61.4,223.7A5.7,5.7 0 0 1 61.7,223.4L61.7,223.4A5.6,5.6 0 0 1 62.1,223.1L62.1,223.1A5.5,5.5 0 0 1 62.5,222.8Z" fill="#cbc7e7"/>
<path d="M66.0,227.0L62.5,222.9A5.4,5.4 0 0 1 62.9,222.6L63.0,222.7A5.3,5.3 0 0 1 63.4,222.4L63.4,222.5A5.2,5.2 0 0 1 63.8,222.3L63.8,222.4A5.1,5.1 0 0 1 64.2,222.2L64.3,222.3A5.0,5.0 0 0 1 64.7,222.1L64.4,221.0A6.2,6.2 0 0 1 64.9,220.8L64.5,218.4A8.8,8.8 0 0 1 65.2,218.3L65.0,215.8A11.2,11.2 0 0 1 66.0,215.8Z" fill="#c8c4e6"/>
<path d="M66.0,227.0L66.0,214.5A12.5,12.5 0 0 1 67.1,214.5L67.1,214.8A12.2,12.2 0 0 1 68.1,215.0L67.6,217.7A9.4,9.4 0 0 1 68.4,217.9L68.1,219.3A8.0,8.0 0 0 1 68.7,219.5L68.7,219.6A7.9,7.9 0 0 1 69.3,219.9L69.3,219.9A7.8,7.8 0 0 1 69.9,220.3L69.9,220.3A7.7,7.7 0 0 1 70.4,220.7L70.4,220.8A7.6,7.6 0 0 1 70.9,221.2L70.8,221.2A7.5,7.5 0 0 1 71.3,221.7L71.3,221.7A7.4,7.4 0 0 1 71.7,222.2L71.6,222.3A7.3,7.3 0 0 1 72.0,222.8L71.9,222.9A7.2,7.2 0 0 1 72.3,223.4L72.2,223.4A7.1,7.1 0 0 1 72.4,224.0L72.3,224.0A7.0,7.0 0 0 1 72.6,224.6L72.5,224.6A6.9,6.9 0 0 1 72.7,225.2L72.5,225.2A6.8,6.8 0 0 1 72.7,225.8L72.6,225.8A6.7,6.7 0 0 1 72.6,226.4L72.5,226.4A6.6,6.6 0 0 1 72.6,227.0L72.6,227.0A6.6,6.6 0 0 1 72.5,227.6L72.6,227.6A6.7,6.7 0 0 1 72.6,228.2L72.7,228.2A6.8,6.8 0 0 1 72.5,228.8L72.7,228.8A6.9,6.9 0 0 1 72.5,229.4L72.6,229.4A7.0,7.0 0 0 1 72.3,230.0L72.4,230.0A7.1,7.1 0 0 1 72.2,230.6L72.3,230.6A7.2,7.2 0 0 1 71.9,231.1L72.0,231.2A7.3,7.3 0 0 1 71.6,231.7L71.7,231.8A7.4,7.4 0 0 1 71.3,232.3L71.4,232.4A7.6,7.6 0 0 1 70.9,232.8L71.0,232.9A7.7,7.7 0 0 1 70.4,233.3L70.5,233.4A7.9,7.9 0 0 1 69.9,233.8L70.0,233.9A8.0,8.0 0 0 1 69.4,234.3L69.4,234.4A8.2,8.2 0 0 1 68.8,234.7L68.8,234.8A8.3,8.3 0 0 1 68.1,235.0L68.2,235.2A8.4,8.4 0 0 1 67.5,235.3L67.5,235.5A8.6,8.6 0 0 1 66.7,235.6L66.8,235.7A8.7,8.7 0 0 1 66.0,235.7L66.0,235.8A8.8,8.8 0 0 1 65.2,235.7L65.2,235.6A8.7,8.7 0 0 1 64.5,235.5L64.5,235.4A8.6,8.6 0 0 1 63.8,235.3L63.8,235.2A8.5,8.5 0 0 1 63.1,235.0L63.1,234.9A8.4,8.4 0 0 1 62.5,234.6L62.5,234.5A8.3,8.3 0 0 1 61.8,234.2L61.9,234.1A8.2,8.2 0 0 1 61.3,233.7L61.3,233.7A8.1,8.1 0 0 1 60.8,233.2L60.8,233.2A8.0,8.0 0 0 1 60.3,232.7L60.4,232.6A7.9,7.9 0 0 1 59.9,232.1L60.1,232.0A7.8,7.8 0 0 1 59.7,231.4L59.8,231.3A7.6,7.6 0 0 1 59.4,230.8L59.6,230.7A7.4,7.4 0 0 1 59.3,230.1L59.4,230.1A7.2,7.2 0 0 1 59.2,229.5L59.3,229.4A7.1,7.1 0 0 1 59.2,228.8L59.3,228.8A6.9,6.9 0 0 1 59.2,228.2L59.4,228.2A6.8,6.8 0 0 1 59.3,227.6L59.4,227.6A6.6,6.6 0 0 1 59.4,227.0L59.6,227.0A6.4,6.4 0 0 1 59.6,226.4L59.7,226.4A6.3,6.3 0 0 1 59.8,225.9L59.9,225.9A6.2,6.2 0 0 1 60.0,225.4L60.1,225.4A6.1,6.1 0 0 1 60.3,224.9L60.4,224.9A6.0,6.0 0 0 1 60.6,224.5L60.7,224.5A5.9,5.9 0 0 1 60.9,224.1L61.0,224.1A5.8,5.8 0 0 1 61.3,223.7L61.4,223.7A5.7,5.7 0 0 1 61.7,223.4L61.7,223.4A5.6,5.6 0 0 1 62.1,223.1L62.1,223.1A5.5,5.5 0 0 1 62.5,222.8L62.5,222.9A5.4,5.4 0 0 1 62.9,222.6L63.0,222.7A5.3,5.3 0 0 1 63.4,222.4L63.4,222.5A5.2,5.2 0 0 1 63.8,222.3L63.8,222.4A5.1,5.1 0 0 1 64.2,222.2L64.3,222.3A5.0,5.0 0 0 1 64.7,222.1L64.4,221.0A6.2,6.2 0 0 1 64.9,220.8L64.5,218.4A8.8,8.8 0 0 1 65.2,218.3L65.0,215.8A11.2,11.2 0 0 1 66.0,215.8Z" fill="url(#g18)"/>
<path d="M93.5,227.0L93.5,218.3A8.7,8.7 0 0 1 94.3,218.4L94.2,219.0A8.0,8.0 0 0 1 94.9,219.1L94.8,219.8A7.3,7.3 0 0 1 95.4,219.9L95.2,220.6A6.7,6.7 0 0 1 95.8,220.7L95.6,221.4A6.0,6.0 0 0 1 96.0,221.6L95.8,222.2A5.3,5.3 0 0 1 96.2,222.4L96.0,222.7A4.9,4.9 0 0 1 96.3,223.0L96.2,223.1A4.8,4.8 0 0 1 96.6,223.4L96.4,223.5A4.6,4.6 0 0 1 96.7,223.8L96.6,223.9A4.4,4.4 0 0 1 96.9,224.2L96.8,224.3A4.2,4.2 0 0 1 97.0,224.6L96.8,224.7A4.1,4.1 0 0 1 97.0,225.0L96.9,225.0A3.9,3.9 0 0 1 97.0,225.3L96.9,225.4A3.8,3.8 0 0 1 97.0,225.7L96.9,225.8A3.6,3.6 0 0 1 97.0,226.1L96.8,226.1A3.4,3.4 0 0 1 96.9,226.4L96.7,226.4A3.2,3.2 0 0 1 96.7,226.7L96.6,226.7A3.1,3.1 0 0 1 96.6,227.0L96.5,227.0A3.0,3.0 0 0 1 96.5,227.3L96.5,227.3A3.0,3.0 0 0 1 96.5,227.5L96.5,227.5A3.0,3.0 0 0 1 96.4,227.8L96.4,227.8A3.0,3.0 0 0 1 96.3,228.0L96.3,228.0A3.0,3.0 0 0 1 96.2,228.3L96.2,228.3A3.0,3.0 0 0 1 96.1,228.5L96.1,228.5A3.0,3.0 0 0 1 96.0,228.7L96.0,228.7A3.0,3.0 0 0 1 95.8,228.9L95.8,228.9A3.0,3.0 0 0 1 95.6,229.1L95.6,229.1A3.0,3.0 0 0 1 95.4,229.3L95.4,229.2A2.9,2.9 0 0 1 95.2,229.4L95.1,229.3A2.9,2.9 0 0 1 94.9,229.5L94.9,229.4A2.8,2.8 0 0 1 94.7,229.5L94.7,229.5A2.8,2.8 0 0 1 94.4,229.6L94.4,229.5A2.7,2.7 0 0 1 94.2,229.6L94.2,229.5A2.6,2.6 0 0 1 94.0,229.6L93.9,229.5A2.6,2.6 0 0 1 93.7,229.6L93.7,229.5A2.5,2.5 0 0 1 93.5,229.5L93.5,229.4A2.4,2.4 0 0 1 93.3,229.4L93.3,229.3A2.3,2.3 0 0 1 93.1,229.3L93.1,229.2A2.2,2.2 0 0 1 92.9,229.1L93.0,229.0A2.1,2.1 0 0 1 92.8,229.0L92.8,228.9A2.0,2.0 0 0 1 92.7,228.8L92.7,228.7A1.9,1.9 0 0 1 92.6,228.6L92.6,228.5A1.8,1.8 0 0 1 92.5,228.5L92.5,228.4A1.7,1.7 0 0 1 92.4,228.3L92.5,228.2A1.6,1.6 0 0 1 92.4,228.1L92.5,228.0A1.5,1.5 0 0 1 92.4,227.9L92.4,227.9A1.4,1.4 0 0 1 92.3,227.8L92.4,227.8A1.4,1.4 0 0 1 92.3,227.7L92.4,227.7A1.3,1.3 0 0 1 92.3,227.6L92.4,227.5A1.2,1.2 0 0 1 92.3,227.4L92.4,227.4A1.2,1.2 0 0 1 92.3,227.3L92.4,227.3A1.1,1.1 0 0 1 92.4,227.2L92.4,227.2A1.1,1.1 0 0 1 92.4,227.1L92.5,227.1A1.0,1.0 0 0 1 92.5,227.0L92.5,227.0A1.0,1.0 0 0 1 92.5,226.9L92.5,226.9A1.0,1.0 0 0 1 92.5,226.8L92.5,226.8A1.0,1.0 0 0 1 92.5,226.7L92.5,226.7A1.0,1.0 0 0 1 92.6,226.7L92.6,226.7A1.0,1.0 0 0 1 92.6,226.6L92.6,226.6A1.0,1.0 0 0 1 92.6,226.5L92.6,226.5A1.0,1.0 0 0 1 92.7,226.4L92.7,226.4A1.0,1.0 0 0 1 92.7,226.4L92.7,226.4A1.0,1.0 0 0 1 92.8,226.3L92.8,226.3A1.0,1.0 0 0 1 92.9,226.2L92.9,226.2A1.0,1.0 0 0 1 92.9,226.2L92.9,226.2A1.0,1.0 0 0 1 93.0,226.1L93.0,226.1A1.0,1.0 0 0 1 93.1,226.1L93.1,226.1A1.0,1.0 0 0 1 93.2,226.1L93.2,226.1A1.0,1.0 0 0 1 93.2,226.0L92.9,224.7A2.3,2.3 0 0 1 93.1,224.7L92.6,222.1A5.0,5.0 0 0 1 93.1,222.0L92.8,219.4A7.7,7.7 0 0 1 93.5,219.3Z" fill="#b5aacd"/>
<path d="M93.5,227.0L93.5,218.3A8.7,8.7 0 0 1 94.3,218.4L94.2,219.0A8.0,8.0 0 0 1 94.9,219.1Z" fill="#e4d4e4"/>
<path d="M93.5,227.0L94.8,219.8A7.3,7.3 0 0 1 95.4,219.9L95.2,220.6A6.7,6.7 0 0 1 95.8,220.7L95.6,221.4A6.0,6.0 0 0 1 96.0,221.6L95.8,222.2A5.3,5.3 0 0 1 96.2,222.4Z" fill="#e1d3e4"/>
<path d="M93.5,227.0L96.0,222.7A4.9,4.9 0 0 1 96.3,223.0L96.2,223.1A4.8,4.8 0 0 1 96.6,223.4L96.4,223.5A4.6,4.6 0 0 1 96.7,223.8L96.6,223.9A4.4,4.4 0 0 1 96.9,224.2Z" fill="#ded2e5"/>
<path d="M93.5,227.0L96.8,224.3A4.2,4.2 0 0 1 97.0,224.6L96.8,224.7A4.1,4.1 0 0 1 97.0,225.0L96.9,225.0A3.9,3.9 0 0 1 97.0,225.3L96.9,225.4A3.8,3.8 0 0 1 97.0,225.7Z" fill="#dbd1e6"/>
<path d="M93.5,227.0L96.9,225.8A3.6,3.6 0 0 1 97.0,226.1L96.8,226.1A3.4,3.4 0 0 1 96.9,226.4L96.7,226.4A3.2,3.2 0 0 1 96.7,226.7Z" fill="#d8d0e6"/>
<path d="M93.5,227.0L96.6,226.7A3.1,3.1 0 0 1 96.6,227.0L96.5,227.0A3.0,3.0 0 0 1 96.5,227.3L96.5,227.3A3.0,3.0 0 0 1 96.5,227.5Z" fill="#c0b8d8"/>
<path d="M93.5,227.0L96.5,227.5A3.0,3.0 0 0 1 96.4,227.8L96.4,227.8A3.0,3.0 0 0 1 96.3,228.0Z" fill="#a8a0cb"/>
<path d="M93.5,227.0L96.3,228.0A3.0,3.0 0 0 1 96.2,228.3L96.2,228.3A3.0,3.0 0 0 1 96.1,228.5L96.1,228.5A3.0,3.0 0 0 1 96.0,228.7Z" fill="#9088be"/>
<path d="M93.5,227.0L96.0,228.7A3.0,3.0 0 0 1 95.8,228.9L95.8,228.9A3.0,3.0 0 0 1 95.6,229.1L95.6,229.1A3.0,3.0 0 0 1 95.4,229.3Z" fill="#7870b0"/>
<path d="M93.5,227.0L95.4,229.2A2.9,2.9 0 0 1 95.2,229.4L95.1,229.3A2.9,2.9 0 0 1 94.9,229.5L94.9,229.4A2.8,2.8 0 0 1 94.7,229.5Z" fill="#7169aa"/>
<path d="M93.5,227.0L94.7,229.5A2.8,2.8 0 0 1 94.4,229.6L94.4,229.5A2.7,2.7 0 0 1 94.2,229.6L94.2,229.5A2.6,2.6 0 0 1 94.0,229.6L93.9,229.5A2.6,2.6 0 0 1 93.7,229.6Z" fill="#6a62a4"/>
<path d="M93.5,227.0L93.7,229.5A2.5,2.5 0 0 1 93.5,229.5L93.5,229.4A2.4,2.4 0 0 1 93.3,229.4L93.3,229.3A2.3,2.3 0 0 1 93.1,229.3Z" fill="#635b9e"/>
<path d="M93.5,227.0L93.1,229.2A2.2,2.2 0 0 1 92.9,229.1L93.0,229.0A2.1,2.1 0 0 1 92.8,229.0L92.8,228.9A2.0,2.0 0 0 1 92.7,228.8L92.7,228.7A1.9,1.9 0 0 1 92.6,228.6L92.6,228.5A1.8,1.8 0 0 1 92.5,228.5L92.5,228.4A1.7,1.7 0 0 1 92.4,228.3L92.5,228.2A1.6,1.6 0 0 1 92.4,228.1L92.5,228.0A1.5,1.5 0 0 1 92.4,227.9L92.4,227.9A1.4,1.4 0 0 1 92.3,227.8L92.4,227.8A1.4,1.4 0 0 1 92.3,227.7L92.4,227.7A1.3,1.3 0 0 1 92.3,227.6L92.4,227.5A1.2,1.2 0 0 1 92.3,227.4L92.4,227.4A1.2,1.2 0 0 1 92.3,227.3L92.4,227.3A1.1,1.1 0 0 1 92.4,227.2L92.4,227.2A1.1,1.1 0 0 1 92.4,227.1L92.5,227.1A1.0,1.0 0 0 1 92.5,227.0L92.5,227.0A1.0,1.0 0 0 1 92.5,226.9L92.5,226.9A1.0,1.0 0 0 1 92.5,226.8L92.5,226.8A1.0,1.0 0 0 1 92.5,226.7L92.5,226.7A1.0,1.0 0 0 1 92.6,226.7L92.6,226.7A1.0,1.0 0 0 1 92.6,226.6L92.6,226.6A1.0,1.0 0 0 1 92.6,226.5L92.6,226.5A1.0,1.0 0 0 1 92.7,226.4L92.7,226.4A1.0,1.0 0 0 1 92.7,226.4L92.7,226.4A1.0,1.0 0 0 1 92.8,226.3L92.8,226.3A1.0,1.0 0 0 1 92.9,226.2L92.9,226.2A1.0,1.0 0 0 1 92.9,226.2L92.9,226.2A1.0,1.0 0 0 1 93.0,226.1L93.0,226.1A1.0,1.0 0 0 1 93.1,226.1L93.1,226.1A1.0,1.0 0 0 1 93.2,226.1L93.2,226.1A1.0,1.0 0 0 1 93.2,226.0L92.9,224.7A2.3,2.3 0 0 1 93.1,224.7L92.6,222.1A5.0,5.0 0 0 1 93.1,222.0L92.8,219.4A7.7,7.7 0 0 1 93.5,219.3Z" fill="#5c5498"/>
<path d="M93.5,227.0L93.5,218.3A8.7,8.7 0 0 1 94.3,218.4L94.2,219.0A8.0,8.0 0 0 1 94.9,219.1L94.8,219.8A7.3,7.3 0 0 1 95.4,219.9L95.2,220.6A6.7,6.7 0 0 1 95.8,220.7L95.6,221.4A6.0,6.0 0 0 1 96.0,221.6L95.8,222.2A5.3,5.3 0 0 1 96.2,222.4L96.0,222.7A4.9,4.9 0 0 1 96.3,223.0L96.2,223.1A4.8,4.8 0 0 1 96.6,223.4L96.4,223.5A4.6,4.6 0 0 1 96.7,223.8L96.6,223.9A4.4,4.4 0 0 1 96.9,224.2L96.8,224.3A4.2,4.2 0 0 1 97.0,224.6L96.8,224.7A4.1,4.1 0 0 1 97.0,225.0L96.9,225.0A3.9,3.9 0 0 1 97.0,225.3L96.9,225.4A3.8,3.8 0 0 1 97.0,225.7L96.9,225.8A3.6,3.6 0 0 1 97.0,226.1L96.8,226.1A3.4,3.4 0 0 1 96.9,226.4L96.7,226.4A3.2,3.2 0 0 1 96.7,226.7L96.6,226.7A3.1,3.1 0 0 1 96.6,227.0L96.5,227.0A3.0,3.0 0 0 1 96.5,227.3L96.5,227.3A3.0,3.0 0 0 1 96.5,227.5L96.5,227.5A3.0,3.0 0 0 1 96.4,227.8L96.4,227.8A3.0,3.0 0 0 1 96.3,228.0L96.3,228.0A3.0,3.0 0 0 1 96.2,228.3L96.2,228.3A3.0,3.0 0 0 1 96.1,228.5L96.1,228.5A3.0,3.0 0 0 1 96.0,228.7L96.0,228.7A3.0,3.0 0 0 1 95.8,228.9L95.8,228.9A3.0,3.0 0 0 1 95.6,229.1L95.6,229.1A3.0,3.0 0 0 1 95.4,229.3L95.4,229.2A2.9,2.9 0 0 1 95.2,229.4L95.1,229.3A2.9,2.9 0 0 1 94.9,229.5L94.9,229.4A2.8,2.8 0 0 1 94.7,229.5L94.7,229.5A2.8,2.8 0 0 1 94.4,229.6L94.4,229.5A2.7,2.7 0 0 1 94.2,229.6L94.2,229.5A2.6,2.6 0 0 1 94.0,229.6L93.9,229.5A2.6,2.6 0 0 1 93.7,229.6L93.7,229.5A2.5,2.5 0 0 1 93.5,229.5L93.5,229.4A2.4,2.4 0 0 1 93.3,229.4L93.3,229.3A2.3,2.3 0 0 1 93.1,229.3L93.1,229.2A2.2,2.2 0 0 1 92.9,229.1L93.0,229.0A2.1,2.1 0 0 1 92.8,229.0L92.8,228.9A2.0,2.0 0 0 1 92.7,228.8L92.7,228.7A1.9,1.9 0 0 1 92.6,228.6L92.6,228.5A1.8,1.8 0 0 1 92.5,228.5L92.5,228.4A1.7,1.7 0 0 1 92.4,228.3L92.5,228.2A1.6,1.6 0 0 1 92.4,228.1L92.5,228.0A1.5,1.5 0 0 1 92.4,227.9L92.4,227.9A1.4,1.4 0 0 1 92.3,227.8L92.4,227.8A1.4,1.4 0 0 1 92.3,227.7L92.4,227.7A1.3,1.3 0 0 1 92.3,227.6L92.4,227.5A1.2,1.2 0 0 1 92.3,227.4L92.4,227.4A1.2,1.2 0 0 1 92.3,227.3L92.4,227.3A1.1,1.1 0 0 1 92.4,227.2L92.4,227.2A1.1,1.1 0 0 1 92.4,227.1L92.5,227.1A1.0,1.0 0 0 1 92.5,227.0L92.5,227.0A1.0,1.0 0 0 1 92.5,226.9L92.5,226.9A1.0,1.0 0 0 1 92.5,226.8L92.5,226.8A1.0,1.0 0 0 1 92.5,226.7L92.5,226.7A1.0,1.0 0 0 1 92.6,226.7L92.6,226.7A1.0,1.0 0 0 1 92.6,226.6L92.6,226.6A1.0,1.0 0 0 1 92.6,226.5L92.6,226.5A1.0,1.0 0 0 1 92.7,226.4L92.7,226.4A1.0,1.0 0 0 1 92.7,226.4L92.7,226.4A1.0,1.0 0 0 1 92.8,226.3L92.8,226.3A1.0,1.0 0 0 1 92.9,226.2L92.9,226.2A1.0,1.0 0 0 1 92.9,226.2L92.9,226.2A1.0,1.0 0 0 1 93.0,226.1L93.0,226.1A1.0,1.0 0 0 1 93.1,226.1L93.1,226.1A1.0,1.0 0 0 1 93.2,226.1L93.2,226.1A1.0,1.0 0 0 1 93.2,226.0L92.9,224.7A2.3,2.3 0 0 1 93.1,224.7L92.6,222.1A5.0,5.0 0 0 1 93.1,222.0L92.8,219.4A7.7,7.7 0 0 1 93.5,219.3Z" fill="url(#g19)"/>
<path d="M122.0,228.0L122.0,217.5A10.5,10.5 0 0 1 122.9,217.5L122.9,217.5A10.5,10.5 0 0 1 123.8,217.7L123.7,218.3A9.9,9.9 0 0 1 124.6,218.5L124.2,219.7A8.6,8.6 0 0 1 124.9,219.9L124.7,220.6A7.8,7.8 0 0 1 125.3,220.9L125.2,221.2A7.5,7.5 0 0 1 125.8,221.5L125.6,221.7A7.2,7.2 0 0 1 126.2,222.1L126.0,222.3A7.0,7.0 0 0 1 126.5,222.7L126.3,222.9A6.7,6.7 0 0 1 126.7,223.3L126.5,223.5A6.4,6.4 0 0 1 126.9,223.9L126.7,224.0A6.2,6.2 0 0 1 127.1,224.5L126.9,224.6A5.9,5.9 0 0 1 127.1,225.0L127.0,225.1A5.7,5.7 0 0 1 127.2,225.6L127.0,225.7A5.5,5.5 0 0 1 127.2,226.1L127.0,226.2A5.3,5.3 0 0 1 127.1,226.6L126.9,226.7A5.1,5.1 0 0 1 127.0,227.1L126.8,227.2A4.8,4.8 0 0 1 126.8,227.6L126.6,227.6A4.6,4.6 0 0 1 126.6,228.0L126.5,228.0A4.5,4.5 0 0 1 126.5,228.4L126.5,228.4A4.5,4.5 0 0 1 126.4,228.8L126.4,228.8A4.5,4.5 0 0 1 126.3,229.2L126.3,229.2A4.5,4.5 0 0 1 126.2,229.5L126.2,229.5A4.5,4.5 0 0 1 126.1,229.9L126.1,229.9A4.5,4.5 0 0 1 125.9,230.2L125.9,230.2A4.5,4.5 0 0 1 125.7,230.6L125.7,230.6A4.5,4.5 0 0 1 125.4,230.9L125.4,230.9A4.5,4.5 0 0 1 125.2,231.2L125.2,231.2A4.5,4.5 0 0 1 124.9,231.4L124.9,231.4A4.5,4.5 0 0 1 124.6,231.7L124.6,231.7A4.5,4.5 0 0 1 124.2,231.9L124.2,231.9A4.5,4.5 0 0 1 123.9,232.1L123.9,232.1A4.5,4.5 0 0 1 123.5,232.2L123.5,232.2A4.5,4.5 0 0 1 123.2,232.3L123.2,232.3A4.5,4.5 0 0 1 122.8,232.4L122.8,232.4A4.5,4.5 0 0 1 122.4,232.5L122.4,232.5A4.5,4.5 0 0 1 122.0,232.5L122.0,232.5A4.5,4.5 0 0 1 121.6,232.5L121.6,232.4A4.5,4.5 0 0 1 121.2,232.4L121.2,232.4A4.4,4.4 0 0 1 120.8,232.3L120.9,232.3A4.4,4.4 0 0 1 120.5,232.2L120.5,232.1A4.4,4.4 0 0 1 120.1,232.0L120.1,232.0A4.4,4.4 0 0 1 119.8,231.8L119.8,231.8A4.4,4.4 0 0 1 119.5,231.6L119.5,231.5A4.3,4.3 0 0 1 119.2,231.3L119.2,231.3A4.3,4.3 0 0 1 119.0,231.0L119.0,231.0A4.3,4.3 0 0 1 118.7,230.7L118.8,230.7A4.2,4.2 0 0 1 118.5,230.4L118.6,230.4A4.2,4.2 0 0 1 118.4,230.1L118.4,230.1A4.1,4.1 0 0 1 118.3,229.7L118.3,229.7A4.0,4.0 0 0 1 118.2,229.4L118.2,229.4A4.0,4.0 0 0 1 118.1,229.0L118.2,229.0A3.9,3.9 0 0 1 118.1,228.7L118.2,228.7A3.9,3.9 0 0 1 118.1,228.3L118.2,228.3A3.8,3.8 0 0 1 118.2,228.0L118.2,228.0A3.8,3.8 0 0 1 118.3,227.7L118.3,227.7A3.7,3.7 0 0 1 118.4,227.4L118.5,227.4A3.6,3.6 0 0 1 118.5,227.1L118.6,227.1A3.5,3.5 0 0 1 118.7,226.8L118.8,226.8A3.4,3.4 0 0 1 118.9,226.6L119.0,226.6A3.3,3.3 0 0 1 119.1,226.3L119.2,226.4A3.2,3.2 0 0 1 119.4,226.2L119.4,226.2A3.1,3.1 0 0 1 119.6,226.0L119.7,226.0A3.0,3.0 0 0 1 119.8,225.8L119.9,225.9A3.0,3.0 0 0 1 120.1,225.7L120.2,225.8A2.9,2.9 0 0 1 120.4,225.6L120.4,225.7A2.8,2.8 0 0 1 120.6,225.6L120.6,225.7A2.7,2.7 0 0 1 120.9,225.5L120.9,225.6A2.6,2.6 0 0 1 121.1,225.5L121.1,225.6A2.5,2.5 0 0 1 121.3,225.5L121.0,224.3A3.8,3.8 0 0 1 121.3,224.2L120.9,221.6A6.5,6.5 0 0 1 121.4,221.5L121.2,218.9A9.2,9.2 0 0 1 122.0,218.8Z" fill="#c1b9df"/>
<path d="M122.0,228.0L122.0,217.5A10.5,10.5 0 0 1 122.9,217.5L122.9,217.5A10.5,10.5 0 0 1 123.8,217.7Z" fill="#e6c8c8"/>
<path d="M122.0,228.0L123.7,218.3A9.9,9.9 0 0 1 124.6,218.5L124.2,219.7A8.6,8.6 0 0 1 124.9,219.9Z" fill="#e0dcee"/>
<path d="M122.0,228.0L124.7,220.6A7.8,7.8 0 0 1 125.3,220.9L125.2,221.2A7.5,7.5 0 0 1 125.8,221.5L125.6,221.7A7.2,7.2 0 0 1 126.2,222.1L126.0,222.3A7.0,7.0 0 0 1 126.5,222.7L126.3,222.9A6.7,6.7 0 0 1 126.7,223.3Z" fill="#ddd9ee"/>
<path d="M122.0,228.0L126.5,223.5A6.4,6.4 0 0 1 126.9,223.9L126.7,224.0A6.2,6.2 0 0 1 127.1,224.5L126.9,224.6A5.9,5.9 0 0 1 127.1,225.0L127.0,225.1A5.7,5.7 0 0 1 127.2,225.6Z" fill="#dad6ed"/>
<path d="M122.0,228.0L127.0,225.7A5.5,5.5 0 0 1 127.2,226.1L127.0,226.2A5.3,5.3 0 0 1 127.1,226.6L126.9,226.7A5.1,5.1 0 0 1 127.0,227.1L126.8,227.2A4.8,4.8 0 0 1 126.8,227.6L126.6,227.6A4.6,4.6 0 0 1 126.6,228.0Z" fill="#d7d3ec"/>
<path d="M122.0,228.0L126.5,228.0A4.5,4.5 0 0 1 126.5,228.4L126.5,228.4A4.5,4.5 0 0 1 126.4,228.8L126.4,228.8A4.5,4.5 0 0 1 126.3,229.2L126.3,229.2A4.5,4.5 0 0 1 126.2,229.5Z" fill="#d4d0ec"/>
<path d="M122.0,228.0L126.2,229.5A4.5,4.5 0 0 1 126.1,229.9L126.1,229.9A4.5,4.5 0 0 1 125.9,230.2Z" fill="#c8c3e7"/>
<path d="M122.0,228.0L125.9,230.2A4.5,4.5 0 0 1 125.7,230.6L125.7,230.6A4.5,4.5 0 0 1 125.4,230.9L125.4,230.9A4.5,4.5 0 0 1 125.2,231.2L125.2,231.2A4.5,4.5 0 0 1 124.9,231.4Z" fill="#bbb6e2"/>
<path d="M122.0,228.0L124.9,231.4A4.5,4.5 0 0 1 124.6,231.7L124.6,231.7A4.5,4.5 0 0 1 124.2,231.9Z" fill="#aea9dd"/>
<path d="M122.0,228.0L124.2,231.9A4.5,4.5 0 0 1 123.9,232.1L123.9,232.1A4.5,4.5 0 0 1 123.5,232.2L123.5,232.2A4.5,4.5 0 0 1 123.2,232.3L123.2,232.3A4.5,4.5 0 0 1 122.8,232.4L122.8,232.4A4.5,4.5 0 0 1 122.4,232.5L122.4,232.5A4.5,4.5 0 0 1 122.0,232.5L122.0,232.5A4.5,4.5 0 0 1 121.6,232.5Z" fill="#a29cd8"/>
<path d="M122.0,228.0L121.6,232.4A4.5,4.5 0 0 1 121.2,232.4L121.2,232.4A4.4,4.4 0 0 1 120.8,232.3L120.9,232.3A4.4,4.4 0 0 1 120.5,232.2L120.5,232.1A4.4,4.4 0 0 1 120.1,232.0L120.1,232.0A4.4,4.4 0 0 1 119.8,231.8L119.8,231.8A4.4,4.4 0 0 1 119.5,231.6L119.5,231.5A4.3,4.3 0 0 1 119.2,231.3L119.2,231.3A4.3,4.3 0 0 1 119.0,231.0L119.0,231.0A4.3,4.3 0 0 1 118.7,230.7Z" fill="#9e98d6"/>
<path d="M122.0,228.0L118.8,230.7A4.2,4.2 0 0 1 118.5,230.4L118.6,230.4A4.2,4.2 0 0 1 118.4,230.1L118.4,230.1A4.1,4.1 0 0 1 118.3,229.7L118.3,229.7A4.0,4.0 0 0 1 118.2,229.4L118.2,229.4A4.0,4.0 0 0 1 118.1,229.0L118.2,229.0A3.9,3.9 0 0 1 118.1,228.7L118.2,228.7A3.9,3.9 0 0 1 118.1,228.3L118.2,228.3A3.8,3.8 0 0 1 118.2,228.0L118.2,228.0A3.8,3.8 0 0 1 118.3,227.7Z" fill="#9b94d5"/>
<path d="M122.0,228.0L118.3,227.7A3.7,3.7 0 0 1 118.4,227.4L118.5,227.4A3.6,3.6 0 0 1 118.5,227.1L118.6,227.1A3.5,3.5 0 0 1 118.7,226.8L118.8,226.8A3.4,3.4 0 0 1 118.9,226.6L119.0,226.6A3.3,3.3 0 0 1 119.1,226.3L119.2,226.4A3.2,3.2 0 0 1 119.4,226.2L119.4,226.2A3.1,3.1 0 0 1 119.6,226.0L119.7,226.0A3.0,3.0 0 0 1 119.8,225.8L119.9,225.9A3.0,3.0 0 0 1 120.1,225.7Z" fill="#9890d4"/>
<path d="M122.0,228.0L120.2,225.8A2.9,2.9 0 0 1 120.4,225.6L120.4,225.7A2.8,2.8 0 0 1 120.6,225.6L120.6,225.7A2.7,2.7 0 0 1 120.9,225.5L120.9,225.6A2.6,2.6 0 0 1 121.1,225.5L121.1,225.6A2.5,2.5 0 0 1 121.3,225.5L121.0,224.3A3.8,3.8 0 0 1 121.3,224.2L120.9,221.6A6.5,6.5 0 0 1 121.4,221.5L121.2,218.9A9.2,9.2 0 0 1 122.0,218.8Z" fill="#948cd2"/>
<path d="M122.0,228.0L122.0,217.5A10.5,10.5 0 0 1 122.9,217.5L122.9,217.5A10.5,10.5 0 0 1 123.8,217.7L123.7,218.3A9.9,9.9 0 0 1 124.6,218.5L124.2,219.7A8.6,8.6 0 0 1 124.9,219.9L124.7,220.6A7.8,7.8 0 0 1 125.3,220.9L125.2,221.2A7.5,7.5 0 0 1 125.8,221.5L125.6,221.7A7.2,7.2 0 0 1 126.2,222.1L126.0,222.3A7.0,7.0 0 0 1 126.5,222.7L126.3,222.9A6.7,6.7 0 0 1 126.7,223.3L126.5,223.5A6.4,6.4 0 0 1 126.9,223.9L126.7,224.0A6.2,6.2 0 0 1 127.1,224.5L126.9,224.6A5.9,5.9 0 0 1 127.1,225.0L127.0,225.1A5.7,5.7 0 0 1 127.2,225.6L127.0,225.7A5.5,5.5 0 0 1 127.2,226.1L127.0,226.2A5.3,5.3 0 0 1 127.1,226.6L126.9,226.7A5.1,5.1 0 0 1 127.0,227.1L126.8,227.2A4.8,4.8 0 0 1 126.8,227.6L126.6,227.6A4.6,4.6 0 0 1 126.6,228.0L126.5,228.0A4.5,4.5 0 0 1 126.5,228.4L126.5,228.4A4.5,4.5 0 0 1 126.4,228.8L126.4,228.8A4.5,4.5 0 0 1 126.3,229.2L126.3,229.2A4.5,4.5 0 0 1 126.2,229.5L126.2,229.5A4.5,4.5 0 0 1 126.1,229.9L126.1,229.9A4.5,4.5 0 0 1 125.9,230.2L125.9,230.2A4.5,4.5 0 0 1 125.7,230.6L125.7,230.6A4.5,4.5 0 0 1 125.4,230.9L125.4,230.9A4.5,4.5 0 0 1 125.2,231.2L125.2,231.2A4.5,4.5 0 0 1 124.9,231.4L124.9,231.4A4.5,4.5 0 0 1 124.6,231.7L124.6,231.7A4.5,4.5 0 0 1 124.2,231.9L124.2,231.9A4.5,4.5 0 0 1 123.9,232.1L123.9,232.1A4.5,4.5 0 0 1 123.5,232.2L123.5,232.2A4.5,4.5 0 0 1 123.2,232.3L123.2,232.3A4.5,4.5 0 0 1 122.8,232.4L122.8,232.4A4.5,4.5 0 0 1 122.4,232.5L122.4,232.5A4.5,4.5 0 0 1 122.0,232.5L122.0,232.5A4.5,4.5 0 0 1 121.6,232.5L121.6,232.4A4.5,4.5 0 0 1 121.2,232.4L121.2,232.4A4.4,4.4 0 0 1 120.8,232.3L120.9,232.3A4.4,4.4 0 0 1 120.5,232.2L120.5,232.1A4.4,4.4 0 0 1 120.1,232.0L120.1,232.0A4.4,4.4 0 0 1 119.8,231.8L119.8,231.8A4.4,4.4 0 0 1 119.5,231.6L119.5,231.5A4.3,4.3 0 0 1 119.2,231.3L119.2,231.3A4.3,4.3 0 0 1 119.0,231.0L119.0,231.0A4.3,4.3 0 0 1 118.7,230.7L118.8,230.7A4.2,4.2 0 0 1 118.5,230.4L118.6,230.4A4.2,4.2 0 0 1 118.4,230.1L118.4,230.1A4.1,4.1 0 0 1 118.3,229.7L118.3,229.7A4.0,4.0 0 0 1 118.2,229.4L118.2,229.4A4.0,4.0 0 0 1 118.1,229.0L118.2,229.0A3.9,3.9 0 0 1 118.1,228.7L118.2,228.7A3.9,3.9 0 0 1 118.1,228.3L118.2,228.3A3.8,3.8 0 0 1 118.2,228.0L118.2,228.0A3.8,3.8 0 0 1 118.3,227.7L118.3,227.7A3.7,3.7 0 0 1 118.4,227.4L118.5,227.4A3.6,3.6 0 0 1 118.5,227.1L118.6,227.1A3.5,3.5 0 0 1 118.7,226.8L118.8,226.8A3.4,3.4 0 0 1 118.9,226.6L119.0,226.6A3.3,3.3 0 0 1 119.1,226.3L119.2,226.4A3.2,3.2 0 0 1 119.4,226.2L119.4,226.2A3.1,3.1 0 0 1 119.6,226.0L119.7,226.0A3.0,3.0 0 0 1 119.8,225.8L119.9,225.9A3.0,3.0 0 0 1 120.1,225.7L120.2,225.8A2.9,2.9 0 0 1 120.4,225.6L120.4,225.7A2.8,2.8 0 0 1 120.6,225.6L120.6,225.7A2.7,2.7 0 0 1 120.9,225.5L120.9,225.6A2.6,2.6 0 0 1 121.1,225.5L121.1,225.6A2.5,2.5 0 0 1 121.3,225.5L121.0,224.3A3.8,3.8 0 0 1 121.3,224.2L120.9,221.6A6.5,6.5 0 0 1 121.4,221.5L121.2,218.9A9.2,9.2 0 0 1 122.0,218.8Z" fill="url(#g20)"/>
<path d="M149.3,228.0L149.3,219.7A8.3,8.3 0 0 1 150.0,219.7L150.0,220.0A8.0,8.0 0 0 1 150.7,220.1L150.6,220.4A7.7,7.7 0 0 1 151.3,220.6L151.2,220.9A7.3,7.3 0 0 1 151.8,221.1L151.7,221.4A7.0,7.0 0 0 1 152.3,221.7L152.1,222.0A6.7,6.7 0 0 1 152.6,222.2L152.5,222.5A6.4,6.4 0 0 1 153.0,222.8L152.8,223.0A6.1,6.1 0 0 1 153.2,223.3L153.1,223.5A5.9,5.9 0 0 1 153.5,223.8L153.3,224.0A5.6,5.6 0 0 1 153.6,224.4L153.4,224.5A5.4,5.4 0 0 1 153.7,224.9L153.5,225.1A5.1,5.1 0 0 1 153.7,225.4L153.6,225.5A4.9,4.9 0 0 1 153.8,225.9L153.6,226.0A4.8,4.8 0 0 1 153.8,226.4L153.6,226.4A4.6,4.6 0 0 1 153.7,226.8L153.6,226.9A4.4,4.4 0 0 1 153.6,227.2L153.5,227.3A4.2,4.2 0 0 1 153.5,227.6L153.4,227.6A4.1,4.1 0 0 1 153.4,228.0L153.3,228.0A4.0,4.0 0 0 1 153.3,228.3L153.3,228.4A4.0,4.0 0 0 1 153.3,228.7L153.3,228.7A4.1,4.1 0 0 1 153.2,229.0L153.2,229.1A4.1,4.1 0 0 1 153.1,229.4L153.2,229.4A4.1,4.1 0 0 1 153.0,229.7L153.0,229.7A4.1,4.1 0 0 1 152.9,230.1L152.9,230.1A4.1,4.1 0 0 1 152.7,230.4L152.7,230.4A4.2,4.2 0 0 1 152.5,230.7L152.5,230.7A4.2,4.2 0 0 1 152.3,231.0L152.3,231.0A4.2,4.2 0 0 1 152.0,231.2L152.0,231.2A4.2,4.2 0 0 1 151.7,231.4L151.7,231.4A4.2,4.2 0 0 1 151.4,231.6L151.4,231.6A4.2,4.2 0 0 1 151.1,231.8L151.1,231.8A4.2,4.2 0 0 1 150.7,231.9L150.7,231.9A4.2,4.2 0 0 1 150.4,232.1L150.4,232.1A4.2,4.2 0 0 1 150.0,232.1L150.0,232.1A4.2,4.2 0 0 1 149.7,232.2L149.7,232.2A4.2,4.2 0 0 1 149.3,232.2L149.3,232.2A4.2,4.2 0 0 1 148.9,232.2L148.9,232.2A4.2,4.2 0 0 1 148.6,232.1L148.6,232.1A4.1,4.1 0 0 1 148.2,232.0L148.2,232.0A4.1,4.1 0 0 1 147.9,231.9L147.9,231.9A4.1,4.1 0 0 1 147.6,231.7L147.6,231.7A4.1,4.1 0 0 1 147.3,231.5L147.3,231.5A4.1,4.1 0 0 1 147.0,231.3L147.0,231.3A4.0,4.0 0 0 1 146.7,231.1L146.7,231.1A4.0,4.0 0 0 1 146.5,230.8L146.5,230.8A4.0,4.0 0 0 1 146.2,230.6L146.3,230.5A4.0,4.0 0 0 1 146.1,230.3L146.1,230.3A3.9,3.9 0 0 1 145.9,230.0L145.9,230.0A3.9,3.9 0 0 1 145.7,229.7L145.8,229.6A3.9,3.9 0 0 1 145.6,229.3L145.7,229.3A3.9,3.9 0 0 1 145.6,229.0L145.6,229.0A3.9,3.9 0 0 1 145.5,228.7L145.5,228.7A3.8,3.8 0 0 1 145.5,228.3L145.5,228.3A3.8,3.8 0 0 1 145.5,228.0L145.5,228.0A3.8,3.8 0 0 1 145.5,227.7L145.6,227.7A3.7,3.7 0 0 1 145.6,227.4L145.7,227.4A3.7,3.7 0 0 1 145.8,227.1L145.8,227.1A3.6,3.6 0 0 1 145.9,226.8L146.0,226.8A3.5,3.5 0 0 1 146.1,226.5L146.1,226.5A3.5,3.5 0 0 1 146.3,226.3L146.3,226.3A3.4,3.4 0 0 1 146.5,226.0L146.5,226.1A3.4,3.4 0 0 1 146.7,225.8L146.8,225.9A3.3,3.3 0 0 1 146.9,225.6L147.0,225.7A3.3,3.3 0 0 1 147.2,225.5L147.2,225.5A3.2,3.2 0 0 1 147.5,225.4L147.5,225.4A3.2,3.2 0 0 1 147.7,225.3L147.7,225.3A3.1,3.1 0 0 1 148.0,225.2L148.0,225.2A3.1,3.1 0 0 1 148.2,225.1L148.3,225.2A3.0,3.0 0 0 1 148.5,225.1L148.3,224.2A3.9,3.9 0 0 1 148.6,224.1L148.3,222.3A5.8,5.8 0 0 1 148.8,222.3L148.6,220.4A7.6,7.6 0 0 1 149.3,220.4Z" fill="#b1abdd"/>
<path d="M149.3,228.0L149.3,219.7A8.3,8.3 0 0 1 150.0,219.7Z" fill="#d4d0e6"/>
<path d="M149.3,228.0L150.0,220.0A8.0,8.0 0 0 1 150.7,220.1L150.6,220.4A7.7,7.7 0 0 1 151.3,220.6L151.2,220.9A7.3,7.3 0 0 1 151.8,221.1Z" fill="#d2cee6"/>
<path d="M149.3,228.0L151.7,221.4A7.0,7.0 0 0 1 152.3,221.7L152.1,222.0A6.7,6.7 0 0 1 152.6,222.2Z" fill="#d0cce5"/>
<path d="M149.3,228.0L152.5,222.5A6.4,6.4 0 0 1 153.0,222.8L152.8,223.0A6.1,6.1 0 0 1 153.2,223.3L153.1,223.5A5.9,5.9 0 0 1 153.5,223.8Z" fill="#cecae4"/>
<path d="M149.3,228.0L153.3,224.0A5.6,5.6 0 0 1 153.6,224.4L153.4,224.5A5.4,5.4 0 0 1 153.7,224.9L153.5,225.1A5.1,5.1 0 0 1 153.7,225.4Z" fill="#ccc8e4"/>
<path d="M149.3,228.0L153.6,225.5A4.9,4.9 0 0 1 153.8,225.9L153.6,226.0A4.8,4.8 0 0 1 153.8,226.4Z" fill="#c2bee2"/>
<path d="M149.3,228.0L153.6,226.4A4.6,4.6 0 0 1 153.7,226.8L153.6,226.9A4.4,4.4 0 0 1 153.6,227.2L153.5,227.3A4.2,4.2 0 0 1 153.5,227.6L153.4,227.6A4.1,4.1 0 0 1 153.4,228.0Z" fill="#b8b3e0"/>
<path d="M149.3,228.0L153.3,228.0A4.0,4.0 0 0 1 153.3,228.3L153.3,228.4A4.0,4.0 0 0 1 153.3,228.7Z" fill="#aea8de"/>
<path d="M149.3,228.0L153.3,228.7A4.1,4.1 0 0 1 153.2,229.0L153.2,229.1A4.1,4.1 0 0 1 153.1,229.4L153.2,229.4A4.1,4.1 0 0 1 153.0,229.7L153.0,229.7A4.1,4.1 0 0 1 152.9,230.1L152.9,230.1A4.1,4.1 0 0 1 152.7,230.4L152.7,230.4A4.2,4.2 0 0 1 152.5,230.7L152.5,230.7A4.2,4.2 0 0 1 152.3,231.0L152.3,231.0A4.2,4.2 0 0 1 152.0,231.2Z" fill="#a49edc"/>
<path d="M149.3,228.0L152.0,231.2A4.2,4.2 0 0 1 151.7,231.4L151.7,231.4A4.2,4.2 0 0 1 151.4,231.6L151.4,231.6A4.2,4.2 0 0 1 151.1,231.8L151.1,231.8A4.2,4.2 0 0 1 150.7,231.9L150.7,231.9A4.2,4.2 0 0 1 150.4,232.1L150.4,232.1A4.2,4.2 0 0 1 150.0,232.1L150.0,232.1A4.2,4.2 0 0 1 149.7,232.2L149.7,232.2A4.2,4.2 0 0 1 149.3,232.2L149.3,232.2A4.2,4.2 0 0 1 148.9,232.2L148.9,232.2A4.2,4.2 0 0 1 148.6,232.1L148.6,232.1A4.1,4.1 0 0 1 148.2,232.0L148.2,232.0A4.1,4.1 0 0 1 147.9,231.9Z" fill="#a09ada"/>
<path d="M149.3,228.0L147.9,231.9A4.1,4.1 0 0 1 147.6,231.7L147.6,231.7A4.1,4.1 0 0 1 147.3,231.5L147.3,231.5A4.1,4.1 0 0 1 147.0,231.3L147.0,231.3A4.0,4.0 0 0 1 146.7,231.1L146.7,231.1A4.0,4.0 0 0 1 146.5,230.8L146.5,230.8A4.0,4.0 0 0 1 146.2,230.6L146.3,230.5A4.0,4.0 0 0 1 146.1,230.3L146.1,230.3A3.9,3.9 0 0 1 145.9,230.0L145.9,230.0A3.9,3.9 0 0 1 145.7,229.7L145.8,229.6A3.9,3.9 0 0 1 145.6,229.3L145.7,229.3A3.9,3.9 0 0 1 145.6,229.0Z" fill="#9c95d8"/>
<path d="M149.3,228.0L145.6,229.0A3.9,3.9 0 0 1 145.5,228.7L145.5,228.7A3.8,3.8 0 0 1 145.5,228.3L145.5,228.3A3.8,3.8 0 0 1 145.5,228.0L145.5,228.0A3.8,3.8 0 0 1 145.5,227.7L145.6,227.7A3.7,3.7 0 0 1 145.6,227.4L145.7,227.4A3.7,3.7 0 0 1 145.8,227.1L145.8,227.1A3.6,3.6 0 0 1 145.9,226.8L146.0,226.8A3.5,3.5 0 0 1 146.1,226.5L146.1,226.5A3.5,3.5 0 0 1 146.3,226.3L146.3,226.3A3.4,3.4 0 0 1 146.5,226.0L146.5,226.1A3.4,3.4 0 0 1 146.7,225.8L146.8,225.9A3.3,3.3 0 0 1 146.9,225.6Z" fill="#9890d6"/>
<path d="M149.3,228.0L147.0,225.7A3.3,3.3 0 0 1 147.2,225.5L147.2,225.5A3.2,3.2 0 0 1 147.5,225.4L147.5,225.4A3.2,3.2 0 0 1 147.7,225.3L147.7,225.3A3.1,3.1 0 0 1 148.0,225.2L148.0,225.2A3.1,3.1 0 0 1 148.2,225.1L148.3,225.2A3.0,3.0 0 0 1 148.5,225.1L148.3,224.2A3.9,3.9 0 0 1 148.6,224.1L148.3,222.3A5.8,5.8 0 0 1 148.8,222.3L148.6,220.4A7.6,7.6 0 0 1 149.3,220.4Z" fill="#948cd4"/>
<path d="M149.3,228.0L149.3,219.7A8.3,8.3 0 0 1 150.0,219.7L150.0,220.0A8.0,8.0 0 0 1 150.7,220.1L150.6,220.4A7.7,7.7 0 0 1 151.3,220.6L151.2,220.9A7.3,7.3 0 0 1 151.8,221.1L151.7,221.4A7.0,7.0 0 0 1 152.3,221.7L152.1,222.0A6.7,6.7 0 0 1 152.6,222.2L152.5,222.5A6.4,6.4 0 0 1 153.0,222.8L152.8,223.0A6.1,6.1 0 0 1 153.2,223.3L153.1,223.5A5.9,5.9 0 0 1 153.5,223.8L153.3,224.0A5.6,5.6 0 0 1 153.6,224.4L153.4,224.5A5.4,5.4 0 0 1 153.7,224.9L153.5,225.1A5.1,5.1 0 0 1 153.7,225.4L153.6,225.5A4.9,4.9 0 0 1 153.8,225.9L153.6,226.0A4.8,4.8 0 0 1 153.8,226.4L153.6,226.4A4.6,4.6 0 0 1 153.7,226.8L153.6,226.9A4.4,4.4 0 0 1 153.6,227.2L153.5,227.3A4.2,4.2 0 0 1 153.5,227.6L153.4,227.6A4.1,4.1 0 0 1 153.4,228.0L153.3,228.0A4.0,4.0 0 0 1 153.3,228.3L153.3,228.4A4.0,4.0 0 0 1 153.3,228.7L153.3,228.7A4.1,4.1 0 0 1 153.2,229.0L153.2,229.1A4.1,4.1 0 0 1 153.1,229.4L153.2,229.4A4.1,4.1 0 0 1 153.0,229.7L153.0,229.7A4.1,4.1 0 0 1 152.9,230.1L152.9,230.1A4.1,4.1 0 0 1 152.7,230.4L152.7,230.4A4.2,4.2 0 0 1 152.5,230.7L152.5,230.7A4.2,4.2 0 0 1 152.3,231.0L152.3,231.0A4.2,4.2 0 0 1 152.0,231.2L152.0,231.2A4.2,4.2 0 0 1 151.7,231.4L151.7,231.4A4.2,4.2 0 0 1 151.4,231.6L151.4,231.6A4.2,4.2 0 0 1 151.1,231.8L151.1,231.8A4.2,4.2 0 0 1 150.7,231.9L150.7,231.9A4.2,4.2 0 0 1 150.4,232.1L150.4,232.1A4.2,4.2 0 0 1 150.0,232.1L150.0,232.1A4.2,4.2 0 0 1 149.7,232.2L149.7,232.2A4.2,4.2 0 0 1 149.3,232.2L149.3,232.2A4.2,4.2 0 0 1 148.9,232.2L148.9,232.2A4.2,4.2 0 0 1 148.6,232.1L148.6,232.1A4.1,4.1 0 0 1 148.2,232.0L148.2,232.0A4.1,4.1 0 0 1 147.9,231.9L147.9,231.9A4.1,4.1 0 0 1 147.6,231.7L147.6,231.7A4.1,4.1 0 0 1 147.3,231.5L147.3,231.5A4.1,4.1 0 0 1 147.0,231.3L147.0,231.3A4.0,4.0 0 0 1 146.7,231.1L146.7,231.1A4.0,4.0 0 0 1 146.5,230.8L146.5,230.8A4.0,4.0 0 0 1 146.2,230.6L146.3,230.5A4.0,4.0 0 0 1 146.1,230.3L146.1,230.3A3.9,3.9 0 0 1 145.9,230.0L145.9,230.0A3.9,3.9 0 0 1 145.7,229.7L145.8,229.6A3.9,3.9 0 0 1 145.6,229.3L145.7,229.3A3.9,3.9 0 0 1 145.6,229.0L145.6,229.0A3.9,3.9 0 0 1 145.5,228.7L145.5,228.7A3.8,3.8 0 0 1 145.5,228.3L145.5,228.3A3.8,3.8 0 0 1 145.5,228.0L145.5,228.0A3.8,3.8 0 0 1 145.5,227.7L145.6,227.7A3.7,3.7 0 0 1 145.6,227.4L145.7,227.4A3.7,3.7 0 0 1 145.8,227.1L145.8,227.1A3.6,3.6 0 0 1 145.9,226.8L146.0,226.8A3.5,3.5 0 0 1 146.1,226.5L146.1,226.5A3.5,3.5 0 0 1 146.3,226.3L146.3,226.3A3.4,3.4 0 0 1 146.5,226.0L146.5,226.1A3.4,3.4 0 0 1 146.7,225.8L146.8,225.9A3.3,3.3 0 0 1 146.9,225.6L147.0,225.7A3.3,3.3 0 0 1 147.2,225.5L147.2,225.5A3.2,3.2 0 0 1 147.5,225.4L147.5,225.4A3.2,3.2 0 0 1 147.7,225.3L147.7,225.3A3.1,3.1 0 0 1 148.0,225.2L148.0,225.2A3.1,3.1 0 0 1 148.2,225.1L148.3,225.2A3.0,3.0 0 0 1 148.5,225.1L148.3,224.2A3.9,3.9 0 0 1 148.6,224.1L148.3,222.3A5.8,5.8 0 0 1 148.8,222.3L148.6,220.4A7.6,7.6 0 0 1 149.3,220.4Z" fill="url(#g21)"/>
</svg>
</body></html>
